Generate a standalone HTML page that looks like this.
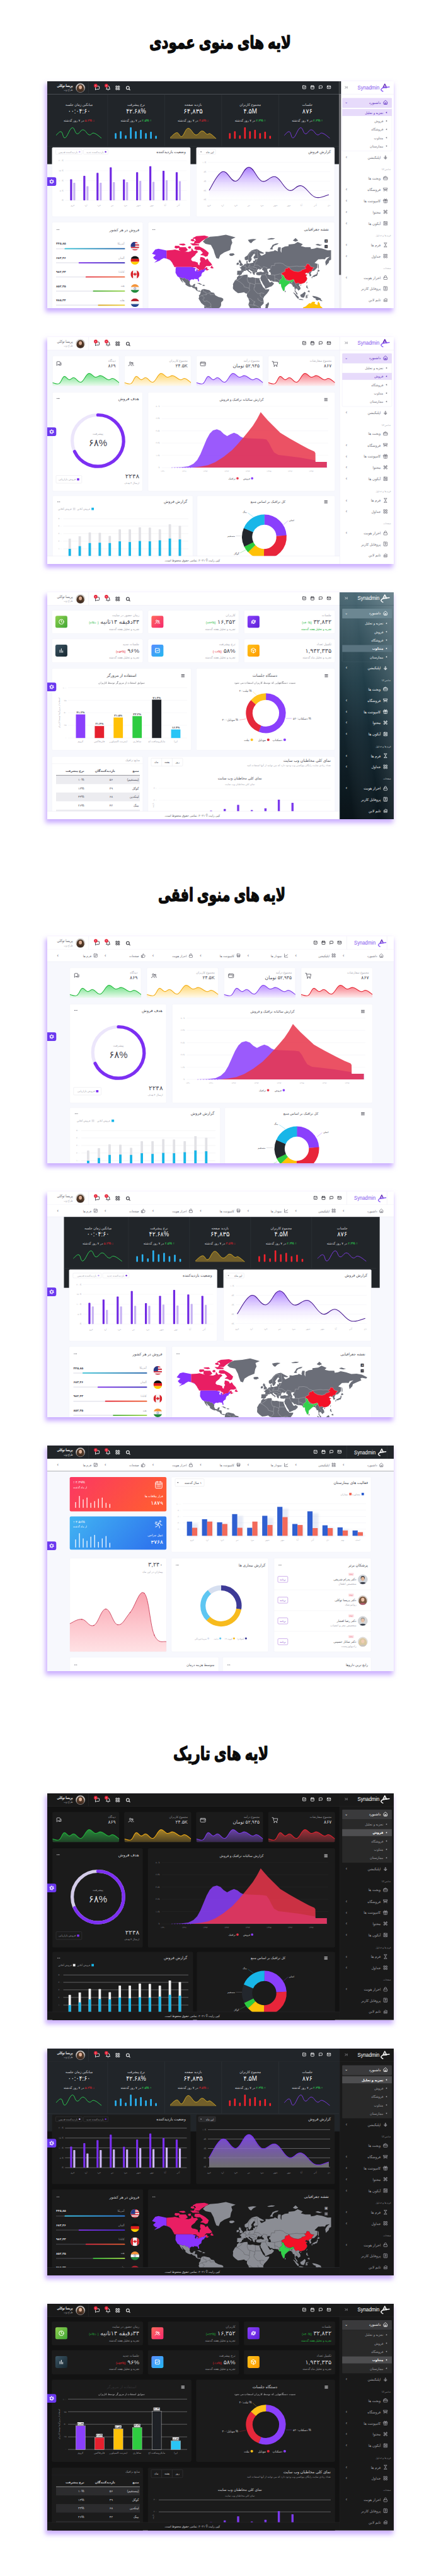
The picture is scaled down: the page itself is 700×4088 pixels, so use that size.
<!DOCTYPE html><html lang="fa"><head><meta charset="utf-8"><title>Synadmin layouts</title><style>
html,body{margin:0;padding:0;background:#fff}
body{width:700px;height:4088px;position:relative;overflow:hidden;font-family:'Liberation Sans','DejaVu Sans',sans-serif}
.h{position:absolute;left:0;top:0;width:700px;height:4088px;pointer-events:none;font-family:'Liberation Sans','DejaVu Sans',sans-serif}
.m{position:absolute;left:75px;width:550px;box-shadow:-2px 5px 7px 1px rgba(160,110,255,.55);overflow:hidden}
.m svg{display:block;font-family:'Liberation Sans','DejaVu Sans',sans-serif}
</style></head><body>
<svg class="h" width="700" height="4088" viewBox="0 0 700 4088"><text x="349.5" y="77.34" font-size="28" font-weight="bold" text-anchor="middle" fill="#0b0b0b" stroke="#0b0b0b" stroke-width="1.3" stroke-linejoin="round" textLength="225" lengthAdjust="spacingAndGlyphs">لایه های منوی عمودی</text><text x="352" y="1430.48" font-size="28.5" font-weight="bold" text-anchor="middle" fill="#0b0b0b" stroke="#0b0b0b" stroke-width="1.3" stroke-linejoin="round" textLength="202" lengthAdjust="spacingAndGlyphs">لایه های منوی افقی</text><text x="350.5" y="2792.76" font-size="29.5" font-weight="bold" text-anchor="middle" fill="#0b0b0b" stroke="#0b0b0b" stroke-width="1.3" stroke-linejoin="round" textLength="151" lengthAdjust="spacingAndGlyphs">لایه های تاریک</text></svg>
<div class="m" style="top:128.8px;height:360.5px"><svg width="550" height="360.5" viewBox="0 0 550 360.5"><rect x="0" y="0" width="550" height="360.5" fill="#f7f8fd"/>
<rect x="0" y="20.6" width="463.3" height="110.9" fill="#212529"/>
<path d="M95.8 20.6L95.8 103.2" stroke="#3a3e44" stroke-width="0.4" fill="none"/>
<path d="M186.3 20.6L186.3 103.2" stroke="#3a3e44" stroke-width="0.4" fill="none"/>
<path d="M276.9 20.6L276.9 103.2" stroke="#3a3e44" stroke-width="0.4" fill="none"/>
<path d="M367.5 20.6L367.5 103.2" stroke="#3a3e44" stroke-width="0.4" fill="none"/>
<path d="M0 103.2L463.3 103.2" stroke="#3a3e44" stroke-width="0.4" fill="none"/>
<text x="50.5" y="39.29" font-size="5.4" fill="#d6d6dc" text-anchor="middle">میانگین زمان جلسه</text>
<text x="50.5" y="51.11" font-size="10.6" fill="#f6f6f8" text-anchor="middle" textLength="35.5" lengthAdjust="spacingAndGlyphs">۰۰:۰۴:۶۰</text>
<text x="50.5" y="63.97" font-size="5.06" fill="#d6d6dc" text-anchor="middle" direction="rtl"><tspan fill="#f5222d">↓ ۵.۲%</tspan> در ۷ روز گذشته</text>
<text x="141" y="39.29" font-size="5.4" fill="#d6d6dc" text-anchor="middle">نرخ پیشرفت</text>
<text x="141" y="51.11" font-size="10.6" fill="#f6f6f8" text-anchor="middle" textLength="31.5" lengthAdjust="spacingAndGlyphs">۴۲.۶۸%</text>
<text x="141" y="63.97" font-size="5.06" fill="#d6d6dc" text-anchor="middle" direction="rtl"><tspan fill="#2ee35a">↑ ۲.۵%</tspan> در ۷ روز گذشته</text>
<text x="231.6" y="39.29" font-size="5.4" fill="#d6d6dc" text-anchor="middle">بازدید صفحه</text>
<text x="231.6" y="51.11" font-size="10.6" fill="#f6f6f8" text-anchor="middle" textLength="30.5" lengthAdjust="spacingAndGlyphs">۶۴,۸۳۵</text>
<text x="231.6" y="63.97" font-size="5.06" fill="#d6d6dc" text-anchor="middle" direction="rtl"><tspan fill="#f5222d">↓ ۳.۵%</tspan> در ۷ روز گذشته</text>
<text x="322.2" y="39.29" font-size="5.4" fill="#d6d6dc" text-anchor="middle">مجموع کاربران</text>
<text x="322.2" y="51.11" font-size="10.6" fill="#f6f6f8" text-anchor="middle" textLength="21.5" lengthAdjust="spacingAndGlyphs">۴.۵M</text>
<text x="322.2" y="63.97" font-size="5.06" fill="#d6d6dc" text-anchor="middle" direction="rtl"><tspan fill="#2ee35a">↑ ۲.۳%</tspan> در ۷ روز گذشته</text>
<text x="412.8" y="39.29" font-size="5.4" fill="#d6d6dc" text-anchor="middle">جلسات</text>
<text x="412.8" y="51.11" font-size="10.6" fill="#f6f6f8" text-anchor="middle" textLength="16" lengthAdjust="spacingAndGlyphs">۸۷۶</text>
<text x="412.8" y="63.97" font-size="5.06" fill="#d6d6dc" text-anchor="middle" direction="rtl"><tspan fill="#2ee35a">↑ ۲.۳%</tspan> در ۷ روز گذشته</text>
<path d="M14 85.8C15.76 84.52 18.85 79.14 22 80C25.15 80.86 24.47 91.06 28.3 89.7C32.13 88.34 35.2 75.21 39.4 73.8C43.6 72.39 43.55 82.6 47.4 83.3C51.25 84 52.72 76.65 56.9 77C61.08 77.35 62.55 83.73 66.4 84.9C70.25 86.07 70.07 81.11 74.4 82.3C78.73 83.49 83.53 88.54 86.1 90.3" fill="none" stroke="#2ee35a" stroke-width="0.85"/>
<path d="M376.3 85.8C378.06 84.52 381.15 79.14 384.3 80C387.45 80.86 386.77 91.06 390.6 89.7C394.43 88.34 397.5 75.21 401.7 73.8C405.9 72.39 405.85 82.6 409.7 83.3C413.55 84 415.02 76.65 419.2 77C423.38 77.35 424.85 83.73 428.7 84.9C432.55 86.07 432.37 81.11 436.7 82.3C441.03 83.49 445.83 88.54 448.4 90.3" fill="none" stroke="#8a3ffc" stroke-width="0.85"/>
<rect x="107.3" y="82.3" width="2.6" height="8.9" fill="#29b6f6" rx="0.9"/>
<rect x="288.5" y="82.3" width="2.6" height="8.9" fill="#f5222d" rx="0.9"/>
<rect x="115.3" y="79.2" width="2.6" height="12" fill="#29b6f6" rx="0.9"/>
<rect x="296.5" y="79.2" width="2.6" height="12" fill="#f5222d" rx="0.9"/>
<rect x="123.3" y="85.8" width="2.6" height="5.4" fill="#29b6f6" rx="0.9"/>
<rect x="304.5" y="85.8" width="2.6" height="5.4" fill="#f5222d" rx="0.9"/>
<rect x="131.3" y="73" width="2.6" height="18.2" fill="#29b6f6" rx="0.9"/>
<rect x="312.5" y="73" width="2.6" height="18.2" fill="#f5222d" rx="0.9"/>
<rect x="139.3" y="79.2" width="2.6" height="12" fill="#29b6f6" rx="0.9"/>
<rect x="320.5" y="79.2" width="2.6" height="12" fill="#f5222d" rx="0.9"/>
<rect x="147.3" y="77" width="2.6" height="14.2" fill="#29b6f6" rx="0.9"/>
<rect x="328.5" y="77" width="2.6" height="14.2" fill="#f5222d" rx="0.9"/>
<rect x="155.3" y="82.3" width="2.6" height="8.9" fill="#29b6f6" rx="0.9"/>
<rect x="336.5" y="82.3" width="2.6" height="8.9" fill="#f5222d" rx="0.9"/>
<rect x="163.3" y="80" width="2.6" height="11.2" fill="#29b6f6" rx="0.9"/>
<rect x="344.5" y="80" width="2.6" height="11.2" fill="#f5222d" rx="0.9"/>
<rect x="171.3" y="86.5" width="2.6" height="4.7" fill="#29b6f6" rx="0.9"/>
<rect x="352.5" y="86.5" width="2.6" height="4.7" fill="#f5222d" rx="0.9"/>
<path d="M195.1 89.5C197.2 87.9 201.9 81.9 205.6 81.5C209.3 81.1 210 88.9 213.6 87.5C217.2 86.1 219.2 75 223.6 74.5C228 74 231.2 84.14 235.6 85C240 85.86 242 79 245.6 78.8C249.2 78.6 251 83.12 253.6 84C256.2 84.88 255.7 81.8 258.6 83.2C261.5 84.6 266.2 89.44 268.1 91L268.1 91.2L195.1 91.2Z" fill="#d4a72c" opacity="0.45"/>
<path d="M195.1 89.5C197.2 87.9 201.9 81.9 205.6 81.5C209.3 81.1 210 88.9 213.6 87.5C217.2 86.1 219.2 75 223.6 74.5C228 74 231.2 84.14 235.6 85C240 85.86 242 79 245.6 78.8C249.2 78.6 251 83.12 253.6 84C256.2 84.88 255.7 81.8 258.6 83.2C261.5 84.6 266.2 89.44 268.1 91" fill="none" stroke="#e8b923" stroke-width="0.8"/>
<rect x="7.7" y="105" width="219.5" height="109.8" fill="#ffffff" rx="1.6" stroke="#ececf4" stroke-width="0.3"/>
<rect x="236.7" y="105" width="219.3" height="109.8" fill="#ffffff" rx="1.6" stroke="#ececf4" stroke-width="0.3"/>
<text x="219.8" y="114.09" font-size="5.98" fill="#4a4a54" text-anchor="end">وضعیت بازدیدکننده</text>
<rect x="13.4" y="108.1" width="41.9" height="7.7" fill="none" rx="1.2" stroke="#dddde6" stroke-width="0.4"/>
<circle cx="51.3" cy="112" r="1.25" fill="#c4b0f4"/>
<text x="48.3" y="113.55" font-size="4.14" fill="#a6a6b0" text-anchor="end">بازدیدکننده قدیمی</text>
<rect x="57.5" y="108.1" width="39.1" height="7.7" fill="none" rx="1.2" stroke="#dddde6" stroke-width="0.4"/>
<circle cx="92.6" cy="112" r="1.25" fill="#6d28d9"/>
<text x="89.6" y="113.55" font-size="4.14" fill="#a6a6b0" text-anchor="end">بازدیدکننده جدید</text>
<path d="M28.3 126.2L221.5 126.2" stroke="#ececf1" stroke-width="0.35" fill="none"/>
<text x="26" y="127.45" font-size="3.56" fill="#b8b8c2" text-anchor="end">۲۰۰K</text>
<path d="M28.3 141.9L221.5 141.9" stroke="#ececf1" stroke-width="0.35" fill="none"/>
<text x="26" y="143.15" font-size="3.56" fill="#b8b8c2" text-anchor="end">۱۵۰K</text>
<path d="M28.3 157.6L221.5 157.6" stroke="#ececf1" stroke-width="0.35" fill="none"/>
<text x="26" y="158.85" font-size="3.56" fill="#b8b8c2" text-anchor="end">۱۰۰K</text>
<path d="M28.3 173.3L221.5 173.3" stroke="#ececf1" stroke-width="0.35" fill="none"/>
<text x="26" y="174.55" font-size="3.56" fill="#b8b8c2" text-anchor="end">۵۰K</text>
<path d="M28.3 189L221.5 189" stroke="#ececf1" stroke-width="0.35" fill="none"/>
<text x="26" y="190.25" font-size="3.56" fill="#b8b8c2" text-anchor="end">۰K</text>
<rect x="36.3" y="155.4" width="3.2" height="33.6" fill="#7129e3" rx="0.8"/>
<rect x="41.3" y="161" width="3.2" height="28" fill="#c7b2f3" rx="0.8"/>
<text x="40.4" y="198.49" font-size="3.68" fill="#b8b8c2" text-anchor="middle">فرو</text>
<rect x="57.25" y="150" width="3.2" height="39" fill="#7129e3" rx="0.8"/>
<rect x="62.25" y="166.5" width="3.2" height="22.5" fill="#c7b2f3" rx="0.8"/>
<text x="61.35" y="198.49" font-size="3.68" fill="#b8b8c2" text-anchor="middle">ارد</text>
<rect x="78.2" y="145.2" width="3.2" height="43.8" fill="#7129e3" rx="0.8"/>
<rect x="83.2" y="161" width="3.2" height="28" fill="#c7b2f3" rx="0.8"/>
<text x="82.3" y="198.49" font-size="3.68" fill="#b8b8c2" text-anchor="middle">خرد</text>
<rect x="99.15" y="136.6" width="3.2" height="52.4" fill="#7129e3" rx="0.8"/>
<rect x="104.15" y="160" width="3.2" height="29" fill="#c7b2f3" rx="0.8"/>
<text x="103.25" y="198.49" font-size="3.68" fill="#b8b8c2" text-anchor="middle">تیر</text>
<rect x="120.1" y="155.7" width="3.2" height="33.3" fill="#7129e3" rx="0.8"/>
<rect x="125.1" y="160" width="3.2" height="29" fill="#c7b2f3" rx="0.8"/>
<text x="124.2" y="198.49" font-size="3.68" fill="#b8b8c2" text-anchor="middle">مرد</text>
<rect x="141.05" y="144.3" width="3.2" height="44.7" fill="#7129e3" rx="0.8"/>
<rect x="146.05" y="158" width="3.2" height="31" fill="#c7b2f3" rx="0.8"/>
<text x="145.15" y="198.49" font-size="3.68" fill="#b8b8c2" text-anchor="middle">شهر</text>
<rect x="162" y="134.7" width="3.2" height="54.3" fill="#7129e3" rx="0.8"/>
<rect x="167" y="159.5" width="3.2" height="29.5" fill="#c7b2f3" rx="0.8"/>
<text x="166.1" y="198.49" font-size="3.68" fill="#b8b8c2" text-anchor="middle">مهر</text>
<rect x="182.95" y="142" width="3.2" height="47" fill="#7129e3" rx="0.8"/>
<rect x="187.95" y="157" width="3.2" height="32" fill="#c7b2f3" rx="0.8"/>
<text x="187.05" y="198.49" font-size="3.68" fill="#b8b8c2" text-anchor="middle">آبا</text>
<rect x="203.9" y="144.3" width="3.2" height="44.7" fill="#7129e3" rx="0.8"/>
<rect x="208.9" y="158.5" width="3.2" height="30.5" fill="#c7b2f3" rx="0.8"/>
<text x="208" y="198.49" font-size="3.68" fill="#b8b8c2" text-anchor="middle">آذر</text>
<text x="450.2" y="114.09" font-size="5.98" fill="#4a4a54" text-anchor="end">گزارش فروش</text>
<rect x="240.2" y="108" width="27" height="8" fill="none" rx="1.2" stroke="#dddde6" stroke-width="0.4"/>
<text x="264.5" y="113.69" font-size="4.25" fill="#4a4a54" text-anchor="end">این ماه</text>
<path d="M243 111.5l2.2 0 -1.1 1.4z" fill="#4a4a54"/>
<path d="M255 128.7L449 128.7" stroke="#ececf1" stroke-width="0.35" fill="none"/>
<text x="252.5" y="129.95" font-size="3.56" fill="#b8b8c2" text-anchor="end">۱۰K</text>
<path d="M255 143.6L449 143.6" stroke="#ececf1" stroke-width="0.35" fill="none"/>
<text x="252.5" y="144.85" font-size="3.56" fill="#b8b8c2" text-anchor="end">۸K</text>
<path d="M255 158.5L449 158.5" stroke="#ececf1" stroke-width="0.35" fill="none"/>
<text x="252.5" y="159.75" font-size="3.56" fill="#b8b8c2" text-anchor="end">۶K</text>
<path d="M255 173.3L449 173.3" stroke="#ececf1" stroke-width="0.35" fill="none"/>
<text x="252.5" y="174.55" font-size="3.56" fill="#b8b8c2" text-anchor="end">۴K</text>
<path d="M255 188.2L449 188.2" stroke="#ececf1" stroke-width="0.35" fill="none"/>
<text x="252.5" y="189.45" font-size="3.56" fill="#b8b8c2" text-anchor="end">۲K</text>
<linearGradient id="gam1" x1="0" y1="0" x2="0" y2="1"><stop offset="0" stop-color="#8b4dff" stop-opacity="0.75"/><stop offset="1" stop-color="#ffffff" stop-opacity="0.05"/></linearGradient>
<path d="M257 173C261.2 167.12 269.52 146.5 278 143.6C286.48 140.7 291 159.96 299.4 158.5C307.8 157.04 311.74 136.3 320 136.3C328.26 136.3 332.24 155.44 340.7 158.5C349.16 161.56 353.72 148.7 362.3 151.6C370.88 154.5 375.4 170.16 383.6 173C391.8 175.84 394.92 163.6 403.3 165.8C411.68 168 416.76 181.16 425.5 184C434.24 186.84 442.7 180.8 447 180L447 188.2L257 188.2Z" fill="url(#gam1)"/>
<path d="M257 173C261.2 167.12 269.52 146.5 278 143.6C286.48 140.7 291 159.96 299.4 158.5C307.8 157.04 311.74 136.3 320 136.3C328.26 136.3 332.24 155.44 340.7 158.5C349.16 161.56 353.72 148.7 362.3 151.6C370.88 154.5 375.4 170.16 383.6 173C391.8 175.84 394.92 163.6 403.3 165.8C411.68 168 416.76 181.16 425.5 184C434.24 186.84 442.7 180.8 447 180" fill="none" stroke="#45168f" stroke-width="1.05"/>
<text x="257" y="197.69" font-size="3.68" fill="#b8b8c2" text-anchor="middle">فرو</text>
<text x="278" y="197.69" font-size="3.68" fill="#b8b8c2" text-anchor="middle">ارد</text>
<text x="299.4" y="197.69" font-size="3.68" fill="#b8b8c2" text-anchor="middle">خرد</text>
<text x="320" y="197.69" font-size="3.68" fill="#b8b8c2" text-anchor="middle">تیر</text>
<text x="340.7" y="197.69" font-size="3.68" fill="#b8b8c2" text-anchor="middle">مرد</text>
<text x="362.3" y="197.69" font-size="3.68" fill="#b8b8c2" text-anchor="middle">شهر</text>
<text x="383.6" y="197.69" font-size="3.68" fill="#b8b8c2" text-anchor="middle">مهر</text>
<text x="403.3" y="197.69" font-size="3.68" fill="#b8b8c2" text-anchor="middle">آبا</text>
<text x="425.5" y="197.69" font-size="3.68" fill="#b8b8c2" text-anchor="middle">آذر</text>
<text x="447" y="197.69" font-size="3.68" fill="#b8b8c2" text-anchor="middle">دی</text>
<rect x="7.7" y="223.7" width="144" height="160" fill="#ffffff" rx="1.6" stroke="#ececf4" stroke-width="0.3"/>
<text x="146" y="237.59" font-size="5.98" fill="#4a4a54" text-anchor="end">فروش در هر کشور</text>
<circle cx="15.3" cy="235.3" r="0.55" fill="#4a4a54"/>
<circle cx="17" cy="235.3" r="0.55" fill="#4a4a54"/>
<circle cx="18.7" cy="235.3" r="0.55" fill="#4a4a54"/>
<text x="122.6" y="259.27" font-size="4.48" fill="#a6a6b0" text-anchor="end">آمریکا</text>
<text x="14" y="259.35" font-size="4.71" fill="#4a4a54" text-anchor="start" font-weight="bold">۴۴۵,۸۵</text>
<path d="M14 265.7L122.6 265.7" stroke="#e6e6ee" stroke-width="1.5" fill="none"/>
<linearGradient id="gcm10" gradientUnits="userSpaceOnUse" x1="28.3" y1="0" x2="122.6" y2="0"><stop offset="0" stop-color="#3ac3d6"/><stop offset="1" stop-color="#1f5fa8"/></linearGradient>
<path d="M28.3 265.7L122.6 265.7" stroke="url(#gcm10)" stroke-width="1.7" stroke-linecap="round"/>
<clipPath id="flm10"><circle cx="139.2" cy="261.7" r="6.9"/></clipPath><g clip-path="url(#flm10)">
<rect x="132.3" y="254.8" width="13.8" height="13.8" fill="#f5f5f5"/>
<rect x="132.3" y="254.8" width="13.8" height="1.97" fill="#d32f3f"/>
<rect x="132.3" y="258.74" width="13.8" height="1.97" fill="#d32f3f"/>
<rect x="132.3" y="262.69" width="13.8" height="1.97" fill="#d32f3f"/>
<rect x="132.3" y="266.63" width="13.8" height="1.97" fill="#d32f3f"/>
<rect x="132.3" y="254.8" width="7.25" height="7.93" fill="#283a86"/>
</g>
<text x="122.6" y="281.67" font-size="4.48" fill="#a6a6b0" text-anchor="end">آلمان</text>
<text x="14" y="281.75" font-size="4.71" fill="#4a4a54" text-anchor="start" font-weight="bold">۶۸۳,۴۶</text>
<path d="M14 288.1L122.6 288.1" stroke="#e6e6ee" stroke-width="1.5" fill="none"/>
<linearGradient id="gcm11" gradientUnits="userSpaceOnUse" x1="50.6" y1="0" x2="122.6" y2="0"><stop offset="0" stop-color="#7a2fe8"/><stop offset="1" stop-color="#3528b8"/></linearGradient>
<path d="M50.6 288.1L122.6 288.1" stroke="url(#gcm11)" stroke-width="1.7" stroke-linecap="round"/>
<clipPath id="flm11"><circle cx="139.2" cy="284.1" r="6.9"/></clipPath><g clip-path="url(#flm11)">
<rect x="132.3" y="277.2" width="13.8" height="4.6" fill="#111"/>
<rect x="132.3" y="281.8" width="13.8" height="4.6" fill="#dd1c1c"/>
<rect x="132.3" y="286.4" width="13.8" height="4.6" fill="#ffce00"/>
</g>
<text x="122.6" y="304.07" font-size="4.48" fill="#a6a6b0" text-anchor="end">کانادا</text>
<text x="14" y="304.15" font-size="4.71" fill="#4a4a54" text-anchor="start" font-weight="bold">۹۸۲,۴۳</text>
<path d="M14 310.5L122.6 310.5" stroke="#e6e6ee" stroke-width="1.5" fill="none"/>
<linearGradient id="gcm12" gradientUnits="userSpaceOnUse" x1="61.7" y1="0" x2="122.6" y2="0"><stop offset="0" stop-color="#e5202e"/><stop offset="1" stop-color="#f05a28"/></linearGradient>
<path d="M61.7 310.5L122.6 310.5" stroke="url(#gcm12)" stroke-width="1.7" stroke-linecap="round"/>
<clipPath id="flm12"><circle cx="139.2" cy="306.5" r="6.9"/></clipPath><g clip-path="url(#flm12)">
<rect x="132.3" y="299.6" width="13.8" height="13.8" fill="#f5f5f5"/>
<rect x="132.3" y="299.6" width="3.8" height="13.8" fill="#d8232a"/>
<rect x="142.3" y="299.6" width="3.8" height="13.8" fill="#d8232a"/>
<path d="M139.2 303.3l1.4 2.2 1.8 -0.4 -1 2 -1.6 0.6 -0.6 1.6 -0.6 -1.6 -1.6 -0.6 -1 -2 1.8 0.4z" fill="#d8232a"/>
</g>
<text x="122.6" y="326.47" font-size="4.48" fill="#a6a6b0" text-anchor="end">هند</text>
<text x="14" y="326.55" font-size="4.71" fill="#4a4a54" text-anchor="start" font-weight="bold">۸۵۲,۳۵</text>
<path d="M14 332.9L122.6 332.9" stroke="#e6e6ee" stroke-width="1.5" fill="none"/>
<linearGradient id="gcm13" gradientUnits="userSpaceOnUse" x1="73.4" y1="0" x2="122.6" y2="0"><stop offset="0" stop-color="#4caf38"/><stop offset="1" stop-color="#9bd64a"/></linearGradient>
<path d="M73.4 332.9L122.6 332.9" stroke="url(#gcm13)" stroke-width="1.7" stroke-linecap="round"/>
<clipPath id="flm13"><circle cx="139.2" cy="328.9" r="6.9"/></clipPath><g clip-path="url(#flm13)">
<rect x="132.3" y="322" width="13.8" height="4.6" fill="#f4943a"/>
<rect x="132.3" y="326.6" width="13.8" height="4.6" fill="#f5f5f5"/>
<rect x="132.3" y="331.2" width="13.8" height="4.6" fill="#1f8a3b"/>
<circle cx="139.2" cy="328.9" r="1.5" fill="none" stroke="#283a86" stroke-width="0.5"/>
</g>
<text x="122.6" y="348.87" font-size="4.48" fill="#a6a6b0" text-anchor="end">هلند</text>
<text x="14" y="348.95" font-size="4.71" fill="#4a4a54" text-anchor="start" font-weight="bold">۷۸۵,۳۴</text>
<path d="M14 355.3L122.6 355.3" stroke="#e6e6ee" stroke-width="1.5" fill="none"/>
<linearGradient id="gcm14" gradientUnits="userSpaceOnUse" x1="81.3" y1="0" x2="122.6" y2="0"><stop offset="0" stop-color="#d9a520"/><stop offset="1" stop-color="#f0d23c"/></linearGradient>
<path d="M81.3 355.3L122.6 355.3" stroke="url(#gcm14)" stroke-width="1.7" stroke-linecap="round"/>
<clipPath id="flm14"><circle cx="139.2" cy="351.3" r="6.9"/></clipPath><g clip-path="url(#flm14)">
<rect x="132.3" y="344.4" width="13.8" height="4.6" fill="#b4202d"/>
<rect x="132.3" y="349" width="13.8" height="4.6" fill="#f5f5f5"/>
<rect x="132.3" y="353.6" width="13.8" height="4.6" fill="#25468f"/>
</g>
<rect x="160.2" y="223.7" width="295.8" height="160" fill="#ffffff" rx="1.6" stroke="#ececf4" stroke-width="0.3"/>
<text x="447" y="237.39" font-size="5.98" fill="#4a4a54" text-anchor="end">نقشه جغرافیایی</text>
<circle cx="167.5" cy="235.3" r="0.55" fill="#4a4a54"/>
<circle cx="169.2" cy="235.3" r="0.55" fill="#4a4a54"/>
<circle cx="170.9" cy="235.3" r="0.55" fill="#4a4a54"/>
<clipPath id="mcm1"><rect x="161.5" y="241" width="289" height="150"/></clipPath>
<g clip-path="url(#mcm1)">
<path d="M209.48 311.37L211.52 311.37L214.75 312.51L218.58 312.04L220.28 314.18L222.83 313.91L224.53 316.03L226.4 317.4L225.97 320.55L227.5 323.66L228.78 324.36L231.33 324.1L232.18 321.89L235.15 321.44L234.3 324.54L233.88 326.29L237.7 326.46L238.3 329.75L238.04 331.47L240.25 332.5L241.95 331.9L243.4 333.19L242.8 333.87L241.1 333.78L238.55 332.93L236.26 331.47L234.73 328.89L231.33 328.02L229.2 326.11L226.65 326.46L223.25 325.24L219.43 322.77L219.43 320.55L216.45 317.85L213.48 314.18L211.78 312.32L213.05 313.72L215.18 318.3L216.03 320.11L213.9 318.3L211.78 315.57L210.93 313.72L209.48 311.37ZM236.85 321L241.1 320.11L245.35 322.33L245.95 322.77L243.06 322.86L239.4 321L236.85 321ZM245.86 324.19L247.9 322.86L250.88 324.1L248.75 324.71L245.86 324.19ZM243.4 333.19L245.35 330.61L247.9 329.75L249.6 329.75L254.7 331.04L257.25 331.47L260.65 334.89L264.9 335.75L266.6 339.57L271.7 342.13L276.8 343.4L279.35 345.11L279.35 347.67L275.95 351.11L275.95 355.46L274.25 359L270.85 360.61L267.88 362.6L267.71 364.89L263.62 370.05L259.8 370.53L260.65 373.93L256.4 374.92L253.85 376.93L255.13 378.45L253.43 381.05L251.73 382.64L253 384.25L250.45 387.56L250.88 389.83L253.43 392.17L249.6 392.76L246.2 389.26L244.93 384.25L247.05 377.94L246.63 372.95L248.33 368.15L249.18 361.7L249.43 355.9L244.5 351.98L240.25 345.11L241.1 342.13L240.68 340L242.38 338.3L243.4 335.75L243.4 333.19ZM247.05 254.53L251.3 258.11L259.8 259.83L264.05 267.86L265.75 273.7L268.3 280.43L272.12 281.71L274.68 275.78L281.05 271.56L290.4 267.86L291.68 260.67L293.8 256.34L292.1 250.76L298.9 247.79L283.6 243.61L270.85 245.73L258.1 246.77L251.3 249.78L247.05 254.53ZM288.7 274.4L290.4 273.14L295.5 273L297.62 275.1L293.38 277.27L289.98 276.73L288.7 274.4ZM294.65 327.42L295.08 323.66L294.65 321.89L298.05 315.85L300.86 313.72L301.2 310.9L304 308.22L307.4 308.8L311.65 307.15L317.6 306.85L318.45 309.95L317.6 310.43L321.85 311.47L326.1 311.09L330.35 312.04L336.3 312.6L338.17 312.6L336.73 313.81L338.85 319.21L340.55 322.77L342.68 326.72L345.65 329.32L345.91 330.18L352.45 329.92L352.03 332.33L349.05 336.6L344.38 341.53L342.68 345.11L343.53 348.96L343.53 352.84L338.85 357.23L339.28 360.79L336.98 362.6L335.45 366.09L332.05 369.86L326.1 370.82L324.66 370.05L323.98 366.28L321.85 362.6L321.43 359L319.13 354.59L320.83 349.39L319.3 344.68L316.75 340.85L317.18 337.02L314.2 336.34L312.5 334.64L307.4 335.75L302.73 336.26L298.05 332.76L294.91 329.49L294.65 327.42ZM351 350.25L352.03 353.28L349.48 361.24L347.35 362.15L346.08 359.89L346.67 356.78L346.5 354.59L349.05 352.84L351 350.25ZM301.03 307.05L301.45 305.38L301.62 300.72L307.57 300.62L308.08 297.9L305.11 295.42L307.83 294.99L307.57 293.89L310.46 292.55L312.5 291.31L313.35 289.82L316.33 289.47L316.07 285.68L318.03 284.58L318.03 289.01L321 289.01L324.83 288.19L326.95 287.83L326.95 284.83L329.75 285.2L329.08 282.72L332.9 282.35L334.6 281.71L332.9 281.07L328.23 281.71L327.21 279.13L330.35 275.1L327.8 273.98L323.98 279.13L323.55 280.43L324.83 281.71L323.12 285.44L321.25 287.24L319.98 287.24L318.45 282.97L315.9 284.21L313.52 282.97L313.35 279.13L317.6 276.46L321 271.56L324.4 268.61L328.65 267.09L332.9 266.32L335.45 267.86L337.15 268.91L343.95 272.28L343.1 273.7L338.85 273.28L337.15 272.71L338.85 276.06L340.55 276.73L343.1 275.51L346.5 273.7L346.5 270.4L351.6 270.84L355 270.1L360.1 269.36L360.95 267.86L366.05 270.1L365.62 267.09L366.9 263.15L370.73 263.47L370.3 269.36L371.58 272.28L372 264.75L377.1 262.33L383.05 261.51L383.05 258.97L392.4 258.11L397.5 255.08L405.58 258.45L402.6 261.51L409.4 263.15L417.9 263.15L418.75 266.32L423.85 265.54L428.1 263.96L436.6 265.54L445.1 268.31L453.6 267.86L462.1 269.36L470.6 273.7L468.9 275.78L462.1 274.4L459.55 275.78L461.25 278.47L453.6 281.71L447.65 284.46L446.8 288.07L442.3 292.44L441.27 286.64L442.55 284.21L445.1 281.07L448.5 278.47L442.55 279.78L440.85 282.6L436.6 282.35L430.23 282.6L424.28 288.19L428.95 289.82L428.53 295.75L423.85 300.52L420.45 301.34L419.18 302.57L417.9 305.57L419.18 307.05L418.75 308.99L416.62 309.47L416.2 307.05L414.93 304.28L412.38 305.08L412.8 303.58L409.4 305.08L410.25 306.56L413.23 307.05L410.68 308.99L412.63 312.79L411.95 315.57L408.55 319.66L405.58 320.82L402.6 321.71L400.9 321.44L399.2 323.22L401.58 326.72L402 329.75L399.62 331.47L398.35 332.59L398.18 331.04L396.23 329.58L394.87 328.54L394.1 329.75L393.68 332.33L396.99 336.6L397.5 338.81L395.21 337.62L394.36 334.89L392.66 333.19L393 330.61L391.98 325.85L390.28 326.46L389.25 324.1L387.3 321.44L386.03 321L383.05 321.44L381.35 322.95L377.27 326.72L377.1 328.89L376.93 331.21L374.98 333.19L373.7 331.04L371.58 326.29L370.98 323.22L370.73 321.44L368.6 322.07L367.75 320.73L366.05 318.49L361.8 318.12L357.81 317.76L357.12 316.49L354.15 316.76L351.6 313.72L349.9 313.72L352.28 317.85L352.88 318.94L355 319.03L356.96 317.4L357.12 318.76L359.93 320.55L358.83 322.77L355.85 325.41L353.3 326.29L347.35 329.06L345.91 328.89L345.23 325.85L342.25 321.44L340.55 317.85L338.85 315.57L338.77 314.18L338.17 312.6L339.53 308.99L339.7 307.25L336.73 307.93L335.03 307.73L332.31 307.34L331.46 305.57L331.88 303.68L333.75 303.07L335.88 302.87L339.28 302.06L341.4 303.07L344.38 302.57L343.1 300.52L340.55 298.74L342.25 296.51L338.85 298.11L337.58 299.48L336.13 297.36L334.6 298.43L332.9 300.52L333.33 302.57L331.2 303.28L329.25 303.88L329.5 306.07L328.4 307.54L326.95 306.07L325.68 303.58L325.68 302.06L322.28 300L321 298.64L319.56 298.64L319.73 300L322.28 302.06L324.83 303.88L323.55 304.58L322.7 306.07L322.45 304.08L319.56 302.26L317.86 300.52L316.58 299.58L314.2 300.93L311.82 300.83L311.82 302.26L309.1 304.08L308.93 305.57L307.4 307.25L304.6 307.93L303.58 307.05L301.03 307.05ZM304.43 293.56L310.21 292.22L310.55 290.4L308.93 289.01L307.4 286.64L307.57 284.71L305.7 284.58L306.55 283.47L304.85 283.47L303.83 286.04L305.02 288.07L306.55 289.01L305.11 290.17L305.53 291.54L304.6 291.65L306.55 292.1L304.43 293.56ZM300.6 291.54L303.83 291.08L304 289.01L304.43 288.42L302.9 287.48L300.6 288.77L300.6 291.54ZM420.28 310.14L423.85 310.43L425.55 309.28L428.1 308.8L429.38 305.57L429.38 303.07L428.1 303.07L427.68 306.07L425.12 307.05L422.15 308.51L420.28 310.14ZM428.1 302.06L430.65 302.06L432.78 300.72L429.8 298.43L429.38 300.72L428.1 302.06ZM419.6 310.43L421.13 310.43L420.45 312.51L419.77 312.51L419.6 310.43ZM429.8 288.66L430.91 291.31L431.08 294.66L430.48 297.9L429.8 296.29L429.8 293.56L429.8 288.66ZM412.38 318.12L412.8 318.76L411.78 321L411.27 320.11L412.38 318.12ZM401.5 323.22L403.28 322.77L403.03 324.1L401.75 324.27L401.5 323.22ZM377.1 331.73L378.63 333.61L377.53 334.89L376.93 333.61L377.1 331.73ZM411.53 324.1L412.97 324.27L412.8 326.29L414.5 328.89L412.38 328.2L411.1 327.16L411.53 324.1ZM412.8 333.19L415.78 331.64L416.62 334.04L415.61 334.89L414.5 334.04L412.8 333.19ZM401.75 338.72L403.88 337.87L406 336.17L408.55 334.04L410.25 335.75L409.23 339.15L407.7 342.98L406 343.4L403.03 342.55L401.75 340.43L401.75 338.72ZM390.11 335.24L391.98 335.58L397.5 340.85L399.2 342.55L399.03 344.94L397.5 344.68L394.53 341.28L392.83 338.3L390.11 335.24ZM398.78 345.79L400.9 345.53L403.45 345.79L406.43 346.56L406.25 347.33L402.6 346.99L399.62 346.39L398.78 345.79ZM410.68 339.57L411.95 338.98L415.35 338.64L413.65 339.74L411.53 340L412.38 341.53L413.91 340.85L412.8 342.55L413.23 344.25L412.38 344L411.53 342.38L411.36 344.68L410.68 344.51L410.25 342.55L410.68 339.57ZM420.45 340.85L423 340.68L426.4 341.53L428.95 342.21L432.35 343.83L434.73 345.11L434.05 345.96L437.03 348.96L434.05 348.53L431.5 346.64L428.95 347.67L426.4 347.07L426.23 344.68L423 343.4L421.98 342.38L420.45 340.85ZM432.1 376.72L435.07 376.82L434.9 378.97L433.2 379.59L432.35 378.45L432.1 376.72ZM455.89 370.53L457.43 372.46L458.7 373.44L460.83 373.64L459.55 375.42L458.02 377.53L457.68 375.72L456.83 375.22L457.6 373.24L455.89 370.53ZM455.89 376.42L457.25 377.74L454.45 380.52L454.02 382.1L452.16 382.74L450.62 382.1L451.9 380.21L454.2 378.66L455.89 376.42ZM353.3 266.32L355.85 263.15L357.55 259.83L362.65 257.58L367.33 256.88L365.2 258.97L360.1 260.67L357.55 263.96L357.98 266.79L355 266.63L353.3 266.32ZM318.45 251.72L322.7 250.76L326.95 250.18L332.05 250.76L326.95 253.61L323.55 256.88L321 255.44L318.45 251.72ZM389.85 252.67L394.1 248.79L398.35 252.67L394.1 254.53L389.85 252.67ZM425.55 258.97L429.8 258.11L433.2 259.32L436.6 259.83L432.35 261.01L428.1 260.34L425.55 258.97ZM349.05 250.37L355.85 248.79L361.8 249.19L358.4 250.76L351.6 251.15Z" fill="#6b6e78"/>
<path d="M349.05 298.43L352.45 297.04L354.15 298.95L352.45 299.48L351.86 302.57L353.73 302.57L354.83 305.08L354.83 307.05L352.45 307.34L350.75 306.56L351.18 304.08L349.48 301.03L349.05 298.43Z" fill="#ffffff"/>
<path d="M332.9 266.32L333.33 273.7L334.6 279.13L332.9 282.35L332.48 284.83L329.5 289.01L329.08 291.88L334.6 291.88L341.4 296.83L343.1 294.11L349.05 295.75L349.05 298.43M354.15 298.95L355.85 292.44L360.95 292.44L360.95 289.01L369.45 288.42L374.55 289.59L377.53 292.44L383.48 294.66M383.48 294.66L392.4 293.56L396.65 293.22L400.05 293.89L405.15 293.56L407.7 293.78M423.43 295.42L420.45 298.95L420.03 301.24M346.93 304.38L349.9 305.57L354.83 307.05L360.95 307.54L360.95 312.79L361.8 318.12M346.93 304.38L346.5 307.05L349.9 313.72M339.7 307.25L344.8 306.85L346.5 307.05M360.95 307.54L365.2 306.66L369.45 305.67L372.85 307.05M360.95 312.79L365.2 313.91L368.18 316.49M391.81 315.85L392.83 318.76M387.56 318.49L389.25 324.1M394.95 321.44L394.1 322.77L396.23 324.97L398.35 327.59L396.23 329.58M330.35 312.04L330.35 321L329.5 322.77L329.5 326.72L328.23 326.72M330.35 321L340.12 321M318.45 309.95L317.18 313.72L319.3 319.66L321.85 320.11L329.5 322.77M301.45 315.85L305.7 318.3L311.65 323.22L312.67 326.29L320.58 328.46L321.85 320.11M298.05 315.85L301.45 315.85L300.86 313.72M311.65 307.15L307.4 311.85L301.45 315.85M320.58 328.46L321.43 331.47L317.18 337.02M328.23 326.72L328.23 330.61L332.48 335.75L335.03 337.02L338 336.43L339.28 335.75L344.38 336.6M319.3 344.68L322.7 344.94L327.8 349.39L329.5 349.39L329.5 351.11L327.8 351.11L327.8 355.29L330.35 355.29M334.18 343.83L335.03 347.07L338 348.1L338.85 349.82L343.53 348.96M338 336.43L338 340.85L342.68 344M319.13 354.59L330.35 355.29L337.15 359.18L336.98 362.6M326.1 359L326.1 364.89L323.98 364.89M249.43 355.9L251.3 356.34L252.15 359.72L249.18 361.7M252.15 359.72L256.4 359L259.8 357.23L260.23 361.7L262.78 362.15L260.23 366.28L259.8 370.05M250.03 349.39L253.43 348.53L258.1 351.54L259.8 353.98L259.8 357.23M241.1 342.13L245.18 340L249.6 343.66L247.05 346.22L249.18 349.39L250.03 349.39M245.18 340L249.6 338.72L252.15 338.98L252.15 334.89L247.9 333.7L247.48 330.61M252.15 338.98L254.7 336.6L257.68 335.58L260.65 334.89M257.68 335.58L258.95 338.89L264.9 338.04L264.9 335.75M230.9 324.71L231.75 326.29L233.88 326.29M307.4 300.62L311.82 301.55M310.46 292.55L314.2 294.11L315.9 294.66L315.48 296.29L314.2 297.9L315.05 300M316.33 289.47L314.2 292.44L314.2 294.11M321 289.01L321.85 292.44L319.3 293.22L320.58 295.1L323.55 294.88L327.8 294.66L329.08 291.88M320.58 295.1L317.18 296.29L315.48 296.29M320.58 297.36L323.12 297.36L325.25 297.9L326.95 297.9L327.8 299.48L333.33 300M327.8 294.66L328.23 295.75L331.62 295.42L332.9 298.43L334.6 298.43M326.1 302.06L328.23 301.75L331.2 302.36L331.2 303.28M319.3 286.64L319.73 281.71L319.3 277.14L322.7 270.84L326.1 269.36L330.35 269.36M330.35 269.36L329.5 273.7L327.8 273.98" fill="none" stroke="#ffffff" stroke-width="0.3" opacity="0.8"/>
<path d="M189.25 268.46L198.6 267.86L202.85 267.09L211.35 269.36L217.3 270.1L224.1 270.84L228.35 269.36L229.2 264.75L232.6 269.36L236.85 268.61L239.4 270.84L236 273.7L234.3 276.46L229.2 280.43L228.35 283.35L230.48 285.44L234.3 286.04L238.98 287.83L239.4 290.74L241.53 291.88L241.95 288.42L243.65 286.04L242.38 283.6L243.23 278.74L246.63 279.13L249.6 280.43L251.3 283.6L254.28 281.33L256.83 285.44L259.8 288.42L261.75 291.31L258.1 293.33L252.58 293.33L249.6 296.29L253.85 294.88L254.28 297.9L257.25 298.43L253 300.52L252.15 298.95L250.28 296.4L248.33 298.95L245.35 298.95L241.95 300.52L238.55 302.06L238.98 298.64L237.28 297.36L233.88 295.53L228.35 294.66L204.55 294.66L202.85 293.56L200.3 291.88L198.18 287.83L194.35 282.97L189.25 281.33ZM241.1 262L247.9 265.54L251.3 267.86L256.4 272.28L254.7 277.14L251.3 278.47L247.9 276.46L242.8 275.78L247.05 272.28L242.8 267.86L236.85 267.86L233.45 266.32L234.3 262.33L241.1 262ZM209.65 263.15L219.85 263.15L223.25 267.86L219.85 270.1L213.05 270.1L208.8 267.86L209.65 263.15ZM232.6 257.23L241.1 257.23L245.35 253.61L256.4 246.77L249.6 244.68L236.85 245.73L230.9 248.79L234.3 253.61L232.6 257.23ZM202.85 261.01L209.65 261.17L210.5 263.96L204.55 265.54L202 263.96L202.85 261.01ZM226.65 257.23L230.9 260.5L241.1 260.5L241.1 258.63L233.45 257.23L226.65 257.23ZM258.7 295.97L261.5 291.88L261.93 294.11L264.31 296.29L261.93 297.04L258.7 295.97ZM209.65 258.11L217.3 257.58L219.85 259.83L215.6 260.67L209.65 259.32ZM224.1 262.33L227.5 261.84L228.35 264.75L225.8 265.85L223.25 264.28ZM228.35 250.76L234.3 249.78L236 252.67L230.9 253.98L227.5 252.67ZM200.3 292.66L202.85 293.22L204.13 295.32L202.43 294.88Z" fill="#e91e63"/>
<path d="M204.55 294.66L228.35 294.66L233.88 295.53L237.28 297.36L238.98 298.64L238.55 302.06L241.95 300.52L245.35 298.95L248.33 298.95L250.28 296.4L252.15 298.95L249.6 300.52L249.18 302.36L246.2 303.58L244.93 306.07L244.5 308.99L242.38 310.14L240.25 312.32L241.1 316.49L240.68 318.12L239.4 316.94L238.72 314.18L236.85 314L233.45 313.53L232.6 314.65L229.2 314.18L226.48 316.03L226.4 317.4L224.53 316.03L222.83 313.91L220.28 314.18L218.58 312.04L214.75 312.51L211.52 311.37L209.48 311.37L206.68 309.47L204.98 306.56L203.53 303.78L203.7 301.03L203.7 297.68L204.55 294.66ZM166.3 273.7L171.4 267.09L176.5 265.85L189.25 268.46L189.25 281.33L194.35 282.97L198.18 287.83L195.2 284.21L190.1 281.71L185 280.43L180.75 282.72L178.2 284.83L174.8 286.04L169.7 288.07L174.8 283.6L171.4 283.35L168 279.78L172.25 275.78L166.3 273.7Z" fill="#8833ff"/>
<path d="M371.58 304.58L372.85 307.05L375.4 308.51L376.25 311.37L378.38 313.44L382.2 315.57L384.58 316.21L387.3 315.75L391.55 315.29L392.83 318.76L394.95 321.44L395.8 320.55L398.78 320.11L400.9 321.44L402.6 321.71L405.58 320.82L408.55 319.66L411.95 315.57L412.63 312.79L410.68 308.99L413.23 307.05L410.25 306.56L409.4 305.08L412.8 303.58L412.38 305.08L414.93 304.28L416.2 302.26L417.9 302.06L420.03 301.24L420.45 298.95L423.43 295.42L420.03 294.88L417.48 293.56L415.78 290.17L411.95 289.82L410.68 293.56L407.7 293.78L410.68 296.83L407.28 298.43L404.3 298.95L403.45 300.72L398.35 302.36L391.55 301.34L386.45 298.64L383.48 294.66L381.78 296.83L379.23 296.83L377.1 298.95L377.53 301.55L373.7 303.58L371.58 304.58Z" fill="#f41127" stroke="#ffffff" stroke-width="0.25"/>
<path d="M367.07 319.48L367.75 320.73L368.6 322.07L370.73 321.44L370.98 323.22L371.58 326.29L373.7 331.04L374.98 333.19L376.93 331.21L377.1 328.89L377.27 326.72L381.35 322.95L383.05 321.44L384.75 321L384.58 318.76L385.86 318.12L387.56 318.49L387.73 320.11L388.58 319.21L389.85 317.4L391.81 315.85L390.53 314.37L387.3 315.75L384.58 316.21L383.9 316.94L379.65 316.03L377.27 314.83L378.38 313.44L376.25 311.37L375.4 308.51L372.85 307.05L372 309.47L373.28 311.37L372.43 312.79L371.15 314.18L369.03 315.57L368.18 316.49L369.45 318.76L367.07 319.48Z" fill="#32d14a" stroke="#ffffff" stroke-width="0.25"/>
<path d="M406 359L405.58 362.6L406.85 367.21L407.02 370.34L409.4 371.01L414.08 370.05L418.75 367.87L420.88 367.68L424.28 370.82L426.4 369.1L426.23 371.49L428.53 373.93L431.93 374.23L434.05 374.92L436.6 373.24L437.71 369.57L439.41 365.35L439.15 362.15L436.18 359L433.2 356.34L432.61 352.84L430.23 349.21L429.38 351.11L428.78 355.03L425.98 353.71L424.28 352.67L425.38 350.25L421.73 349.65L419.6 351.11L418.33 352.67L416.2 351.98L412.8 355.03L410.25 357.23L406 359Z" fill="#ffc107"/>
<path d="M230.9 294.99L236.85 295.21L237.28 297.15L235.15 297.36L234.3 300L236 302.06L236.85 298.43L238.13 297.9L239.83 300L241.1 298.95L239.4 297.9L237.7 296.83L234.3 296.29Z" fill="#ffffff"/>
</g>
<rect x="440.2" y="250.9" width="5" height="5" fill="#3a3a42" rx="0.6"/>
<rect x="440.2" y="259.8" width="5" height="5" fill="#3a3a42" rx="0.6"/>
<text x="442.7" y="255.01" font-size="5.17" fill="#fff" text-anchor="middle">+</text>
<text x="442.7" y="263.71" font-size="5.17" fill="#fff" text-anchor="middle">−</text>
<rect x="0" y="0" width="463.3" height="20.6" fill="#212529"/>
<path d="M0 20.6L463.3 20.6" stroke="#3a3e44" stroke-width="0.4" fill="none"/>
<text x="40.6" y="8.8" font-size="6" fill="#ffffff" text-anchor="end" font-weight="bold" textLength="25" lengthAdjust="spacingAndGlyphs">پریسا توکلی</text>
<text x="40.6" y="15.41" font-size="4.6" fill="#b0b0b8" text-anchor="end" textLength="14.4" lengthAdjust="spacingAndGlyphs">طراح وب</text>
<clipPath id="avm1"><circle cx="52.6" cy="10.4" r="7.2"/></clipPath>
<g clip-path="url(#avm1)">
<circle cx="52.6" cy="10.4" r="7.2" fill="#cbc5c0"/>
<ellipse cx="52.6" cy="11.98" rx="6.05" ry="7.2" fill="#4e3626"/>
<ellipse cx="52.6" cy="17.96" rx="5.76" ry="3.6" fill="#3c2a20"/>
<ellipse cx="52.6" cy="9.54" rx="2.45" ry="3.02" fill="#dcae94"/>
</g>
<circle cx="52.6" cy="10.4" r="7.2" fill="none" stroke="#c4c4ca" stroke-width="0.5" opacity="0.9"/>
<path d="M65.6 0L65.6 20.6" stroke="#3a3e44" stroke-width="0.4" fill="none"/>
<g transform="translate(75.51 6.81) scale(0.34)" fill="none" stroke="#ffffff" stroke-width="2.53" stroke-linecap="round" stroke-linejoin="round"><path d="M21 15a2 2 0 0 1-2 2H7l-4 4V5a2 2 0 0 1 2-2h14a2 2 0 0 1 2 2z"/></g>
<circle cx="76.9" cy="6.9" r="2.8" fill="#e8253a"/>
<text x="76.9" y="8.03" font-size="3.22" fill="#fff" text-anchor="middle">۸</text>
<g transform="translate(92.51 6.81) scale(0.34)" fill="none" stroke="#ffffff" stroke-width="2.53" stroke-linecap="round" stroke-linejoin="round"><path d="M18 8A6 6 0 0 0 6 8c0 7-3 9-3 9h18s-3-2-3-9M13.7 21a2 2 0 0 1-3.4 0"/></g>
<circle cx="93.9" cy="6.9" r="2.8" fill="#e8253a"/>
<text x="93.9" y="8.03" font-size="3.22" fill="#fff" text-anchor="middle">۷</text>
<g transform="translate(107.99 6.69) scale(0.32)" fill="none" stroke="#ffffff" stroke-width="2.86" stroke-linecap="round" stroke-linejoin="round"><rect x="3" y="3" width="7" height="7" rx="1"/><rect x="14" y="3" width="7" height="7" rx="1"/><rect x="14" y="14" width="7" height="7" rx="1"/><rect x="3" y="14" width="7" height="7" rx="1"/></g>
<g transform="translate(124.17 6.67) scale(0.34)" fill="none" stroke="#ffffff" stroke-width="3.08" stroke-linecap="round" stroke-linejoin="round"><circle cx="11" cy="11" r="7"/><path d="M21 21l-5-5"/></g>
<g transform="translate(404.65 6.25) scale(0.27)" fill="none" stroke="#ffffff" stroke-width="3.08" stroke-linecap="round" stroke-linejoin="round"><rect x="3" y="3" width="18" height="18" rx="2"/><path d="M8 12l3 3 6-7"/></g>
<g transform="translate(417.7 6.25) scale(0.27)" fill="none" stroke="#ffffff" stroke-width="3.08" stroke-linecap="round" stroke-linejoin="round"><rect x="3" y="4" width="18" height="18" rx="2"/><path d="M16 2v4M8 2v4M3 10h18"/></g>
<g transform="translate(430.75 6.25) scale(0.27)" fill="none" stroke="#ffffff" stroke-width="3.08" stroke-linecap="round" stroke-linejoin="round"><path d="M21 15a2 2 0 0 1-2 2H7l-4 4V5a2 2 0 0 1 2-2h14a2 2 0 0 1 2 2z"/></g>
<g transform="translate(443.8 6.25) scale(0.27)" fill="none" stroke="#ffffff" stroke-width="3.08" stroke-linecap="round" stroke-linejoin="round"><rect x="2" y="4" width="20" height="16" rx="2"/><path d="M22 6l-10 7L2 6"/></g>
<rect x="463.3" y="0" width="3.4" height="360.5" fill="#f0f0f3"/>
<rect x="463.3" y="0" width="3.4" height="20.6" fill="#212529"/>
<rect x="463.3" y="20.6" width="3.4" height="286.7" fill="#58585c"/>
<rect x="466.6" y="0" width="83.4" height="360.5" fill="#ffffff"/>
<path d="M466.6 0L466.6 360.5" stroke="#e6e3f2" stroke-width="0.4" fill="none"/>
<text x="527.4" y="12.74" font-size="8.4" fill="#8456ee" text-anchor="end" textLength="34.8" lengthAdjust="spacingAndGlyphs">Synadmin</text>
<g transform="translate(536.2 10) scale(1)" fill="none" stroke-linejoin="round" stroke-linecap="round"><path d="M-0.4 -5.8L-3.4 0H2.6Z" stroke="#5b21b6" stroke-width="1.25"/><path d="M-2 -2h3.2" stroke="#5b21b6" stroke-width="0.8"/><path d="M6.8 -1C2 -0.6 -3 -0.2 -5.2 1.5C-7.3 3.1 -6.3 4.7 -3.4 6" stroke="#8b5cf6" stroke-width="1.5"/></g>
<path d="M472.6 7.9l1.8 1.8 -1.8 1.8M476 7.9v3.6" fill="none" stroke="#6e6e78" stroke-width="0.8"/>
<path d="M466.6 20.6L550 20.6" stroke="#e6e3f2" stroke-width="0.4" fill="none"/>
<rect x="468.2" y="26.4" width="78.8" height="15.6" fill="#e7dbfb" rx="1.2"/>
<g transform="translate(533.1 29.7) scale(0.31)" fill="none" stroke="#5b2bbf" stroke-width="2.64" stroke-linecap="round" stroke-linejoin="round"><path d="M3 10l9-8 9 8v10a2 2 0 0 1-2 2H5a2 2 0 0 1-2-2z"/><path d="M9 22v-8h6v8"/></g>
<text x="529.3" y="35.87" font-size="5.63" fill="#5b2bbf" text-anchor="end">داشبورد</text>
<text x="474.6" y="35.21" font-size="6.32" fill="#5b2bbf" text-anchor="middle">⌄</text>
<rect x="468.2" y="42" width="78.8" height="68.6" fill="none" rx="1" stroke="#e6e3f2" stroke-width="0.35"/>
<rect x="468.2" y="44.1" width="78.8" height="11" fill="#e7dbfb"/>
<path d="M537.2 49.6l2.0 -1.3v2.6z" fill="#5b2bbf"/>
<text x="533.4" y="51.71" font-size="5.17" fill="#5b2bbf" text-anchor="end">تجزیه و تحلیل</text>
<path d="M537.2 62.9l2.0 -1.3v2.6z" fill="#6e6e78"/>
<text x="533.4" y="65.01" font-size="5.17" fill="#6e6e78" text-anchor="end">فروش</text>
<path d="M537.2 76.2l2.0 -1.3v2.6z" fill="#6e6e78"/>
<text x="533.4" y="78.31" font-size="5.17" fill="#6e6e78" text-anchor="end">فروشگاه</text>
<path d="M537.2 89.5l2.0 -1.3v2.6z" fill="#6e6e78"/>
<text x="533.4" y="91.61" font-size="5.17" fill="#6e6e78" text-anchor="end">متناوب</text>
<path d="M537.2 102.8l2.0 -1.3v2.6z" fill="#6e6e78"/>
<text x="533.4" y="104.91" font-size="5.17" fill="#6e6e78" text-anchor="end">بیمارستان</text>
<g transform="translate(533.1 116.6) scale(0.31)" fill="none" stroke="#6e6e78" stroke-width="2.42" stroke-linecap="round" stroke-linejoin="round"><path d="M12 21c-4 0-7-3-7-7 3 0 5 1 7 4 2-3 4-4 7-4 0 4-3 7-7 7zM12 17c-3-3-3-9 0-13 3 4 3 10 0 13z"/></g>
<text x="529.3" y="122.67" font-size="5.63" fill="#6e6e78" text-anchor="end">اپلیکیشن</text>
<text x="474.8" y="122.72" font-size="6.9" fill="#6e6e78" text-anchor="middle">‹</text>
<text x="545.6" y="141.23" font-size="3.79" fill="#b0b0ba" text-anchor="start" direction="rtl">عناصر UI</text>
<g transform="translate(533.1 149.9) scale(0.31)" fill="none" stroke="#6e6e78" stroke-width="2.42" stroke-linecap="round" stroke-linejoin="round"><rect x="2" y="7" width="20" height="14" rx="2"/><path d="M16 7V5a2 2 0 0 0-2-2h-4a2 2 0 0 0-2 2v2M2 13h20"/></g>
<text x="529.3" y="155.97" font-size="5.63" fill="#6e6e78" text-anchor="end">ویجت ها</text>
<g transform="translate(533.1 168.2) scale(0.31)" fill="none" stroke="#6e6e78" stroke-width="2.42" stroke-linecap="round" stroke-linejoin="round"><path d="M2 4h20l-2 7H4zM5 11v9M19 11v9M9 11v5h6v-5"/></g>
<text x="529.3" y="174.27" font-size="5.63" fill="#6e6e78" text-anchor="end">فروشگاه</text>
<text x="474.8" y="174.31" font-size="6.9" fill="#6e6e78" text-anchor="middle">‹</text>
<g transform="translate(533.1 186) scale(0.31)" fill="none" stroke="#6e6e78" stroke-width="2.42" stroke-linecap="round" stroke-linejoin="round"><path d="M20 12v10H4V12"/><rect x="2" y="7" width="20" height="5"/><path d="M12 22V7M12 7H7.5a2.5 2.5 0 0 1 0-5C11 2 12 7 12 7zM12 7h4.5a2.5 2.5 0 0 0 0-5C13 2 12 7 12 7z"/></g>
<text x="529.3" y="192.07" font-size="5.63" fill="#6e6e78" text-anchor="end">کامپوننت ها</text>
<text x="474.8" y="192.11" font-size="6.9" fill="#6e6e78" text-anchor="middle">‹</text>
<g transform="translate(533.1 203.5) scale(0.31)" fill="none" stroke="#6e6e78" stroke-width="2.42" stroke-linecap="round" stroke-linejoin="round"><path d="M18 3a3 3 0 0 0-3 3v12a3 3 0 0 0 3 3 3 3 0 0 0 3-3 3 3 0 0 0-3-3H6a3 3 0 0 0-3 3 3 3 0 0 0 3 3 3 3 0 0 0 3-3V6a3 3 0 0 0-3-3 3 3 0 0 0-3 3 3 3 0 0 0 3 3h12a3 3 0 0 0 3-3 3 3 0 0 0-3-3z"/></g>
<text x="529.3" y="209.57" font-size="5.63" fill="#6e6e78" text-anchor="end">محتوا</text>
<text x="474.8" y="209.61" font-size="6.9" fill="#6e6e78" text-anchor="middle">‹</text>
<g transform="translate(533.1 221.7) scale(0.31)" fill="none" stroke="#6e6e78" stroke-width="2.42" stroke-linecap="round" stroke-linejoin="round"><rect x="3" y="3" width="18" height="18" rx="4"/><circle cx="12" cy="12" r="4"/><path d="M3 3l6 6M21 3l-6 6M3 21l6-6M21 21l-6-6"/></g>
<text x="529.3" y="227.77" font-size="5.63" fill="#6e6e78" text-anchor="end">آیکون ها</text>
<text x="474.8" y="227.81" font-size="6.9" fill="#6e6e78" text-anchor="middle">‹</text>
<text x="545.6" y="246.33" font-size="3.79" fill="#b0b0ba" text-anchor="start" direction="rtl">فرم ها و جداول</text>
<g transform="translate(533.1 256) scale(0.31)" fill="none" stroke="#6e6e78" stroke-width="2.42" stroke-linecap="round" stroke-linejoin="round"><path d="M5 2h14M5 22h14M7 2c0 6 5 6 5 10s-5 4-5 10M17 2c0 6-5 6-5 10s5 4 5 10"/></g>
<text x="529.3" y="262.07" font-size="5.63" fill="#6e6e78" text-anchor="end">فرم ها</text>
<text x="474.8" y="262.12" font-size="6.9" fill="#6e6e78" text-anchor="middle">‹</text>
<g transform="translate(533.1 273.6) scale(0.31)" fill="none" stroke="#6e6e78" stroke-width="2.42" stroke-linecap="round" stroke-linejoin="round"><rect x="3" y="3" width="7" height="7" rx="1"/><rect x="14" y="3" width="7" height="7" rx="1"/><rect x="14" y="14" width="7" height="7" rx="1"/><rect x="3" y="14" width="7" height="7" rx="1"/></g>
<text x="529.3" y="279.67" font-size="5.63" fill="#6e6e78" text-anchor="end">جداول</text>
<text x="474.8" y="279.72" font-size="6.9" fill="#6e6e78" text-anchor="middle">‹</text>
<text x="545.6" y="297.83" font-size="3.79" fill="#b0b0ba" text-anchor="start" direction="rtl">صفحات</text>
<g transform="translate(533.1 307.7) scale(0.31)" fill="none" stroke="#6e6e78" stroke-width="2.42" stroke-linecap="round" stroke-linejoin="round"><rect x="3" y="11" width="18" height="11" rx="2"/><path d="M7 11V7a5 5 0 0 1 10 0v4"/></g>
<text x="529.3" y="313.77" font-size="5.63" fill="#6e6e78" text-anchor="end">احراز هویت</text>
<text x="474.8" y="313.81" font-size="6.9" fill="#6e6e78" text-anchor="middle">‹</text>
<g transform="translate(533.1 325.1) scale(0.31)" fill="none" stroke="#6e6e78" stroke-width="2.42" stroke-linecap="round" stroke-linejoin="round"><rect x="3" y="2" width="18" height="20" rx="2"/><circle cx="12" cy="9" r="3"/><path d="M7 18c1-3 9-3 10 0"/></g>
<text x="529.3" y="331.17" font-size="5.63" fill="#6e6e78" text-anchor="end">پروفایل کاربر</text>
<g transform="translate(533.1 343) scale(0.31)" fill="none" stroke="#6e6e78" stroke-width="2.42" stroke-linecap="round" stroke-linejoin="round"><path d="M4 20V11l5-2 3-5 3 3h5v13z"/><circle cx="9" cy="15" r="1.5"/><circle cx="15" cy="15" r="1.5"/></g>
<text x="529.3" y="349.07" font-size="5.63" fill="#6e6e78" text-anchor="end">تایم لاین</text>
<path d="M0 152.2h11.3a3 3 0 0 1 3 3v7.7a3 3 0 0 1-3 3h-11.3z" fill="#6b38ef"/>
<circle cx="7" cy="159.1" r="3.0" fill="none" stroke="#fff" stroke-width="1.3" stroke-dasharray="1.75 1.39" opacity="0.95"/>
<circle cx="7" cy="159.1" r="2.1" fill="none" stroke="#fff" stroke-width="1.2" opacity="0.95"/></svg></div>
<div class="m" style="top:534.5px;height:360px"><svg width="550" height="360" viewBox="0 0 550 360"><rect x="0" y="0" width="550" height="360" fill="#f7f8fd"/>
<clipPath id="wcm20"><rect x="8.3" y="29.8" width="105.7" height="47.6" rx="1.8"/></clipPath>
<rect x="8.3" y="29.8" width="105.7" height="47.6" fill="#ffffff" rx="1.8" stroke="#ececf4" stroke-width="0.3"/>
<linearGradient id="wgm20" x1="0" y1="0" x2="0" y2="1"><stop offset="0" stop-color="#2fd24f" stop-opacity="0.7"/><stop offset="1" stop-color="#2fd24f" stop-opacity="0.1"/></linearGradient>
<g clip-path="url(#wcm20)"><path d="M8.3 72.3C10.4 72.56 15.12 75.56 18.8 73.6C22.48 71.64 23.52 63.7 26.7 62.5C29.88 61.3 31.52 67.22 34.7 67.6C37.88 67.98 38.8 63.64 42.6 64.4C46.4 65.16 49.12 72.74 53.7 71.4C58.28 70.06 61.04 59.28 65.5 57.7C69.96 56.12 72 62.8 76 63.5C80 64.2 81.38 60.38 85.5 61.2C89.62 62.02 92.8 66.7 96.6 67.6C100.4 68.5 101.02 64.76 104.5 65.7C107.98 66.64 112.1 70.98 114 72.3L114 77.4L8.3 77.4Z" fill="url(#wgm20)"/><path d="M8.3 72.3C10.4 72.56 15.12 75.56 18.8 73.6C22.48 71.64 23.52 63.7 26.7 62.5C29.88 61.3 31.52 67.22 34.7 67.6C37.88 67.98 38.8 63.64 42.6 64.4C46.4 65.16 49.12 72.74 53.7 71.4C58.28 70.06 61.04 59.28 65.5 57.7C69.96 56.12 72 62.8 76 63.5C80 64.2 81.38 60.38 85.5 61.2C89.62 62.02 92.8 66.7 96.6 67.6C100.4 68.5 101.02 64.76 104.5 65.7C107.98 66.64 112.1 70.98 114 72.3" fill="none" stroke="#22b83c" stroke-width="1.05"/></g>
<text x="108.7" y="39.05" font-size="4.71" fill="#a6a6b0" text-anchor="end">دیدگاه</text>
<text x="108.7" y="48.06" font-size="7.59" fill="#4a4a54" text-anchor="start" direction="rtl">۸۶۹</text>
<g transform="translate(13.98 37.58) scale(0.4)" fill="none" stroke="#4a4a54" stroke-width="1.98" stroke-linecap="round" stroke-linejoin="round"><path d="M16 13a2 2 0 0 1-2 2H7l-4 4V5a2 2 0 0 1 2-2h9a2 2 0 0 1 2 2z"/><path d="M20 8v9h-9"/></g>
<clipPath id="wcm21"><rect x="122.5" y="29.8" width="105.7" height="47.6" rx="1.8"/></clipPath>
<rect x="122.5" y="29.8" width="105.7" height="47.6" fill="#ffffff" rx="1.8" stroke="#ececf4" stroke-width="0.3"/>
<linearGradient id="wgm21" x1="0" y1="0" x2="0" y2="1"><stop offset="0" stop-color="#ffc533" stop-opacity="0.7"/><stop offset="1" stop-color="#ffc533" stop-opacity="0.1"/></linearGradient>
<g clip-path="url(#wcm21)"><path d="M122.5 72.3C124.6 72.56 129.32 75.56 133 73.6C136.68 71.64 137.72 63.7 140.9 62.5C144.08 61.3 145.72 67.22 148.9 67.6C152.08 67.98 153 63.64 156.8 64.4C160.6 65.16 163.32 72.74 167.9 71.4C172.48 70.06 175.24 59.28 179.7 57.7C184.16 56.12 186.2 62.8 190.2 63.5C194.2 64.2 195.58 60.38 199.7 61.2C203.82 62.02 207 66.7 210.8 67.6C214.6 68.5 215.22 64.76 218.7 65.7C222.18 66.64 226.3 70.98 228.2 72.3L228.2 77.4L122.5 77.4Z" fill="url(#wgm21)"/><path d="M122.5 72.3C124.6 72.56 129.32 75.56 133 73.6C136.68 71.64 137.72 63.7 140.9 62.5C144.08 61.3 145.72 67.22 148.9 67.6C152.08 67.98 153 63.64 156.8 64.4C160.6 65.16 163.32 72.74 167.9 71.4C172.48 70.06 175.24 59.28 179.7 57.7C184.16 56.12 186.2 62.8 190.2 63.5C194.2 64.2 195.58 60.38 199.7 61.2C203.82 62.02 207 66.7 210.8 67.6C214.6 68.5 215.22 64.76 218.7 65.7C222.18 66.64 226.3 70.98 228.2 72.3" fill="none" stroke="#f2ab12" stroke-width="1.05"/></g>
<text x="222.9" y="39.05" font-size="4.71" fill="#a6a6b0" text-anchor="end">مجموع کاربران</text>
<text x="222.9" y="48.06" font-size="7.59" fill="#4a4a54" text-anchor="start" direction="rtl">۲۴.۵K</text>
<g transform="translate(128.18 37.58) scale(0.4)" fill="none" stroke="#4a4a54" stroke-width="1.98" stroke-linecap="round" stroke-linejoin="round"><circle cx="9" cy="8" r="3.5"/><circle cx="17" cy="9" r="2.5"/><path d="M2 20c0-6 14-6 14 0M16 14c3-1 6 1 6 5"/></g>
<clipPath id="wcm22"><rect x="236.7" y="29.8" width="105.7" height="47.6" rx="1.8"/></clipPath>
<rect x="236.7" y="29.8" width="105.7" height="47.6" fill="#ffffff" rx="1.8" stroke="#ececf4" stroke-width="0.3"/>
<linearGradient id="wgm22" x1="0" y1="0" x2="0" y2="1"><stop offset="0" stop-color="#9b5cff" stop-opacity="0.7"/><stop offset="1" stop-color="#9b5cff" stop-opacity="0.1"/></linearGradient>
<g clip-path="url(#wcm22)"><path d="M236.7 72.3C238.8 72.56 243.52 75.56 247.2 73.6C250.88 71.64 251.92 63.7 255.1 62.5C258.28 61.3 259.92 67.22 263.1 67.6C266.28 67.98 267.2 63.64 271 64.4C274.8 65.16 277.52 72.74 282.1 71.4C286.68 70.06 289.44 59.28 293.9 57.7C298.36 56.12 300.4 62.8 304.4 63.5C308.4 64.2 309.78 60.38 313.9 61.2C318.02 62.02 321.2 66.7 325 67.6C328.8 68.5 329.42 64.76 332.9 65.7C336.38 66.64 340.5 70.98 342.4 72.3L342.4 77.4L236.7 77.4Z" fill="url(#wgm22)"/><path d="M236.7 72.3C238.8 72.56 243.52 75.56 247.2 73.6C250.88 71.64 251.92 63.7 255.1 62.5C258.28 61.3 259.92 67.22 263.1 67.6C266.28 67.98 267.2 63.64 271 64.4C274.8 65.16 277.52 72.74 282.1 71.4C286.68 70.06 289.44 59.28 293.9 57.7C298.36 56.12 300.4 62.8 304.4 63.5C308.4 64.2 309.78 60.38 313.9 61.2C318.02 62.02 321.2 66.7 325 67.6C328.8 68.5 329.42 64.76 332.9 65.7C336.38 66.64 340.5 70.98 342.4 72.3" fill="none" stroke="#7c3aed" stroke-width="1.05"/></g>
<text x="337.1" y="39.05" font-size="4.71" fill="#a6a6b0" text-anchor="end">مجموع درآمد</text>
<text x="337.1" y="48.06" font-size="7.59" fill="#4a4a54" text-anchor="start" direction="rtl">۵۲,۹۴۵ تومان</text>
<g transform="translate(242.38 37.58) scale(0.4)" fill="none" stroke="#4a4a54" stroke-width="1.98" stroke-linecap="round" stroke-linejoin="round"><rect x="2" y="5" width="20" height="15" rx="2.5"/><path d="M2 9h20M16 14h3"/></g>
<clipPath id="wcm23"><rect x="350.9" y="29.8" width="105.7" height="47.6" rx="1.8"/></clipPath>
<rect x="350.9" y="29.8" width="105.7" height="47.6" fill="#ffffff" rx="1.8" stroke="#ececf4" stroke-width="0.3"/>
<linearGradient id="wgm23" x1="0" y1="0" x2="0" y2="1"><stop offset="0" stop-color="#f43f4e" stop-opacity="0.7"/><stop offset="1" stop-color="#f43f4e" stop-opacity="0.1"/></linearGradient>
<g clip-path="url(#wcm23)"><path d="M350.9 72.3C353 72.56 357.72 75.56 361.4 73.6C365.08 71.64 366.12 63.7 369.3 62.5C372.48 61.3 374.12 67.22 377.3 67.6C380.48 67.98 381.4 63.64 385.2 64.4C389 65.16 391.72 72.74 396.3 71.4C400.88 70.06 403.64 59.28 408.1 57.7C412.56 56.12 414.6 62.8 418.6 63.5C422.6 64.2 423.98 60.38 428.1 61.2C432.22 62.02 435.4 66.7 439.2 67.6C443 68.5 443.62 64.76 447.1 65.7C450.58 66.64 454.7 70.98 456.6 72.3L456.6 77.4L350.9 77.4Z" fill="url(#wgm23)"/><path d="M350.9 72.3C353 72.56 357.72 75.56 361.4 73.6C365.08 71.64 366.12 63.7 369.3 62.5C372.48 61.3 374.12 67.22 377.3 67.6C380.48 67.98 381.4 63.64 385.2 64.4C389 65.16 391.72 72.74 396.3 71.4C400.88 70.06 403.64 59.28 408.1 57.7C412.56 56.12 414.6 62.8 418.6 63.5C422.6 64.2 423.98 60.38 428.1 61.2C432.22 62.02 435.4 66.7 439.2 67.6C443 68.5 443.62 64.76 447.1 65.7C450.58 66.64 454.7 70.98 456.6 72.3" fill="none" stroke="#e5202e" stroke-width="1.05"/></g>
<text x="451.3" y="39.05" font-size="4.71" fill="#a6a6b0" text-anchor="end">مجموع سفارشات</text>
<text x="451.3" y="48.06" font-size="7.59" fill="#4a4a54" text-anchor="start" direction="rtl">۸۶۷</text>
<g transform="translate(356.58 37.58) scale(0.4)" fill="none" stroke="#4a4a54" stroke-width="1.98" stroke-linecap="round" stroke-linejoin="round"><circle cx="9" cy="21" r="1.3"/><circle cx="19" cy="21" r="1.3"/><path d="M1 2h4l2.7 13.4a2 2 0 0 0 2 1.6h9.7a2 2 0 0 0 2-1.6L23 6H6"/></g>
<rect x="8.3" y="87.5" width="143" height="156.8" fill="#ffffff" rx="1.8" stroke="#ececf4" stroke-width="0.3"/>
<text x="145.6" y="99.65" font-size="6.44" fill="#4a4a54" text-anchor="end">هدف فروش</text>
<circle cx="15.6" cy="97.4" r="0.55" fill="#4a4a54"/>
<circle cx="17.3" cy="97.4" r="0.55" fill="#4a4a54"/>
<circle cx="19" cy="97.4" r="0.55" fill="#4a4a54"/>
<circle cx="80.4" cy="164.3" r="40.8" fill="none" stroke="#ece6fb" stroke-width="5.2"/>
<path d="M80.4 123.5A40.8 40.8 0 1 1 43.42 181.54" fill="none" stroke="#7c2ff2" stroke-width="5.2" stroke-linecap="round"/>
<text x="80.4" y="155.29" font-size="4.83" fill="#a6a6b0" text-anchor="middle">پیشرفت</text>
<text x="80.4" y="173.03" font-size="15.5" fill="#4a4a54" text-anchor="middle" textLength="29.5" lengthAdjust="spacingAndGlyphs">۶۸%</text>
<text x="146.2" y="223.76" font-size="9.6" fill="#4a4a54" text-anchor="end" textLength="22.5" lengthAdjust="spacingAndGlyphs">۲۲۴۸</text>
<text x="146.2" y="233.05" font-size="4.14" fill="#a6a6b0" text-anchor="end">ارسال ۴ هدف</text>
<rect x="14" y="219.6" width="40.8" height="12.2" fill="none" rx="1.2" stroke="#dddde6" stroke-width="0.4"/>
<rect x="47.2" y="223.9" width="3.6" height="3.6" fill="#7c2ff2" rx="0.4"/>
<text x="45.4" y="227.39" font-size="4.25" fill="#a6a6b0" text-anchor="end">فروش بازاریابی</text>
<rect x="160" y="87.5" width="296.6" height="156.8" fill="#ffffff" rx="1.8" stroke="#ececf4" stroke-width="0.3"/>
<text x="308.5" y="100.79" font-size="5.4" fill="#4a4a54" text-anchor="middle">گزارش سالیانه ترافیک و فروش</text>
<path d="M439.7 97.3L444.9 97.3" stroke="#4a4a52" stroke-width="0.9" fill="none"/>
<path d="M439.7 99.1L444.9 99.1" stroke="#4a4a52" stroke-width="0.9" fill="none"/>
<path d="M439.7 100.9L444.9 100.9" stroke="#4a4a52" stroke-width="0.9" fill="none"/>
<path d="M181.5 207.1L446 207.1" stroke="#ececf1" stroke-width="0.35" fill="none"/>
<text x="178.5" y="208.31" font-size="3.45" fill="#b8b8c2" text-anchor="end">۰k</text>
<path d="M181.5 187.62L446 187.62" stroke="#ececf1" stroke-width="0.35" fill="none"/>
<text x="178.5" y="188.83" font-size="3.45" fill="#b8b8c2" text-anchor="end">۱.۶k</text>
<path d="M181.5 168.14L446 168.14" stroke="#ececf1" stroke-width="0.35" fill="none"/>
<text x="178.5" y="169.35" font-size="3.45" fill="#b8b8c2" text-anchor="end">۳.۲k</text>
<path d="M181.5 148.66L446 148.66" stroke="#ececf1" stroke-width="0.35" fill="none"/>
<text x="178.5" y="149.87" font-size="3.45" fill="#b8b8c2" text-anchor="end">۴.۸k</text>
<path d="M181.5 129.18L446 129.18" stroke="#ececf1" stroke-width="0.35" fill="none"/>
<text x="178.5" y="130.39" font-size="3.45" fill="#b8b8c2" text-anchor="end">۶.۴k</text>
<path d="M181.5 109.7L446 109.7" stroke="#ececf1" stroke-width="0.35" fill="none"/>
<text x="178.5" y="110.91" font-size="3.45" fill="#b8b8c2" text-anchor="end">۸.۰k</text>
<path d="M196 207L212 206.5L224 205L232 201L238 195L243 186L248 174L253 162L258 153L263 148L269.2 146.3L275 148.5L280 153.5L285.5 157.1L291 154L296.4 151.7L302 154L307 158L311 159.8L318 160.5L330 161L342 161.5L348 162.5L352 168L356 176L360 183L367 187L380 188.5L400 191L424.5 195.2L425.8 197.9L443.7 197.9L443.7 207.1L196 207.1Z" fill="#8a3ffc" opacity="0.86"/>
<path d="M230 207L243 205.6L255 203.2L266.5 198.6L280 190L293.7 178.9L303 169L311 159.8L319 150L326.3 140.8L333 130L338.8 119.1L343 124L350 132L358 140L369.8 151.7L385 161L402.4 170.7L415 177.5L424 181.5L425.6 184L425.8 197.9L443.7 197.9L443.7 207.1L230 207.1Z" fill="#e8354a" opacity="0.86"/>
<circle cx="198" cy="207.1" r="0.5" fill="#8a3ffc"/>
<circle cx="202.2" cy="207.1" r="0.5" fill="#8a3ffc"/>
<circle cx="206.4" cy="207.1" r="0.5" fill="#8a3ffc"/>
<circle cx="210.6" cy="207.1" r="0.5" fill="#8a3ffc"/>
<circle cx="214.8" cy="207.1" r="0.5" fill="#8a3ffc"/>
<circle cx="219" cy="207.1" r="0.5" fill="#8a3ffc"/>
<circle cx="223.2" cy="207.1" r="0.5" fill="#8a3ffc"/>
<circle cx="227.4" cy="207.1" r="0.5" fill="#8a3ffc"/>
<text x="183.8" y="213.91" font-size="3.45" fill="#b8b8c2" text-anchor="middle">۱۳۹۰</text>
<text x="217.4" y="213.91" font-size="3.45" fill="#b8b8c2" text-anchor="middle">۱۳۹۱</text>
<text x="251" y="213.91" font-size="3.45" fill="#b8b8c2" text-anchor="middle">۱۳۹۲</text>
<text x="284.6" y="213.91" font-size="3.45" fill="#b8b8c2" text-anchor="middle">۱۳۹۳</text>
<text x="318.2" y="213.91" font-size="3.45" fill="#b8b8c2" text-anchor="middle">۱۳۹۴</text>
<text x="351.8" y="213.91" font-size="3.45" fill="#b8b8c2" text-anchor="middle">۱۳۹۵</text>
<text x="385.4" y="213.91" font-size="3.45" fill="#b8b8c2" text-anchor="middle">۱۳۹۶</text>
<text x="419" y="213.91" font-size="3.45" fill="#b8b8c2" text-anchor="middle">۱۳۹۷</text>
<circle cx="325.2" cy="224.1" r="1.9" fill="#8a3ffc"/>
<text x="322" y="225.71" font-size="4.02" fill="#4a4a54" text-anchor="end">فروش</text>
<circle cx="302" cy="224.1" r="1.9" fill="#e8354a"/>
<text x="298.8" y="225.71" font-size="4.02" fill="#4a4a54" text-anchor="end">ترافیک</text>
<rect x="8.3" y="251.8" width="222.9" height="130" fill="#ffffff" rx="1.8" stroke="#ececf4" stroke-width="0.3"/>
<text x="222.3" y="263.37" font-size="6.21" fill="#4a4a54" text-anchor="end">گزارش فروش</text>
<circle cx="16.4" cy="261.2" r="0.55" fill="#4a4a54"/>
<circle cx="18.1" cy="261.2" r="0.55" fill="#4a4a54"/>
<circle cx="19.8" cy="261.2" r="0.55" fill="#4a4a54"/>
<rect x="70.2" y="270.7" width="3.8" height="3.8" fill="#18b6e8"/>
<text x="68.2" y="274.21" font-size="4.02" fill="#a6a6b0" text-anchor="end">فروش آنلاین</text>
<rect x="40.8" y="270.7" width="3.8" height="3.8" fill="#e2e2e6"/>
<text x="38.8" y="274.21" font-size="4.02" fill="#a6a6b0" text-anchor="end">فروش آفلاین</text>
<path d="M25.5 288.2L224 288.2" stroke="#dedee4" stroke-width="0.35" fill="none"/>
<text x="23" y="289.41" font-size="3.45" fill="#b8b8c2" text-anchor="end">۵۰۰</text>
<path d="M25.5 299.9L224 299.9" stroke="#dedee4" stroke-width="0.35" fill="none"/>
<text x="23" y="301.11" font-size="3.45" fill="#b8b8c2" text-anchor="end">۴۰۰</text>
<path d="M25.5 311.8L224 311.8" stroke="#dedee4" stroke-width="0.35" fill="none"/>
<text x="23" y="313.01" font-size="3.45" fill="#b8b8c2" text-anchor="end">۳۰۰</text>
<path d="M25.5 323.8L224 323.8" stroke="#dedee4" stroke-width="0.35" fill="none"/>
<text x="23" y="325.01" font-size="3.45" fill="#b8b8c2" text-anchor="end">۲۰۰</text>
<path d="M25.5 336L224 336" stroke="#dedee4" stroke-width="0.35" fill="none"/>
<text x="23" y="337.21" font-size="3.45" fill="#b8b8c2" text-anchor="end">۱۰۰</text>
<rect x="33.8" y="319.7" width="3.8" height="33.3" fill="#e2e2e6" rx="0.7"/>
<rect x="33.8" y="336" width="3.8" height="17" fill="#18b6e8"/>
<rect x="49.69" y="315.9" width="3.8" height="37.1" fill="#e2e2e6" rx="0.7"/>
<rect x="49.69" y="331.7" width="3.8" height="21.3" fill="#18b6e8"/>
<rect x="65.58" y="310" width="3.8" height="43" fill="#e2e2e6" rx="0.7"/>
<rect x="65.58" y="326.8" width="3.8" height="26.2" fill="#18b6e8"/>
<rect x="81.47" y="310.5" width="3.8" height="42.5" fill="#e2e2e6" rx="0.7"/>
<rect x="81.47" y="326.3" width="3.8" height="26.7" fill="#18b6e8"/>
<rect x="97.36" y="315.4" width="3.8" height="37.6" fill="#e2e2e6" rx="0.7"/>
<rect x="97.36" y="326.8" width="3.8" height="26.2" fill="#18b6e8"/>
<rect x="113.25" y="305" width="3.8" height="48" fill="#e2e2e6" rx="0.7"/>
<rect x="113.25" y="324.1" width="3.8" height="28.9" fill="#18b6e8"/>
<rect x="129.14" y="305" width="3.8" height="48" fill="#e2e2e6" rx="0.7"/>
<rect x="129.14" y="325.2" width="3.8" height="27.8" fill="#18b6e8"/>
<rect x="145.03" y="301.8" width="3.8" height="51.2" fill="#e2e2e6" rx="0.7"/>
<rect x="145.03" y="323.6" width="3.8" height="29.4" fill="#18b6e8"/>
<rect x="160.92" y="302.3" width="3.8" height="50.7" fill="#e2e2e6" rx="0.7"/>
<rect x="160.92" y="324.1" width="3.8" height="28.9" fill="#18b6e8"/>
<rect x="176.81" y="305" width="3.8" height="48" fill="#e2e2e6" rx="0.7"/>
<rect x="176.81" y="322.5" width="3.8" height="30.5" fill="#18b6e8"/>
<rect x="192.7" y="296.9" width="3.8" height="56.1" fill="#e2e2e6" rx="0.7"/>
<rect x="192.7" y="319.7" width="3.8" height="33.3" fill="#18b6e8"/>
<rect x="208.59" y="299.5" width="3.8" height="53.5" fill="#e2e2e6" rx="0.7"/>
<rect x="208.59" y="321" width="3.8" height="32" fill="#18b6e8"/>
<rect x="237.8" y="251.8" width="218.8" height="130" fill="#ffffff" rx="1.8" stroke="#ececf4" stroke-width="0.3"/>
<text x="350.5" y="263.09" font-size="5.4" fill="#4a4a54" text-anchor="middle">کل ترافیک بر اساس منبع</text>
<path d="M439.7 259.6L444.9 259.6" stroke="#4a4a52" stroke-width="0.9" fill="none"/>
<path d="M439.7 261.4L444.9 261.4" stroke="#4a4a52" stroke-width="0.9" fill="none"/>
<path d="M439.7 263.2L444.9 263.2" stroke="#4a4a52" stroke-width="0.9" fill="none"/>
<path d="M344.5 289.7A27.3 27.3 0 0 1 371.75 315.38" fill="none" stroke="#8a3ffc" stroke-width="16.2"/>
<path d="M371.73 315.1A27.3 27.3 0 0 1 343.74 344.29" fill="none" stroke="#e8253a" stroke-width="16.2"/>
<path d="M344.02 344.3A27.3 27.3 0 0 1 324.34 335.41" fill="none" stroke="#ffc107" stroke-width="16.2"/>
<path d="M324.53 335.62A27.3 27.3 0 0 1 319.84 328.71" fill="none" stroke="#2ecc40" stroke-width="16.2"/>
<path d="M319.96 328.97A27.3 27.3 0 0 1 319.48 306.07" fill="none" stroke="#23272d" stroke-width="16.2"/>
<path d="M319.37 306.33A27.3 27.3 0 0 1 344.79 289.7" fill="none" stroke="#18b6e8" stroke-width="16.2"/>
<path d="M374.5 298L382 291.5" stroke="#8a3ffc" stroke-width="0.35" fill="none"/>
<text x="383.5" y="291.73" font-size="3.79" fill="#4a4a54" text-anchor="start">اصلی</text>
<path d="M327.5 285.5L318.5 279" stroke="#18b6e8" stroke-width="0.35" fill="none"/>
<text x="317" y="279.13" font-size="3.79" fill="#4a4a54" text-anchor="end">بینگ</text>
<path d="M309 315.5L299.5 315.5" stroke="#a6a6b0" stroke-width="0.35" fill="none"/>
<text x="298" y="316.83" font-size="3.79" fill="#4a4a54" text-anchor="end">مستقیم</text>
<path d="M315.5 337.5L306 342.5" stroke="#2ecc40" stroke-width="0.35" fill="none"/>
<text x="304.5" y="344.63" font-size="3.79" fill="#4a4a54" text-anchor="end">گوگل</text>
<rect x="0" y="0" width="464.2" height="20.6" fill="#ffffff"/>
<path d="M0 20.6L464.2 20.6" stroke="#e6e3f2" stroke-width="0.4" fill="none"/>
<text x="40.6" y="8.8" font-size="6" fill="#62626c" text-anchor="end" textLength="25" lengthAdjust="spacingAndGlyphs">پریسا توکلی</text>
<text x="40.6" y="15.41" font-size="4.6" fill="#acacb6" text-anchor="end" textLength="14.4" lengthAdjust="spacingAndGlyphs">طراح وب</text>
<clipPath id="avm2"><circle cx="52.6" cy="10.4" r="7.2"/></clipPath>
<g clip-path="url(#avm2)">
<circle cx="52.6" cy="10.4" r="7.2" fill="#cbc5c0"/>
<ellipse cx="52.6" cy="11.98" rx="6.05" ry="7.2" fill="#4e3626"/>
<ellipse cx="52.6" cy="17.96" rx="5.76" ry="3.6" fill="#3c2a20"/>
<ellipse cx="52.6" cy="9.54" rx="2.45" ry="3.02" fill="#dcae94"/>
</g>
<circle cx="52.6" cy="10.4" r="7.2" fill="none" stroke="#c4c4ca" stroke-width="0.5" opacity="0.9"/>
<path d="M65.6 0L65.6 20.6" stroke="#e6e3f2" stroke-width="0.4" fill="none"/>
<g transform="translate(75.51 6.81) scale(0.34)" fill="none" stroke="#34343c" stroke-width="2.53" stroke-linecap="round" stroke-linejoin="round"><path d="M21 15a2 2 0 0 1-2 2H7l-4 4V5a2 2 0 0 1 2-2h14a2 2 0 0 1 2 2z"/></g>
<circle cx="76.9" cy="6.9" r="2.8" fill="#e8253a"/>
<text x="76.9" y="8.03" font-size="3.22" fill="#fff" text-anchor="middle">۸</text>
<g transform="translate(92.51 6.81) scale(0.34)" fill="none" stroke="#34343c" stroke-width="2.53" stroke-linecap="round" stroke-linejoin="round"><path d="M18 8A6 6 0 0 0 6 8c0 7-3 9-3 9h18s-3-2-3-9M13.7 21a2 2 0 0 1-3.4 0"/></g>
<circle cx="93.9" cy="6.9" r="2.8" fill="#e8253a"/>
<text x="93.9" y="8.03" font-size="3.22" fill="#fff" text-anchor="middle">۷</text>
<g transform="translate(107.99 6.69) scale(0.32)" fill="none" stroke="#34343c" stroke-width="2.86" stroke-linecap="round" stroke-linejoin="round"><rect x="3" y="3" width="7" height="7" rx="1"/><rect x="14" y="3" width="7" height="7" rx="1"/><rect x="14" y="14" width="7" height="7" rx="1"/><rect x="3" y="14" width="7" height="7" rx="1"/></g>
<g transform="translate(124.17 6.67) scale(0.34)" fill="none" stroke="#34343c" stroke-width="3.08" stroke-linecap="round" stroke-linejoin="round"><circle cx="11" cy="11" r="7"/><path d="M21 21l-5-5"/></g>
<g transform="translate(404.65 6.25) scale(0.27)" fill="none" stroke="#34343c" stroke-width="3.08" stroke-linecap="round" stroke-linejoin="round"><rect x="3" y="3" width="18" height="18" rx="2"/><path d="M8 12l3 3 6-7"/></g>
<g transform="translate(417.7 6.25) scale(0.27)" fill="none" stroke="#34343c" stroke-width="3.08" stroke-linecap="round" stroke-linejoin="round"><rect x="3" y="4" width="18" height="18" rx="2"/><path d="M16 2v4M8 2v4M3 10h18"/></g>
<g transform="translate(430.75 6.25) scale(0.27)" fill="none" stroke="#34343c" stroke-width="3.08" stroke-linecap="round" stroke-linejoin="round"><path d="M21 15a2 2 0 0 1-2 2H7l-4 4V5a2 2 0 0 1 2-2h14a2 2 0 0 1 2 2z"/></g>
<g transform="translate(443.8 6.25) scale(0.27)" fill="none" stroke="#34343c" stroke-width="3.08" stroke-linecap="round" stroke-linejoin="round"><rect x="2" y="4" width="20" height="16" rx="2"/><path d="M22 6l-10 7L2 6"/></g>
<rect x="0" y="347.4" width="464.2" height="12.6" fill="#ffffff"/>
<path d="M0 347.4L464.2 347.4" stroke="#e6e3f2" stroke-width="0.4" fill="none"/>
<text x="230" y="355.51" font-size="4.6" fill="#55555f" text-anchor="middle" direction="rtl">کپی رایت © ۲۰۲۱. تمامی حقوق محفوظ است.</text>
<rect x="464.2" y="0" width="85.8" height="360" fill="#ffffff"/>
<path d="M464.2 0L464.2 360" stroke="#e6e3f2" stroke-width="0.4" fill="none"/>
<text x="527.4" y="12.14" font-size="8.4" fill="#8456ee" text-anchor="end" textLength="34.8" lengthAdjust="spacingAndGlyphs">Synadmin</text>
<g transform="translate(536.2 9.4) scale(1)" fill="none" stroke-linejoin="round" stroke-linecap="round"><path d="M-0.4 -5.8L-3.4 0H2.6Z" stroke="#5b21b6" stroke-width="1.25"/><path d="M-2 -2h3.2" stroke="#5b21b6" stroke-width="0.8"/><path d="M6.8 -1C2 -0.6 -3 -0.2 -5.2 1.5C-7.3 3.1 -6.3 4.7 -3.4 6" stroke="#8b5cf6" stroke-width="1.5"/></g>
<path d="M472.6 7.3l1.8 1.8 -1.8 1.8M476 7.3v3.6" fill="none" stroke="#6e6e78" stroke-width="0.8"/>
<path d="M464.2 20.6L550 20.6" stroke="#e6e3f2" stroke-width="0.4" fill="none"/>
<rect x="468.2" y="25.8" width="78.8" height="15.6" fill="#e7dbfb" rx="1.2"/>
<g transform="translate(533.1 29.1) scale(0.31)" fill="none" stroke="#5b2bbf" stroke-width="2.64" stroke-linecap="round" stroke-linejoin="round"><path d="M3 10l9-8 9 8v10a2 2 0 0 1-2 2H5a2 2 0 0 1-2-2z"/><path d="M9 22v-8h6v8"/></g>
<text x="529.3" y="35.27" font-size="5.63" fill="#5b2bbf" text-anchor="end">داشبورد</text>
<text x="474.6" y="34.61" font-size="6.32" fill="#5b2bbf" text-anchor="middle">⌄</text>
<rect x="468.2" y="41.4" width="78.8" height="68.6" fill="none" rx="1" stroke="#e6e3f2" stroke-width="0.35"/>
<path d="M537.2 49l2.0 -1.3v2.6z" fill="#6e6e78"/>
<text x="533.4" y="51.11" font-size="5.17" fill="#6e6e78" text-anchor="end">تجزیه و تحلیل</text>
<rect x="468.2" y="56.8" width="78.8" height="11" fill="#e7dbfb"/>
<path d="M537.2 62.3l2.0 -1.3v2.6z" fill="#5b2bbf"/>
<text x="533.4" y="64.41" font-size="5.17" fill="#5b2bbf" text-anchor="end">فروش</text>
<path d="M537.2 75.6l2.0 -1.3v2.6z" fill="#6e6e78"/>
<text x="533.4" y="77.71" font-size="5.17" fill="#6e6e78" text-anchor="end">فروشگاه</text>
<path d="M537.2 88.9l2.0 -1.3v2.6z" fill="#6e6e78"/>
<text x="533.4" y="91.01" font-size="5.17" fill="#6e6e78" text-anchor="end">متناوب</text>
<path d="M537.2 102.2l2.0 -1.3v2.6z" fill="#6e6e78"/>
<text x="533.4" y="104.31" font-size="5.17" fill="#6e6e78" text-anchor="end">بیمارستان</text>
<g transform="translate(533.1 116) scale(0.31)" fill="none" stroke="#6e6e78" stroke-width="2.42" stroke-linecap="round" stroke-linejoin="round"><path d="M12 21c-4 0-7-3-7-7 3 0 5 1 7 4 2-3 4-4 7-4 0 4-3 7-7 7zM12 17c-3-3-3-9 0-13 3 4 3 10 0 13z"/></g>
<text x="529.3" y="122.07" font-size="5.63" fill="#6e6e78" text-anchor="end">اپلیکیشن</text>
<text x="474.8" y="122.12" font-size="6.9" fill="#6e6e78" text-anchor="middle">‹</text>
<text x="545.6" y="140.63" font-size="3.79" fill="#b0b0ba" text-anchor="start" direction="rtl">عناصر UI</text>
<g transform="translate(533.1 149.3) scale(0.31)" fill="none" stroke="#6e6e78" stroke-width="2.42" stroke-linecap="round" stroke-linejoin="round"><rect x="2" y="7" width="20" height="14" rx="2"/><path d="M16 7V5a2 2 0 0 0-2-2h-4a2 2 0 0 0-2 2v2M2 13h20"/></g>
<text x="529.3" y="155.37" font-size="5.63" fill="#6e6e78" text-anchor="end">ویجت ها</text>
<g transform="translate(533.1 167.6) scale(0.31)" fill="none" stroke="#6e6e78" stroke-width="2.42" stroke-linecap="round" stroke-linejoin="round"><path d="M2 4h20l-2 7H4zM5 11v9M19 11v9M9 11v5h6v-5"/></g>
<text x="529.3" y="173.67" font-size="5.63" fill="#6e6e78" text-anchor="end">فروشگاه</text>
<text x="474.8" y="173.72" font-size="6.9" fill="#6e6e78" text-anchor="middle">‹</text>
<g transform="translate(533.1 185.4) scale(0.31)" fill="none" stroke="#6e6e78" stroke-width="2.42" stroke-linecap="round" stroke-linejoin="round"><path d="M20 12v10H4V12"/><rect x="2" y="7" width="20" height="5"/><path d="M12 22V7M12 7H7.5a2.5 2.5 0 0 1 0-5C11 2 12 7 12 7zM12 7h4.5a2.5 2.5 0 0 0 0-5C13 2 12 7 12 7z"/></g>
<text x="529.3" y="191.47" font-size="5.63" fill="#6e6e78" text-anchor="end">کامپوننت ها</text>
<text x="474.8" y="191.51" font-size="6.9" fill="#6e6e78" text-anchor="middle">‹</text>
<g transform="translate(533.1 202.9) scale(0.31)" fill="none" stroke="#6e6e78" stroke-width="2.42" stroke-linecap="round" stroke-linejoin="round"><path d="M18 3a3 3 0 0 0-3 3v12a3 3 0 0 0 3 3 3 3 0 0 0 3-3 3 3 0 0 0-3-3H6a3 3 0 0 0-3 3 3 3 0 0 0 3 3 3 3 0 0 0 3-3V6a3 3 0 0 0-3-3 3 3 0 0 0-3 3 3 3 0 0 0 3 3h12a3 3 0 0 0 3-3 3 3 0 0 0-3-3z"/></g>
<text x="529.3" y="208.97" font-size="5.63" fill="#6e6e78" text-anchor="end">محتوا</text>
<text x="474.8" y="209.01" font-size="6.9" fill="#6e6e78" text-anchor="middle">‹</text>
<g transform="translate(533.1 221.1) scale(0.31)" fill="none" stroke="#6e6e78" stroke-width="2.42" stroke-linecap="round" stroke-linejoin="round"><rect x="3" y="3" width="18" height="18" rx="4"/><circle cx="12" cy="12" r="4"/><path d="M3 3l6 6M21 3l-6 6M3 21l6-6M21 21l-6-6"/></g>
<text x="529.3" y="227.17" font-size="5.63" fill="#6e6e78" text-anchor="end">آیکون ها</text>
<text x="474.8" y="227.22" font-size="6.9" fill="#6e6e78" text-anchor="middle">‹</text>
<text x="545.6" y="245.73" font-size="3.79" fill="#b0b0ba" text-anchor="start" direction="rtl">فرم ها و جداول</text>
<g transform="translate(533.1 255.4) scale(0.31)" fill="none" stroke="#6e6e78" stroke-width="2.42" stroke-linecap="round" stroke-linejoin="round"><path d="M5 2h14M5 22h14M7 2c0 6 5 6 5 10s-5 4-5 10M17 2c0 6-5 6-5 10s5 4 5 10"/></g>
<text x="529.3" y="261.47" font-size="5.63" fill="#6e6e78" text-anchor="end">فرم ها</text>
<text x="474.8" y="261.51" font-size="6.9" fill="#6e6e78" text-anchor="middle">‹</text>
<g transform="translate(533.1 273) scale(0.31)" fill="none" stroke="#6e6e78" stroke-width="2.42" stroke-linecap="round" stroke-linejoin="round"><rect x="3" y="3" width="7" height="7" rx="1"/><rect x="14" y="3" width="7" height="7" rx="1"/><rect x="14" y="14" width="7" height="7" rx="1"/><rect x="3" y="14" width="7" height="7" rx="1"/></g>
<text x="529.3" y="279.07" font-size="5.63" fill="#6e6e78" text-anchor="end">جداول</text>
<text x="474.8" y="279.12" font-size="6.9" fill="#6e6e78" text-anchor="middle">‹</text>
<text x="545.6" y="297.23" font-size="3.79" fill="#b0b0ba" text-anchor="start" direction="rtl">صفحات</text>
<g transform="translate(533.1 307.1) scale(0.31)" fill="none" stroke="#6e6e78" stroke-width="2.42" stroke-linecap="round" stroke-linejoin="round"><rect x="3" y="11" width="18" height="11" rx="2"/><path d="M7 11V7a5 5 0 0 1 10 0v4"/></g>
<text x="529.3" y="313.17" font-size="5.63" fill="#6e6e78" text-anchor="end">احراز هویت</text>
<text x="474.8" y="313.21" font-size="6.9" fill="#6e6e78" text-anchor="middle">‹</text>
<g transform="translate(533.1 324.5) scale(0.31)" fill="none" stroke="#6e6e78" stroke-width="2.42" stroke-linecap="round" stroke-linejoin="round"><rect x="3" y="2" width="18" height="20" rx="2"/><circle cx="12" cy="9" r="3"/><path d="M7 18c1-3 9-3 10 0"/></g>
<text x="529.3" y="330.57" font-size="5.63" fill="#6e6e78" text-anchor="end">پروفایل کاربر</text>
<g transform="translate(533.1 342.4) scale(0.31)" fill="none" stroke="#6e6e78" stroke-width="2.42" stroke-linecap="round" stroke-linejoin="round"><path d="M4 20V11l5-2 3-5 3 3h5v13z"/><circle cx="9" cy="15" r="1.5"/><circle cx="15" cy="15" r="1.5"/></g>
<text x="529.3" y="348.47" font-size="5.63" fill="#6e6e78" text-anchor="end">تایم لاین</text>
<path d="M0 143.2h11.3a3 3 0 0 1 3 3v7.7a3 3 0 0 1-3 3h-11.3z" fill="#6b38ef"/>
<circle cx="7" cy="150.1" r="3.0" fill="none" stroke="#fff" stroke-width="1.3" stroke-dasharray="1.75 1.39" opacity="0.95"/>
<circle cx="7" cy="150.1" r="2.1" fill="none" stroke="#fff" stroke-width="1.2" opacity="0.95"/></svg></div>
<div class="m" style="top:939.5px;height:360px"><svg width="550" height="360" viewBox="0 0 550 360"><rect x="0" y="0" width="550" height="360" fill="#f7f8fd"/>
<rect x="7.4" y="28.4" width="144.3" height="37" fill="#ffffff" rx="1.8" stroke="#ececf4" stroke-width="0.3"/>
<linearGradient id="igm30" x1="0" y1="0" x2="1" y2="1"><stop offset="0" stop-color="#8fd14f"/><stop offset="1" stop-color="#3fa535"/></linearGradient>
<rect x="12.9" y="37.3" width="19" height="19" fill="url(#igm30)" rx="2.4"/>
<g transform="translate(17.92 42.32) scale(0.37)" fill="none" stroke="#fff" stroke-width="2.64" stroke-linecap="round" stroke-linejoin="round"><circle cx="12" cy="12" r="10"/><path d="M12 6v6l4 2"/></g>
<text x="146.1" y="38.13" font-size="4.94" fill="#a6a6b0" text-anchor="end">زمان حضور در سایت</text>
<text x="146.1" y="50.18" font-size="9.66" fill="#4a4a54" text-anchor="start" direction="rtl">۳۴دقیقه ۱۴ثانیه <tspan font-size="4.8" fill="#22b83c">(۱۰%+)</tspan></text>
<text x="146.1" y="59.57" font-size="4.48" fill="#a6a6b0" text-anchor="end">تجزیه و تحلیل هفته گذشته</text>
<rect x="7.4" y="74.1" width="144.3" height="37.4" fill="#ffffff" rx="1.8" stroke="#ececf4" stroke-width="0.3"/>
<linearGradient id="igm31" x1="0" y1="0" x2="1" y2="1"><stop offset="0" stop-color="#3b5564"/><stop offset="1" stop-color="#16262f"/></linearGradient>
<rect x="12.9" y="83" width="19" height="19" fill="url(#igm31)" rx="2.4"/>
<g transform="translate(17.92 88.02) scale(0.37)" fill="none" stroke="#fff" stroke-width="2.64" stroke-linecap="round" stroke-linejoin="round"><path d="M6 20V10M12 20V4M18 20v-7"/></g>
<text x="146.1" y="83.83" font-size="4.94" fill="#a6a6b0" text-anchor="end">جلسات جدید</text>
<text x="146.1" y="95.88" font-size="9.66" fill="#4a4a54" text-anchor="start" direction="rtl">۹۶% <tspan font-size="4.8" fill="#e5202e">(۵۴%+)</tspan></text>
<text x="146.1" y="105.27" font-size="4.48" fill="#a6a6b0" text-anchor="end">تجزیه و تحلیل هفته گذشته</text>
<rect x="159.9" y="28.4" width="144.3" height="37" fill="#ffffff" rx="1.8" stroke="#ececf4" stroke-width="0.3"/>
<linearGradient id="igm32" x1="0" y1="0" x2="1" y2="1"><stop offset="0" stop-color="#ff6a5c"/><stop offset="1" stop-color="#f5286e"/></linearGradient>
<rect x="165.4" y="37.3" width="19" height="19" fill="url(#igm32)" rx="2.4"/>
<g transform="translate(170.42 42.32) scale(0.37)" fill="none" stroke="#fff" stroke-width="2.64" stroke-linecap="round" stroke-linejoin="round"><circle cx="9" cy="8" r="3.5"/><circle cx="17" cy="9" r="2.5"/><path d="M2 20c0-6 14-6 14 0M16 14c3-1 6 1 6 5"/></g>
<text x="298.6" y="38.13" font-size="4.94" fill="#a6a6b0" text-anchor="end">کاربران</text>
<text x="298.6" y="50.18" font-size="9.66" fill="#4a4a54" text-anchor="start" direction="rtl">۱۶,۳۵۲ <tspan font-size="4.8" fill="#22b83c">(۲۳%+)</tspan></text>
<text x="298.6" y="59.57" font-size="4.48" fill="#a6a6b0" text-anchor="end">تجزیه و تحلیل هفته گذشته</text>
<rect x="159.9" y="74.1" width="144.3" height="37.4" fill="#ffffff" rx="1.8" stroke="#ececf4" stroke-width="0.3"/>
<linearGradient id="igm33" x1="0" y1="0" x2="1" y2="1"><stop offset="0" stop-color="#5b8cff"/><stop offset="1" stop-color="#22b8f0"/></linearGradient>
<rect x="165.4" y="83" width="19" height="19" fill="url(#igm33)" rx="2.4"/>
<g transform="translate(170.42 88.02) scale(0.37)" fill="none" stroke="#fff" stroke-width="2.64" stroke-linecap="round" stroke-linejoin="round"><rect x="3" y="3" width="18" height="18" rx="2"/><path d="M6 16l4-5 3 3 5-6"/></g>
<text x="298.6" y="83.83" font-size="4.94" fill="#a6a6b0" text-anchor="end">نرخ پیشرفت</text>
<text x="298.6" y="95.88" font-size="9.66" fill="#4a4a54" text-anchor="start" direction="rtl">۵۸% <tspan font-size="4.8" fill="#e5202e">(۱۶%-)</tspan></text>
<text x="298.6" y="105.27" font-size="4.48" fill="#a6a6b0" text-anchor="end">تجزیه و تحلیل هفته گذشته</text>
<rect x="312.4" y="28.4" width="144.3" height="37" fill="#ffffff" rx="1.8" stroke="#ececf4" stroke-width="0.3"/>
<linearGradient id="igm34" x1="0" y1="0" x2="1" y2="1"><stop offset="0" stop-color="#8a3ffc"/><stop offset="1" stop-color="#5b21d6"/></linearGradient>
<rect x="317.9" y="37.3" width="19" height="19" fill="url(#igm34)" rx="2.4"/>
<g transform="translate(322.92 42.32) scale(0.37)" fill="none" stroke="#fff" stroke-width="2.64" stroke-linecap="round" stroke-linejoin="round"><path d="M4 12a8 8 0 0 1 14-5l2-2v6h-6l2-2a5 5 0 0 0-9 3M20 12a8 8 0 0 1-14 5l-2 2v-6h6l-2 2a5 5 0 0 0 9-3"/></g>
<text x="451.1" y="38.13" font-size="4.94" fill="#a6a6b0" text-anchor="end">جلسات</text>
<text x="451.1" y="50.18" font-size="9.66" fill="#4a4a54" text-anchor="start" direction="rtl">۳۲,۸۴۲ <tspan font-size="4.8" fill="#22b83c">(۴۰%+)</tspan></text>
<text x="451.1" y="59.57" font-size="4.48" fill="#22b83c" text-anchor="end">تجزیه و تحلیل هفته گذشته</text>
<rect x="312.4" y="74.1" width="144.3" height="37.4" fill="#ffffff" rx="1.8" stroke="#ececf4" stroke-width="0.3"/>
<linearGradient id="igm35" x1="0" y1="0" x2="1" y2="1"><stop offset="0" stop-color="#ffc21a"/><stop offset="1" stop-color="#ff9a00"/></linearGradient>
<rect x="317.9" y="83" width="19" height="19" fill="url(#igm35)" rx="2.4"/>
<g transform="translate(322.92 88.02) scale(0.37)" fill="none" stroke="#fff" stroke-width="2.64" stroke-linecap="round" stroke-linejoin="round"><path d="M12 2l9 5v10l-9 5-9-5V7zM3 7l9 5 9-5M12 12v10"/></g>
<text x="451.1" y="83.83" font-size="4.94" fill="#a6a6b0" text-anchor="end">تکمیل تعداد</text>
<text x="451.1" y="95.88" font-size="9.66" fill="#4a4a54" text-anchor="start" direction="rtl">۱,۹۴۲,۳۳۵</text>
<text x="451.1" y="105.27" font-size="4.48" fill="#a6a6b0" text-anchor="end">تجزیه و تحلیل ماه گذشته</text>
<rect x="7.4" y="120.7" width="221.1" height="129.8" fill="#ffffff" rx="1.8" stroke="#ececf4" stroke-width="0.3"/>
<text x="118" y="134.37" font-size="6.21" fill="#3a3a42" text-anchor="middle">استفاده از مرورگر</text>
<text x="118" y="144.63" font-size="4.37" fill="#4a4a54" text-anchor="middle" opacity="0.8">سوابق استفاده از مرورگر توسط کاربران</text>
<path d="M212.7 130.5L217.9 130.5" stroke="#4a4a52" stroke-width="0.9" fill="none"/>
<path d="M212.7 132.3L217.9 132.3" stroke="#4a4a52" stroke-width="0.9" fill="none"/>
<path d="M212.7 134.1L217.9 134.1" stroke="#4a4a52" stroke-width="0.9" fill="none"/>
<path d="M33 151.3L222 151.3" stroke="#ececf1" stroke-width="0.35" fill="none"/>
<text x="30.5" y="152.59" font-size="3.68" fill="#b8b8c2" text-anchor="end">۱۰۰</text>
<path d="M33 171.3L222 171.3" stroke="#ececf1" stroke-width="0.35" fill="none"/>
<text x="30.5" y="172.59" font-size="3.68" fill="#b8b8c2" text-anchor="end">۷۵</text>
<path d="M33 191.2L222 191.2" stroke="#ececf1" stroke-width="0.35" fill="none"/>
<text x="30.5" y="192.49" font-size="3.68" fill="#b8b8c2" text-anchor="end">۵۰</text>
<path d="M33 211.2L222 211.2" stroke="#ececf1" stroke-width="0.35" fill="none"/>
<text x="30.5" y="212.49" font-size="3.68" fill="#b8b8c2" text-anchor="end">۲۵</text>
<path d="M33 231.2L222 231.2" stroke="#ececf1" stroke-width="0.35" fill="none"/>
<text x="30.5" y="232.49" font-size="3.68" fill="#b8b8c2" text-anchor="end">۰</text>
<text transform="translate(20.2 191) rotate(-90)" font-size="3.3" fill="#a6a6b0" text-anchor="middle">استفاده از مرورگرها توسط کاربران</text>
<rect x="45.5" y="193.7" width="14.8" height="37.5" fill="#8a3ffc"/>
<text x="52.9" y="191.99" font-size="4.25" fill="#4a4a54" text-anchor="middle" font-weight="bold">۴۱.۲%</text>
<text x="52.9" y="238.25" font-size="4.14" fill="#a6a6b0" text-anchor="middle">کروم</text>
<rect x="75.4" y="212.2" width="14.8" height="19" fill="#e5202e"/>
<text x="82.8" y="210.49" font-size="4.25" fill="#4a4a54" text-anchor="middle" font-weight="bold">۲۱.۴%</text>
<text x="82.8" y="238.25" font-size="4.14" fill="#a6a6b0" text-anchor="middle">فایرفاکس</text>
<rect x="105.3" y="198.6" width="14.8" height="32.6" fill="#ffc107"/>
<text x="112.7" y="196.89" font-size="4.25" fill="#4a4a54" text-anchor="middle" font-weight="bold">۳۱.۵%</text>
<text x="112.7" y="238.25" font-size="4.14" fill="#a6a6b0" text-anchor="middle">اینترنت اکسپلورر</text>
<rect x="135.3" y="196.4" width="14.8" height="34.8" fill="#2ecc40"/>
<text x="142.7" y="194.69" font-size="4.25" fill="#4a4a54" text-anchor="middle" font-weight="bold">۳۳.۲%</text>
<text x="142.7" y="238.25" font-size="4.14" fill="#a6a6b0" text-anchor="middle">سافاری</text>
<rect x="166.3" y="170.3" width="14.8" height="60.9" fill="#1e2126"/>
<text x="173.7" y="168.59" font-size="4.25" fill="#4a4a54" text-anchor="middle" font-weight="bold">۷۱.۳%</text>
<text x="173.7" y="238.25" font-size="4.14" fill="#a6a6b0" text-anchor="middle">مایکروسافت اج</text>
<rect x="196.6" y="217.6" width="14.8" height="13.6" fill="#29c5f6"/>
<text x="204" y="215.89" font-size="4.25" fill="#4a4a54" text-anchor="middle" font-weight="bold">۱۶.۴%</text>
<text x="204" y="238.25" font-size="4.14" fill="#a6a6b0" text-anchor="middle">اپرا</text>
<rect x="236.6" y="120.7" width="220" height="129.8" fill="#ffffff" rx="1.8" stroke="#ececf4" stroke-width="0.3"/>
<text x="345.5" y="134.37" font-size="6.21" fill="#4a4a54" text-anchor="middle">دستگاه جلسات</text>
<text x="345.5" y="144.63" font-size="4.37" fill="#4a4a54" text-anchor="middle" opacity="0.8">نسبت دستگاههایی که توسط کاربران استفاده می شود</text>
<path d="M440.4 130.5L445.6 130.5" stroke="#4a4a52" stroke-width="0.9" fill="none"/>
<path d="M440.4 132.3L445.6 132.3" stroke="#4a4a52" stroke-width="0.9" fill="none"/>
<path d="M440.4 134.1L445.6 134.1" stroke="#4a4a52" stroke-width="0.9" fill="none"/>
<path d="M347 165.5A26.3 26.3 0 1 1 337.36 216.27" fill="none" stroke="#8a3ffc" stroke-width="10.5"/>
<path d="M337.57 216.35A26.3 26.3 0 0 1 327.3 174.37" fill="none" stroke="#e5283a" stroke-width="10.5"/>
<path d="M327.15 174.55A26.3 26.3 0 0 1 347.23 165.5" fill="none" stroke="#ffc21a" stroke-width="10.5"/>
<path d="M378.8 200.1L388 200.1" stroke="#8a3ffc" stroke-width="0.35" fill="none"/>
<text x="390" y="201.67" font-size="4.48" fill="#4a4a54" text-anchor="end" direction="rtl">% دسکتاپ:۵۲۰</text>
<path d="M315.5 200.8L305 202.6" stroke="#e5283a" stroke-width="0.35" fill="none"/>
<text x="303" y="204.17" font-size="4.48" fill="#4a4a54" text-anchor="start" direction="rtl">% موبایل:۳۰۰</text>
<path d="M332.5 163.3L326 157.3" stroke="#ffc21a" stroke-width="0.35" fill="none"/>
<text x="324.5" y="158.17" font-size="4.48" fill="#4a4a54" text-anchor="start" direction="rtl">% تبلت:۴۰</text>
<circle cx="376.9" cy="234" r="2.1" fill="#8a3ffc"/>
<text x="373.1" y="235.81" font-size="4.6" fill="#4a4a54" text-anchor="end">دسکتاپ</text>
<circle cx="350.8" cy="234" r="2.1" fill="#e5283a"/>
<text x="347" y="235.81" font-size="4.6" fill="#4a4a54" text-anchor="end">موبایل</text>
<circle cx="324.7" cy="234" r="2.1" fill="#ffc21a"/>
<text x="320.9" y="235.81" font-size="4.6" fill="#4a4a54" text-anchor="end">تبلت</text>
<rect x="7.4" y="260.6" width="144.3" height="120" fill="#ffffff" rx="1.8" stroke="#ececf4" stroke-width="0.3"/>
<text x="147" y="267.81" font-size="4.6" fill="#a6a6b0" text-anchor="end">منابع ترافیک</text>
<path d="M7.4 271.8L151.7 271.8" stroke="#e9e9f0" stroke-width="0.4" fill="none"/>
<text x="145.4" y="284.69" font-size="4.83" fill="#4a4a54" text-anchor="end" font-weight="bold">منبع</text>
<text x="107.6" y="284.69" font-size="4.83" fill="#4a4a54" text-anchor="end" font-weight="bold">بازدیدکنندگان</text>
<text x="58.6" y="284.69" font-size="4.83" fill="#4a4a54" text-anchor="end" font-weight="bold">نرخ پیشرفت</text>
<path d="M14 290.4L147 290.4" stroke="#3a3a42" stroke-width="0.7" fill="none"/>
<rect x="14" y="290.7" width="133" height="13.4" fill="#ececf0"/>
<path d="M14 304.2L147 304.2" stroke="#e9e9f0" stroke-width="0.3" fill="none"/>
<text x="145.4" y="299.09" font-size="4.83" fill="#4a4a54" text-anchor="end">(مستقیم)</text>
<text x="104" y="299.09" font-size="4.83" fill="#4a4a54" text-anchor="end">۵۶</text>
<text x="58.6" y="299.09" font-size="4.83" fill="#4a4a54" text-anchor="end">۱۰%</text>
<path d="M14 317.8L147 317.8" stroke="#e9e9f0" stroke-width="0.3" fill="none"/>
<text x="145.4" y="312.69" font-size="4.83" fill="#4a4a54" text-anchor="end">گوگل</text>
<text x="104" y="312.69" font-size="4.83" fill="#4a4a54" text-anchor="end">۳۹</text>
<text x="58.6" y="312.69" font-size="4.83" fill="#4a4a54" text-anchor="end">۱۳%</text>
<rect x="14" y="317.9" width="133" height="13.4" fill="#ececf0"/>
<path d="M14 331.4L147 331.4" stroke="#e9e9f0" stroke-width="0.3" fill="none"/>
<text x="145.4" y="326.29" font-size="4.83" fill="#4a4a54" text-anchor="end">لینکدین</text>
<text x="104" y="326.29" font-size="4.83" fill="#4a4a54" text-anchor="end">۶۸</text>
<text x="58.6" y="326.29" font-size="4.83" fill="#4a4a54" text-anchor="end">۳۳%</text>
<path d="M14 345L147 345" stroke="#e9e9f0" stroke-width="0.3" fill="none"/>
<text x="145.4" y="339.89" font-size="4.83" fill="#4a4a54" text-anchor="end">بینگ</text>
<text x="104" y="339.89" font-size="4.83" fill="#4a4a54" text-anchor="end">۴۲</text>
<text x="58.6" y="339.89" font-size="4.83" fill="#4a4a54" text-anchor="end">۲۶%</text>
<rect x="14" y="345.1" width="133" height="13.4" fill="#ececf0"/>
<path d="M14 358.6L147 358.6" stroke="#e9e9f0" stroke-width="0.3" fill="none"/>
<text x="145.4" y="353.49" font-size="4.83" fill="#4a4a54" text-anchor="end">فیسبوک</text>
<text x="104" y="353.49" font-size="4.83" fill="#4a4a54" text-anchor="end">۱۱</text>
<text x="58.6" y="353.49" font-size="4.83" fill="#4a4a54" text-anchor="end">۱۲%</text>
<rect x="159.9" y="260.6" width="296.7" height="120" fill="#ffffff" rx="1.8" stroke="#ececf4" stroke-width="0.3"/>
<text x="450" y="268.57" font-size="6.21" fill="#4a4a54" text-anchor="end">نمای کلی مخاطبان وب سایت</text>
<text x="450" y="275.81" font-size="4.02" fill="#a6a6b0" text-anchor="end">تعداد زیادی سایت رایگان پیوکسی وب وجود دارد که می توانید از آنها استفاده کنید</text>
<rect x="165" y="263.3" width="50" height="12.5" fill="none" rx="1.4" stroke="#dddde6" stroke-width="0.4"/>
<text x="173.3" y="271.23" font-size="4.37" fill="#4a4a54" text-anchor="middle">ماه</text>
<path d="M181.67 263.3L181.67 275.8" stroke="#dddde6" stroke-width="0.4" fill="none"/>
<text x="189.97" y="271.23" font-size="4.37" fill="#4a4a54" text-anchor="middle">هفته</text>
<path d="M198.34 263.3L198.34 275.8" stroke="#dddde6" stroke-width="0.4" fill="none"/>
<text x="206.64" y="271.23" font-size="4.37" fill="#4a4a54" text-anchor="middle">روز</text>
<text x="305.7" y="296.81" font-size="5.75" fill="#4a4a54" text-anchor="middle">نمای کلی مخاطبان وب سایت</text>
<text x="305.7" y="305.97" font-size="3.91" fill="#a6a6b0" text-anchor="middle">نمای کلی مخاطبان وب سایت</text>
<path d="M177 311.2L450 311.2" stroke="#ececf1" stroke-width="0.35" fill="none"/>
<text x="174.5" y="312.45" font-size="3.56" fill="#b8b8c2" text-anchor="end">۳۰۰</text>
<path d="M177 330.2L450 330.2" stroke="#ececf1" stroke-width="0.35" fill="none"/>
<text x="174.5" y="331.45" font-size="3.56" fill="#b8b8c2" text-anchor="end">۲۰۰</text>
<text transform="translate(168.5 338) rotate(-90)" font-size="3.2" fill="#a6a6b0" text-anchor="middle">بازدید</text>
<rect x="258.3" y="346.5" width="3.4" height="6.5" fill="#7c3aed" rx="0.5"/>
<rect x="280" y="343.8" width="3.4" height="9.2" fill="#7c3aed" rx="0.5"/>
<rect x="301.3" y="337.3" width="3.4" height="15.7" fill="#7c3aed" rx="0.5"/>
<rect x="323" y="345.5" width="3.4" height="7.5" fill="#7c3aed" rx="0.5"/>
<rect x="344.7" y="342.7" width="3.4" height="10.3" fill="#7c3aed" rx="0.5"/>
<rect x="365.9" y="329.1" width="3.4" height="23.9" fill="#7c3aed" rx="0.5"/>
<rect x="387.6" y="334" width="3.4" height="19" fill="#7c3aed" rx="0.5"/>
<rect x="0" y="0" width="464.2" height="20.6" fill="#ffffff"/>
<path d="M0 20.6L464.2 20.6" stroke="#e6e3f2" stroke-width="0.4" fill="none"/>
<text x="40.6" y="8.8" font-size="6" fill="#62626c" text-anchor="end" textLength="25" lengthAdjust="spacingAndGlyphs">پریسا توکلی</text>
<text x="40.6" y="15.41" font-size="4.6" fill="#acacb6" text-anchor="end" textLength="14.4" lengthAdjust="spacingAndGlyphs">طراح وب</text>
<clipPath id="avm3"><circle cx="52.6" cy="10.4" r="7.2"/></clipPath>
<g clip-path="url(#avm3)">
<circle cx="52.6" cy="10.4" r="7.2" fill="#cbc5c0"/>
<ellipse cx="52.6" cy="11.98" rx="6.05" ry="7.2" fill="#4e3626"/>
<ellipse cx="52.6" cy="17.96" rx="5.76" ry="3.6" fill="#3c2a20"/>
<ellipse cx="52.6" cy="9.54" rx="2.45" ry="3.02" fill="#dcae94"/>
</g>
<circle cx="52.6" cy="10.4" r="7.2" fill="none" stroke="#c4c4ca" stroke-width="0.5" opacity="0.9"/>
<path d="M65.6 0L65.6 20.6" stroke="#e6e3f2" stroke-width="0.4" fill="none"/>
<g transform="translate(75.51 6.81) scale(0.34)" fill="none" stroke="#34343c" stroke-width="2.53" stroke-linecap="round" stroke-linejoin="round"><path d="M21 15a2 2 0 0 1-2 2H7l-4 4V5a2 2 0 0 1 2-2h14a2 2 0 0 1 2 2z"/></g>
<circle cx="76.9" cy="6.9" r="2.8" fill="#e8253a"/>
<text x="76.9" y="8.03" font-size="3.22" fill="#fff" text-anchor="middle">۸</text>
<g transform="translate(92.51 6.81) scale(0.34)" fill="none" stroke="#34343c" stroke-width="2.53" stroke-linecap="round" stroke-linejoin="round"><path d="M18 8A6 6 0 0 0 6 8c0 7-3 9-3 9h18s-3-2-3-9M13.7 21a2 2 0 0 1-3.4 0"/></g>
<circle cx="93.9" cy="6.9" r="2.8" fill="#e8253a"/>
<text x="93.9" y="8.03" font-size="3.22" fill="#fff" text-anchor="middle">۷</text>
<g transform="translate(107.99 6.69) scale(0.32)" fill="none" stroke="#34343c" stroke-width="2.86" stroke-linecap="round" stroke-linejoin="round"><rect x="3" y="3" width="7" height="7" rx="1"/><rect x="14" y="3" width="7" height="7" rx="1"/><rect x="14" y="14" width="7" height="7" rx="1"/><rect x="3" y="14" width="7" height="7" rx="1"/></g>
<g transform="translate(124.17 6.67) scale(0.34)" fill="none" stroke="#34343c" stroke-width="3.08" stroke-linecap="round" stroke-linejoin="round"><circle cx="11" cy="11" r="7"/><path d="M21 21l-5-5"/></g>
<g transform="translate(404.65 6.25) scale(0.27)" fill="none" stroke="#34343c" stroke-width="3.08" stroke-linecap="round" stroke-linejoin="round"><rect x="3" y="3" width="18" height="18" rx="2"/><path d="M8 12l3 3 6-7"/></g>
<g transform="translate(417.7 6.25) scale(0.27)" fill="none" stroke="#34343c" stroke-width="3.08" stroke-linecap="round" stroke-linejoin="round"><rect x="3" y="4" width="18" height="18" rx="2"/><path d="M16 2v4M8 2v4M3 10h18"/></g>
<g transform="translate(430.75 6.25) scale(0.27)" fill="none" stroke="#34343c" stroke-width="3.08" stroke-linecap="round" stroke-linejoin="round"><path d="M21 15a2 2 0 0 1-2 2H7l-4 4V5a2 2 0 0 1 2-2h14a2 2 0 0 1 2 2z"/></g>
<g transform="translate(443.8 6.25) scale(0.27)" fill="none" stroke="#34343c" stroke-width="3.08" stroke-linecap="round" stroke-linejoin="round"><rect x="2" y="4" width="20" height="16" rx="2"/><path d="M22 6l-10 7L2 6"/></g>
<rect x="0" y="347.4" width="464.2" height="12.6" fill="#ffffff"/>
<path d="M0 347.4L464.2 347.4" stroke="#e6e3f2" stroke-width="0.4" fill="none"/>
<text x="230" y="355.51" font-size="4.6" fill="#55555f" text-anchor="middle" direction="rtl">کپی رایت © ۲۰۲۱. تمامی حقوق محفوظ است.</text>
<linearGradient id="sgm3" x1="0" y1="0" x2="0" y2="1"><stop offset="0" stop-color="#4c6a76"/><stop offset="0.2" stop-color="#36535e"/><stop offset="0.4" stop-color="#213e49"/><stop offset="0.6" stop-color="#152a34"/><stop offset="1" stop-color="#0b161c"/></linearGradient>
<linearGradient id="shm3" x1="1" y1="0" x2="0" y2="0.45"><stop offset="0" stop-color="#ffffff" stop-opacity="0.2"/><stop offset="0.6" stop-color="#ffffff" stop-opacity="0"/><stop offset="1" stop-color="#000000" stop-opacity="0.12"/></linearGradient>
<rect x="464.2" y="0" width="85.8" height="360" fill="url(#sgm3)"/>
<rect x="464.2" y="0" width="85.8" height="360" fill="url(#shm3)"/>
<path d="M464.2 0L464.2 360" stroke="#3a5460" stroke-width="0.4" fill="none"/>
<text x="527.4" y="12.34" font-size="8.4" fill="#ffffff" text-anchor="end" textLength="34.8" lengthAdjust="spacingAndGlyphs">Synadmin</text>
<g transform="translate(536.2 9.6) scale(1)" fill="none" stroke-linejoin="round" stroke-linecap="round"><path d="M-0.4 -5.8L-3.4 0H2.6Z" stroke="#ffffff" stroke-width="1.25"/><path d="M-2 -2h3.2" stroke="#ffffff" stroke-width="0.8"/><path d="M6.8 -1C2 -0.6 -3 -0.2 -5.2 1.5C-7.3 3.1 -6.3 4.7 -3.4 6" stroke="#ffffff" stroke-width="1.5"/></g>
<path d="M472.6 7.5l1.8 1.8 -1.8 1.8M476 7.5v3.6" fill="none" stroke="#f2f4f5" stroke-width="0.8"/>
<path d="M464.2 20.6L550 20.6" stroke="#3a5460" stroke-width="0.4" fill="none"/>
<rect x="468.2" y="26" width="78.8" height="15.6" fill="#6c8792" rx="1.2"/>
<g transform="translate(533.1 29.3) scale(0.31)" fill="none" stroke="#ffffff" stroke-width="2.64" stroke-linecap="round" stroke-linejoin="round"><path d="M3 10l9-8 9 8v10a2 2 0 0 1-2 2H5a2 2 0 0 1-2-2z"/><path d="M9 22v-8h6v8"/></g>
<text x="529.3" y="35.47" font-size="5.63" fill="#ffffff" text-anchor="end">داشبورد</text>
<text x="474.6" y="34.81" font-size="6.32" fill="#ffffff" text-anchor="middle">⌄</text>
<rect x="468.2" y="41.6" width="78.8" height="68.6" fill="none" rx="1" stroke="#4a6470" stroke-width="0.35"/>
<path d="M537.2 49.2l2.0 -1.3v2.6z" fill="#f2f4f5"/>
<text x="533.4" y="51.31" font-size="5.17" fill="#f2f4f5" text-anchor="end">تجزیه و تحلیل</text>
<path d="M537.2 62.5l2.0 -1.3v2.6z" fill="#f2f4f5"/>
<text x="533.4" y="64.61" font-size="5.17" fill="#f2f4f5" text-anchor="end">فروش</text>
<path d="M537.2 75.8l2.0 -1.3v2.6z" fill="#f2f4f5"/>
<text x="533.4" y="77.91" font-size="5.17" fill="#f2f4f5" text-anchor="end">فروشگاه</text>
<rect x="468.2" y="83.6" width="78.8" height="11" fill="#5a7480"/>
<path d="M537.2 89.1l2.0 -1.3v2.6z" fill="#ffffff"/>
<text x="533.4" y="91.21" font-size="5.17" fill="#ffffff" text-anchor="end" font-weight="bold">متناوب</text>
<path d="M537.2 102.4l2.0 -1.3v2.6z" fill="#f2f4f5"/>
<text x="533.4" y="104.51" font-size="5.17" fill="#f2f4f5" text-anchor="end">بیمارستان</text>
<g transform="translate(533.1 116.2) scale(0.31)" fill="none" stroke="#f2f4f5" stroke-width="2.42" stroke-linecap="round" stroke-linejoin="round"><path d="M12 21c-4 0-7-3-7-7 3 0 5 1 7 4 2-3 4-4 7-4 0 4-3 7-7 7zM12 17c-3-3-3-9 0-13 3 4 3 10 0 13z"/></g>
<text x="529.3" y="122.27" font-size="5.63" fill="#f2f4f5" text-anchor="end">اپلیکیشن</text>
<text x="474.8" y="122.31" font-size="6.9" fill="#f2f4f5" text-anchor="middle">‹</text>
<text x="545.6" y="140.83" font-size="3.79" fill="#c8d0d4" text-anchor="start" direction="rtl">عناصر UI</text>
<g transform="translate(533.1 149.5) scale(0.31)" fill="none" stroke="#f2f4f5" stroke-width="2.42" stroke-linecap="round" stroke-linejoin="round"><rect x="2" y="7" width="20" height="14" rx="2"/><path d="M16 7V5a2 2 0 0 0-2-2h-4a2 2 0 0 0-2 2v2M2 13h20"/></g>
<text x="529.3" y="155.57" font-size="5.63" fill="#f2f4f5" text-anchor="end">ویجت ها</text>
<g transform="translate(533.1 167.8) scale(0.31)" fill="none" stroke="#f2f4f5" stroke-width="2.42" stroke-linecap="round" stroke-linejoin="round"><path d="M2 4h20l-2 7H4zM5 11v9M19 11v9M9 11v5h6v-5"/></g>
<text x="529.3" y="173.87" font-size="5.63" fill="#f2f4f5" text-anchor="end">فروشگاه</text>
<text x="474.8" y="173.91" font-size="6.9" fill="#f2f4f5" text-anchor="middle">‹</text>
<g transform="translate(533.1 185.6) scale(0.31)" fill="none" stroke="#f2f4f5" stroke-width="2.42" stroke-linecap="round" stroke-linejoin="round"><path d="M20 12v10H4V12"/><rect x="2" y="7" width="20" height="5"/><path d="M12 22V7M12 7H7.5a2.5 2.5 0 0 1 0-5C11 2 12 7 12 7zM12 7h4.5a2.5 2.5 0 0 0 0-5C13 2 12 7 12 7z"/></g>
<text x="529.3" y="191.67" font-size="5.63" fill="#f2f4f5" text-anchor="end">کامپوننت ها</text>
<text x="474.8" y="191.71" font-size="6.9" fill="#f2f4f5" text-anchor="middle">‹</text>
<g transform="translate(533.1 203.1) scale(0.31)" fill="none" stroke="#f2f4f5" stroke-width="2.42" stroke-linecap="round" stroke-linejoin="round"><path d="M18 3a3 3 0 0 0-3 3v12a3 3 0 0 0 3 3 3 3 0 0 0 3-3 3 3 0 0 0-3-3H6a3 3 0 0 0-3 3 3 3 0 0 0 3 3 3 3 0 0 0 3-3V6a3 3 0 0 0-3-3 3 3 0 0 0-3 3 3 3 0 0 0 3 3h12a3 3 0 0 0 3-3 3 3 0 0 0-3-3z"/></g>
<text x="529.3" y="209.17" font-size="5.63" fill="#f2f4f5" text-anchor="end">محتوا</text>
<text x="474.8" y="209.21" font-size="6.9" fill="#f2f4f5" text-anchor="middle">‹</text>
<g transform="translate(533.1 221.3) scale(0.31)" fill="none" stroke="#f2f4f5" stroke-width="2.42" stroke-linecap="round" stroke-linejoin="round"><rect x="3" y="3" width="18" height="18" rx="4"/><circle cx="12" cy="12" r="4"/><path d="M3 3l6 6M21 3l-6 6M3 21l6-6M21 21l-6-6"/></g>
<text x="529.3" y="227.37" font-size="5.63" fill="#f2f4f5" text-anchor="end">آیکون ها</text>
<text x="474.8" y="227.41" font-size="6.9" fill="#f2f4f5" text-anchor="middle">‹</text>
<text x="545.6" y="245.93" font-size="3.79" fill="#c8d0d4" text-anchor="start" direction="rtl">فرم ها و جداول</text>
<g transform="translate(533.1 255.6) scale(0.31)" fill="none" stroke="#f2f4f5" stroke-width="2.42" stroke-linecap="round" stroke-linejoin="round"><path d="M5 2h14M5 22h14M7 2c0 6 5 6 5 10s-5 4-5 10M17 2c0 6-5 6-5 10s5 4 5 10"/></g>
<text x="529.3" y="261.67" font-size="5.63" fill="#f2f4f5" text-anchor="end">فرم ها</text>
<text x="474.8" y="261.72" font-size="6.9" fill="#f2f4f5" text-anchor="middle">‹</text>
<g transform="translate(533.1 273.2) scale(0.31)" fill="none" stroke="#f2f4f5" stroke-width="2.42" stroke-linecap="round" stroke-linejoin="round"><rect x="3" y="3" width="7" height="7" rx="1"/><rect x="14" y="3" width="7" height="7" rx="1"/><rect x="14" y="14" width="7" height="7" rx="1"/><rect x="3" y="14" width="7" height="7" rx="1"/></g>
<text x="529.3" y="279.27" font-size="5.63" fill="#f2f4f5" text-anchor="end">جداول</text>
<text x="474.8" y="279.32" font-size="6.9" fill="#f2f4f5" text-anchor="middle">‹</text>
<text x="545.6" y="297.43" font-size="3.79" fill="#c8d0d4" text-anchor="start" direction="rtl">صفحات</text>
<g transform="translate(533.1 307.3) scale(0.31)" fill="none" stroke="#f2f4f5" stroke-width="2.42" stroke-linecap="round" stroke-linejoin="round"><rect x="3" y="11" width="18" height="11" rx="2"/><path d="M7 11V7a5 5 0 0 1 10 0v4"/></g>
<text x="529.3" y="313.37" font-size="5.63" fill="#f2f4f5" text-anchor="end">احراز هویت</text>
<text x="474.8" y="313.42" font-size="6.9" fill="#f2f4f5" text-anchor="middle">‹</text>
<g transform="translate(533.1 324.7) scale(0.31)" fill="none" stroke="#f2f4f5" stroke-width="2.42" stroke-linecap="round" stroke-linejoin="round"><rect x="3" y="2" width="18" height="20" rx="2"/><circle cx="12" cy="9" r="3"/><path d="M7 18c1-3 9-3 10 0"/></g>
<text x="529.3" y="330.77" font-size="5.63" fill="#f2f4f5" text-anchor="end">پروفایل کاربر</text>
<g transform="translate(533.1 342.6) scale(0.31)" fill="none" stroke="#f2f4f5" stroke-width="2.42" stroke-linecap="round" stroke-linejoin="round"><path d="M4 20V11l5-2 3-5 3 3h5v13z"/><circle cx="9" cy="15" r="1.5"/><circle cx="15" cy="15" r="1.5"/></g>
<text x="529.3" y="348.67" font-size="5.63" fill="#f2f4f5" text-anchor="end">تایم لاین</text>
<path d="M0 143.2h11.3a3 3 0 0 1 3 3v7.7a3 3 0 0 1-3 3h-11.3z" fill="#6b38ef"/>
<circle cx="7" cy="150.1" r="3.0" fill="none" stroke="#fff" stroke-width="1.3" stroke-dasharray="1.75 1.39" opacity="0.95"/>
<circle cx="7" cy="150.1" r="2.1" fill="none" stroke="#fff" stroke-width="1.2" opacity="0.95"/></svg></div>
<div class="m" style="top:1486px;height:360px"><svg width="550" height="360" viewBox="0 0 550 360"><rect x="0" y="0" width="550" height="360" fill="#f7f8fd"/>
<clipPath id="wcm40"><rect x="35.7" y="49.8" width="113.31" height="47.6" rx="1.8"/></clipPath>
<rect x="35.7" y="49.8" width="113.31" height="47.6" fill="#ffffff" rx="1.8" stroke="#ececf4" stroke-width="0.3"/>
<linearGradient id="wgm40" x1="0" y1="0" x2="0" y2="1"><stop offset="0" stop-color="#2fd24f" stop-opacity="0.7"/><stop offset="1" stop-color="#2fd24f" stop-opacity="0.1"/></linearGradient>
<g clip-path="url(#wcm40)"><path d="M35.7 92.3C37.95 92.56 43.01 95.56 46.95 93.6C50.9 91.64 52.01 83.7 55.42 82.5C58.83 81.3 60.59 87.22 64 87.6C67.41 87.98 68.39 83.64 72.47 84.4C76.54 85.16 79.46 92.74 84.37 91.4C89.28 90.06 92.23 79.28 97.02 77.7C101.8 76.12 103.98 82.8 108.27 83.5C112.56 84.2 114.04 80.38 118.46 81.2C122.87 82.02 126.28 86.7 130.36 87.6C134.43 88.5 135.09 84.76 138.82 85.7C142.55 86.64 146.97 90.98 149.01 92.3L149.01 97.4L35.7 97.4Z" fill="url(#wgm40)"/><path d="M35.7 92.3C37.95 92.56 43.01 95.56 46.95 93.6C50.9 91.64 52.01 83.7 55.42 82.5C58.83 81.3 60.59 87.22 64 87.6C67.41 87.98 68.39 83.64 72.47 84.4C76.54 85.16 79.46 92.74 84.37 91.4C89.28 90.06 92.23 79.28 97.02 77.7C101.8 76.12 103.98 82.8 108.27 83.5C112.56 84.2 114.04 80.38 118.46 81.2C122.87 82.02 126.28 86.7 130.36 87.6C134.43 88.5 135.09 84.76 138.82 85.7C142.55 86.64 146.97 90.98 149.01 92.3" fill="none" stroke="#22b83c" stroke-width="1.05"/></g>
<text x="143.33" y="59.05" font-size="4.71" fill="#a6a6b0" text-anchor="end">دیدگاه</text>
<text x="143.33" y="68.06" font-size="7.59" fill="#4a4a54" text-anchor="start" direction="rtl">۸۶۹</text>
<g transform="translate(42.14 57.58) scale(0.4)" fill="none" stroke="#4a4a54" stroke-width="1.98" stroke-linecap="round" stroke-linejoin="round"><path d="M16 13a2 2 0 0 1-2 2H7l-4 4V5a2 2 0 0 1 2-2h9a2 2 0 0 1 2 2z"/><path d="M20 8v9h-9"/></g>
<clipPath id="wcm41"><rect x="158.12" y="49.8" width="113.31" height="47.6" rx="1.8"/></clipPath>
<rect x="158.12" y="49.8" width="113.31" height="47.6" fill="#ffffff" rx="1.8" stroke="#ececf4" stroke-width="0.3"/>
<linearGradient id="wgm41" x1="0" y1="0" x2="0" y2="1"><stop offset="0" stop-color="#ffc533" stop-opacity="0.7"/><stop offset="1" stop-color="#ffc533" stop-opacity="0.1"/></linearGradient>
<g clip-path="url(#wcm41)"><path d="M158.12 92.3C160.37 92.56 165.43 95.56 169.38 93.6C173.32 91.64 174.44 83.7 177.84 82.5C181.25 81.3 183.01 87.22 186.42 87.6C189.83 87.98 190.82 83.64 194.89 84.4C198.96 85.16 201.88 92.74 206.79 91.4C211.7 90.06 214.66 79.28 219.44 77.7C224.22 76.12 226.41 82.8 230.69 83.5C234.98 84.2 236.46 80.38 240.88 81.2C245.3 82.02 248.7 86.7 252.78 87.6C256.85 88.5 257.52 84.76 261.25 85.7C264.98 86.64 269.39 90.98 271.43 92.3L271.43 97.4L158.12 97.4Z" fill="url(#wgm41)"/><path d="M158.12 92.3C160.37 92.56 165.43 95.56 169.38 93.6C173.32 91.64 174.44 83.7 177.84 82.5C181.25 81.3 183.01 87.22 186.42 87.6C189.83 87.98 190.82 83.64 194.89 84.4C198.96 85.16 201.88 92.74 206.79 91.4C211.7 90.06 214.66 79.28 219.44 77.7C224.22 76.12 226.41 82.8 230.69 83.5C234.98 84.2 236.46 80.38 240.88 81.2C245.3 82.02 248.7 86.7 252.78 87.6C256.85 88.5 257.52 84.76 261.25 85.7C264.98 86.64 269.39 90.98 271.43 92.3" fill="none" stroke="#f2ab12" stroke-width="1.05"/></g>
<text x="265.75" y="59.05" font-size="4.71" fill="#a6a6b0" text-anchor="end">مجموع کاربران</text>
<text x="265.75" y="68.06" font-size="7.59" fill="#4a4a54" text-anchor="start" direction="rtl">۲۴.۵K</text>
<g transform="translate(164.56 57.58) scale(0.4)" fill="none" stroke="#4a4a54" stroke-width="1.98" stroke-linecap="round" stroke-linejoin="round"><circle cx="9" cy="8" r="3.5"/><circle cx="17" cy="9" r="2.5"/><path d="M2 20c0-6 14-6 14 0M16 14c3-1 6 1 6 5"/></g>
<clipPath id="wcm42"><rect x="280.54" y="49.8" width="113.31" height="47.6" rx="1.8"/></clipPath>
<rect x="280.54" y="49.8" width="113.31" height="47.6" fill="#ffffff" rx="1.8" stroke="#ececf4" stroke-width="0.3"/>
<linearGradient id="wgm42" x1="0" y1="0" x2="0" y2="1"><stop offset="0" stop-color="#9b5cff" stop-opacity="0.7"/><stop offset="1" stop-color="#9b5cff" stop-opacity="0.1"/></linearGradient>
<g clip-path="url(#wcm42)"><path d="M280.54 92.3C282.79 92.56 287.85 95.56 291.8 93.6C295.74 91.64 296.86 83.7 300.27 82.5C303.68 81.3 305.43 87.22 308.84 87.6C312.25 87.98 313.24 83.64 317.31 84.4C321.39 85.16 324.3 92.74 329.21 91.4C334.12 90.06 337.08 79.28 341.86 77.7C346.64 76.12 348.83 82.8 353.12 83.5C357.4 84.2 358.88 80.38 363.3 81.2C367.72 82.02 371.13 86.7 375.2 87.6C379.27 88.5 379.94 84.76 383.67 85.7C387.4 86.64 391.82 90.98 393.85 92.3L393.85 97.4L280.54 97.4Z" fill="url(#wgm42)"/><path d="M280.54 92.3C282.79 92.56 287.85 95.56 291.8 93.6C295.74 91.64 296.86 83.7 300.27 82.5C303.68 81.3 305.43 87.22 308.84 87.6C312.25 87.98 313.24 83.64 317.31 84.4C321.39 85.16 324.3 92.74 329.21 91.4C334.12 90.06 337.08 79.28 341.86 77.7C346.64 76.12 348.83 82.8 353.12 83.5C357.4 84.2 358.88 80.38 363.3 81.2C367.72 82.02 371.13 86.7 375.2 87.6C379.27 88.5 379.94 84.76 383.67 85.7C387.4 86.64 391.82 90.98 393.85 92.3" fill="none" stroke="#7c3aed" stroke-width="1.05"/></g>
<text x="388.17" y="59.05" font-size="4.71" fill="#a6a6b0" text-anchor="end">مجموع درآمد</text>
<text x="388.17" y="68.06" font-size="7.59" fill="#4a4a54" text-anchor="start" direction="rtl">۵۲,۹۴۵ تومان</text>
<g transform="translate(286.98 57.58) scale(0.4)" fill="none" stroke="#4a4a54" stroke-width="1.98" stroke-linecap="round" stroke-linejoin="round"><rect x="2" y="5" width="20" height="15" rx="2.5"/><path d="M2 9h20M16 14h3"/></g>
<clipPath id="wcm43"><rect x="402.96" y="49.8" width="113.31" height="47.6" rx="1.8"/></clipPath>
<rect x="402.96" y="49.8" width="113.31" height="47.6" fill="#ffffff" rx="1.8" stroke="#ececf4" stroke-width="0.3"/>
<linearGradient id="wgm43" x1="0" y1="0" x2="0" y2="1"><stop offset="0" stop-color="#f43f4e" stop-opacity="0.7"/><stop offset="1" stop-color="#f43f4e" stop-opacity="0.1"/></linearGradient>
<g clip-path="url(#wcm43)"><path d="M402.96 92.3C405.22 92.56 410.28 95.56 414.22 93.6C418.17 91.64 419.28 83.7 422.69 82.5C426.1 81.3 427.86 87.22 431.27 87.6C434.67 87.98 435.66 83.64 439.73 84.4C443.81 85.16 446.72 92.74 451.63 91.4C456.54 90.06 459.5 79.28 464.28 77.7C469.06 76.12 471.25 82.8 475.54 83.5C479.83 84.2 481.31 80.38 485.72 81.2C490.14 82.02 493.55 86.7 497.62 87.6C501.7 88.5 502.36 84.76 506.09 85.7C509.82 86.64 514.24 90.98 516.28 92.3L516.28 97.4L402.96 97.4Z" fill="url(#wgm43)"/><path d="M402.96 92.3C405.22 92.56 410.28 95.56 414.22 93.6C418.17 91.64 419.28 83.7 422.69 82.5C426.1 81.3 427.86 87.22 431.27 87.6C434.67 87.98 435.66 83.64 439.73 84.4C443.81 85.16 446.72 92.74 451.63 91.4C456.54 90.06 459.5 79.28 464.28 77.7C469.06 76.12 471.25 82.8 475.54 83.5C479.83 84.2 481.31 80.38 485.72 81.2C490.14 82.02 493.55 86.7 497.62 87.6C501.7 88.5 502.36 84.76 506.09 85.7C509.82 86.64 514.24 90.98 516.28 92.3" fill="none" stroke="#e5202e" stroke-width="1.05"/></g>
<text x="510.59" y="59.05" font-size="4.71" fill="#a6a6b0" text-anchor="end">مجموع سفارشات</text>
<text x="510.59" y="68.06" font-size="7.59" fill="#4a4a54" text-anchor="start" direction="rtl">۸۶۷</text>
<g transform="translate(409.4 57.58) scale(0.4)" fill="none" stroke="#4a4a54" stroke-width="1.98" stroke-linecap="round" stroke-linejoin="round"><circle cx="9" cy="21" r="1.3"/><circle cx="19" cy="21" r="1.3"/><path d="M1 2h4l2.7 13.4a2 2 0 0 0 2 1.6h9.7a2 2 0 0 0 2-1.6L23 6H6"/></g>
<rect x="35.7" y="107.5" width="153.3" height="156.8" fill="#ffffff" rx="1.8" stroke="#ececf4" stroke-width="0.3"/>
<text x="182.88" y="119.65" font-size="6.44" fill="#4a4a54" text-anchor="end">هدف فروش</text>
<circle cx="43.52" cy="117.4" r="0.55" fill="#4a4a54"/>
<circle cx="45.35" cy="117.4" r="0.55" fill="#4a4a54"/>
<circle cx="47.17" cy="117.4" r="0.55" fill="#4a4a54"/>
<circle cx="112.99" cy="184.3" r="40.8" fill="none" stroke="#ece6fb" stroke-width="5.2"/>
<path d="M112.99 143.5A40.8 40.8 0 1 1 76.01 201.54" fill="none" stroke="#7c2ff2" stroke-width="5.2" stroke-linecap="round"/>
<text x="112.99" y="175.29" font-size="4.83" fill="#a6a6b0" text-anchor="middle">پیشرفت</text>
<text x="112.99" y="193.03" font-size="15.5" fill="#4a4a54" text-anchor="middle" textLength="29.5" lengthAdjust="spacingAndGlyphs">۶۸%</text>
<text x="183.53" y="243.76" font-size="9.6" fill="#4a4a54" text-anchor="end" textLength="22.5" lengthAdjust="spacingAndGlyphs">۲۲۴۸</text>
<text x="183.53" y="253.05" font-size="4.14" fill="#a6a6b0" text-anchor="end">ارسال ۴ هدف</text>
<rect x="41.81" y="239.6" width="43.74" height="12.2" fill="none" rx="1.2" stroke="#dddde6" stroke-width="0.4"/>
<rect x="77.4" y="243.9" width="3.86" height="3.6" fill="#7c2ff2" rx="0.4"/>
<text x="75.47" y="247.39" font-size="4.25" fill="#a6a6b0" text-anchor="end">فروش بازاریابی</text>
<rect x="198.32" y="107.5" width="317.96" height="156.8" fill="#ffffff" rx="1.8" stroke="#ececf4" stroke-width="0.3"/>
<text x="357.51" y="120.79" font-size="5.4" fill="#4a4a54" text-anchor="middle">گزارش سالیانه ترافیک و فروش</text>
<path d="M498.16 117.3L503.73 117.3" stroke="#4a4a52" stroke-width="0.9" fill="none"/>
<path d="M498.16 119.1L503.73 119.1" stroke="#4a4a52" stroke-width="0.9" fill="none"/>
<path d="M498.16 120.9L503.73 120.9" stroke="#4a4a52" stroke-width="0.9" fill="none"/>
<path d="M221.37 227.1L504.91 227.1" stroke="#ececf1" stroke-width="0.35" fill="none"/>
<text x="218.15" y="228.31" font-size="3.45" fill="#b8b8c2" text-anchor="end">۰k</text>
<path d="M221.37 207.62L504.91 207.62" stroke="#ececf1" stroke-width="0.35" fill="none"/>
<text x="218.15" y="208.83" font-size="3.45" fill="#b8b8c2" text-anchor="end">۱.۶k</text>
<path d="M221.37 188.14L504.91 188.14" stroke="#ececf1" stroke-width="0.35" fill="none"/>
<text x="218.15" y="189.35" font-size="3.45" fill="#b8b8c2" text-anchor="end">۳.۲k</text>
<path d="M221.37 168.66L504.91 168.66" stroke="#ececf1" stroke-width="0.35" fill="none"/>
<text x="218.15" y="169.87" font-size="3.45" fill="#b8b8c2" text-anchor="end">۴.۸k</text>
<path d="M221.37 149.18L504.91 149.18" stroke="#ececf1" stroke-width="0.35" fill="none"/>
<text x="218.15" y="150.39" font-size="3.45" fill="#b8b8c2" text-anchor="end">۶.۴k</text>
<path d="M221.37 129.7L504.91 129.7" stroke="#ececf1" stroke-width="0.35" fill="none"/>
<text x="218.15" y="130.91" font-size="3.45" fill="#b8b8c2" text-anchor="end">۸.۰k</text>
<path d="M236.91 227L254.06 226.5L266.93 225L275.5 221L281.94 215L287.3 206L292.66 194L298.02 182L303.38 173L308.74 168L315.38 166.3L321.6 168.5L326.96 173.5L332.86 177.1L338.75 174L344.54 171.7L350.54 174L355.9 178L360.19 179.8L367.7 180.5L380.56 181L393.42 181.5L399.86 182.5L404.14 188L408.43 196L412.72 203L420.22 207L434.16 208.5L455.6 211L481.86 215.2L483.26 217.9L502.45 217.9L502.45 227.1L236.91 227.1Z" fill="#8a3ffc" opacity="0.86"/>
<path d="M273.36 227L287.3 225.6L300.16 223.2L312.49 218.6L326.96 210L341.65 198.9L351.62 189L360.19 179.8L368.77 170L376.59 160.8L383.78 150L389.99 139.1L394.5 144L402 152L410.58 160L423.23 171.7L439.52 181L458.17 190.7L471.68 197.5L481.33 201.5L483.04 204L483.26 217.9L502.45 217.9L502.45 227.1L273.36 227.1Z" fill="#e8354a" opacity="0.86"/>
<circle cx="239.06" cy="227.1" r="0.5" fill="#8a3ffc"/>
<circle cx="243.56" cy="227.1" r="0.5" fill="#8a3ffc"/>
<circle cx="248.06" cy="227.1" r="0.5" fill="#8a3ffc"/>
<circle cx="252.56" cy="227.1" r="0.5" fill="#8a3ffc"/>
<circle cx="257.07" cy="227.1" r="0.5" fill="#8a3ffc"/>
<circle cx="261.57" cy="227.1" r="0.5" fill="#8a3ffc"/>
<circle cx="266.07" cy="227.1" r="0.5" fill="#8a3ffc"/>
<circle cx="270.57" cy="227.1" r="0.5" fill="#8a3ffc"/>
<text x="223.83" y="233.91" font-size="3.45" fill="#b8b8c2" text-anchor="middle">۱۳۹۰</text>
<text x="259.85" y="233.91" font-size="3.45" fill="#b8b8c2" text-anchor="middle">۱۳۹۱</text>
<text x="295.87" y="233.91" font-size="3.45" fill="#b8b8c2" text-anchor="middle">۱۳۹۲</text>
<text x="331.89" y="233.91" font-size="3.45" fill="#b8b8c2" text-anchor="middle">۱۳۹۳</text>
<text x="367.91" y="233.91" font-size="3.45" fill="#b8b8c2" text-anchor="middle">۱۳۹۴</text>
<text x="403.93" y="233.91" font-size="3.45" fill="#b8b8c2" text-anchor="middle">۱۳۹۵</text>
<text x="439.95" y="233.91" font-size="3.45" fill="#b8b8c2" text-anchor="middle">۱۳۹۶</text>
<text x="475.97" y="233.91" font-size="3.45" fill="#b8b8c2" text-anchor="middle">۱۳۹۷</text>
<circle cx="375.41" cy="244.1" r="1.9" fill="#8a3ffc"/>
<text x="371.98" y="245.71" font-size="4.02" fill="#4a4a54" text-anchor="end">فروش</text>
<circle cx="350.54" cy="244.1" r="1.9" fill="#e8354a"/>
<text x="347.11" y="245.71" font-size="4.02" fill="#4a4a54" text-anchor="end">ترافیک</text>
<rect x="35.7" y="271.8" width="238.95" height="130" fill="#ffffff" rx="1.8" stroke="#ececf4" stroke-width="0.3"/>
<text x="265.11" y="283.37" font-size="6.21" fill="#4a4a54" text-anchor="end">گزارش فروش</text>
<circle cx="44.38" cy="281.2" r="0.55" fill="#4a4a54"/>
<circle cx="46.2" cy="281.2" r="0.55" fill="#4a4a54"/>
<circle cx="48.03" cy="281.2" r="0.55" fill="#4a4a54"/>
<rect x="102.05" y="290.7" width="4.07" height="3.8" fill="#18b6e8"/>
<text x="99.91" y="294.21" font-size="4.02" fill="#a6a6b0" text-anchor="end">فروش آنلاین</text>
<rect x="70.54" y="290.7" width="4.07" height="3.8" fill="#e2e2e6"/>
<text x="68.39" y="294.21" font-size="4.02" fill="#a6a6b0" text-anchor="end">فروش آفلاین</text>
<path d="M54.14 308.2L266.93 308.2" stroke="#dedee4" stroke-width="0.35" fill="none"/>
<text x="51.46" y="309.41" font-size="3.45" fill="#b8b8c2" text-anchor="end">۵۰۰</text>
<path d="M54.14 319.9L266.93 319.9" stroke="#dedee4" stroke-width="0.35" fill="none"/>
<text x="51.46" y="321.11" font-size="3.45" fill="#b8b8c2" text-anchor="end">۴۰۰</text>
<path d="M54.14 331.8L266.93 331.8" stroke="#dedee4" stroke-width="0.35" fill="none"/>
<text x="51.46" y="333.01" font-size="3.45" fill="#b8b8c2" text-anchor="end">۳۰۰</text>
<path d="M54.14 343.8L266.93 343.8" stroke="#dedee4" stroke-width="0.35" fill="none"/>
<text x="51.46" y="345.01" font-size="3.45" fill="#b8b8c2" text-anchor="end">۲۰۰</text>
<path d="M54.14 356L266.93 356" stroke="#dedee4" stroke-width="0.35" fill="none"/>
<text x="51.46" y="357.21" font-size="3.45" fill="#b8b8c2" text-anchor="end">۱۰۰</text>
<rect x="63.03" y="339.7" width="3.8" height="33.3" fill="#e2e2e6" rx="0.7"/>
<rect x="63.03" y="356" width="3.8" height="17" fill="#18b6e8"/>
<rect x="80.07" y="335.9" width="3.8" height="37.1" fill="#e2e2e6" rx="0.7"/>
<rect x="80.07" y="351.7" width="3.8" height="21.3" fill="#18b6e8"/>
<rect x="97.1" y="330" width="3.8" height="43" fill="#e2e2e6" rx="0.7"/>
<rect x="97.1" y="346.8" width="3.8" height="26.2" fill="#18b6e8"/>
<rect x="114.14" y="330.5" width="3.8" height="42.5" fill="#e2e2e6" rx="0.7"/>
<rect x="114.14" y="346.3" width="3.8" height="26.7" fill="#18b6e8"/>
<rect x="131.17" y="335.4" width="3.8" height="37.6" fill="#e2e2e6" rx="0.7"/>
<rect x="131.17" y="346.8" width="3.8" height="26.2" fill="#18b6e8"/>
<rect x="148.2" y="325" width="3.8" height="48" fill="#e2e2e6" rx="0.7"/>
<rect x="148.2" y="344.1" width="3.8" height="28.9" fill="#18b6e8"/>
<rect x="165.24" y="325" width="3.8" height="48" fill="#e2e2e6" rx="0.7"/>
<rect x="165.24" y="345.2" width="3.8" height="27.8" fill="#18b6e8"/>
<rect x="182.27" y="321.8" width="3.8" height="51.2" fill="#e2e2e6" rx="0.7"/>
<rect x="182.27" y="343.6" width="3.8" height="29.4" fill="#18b6e8"/>
<rect x="199.31" y="322.3" width="3.8" height="50.7" fill="#e2e2e6" rx="0.7"/>
<rect x="199.31" y="344.1" width="3.8" height="28.9" fill="#18b6e8"/>
<rect x="216.34" y="325" width="3.8" height="48" fill="#e2e2e6" rx="0.7"/>
<rect x="216.34" y="342.5" width="3.8" height="30.5" fill="#18b6e8"/>
<rect x="233.37" y="316.9" width="3.8" height="56.1" fill="#e2e2e6" rx="0.7"/>
<rect x="233.37" y="339.7" width="3.8" height="33.3" fill="#18b6e8"/>
<rect x="250.41" y="319.5" width="3.8" height="53.5" fill="#e2e2e6" rx="0.7"/>
<rect x="250.41" y="341" width="3.8" height="32" fill="#18b6e8"/>
<rect x="281.72" y="271.8" width="234.55" height="130" fill="#ffffff" rx="1.8" stroke="#ececf4" stroke-width="0.3"/>
<text x="402.54" y="283.09" font-size="5.4" fill="#4a4a54" text-anchor="middle">کل ترافیک بر اساس منبع</text>
<path d="M498.16 279.6L503.73 279.6" stroke="#4a4a52" stroke-width="0.9" fill="none"/>
<path d="M498.16 281.4L503.73 281.4" stroke="#4a4a52" stroke-width="0.9" fill="none"/>
<path d="M498.16 283.2L503.73 283.2" stroke="#4a4a52" stroke-width="0.9" fill="none"/>
<path d="M396.1 309.7A27.3 27.3 0 0 1 423.36 335.38" fill="none" stroke="#8a3ffc" stroke-width="16.2"/>
<path d="M423.34 335.1A27.3 27.3 0 0 1 395.34 364.29" fill="none" stroke="#e8253a" stroke-width="16.2"/>
<path d="M395.63 364.3A27.3 27.3 0 0 1 375.94 355.41" fill="none" stroke="#ffc107" stroke-width="16.2"/>
<path d="M376.14 355.62A27.3 27.3 0 0 1 371.44 348.71" fill="none" stroke="#2ecc40" stroke-width="16.2"/>
<path d="M371.57 348.97A27.3 27.3 0 0 1 371.09 326.07" fill="none" stroke="#23272d" stroke-width="16.2"/>
<path d="M370.97 326.33A27.3 27.3 0 0 1 396.39 309.7" fill="none" stroke="#18b6e8" stroke-width="16.2"/>
<path d="M428.26 318L436.3 311.5" stroke="#8a3ffc" stroke-width="0.35" fill="none"/>
<text x="437.91" y="311.73" font-size="3.79" fill="#4a4a54" text-anchor="start">اصلی</text>
<path d="M377.88 305.5L368.23 299" stroke="#18b6e8" stroke-width="0.35" fill="none"/>
<text x="366.62" y="299.13" font-size="3.79" fill="#4a4a54" text-anchor="end">بینگ</text>
<path d="M358.05 335.5L347.86 335.5" stroke="#a6a6b0" stroke-width="0.35" fill="none"/>
<text x="346.26" y="336.83" font-size="3.79" fill="#4a4a54" text-anchor="end">مستقیم</text>
<path d="M365.02 357.5L354.83 362.5" stroke="#2ecc40" stroke-width="0.35" fill="none"/>
<text x="353.22" y="364.63" font-size="3.79" fill="#4a4a54" text-anchor="end">گوگل</text>
<rect x="0" y="0" width="550" height="20.9" fill="#ffffff"/>
<path d="M0 20.9L550 20.9" stroke="#e6e3f2" stroke-width="0.4" fill="none"/>
<text x="40.6" y="8.95" font-size="6" fill="#62626c" text-anchor="end" textLength="25" lengthAdjust="spacingAndGlyphs">پریسا توکلی</text>
<text x="40.6" y="15.56" font-size="4.6" fill="#acacb6" text-anchor="end" textLength="14.4" lengthAdjust="spacingAndGlyphs">طراح وب</text>
<clipPath id="avm4"><circle cx="52.6" cy="10.55" r="7.2"/></clipPath>
<g clip-path="url(#avm4)">
<circle cx="52.6" cy="10.55" r="7.2" fill="#cbc5c0"/>
<ellipse cx="52.6" cy="12.13" rx="6.05" ry="7.2" fill="#4e3626"/>
<ellipse cx="52.6" cy="18.11" rx="5.76" ry="3.6" fill="#3c2a20"/>
<ellipse cx="52.6" cy="9.69" rx="2.45" ry="3.02" fill="#dcae94"/>
</g>
<circle cx="52.6" cy="10.55" r="7.2" fill="none" stroke="#c4c4ca" stroke-width="0.5" opacity="0.9"/>
<path d="M65.6 0L65.6 20.9" stroke="#e6e3f2" stroke-width="0.4" fill="none"/>
<g transform="translate(75.51 6.96) scale(0.34)" fill="none" stroke="#34343c" stroke-width="2.53" stroke-linecap="round" stroke-linejoin="round"><path d="M21 15a2 2 0 0 1-2 2H7l-4 4V5a2 2 0 0 1 2-2h14a2 2 0 0 1 2 2z"/></g>
<circle cx="76.9" cy="7.05" r="2.8" fill="#e8253a"/>
<text x="76.9" y="8.18" font-size="3.22" fill="#fff" text-anchor="middle">۸</text>
<g transform="translate(92.51 6.96) scale(0.34)" fill="none" stroke="#34343c" stroke-width="2.53" stroke-linecap="round" stroke-linejoin="round"><path d="M18 8A6 6 0 0 0 6 8c0 7-3 9-3 9h18s-3-2-3-9M13.7 21a2 2 0 0 1-3.4 0"/></g>
<circle cx="93.9" cy="7.05" r="2.8" fill="#e8253a"/>
<text x="93.9" y="8.18" font-size="3.22" fill="#fff" text-anchor="middle">۷</text>
<g transform="translate(107.99 6.84) scale(0.32)" fill="none" stroke="#34343c" stroke-width="2.86" stroke-linecap="round" stroke-linejoin="round"><rect x="3" y="3" width="7" height="7" rx="1"/><rect x="14" y="3" width="7" height="7" rx="1"/><rect x="14" y="14" width="7" height="7" rx="1"/><rect x="3" y="14" width="7" height="7" rx="1"/></g>
<g transform="translate(124.17 6.82) scale(0.34)" fill="none" stroke="#34343c" stroke-width="3.08" stroke-linecap="round" stroke-linejoin="round"><circle cx="11" cy="11" r="7"/><path d="M21 21l-5-5"/></g>
<g transform="translate(422.55 6.7) scale(0.27)" fill="none" stroke="#34343c" stroke-width="3.08" stroke-linecap="round" stroke-linejoin="round"><rect x="3" y="3" width="18" height="18" rx="2"/><path d="M8 12l3 3 6-7"/></g>
<g transform="translate(435.25 6.7) scale(0.27)" fill="none" stroke="#34343c" stroke-width="3.08" stroke-linecap="round" stroke-linejoin="round"><rect x="3" y="4" width="18" height="18" rx="2"/><path d="M16 2v4M8 2v4M3 10h18"/></g>
<g transform="translate(447.95 6.7) scale(0.27)" fill="none" stroke="#34343c" stroke-width="3.08" stroke-linecap="round" stroke-linejoin="round"><path d="M21 15a2 2 0 0 1-2 2H7l-4 4V5a2 2 0 0 1 2-2h14a2 2 0 0 1 2 2z"/></g>
<g transform="translate(460.65 6.7) scale(0.27)" fill="none" stroke="#34343c" stroke-width="3.08" stroke-linecap="round" stroke-linejoin="round"><rect x="2" y="4" width="20" height="16" rx="2"/><path d="M22 6l-10 7L2 6"/></g>
<path d="M475.5 0L475.5 20.9" stroke="#e6e3f2" stroke-width="0.4" fill="none"/>
<path d="M539.4 0L539.4 20.9" stroke="#e6e3f2" stroke-width="0.4" fill="none"/>
<text x="521.3" y="13.49" font-size="8.4" fill="#8456ee" text-anchor="end" textLength="34.2" lengthAdjust="spacingAndGlyphs">Synadmin</text>
<g transform="translate(531.3 10.65) scale(0.92)" fill="none" stroke-linejoin="round" stroke-linecap="round"><path d="M-0.4 -5.8L-3.4 0H2.6Z" stroke="#5b21b6" stroke-width="1.25"/><path d="M-2 -2h3.2" stroke="#5b21b6" stroke-width="0.8"/><path d="M6.8 -1C2 -0.6 -3 -0.2 -5.2 1.5C-7.3 3.1 -6.3 4.7 -3.4 6" stroke="#8b5cf6" stroke-width="1.5"/></g>
<rect x="0" y="20.9" width="550" height="19.1" fill="#ffffff"/>
<path d="M0 40L550 40" stroke="#e6e3f2" stroke-width="0.4" fill="none"/>
<g transform="translate(526.83 26.98) scale(0.29)" fill="none" stroke="#6a6a74" stroke-width="2.42" stroke-linecap="round" stroke-linejoin="round"><path d="M3 10l9-8 9 8v10a2 2 0 0 1-2 2H5a2 2 0 0 1-2-2z"/><path d="M9 22v-8h6v8"/></g>
<text x="523.7" y="32.64" font-size="4.83" fill="#6a6a74" text-anchor="end">داشبورد</text>
<text x="470.3" y="32.93" font-size="7.36" fill="#6a6a74" text-anchor="middle">‹</text>
<g transform="translate(451.23 26.98) scale(0.29)" fill="none" stroke="#6a6a74" stroke-width="2.42" stroke-linecap="round" stroke-linejoin="round"><rect x="3" y="3" width="7" height="7" rx="1"/><rect x="14" y="3" width="7" height="7" rx="1"/><rect x="14" y="14" width="7" height="7" rx="1"/><rect x="3" y="14" width="7" height="7" rx="1"/></g>
<text x="448.1" y="32.64" font-size="4.83" fill="#6a6a74" text-anchor="end">اپلیکیشن</text>
<text x="394.7" y="32.93" font-size="7.36" fill="#6a6a74" text-anchor="middle">‹</text>
<g transform="translate(375.63 26.98) scale(0.29)" fill="none" stroke="#6a6a74" stroke-width="2.42" stroke-linecap="round" stroke-linejoin="round"><path d="M3 3v18h18M7 15l4-5 4 3 5-7"/></g>
<text x="372.5" y="32.64" font-size="4.83" fill="#6a6a74" text-anchor="end">نمودار ها</text>
<text x="319.1" y="32.93" font-size="7.36" fill="#6a6a74" text-anchor="middle">‹</text>
<g transform="translate(300.03 26.98) scale(0.29)" fill="none" stroke="#6a6a74" stroke-width="2.42" stroke-linecap="round" stroke-linejoin="round"><rect x="4" y="3" width="16" height="15" rx="2"/><path d="M4 11h16M8 18v3M16 18v3"/><circle cx="8" cy="14.5" r="1"/><circle cx="16" cy="14.5" r="1"/></g>
<text x="296.9" y="32.64" font-size="4.83" fill="#6a6a74" text-anchor="end">کامپوننت ها</text>
<text x="243.5" y="32.93" font-size="7.36" fill="#6a6a74" text-anchor="middle">‹</text>
<g transform="translate(224.43 26.98) scale(0.29)" fill="none" stroke="#6a6a74" stroke-width="2.42" stroke-linecap="round" stroke-linejoin="round"><rect x="3" y="11" width="18" height="11" rx="2"/><path d="M7 11V7a5 5 0 0 1 10 0v4"/></g>
<text x="221.3" y="32.64" font-size="4.83" fill="#6a6a74" text-anchor="end">احراز هویت</text>
<text x="167.9" y="32.93" font-size="7.36" fill="#6a6a74" text-anchor="middle">‹</text>
<g transform="translate(148.83 26.98) scale(0.29)" fill="none" stroke="#6a6a74" stroke-width="2.42" stroke-linecap="round" stroke-linejoin="round"><path d="M7 22V11l5-9c2 0 3 2 2 5l-1 3h7c1 0 2 1 2 2l-2 8c0 1-1 2-2 2zM3 11h4v11H3z"/></g>
<text x="145.7" y="32.64" font-size="4.83" fill="#6a6a74" text-anchor="end">صفحات</text>
<text x="92.3" y="32.93" font-size="7.36" fill="#6a6a74" text-anchor="middle">‹</text>
<g transform="translate(73.23 26.98) scale(0.29)" fill="none" stroke="#6a6a74" stroke-width="2.42" stroke-linecap="round" stroke-linejoin="round"><rect x="3" y="3" width="18" height="18" rx="2"/><path d="M8 16l1-4 7-7 3 3-7 7z"/></g>
<text x="70.1" y="32.64" font-size="4.83" fill="#6a6a74" text-anchor="end">فرم ها</text>
<text x="16.7" y="32.93" font-size="7.36" fill="#6a6a74" text-anchor="middle">‹</text>
<path d="M0 152.2h11.3a3 3 0 0 1 3 3v7.7a3 3 0 0 1-3 3h-11.3z" fill="#6b38ef"/>
<circle cx="7" cy="159.1" r="3.0" fill="none" stroke="#fff" stroke-width="1.3" stroke-dasharray="1.75 1.39" opacity="0.95"/>
<circle cx="7" cy="159.1" r="2.1" fill="none" stroke="#fff" stroke-width="1.2" opacity="0.95"/></svg></div>
<div class="m" style="top:1891px;height:358px"><svg width="550" height="358" viewBox="0 0 550 358"><rect x="0" y="0" width="550" height="358" fill="#f7f8fd"/>
<rect x="26.5" y="39.3" width="501.19" height="113.4" fill="#212529"/>
<path d="M129.01 39.3L129.01 121.9" stroke="#3a3e44" stroke-width="0.4" fill="none"/>
<path d="M225.84 39.3L225.84 121.9" stroke="#3a3e44" stroke-width="0.4" fill="none"/>
<path d="M322.78 39.3L322.78 121.9" stroke="#3a3e44" stroke-width="0.4" fill="none"/>
<path d="M419.73 39.3L419.73 121.9" stroke="#3a3e44" stroke-width="0.4" fill="none"/>
<path d="M26.5 121.9L522.23 121.9" stroke="#3a3e44" stroke-width="0.4" fill="none"/>
<text x="80.53" y="59.59" font-size="5.4" fill="#d6d6dc" text-anchor="middle">میانگین زمان جلسه</text>
<text x="80.53" y="71.41" font-size="10.6" fill="#f6f6f8" text-anchor="middle" textLength="35.5" lengthAdjust="spacingAndGlyphs">۰۰:۰۴:۶۰</text>
<text x="80.53" y="84.27" font-size="5.06" fill="#d6d6dc" text-anchor="middle" direction="rtl"><tspan fill="#f5222d">↓ ۵.۲%</tspan> در ۷ روز گذشته</text>
<text x="177.37" y="59.59" font-size="5.4" fill="#d6d6dc" text-anchor="middle">نرخ پیشرفت</text>
<text x="177.37" y="71.41" font-size="10.6" fill="#f6f6f8" text-anchor="middle" textLength="31.5" lengthAdjust="spacingAndGlyphs">۴۲.۶۸%</text>
<text x="177.37" y="84.27" font-size="5.06" fill="#d6d6dc" text-anchor="middle" direction="rtl"><tspan fill="#2ee35a">↑ ۲.۵%</tspan> در ۷ روز گذشته</text>
<text x="274.31" y="59.59" font-size="5.4" fill="#d6d6dc" text-anchor="middle">بازدید صفحه</text>
<text x="274.31" y="71.41" font-size="10.6" fill="#f6f6f8" text-anchor="middle" textLength="30.5" lengthAdjust="spacingAndGlyphs">۶۴,۸۳۵</text>
<text x="274.31" y="84.27" font-size="5.06" fill="#d6d6dc" text-anchor="middle" direction="rtl"><tspan fill="#f5222d">↓ ۳.۵%</tspan> در ۷ روز گذشته</text>
<text x="371.25" y="59.59" font-size="5.4" fill="#d6d6dc" text-anchor="middle">مجموع کاربران</text>
<text x="371.25" y="71.41" font-size="10.6" fill="#f6f6f8" text-anchor="middle" textLength="21.5" lengthAdjust="spacingAndGlyphs">۴.۵M</text>
<text x="371.25" y="84.27" font-size="5.06" fill="#d6d6dc" text-anchor="middle" direction="rtl"><tspan fill="#2ee35a">↑ ۲.۳%</tspan> در ۷ روز گذشته</text>
<text x="468.2" y="59.59" font-size="5.4" fill="#d6d6dc" text-anchor="middle">جلسات</text>
<text x="468.2" y="71.41" font-size="10.6" fill="#f6f6f8" text-anchor="middle" textLength="16" lengthAdjust="spacingAndGlyphs">۸۷۶</text>
<text x="468.2" y="84.27" font-size="5.06" fill="#d6d6dc" text-anchor="middle" direction="rtl"><tspan fill="#2ee35a">↑ ۲.۳%</tspan> در ۷ روز گذشته</text>
<path d="M41.48 106.1C43.36 104.82 46.67 99.44 50.04 100.3C53.41 101.16 52.69 111.36 56.78 110C60.88 108.64 64.16 95.51 68.66 94.1C73.15 92.69 73.1 102.9 77.22 103.6C81.34 104.3 82.91 96.95 87.38 97.3C91.86 97.65 93.43 104.03 97.55 105.2C101.67 106.37 101.47 101.41 106.11 102.6C110.75 103.79 115.87 108.84 118.63 110.6" fill="none" stroke="#2ee35a" stroke-width="0.85"/>
<path d="M429.14 106.1C431.02 104.82 434.33 99.44 437.7 100.3C441.07 101.16 440.35 111.36 444.44 110C448.54 108.64 451.82 95.51 456.32 94.1C460.82 92.69 460.76 102.9 464.88 103.6C469 104.3 470.57 96.95 475.04 97.3C479.52 97.65 481.09 104.03 485.21 105.2C489.33 106.37 489.13 101.41 493.77 102.6C498.41 103.79 503.53 108.84 506.29 110.6" fill="none" stroke="#8a3ffc" stroke-width="0.85"/>
<rect x="141.31" y="102.6" width="2.6" height="8.9" fill="#29b6f6" rx="0.9"/>
<rect x="335.19" y="102.6" width="2.6" height="8.9" fill="#f5222d" rx="0.9"/>
<rect x="149.87" y="99.5" width="2.6" height="12" fill="#29b6f6" rx="0.9"/>
<rect x="343.75" y="99.5" width="2.6" height="12" fill="#f5222d" rx="0.9"/>
<rect x="158.43" y="106.1" width="2.6" height="5.4" fill="#29b6f6" rx="0.9"/>
<rect x="352.31" y="106.1" width="2.6" height="5.4" fill="#f5222d" rx="0.9"/>
<rect x="166.99" y="93.3" width="2.6" height="18.2" fill="#29b6f6" rx="0.9"/>
<rect x="360.88" y="93.3" width="2.6" height="18.2" fill="#f5222d" rx="0.9"/>
<rect x="175.55" y="99.5" width="2.6" height="12" fill="#29b6f6" rx="0.9"/>
<rect x="369.44" y="99.5" width="2.6" height="12" fill="#f5222d" rx="0.9"/>
<rect x="184.11" y="97.3" width="2.6" height="14.2" fill="#29b6f6" rx="0.9"/>
<rect x="378" y="97.3" width="2.6" height="14.2" fill="#f5222d" rx="0.9"/>
<rect x="192.67" y="102.6" width="2.6" height="8.9" fill="#29b6f6" rx="0.9"/>
<rect x="386.56" y="102.6" width="2.6" height="8.9" fill="#f5222d" rx="0.9"/>
<rect x="201.23" y="100.3" width="2.6" height="11.2" fill="#29b6f6" rx="0.9"/>
<rect x="395.12" y="100.3" width="2.6" height="11.2" fill="#f5222d" rx="0.9"/>
<rect x="209.79" y="106.8" width="2.6" height="4.7" fill="#29b6f6" rx="0.9"/>
<rect x="403.68" y="106.8" width="2.6" height="4.7" fill="#f5222d" rx="0.9"/>
<path d="M235.26 109.8C237.5 108.2 242.53 102.2 246.49 101.8C250.45 101.4 251.2 109.2 255.05 107.8C258.9 106.4 261.04 95.3 265.75 94.8C270.46 94.3 273.88 104.44 278.59 105.3C283.3 106.16 285.44 99.3 289.29 99.1C293.14 98.9 295.07 103.42 297.85 104.3C300.63 105.18 300.1 102.1 303.2 103.5C306.31 104.9 311.33 109.74 313.37 111.3L313.37 111.5L235.26 111.5Z" fill="#d4a72c" opacity="0.45"/>
<path d="M235.26 109.8C237.5 108.2 242.53 102.2 246.49 101.8C250.45 101.4 251.2 109.2 255.05 107.8C258.9 106.4 261.04 95.3 265.75 94.8C270.46 94.3 273.88 104.44 278.59 105.3C283.3 106.16 285.44 99.3 289.29 99.1C293.14 98.9 295.07 103.42 297.85 104.3C300.63 105.18 300.1 102.1 303.2 103.5C306.31 104.9 311.33 109.74 313.37 111.3" fill="none" stroke="#e8b923" stroke-width="0.8"/>
<rect x="34.74" y="123.7" width="234.87" height="113.4" fill="#ffffff" rx="1.6" stroke="#ececf4" stroke-width="0.3"/>
<rect x="279.77" y="123.7" width="234.65" height="113.4" fill="#ffffff" rx="1.6" stroke="#ececf4" stroke-width="0.3"/>
<text x="261.69" y="135.29" font-size="5.98" fill="#4a4a54" text-anchor="end">وضعیت بازدیدکننده</text>
<rect x="40.84" y="129.3" width="44.83" height="7.7" fill="none" rx="1.2" stroke="#dddde6" stroke-width="0.4"/>
<circle cx="81.39" cy="133.2" r="1.25" fill="#c4b0f4"/>
<text x="78.18" y="134.75" font-size="4.14" fill="#a6a6b0" text-anchor="end">بازدیدکننده قدیمی</text>
<rect x="88.03" y="129.3" width="41.84" height="7.7" fill="none" rx="1.2" stroke="#dddde6" stroke-width="0.4"/>
<circle cx="125.58" cy="133.2" r="1.25" fill="#6d28d9"/>
<text x="122.37" y="134.75" font-size="4.14" fill="#a6a6b0" text-anchor="end">بازدیدکننده جدید</text>
<path d="M56.78 147.4L263.5 147.4" stroke="#ececf1" stroke-width="0.35" fill="none"/>
<text x="54.32" y="148.65" font-size="3.56" fill="#b8b8c2" text-anchor="end">۲۰۰K</text>
<path d="M56.78 163.1L263.5 163.1" stroke="#ececf1" stroke-width="0.35" fill="none"/>
<text x="54.32" y="164.35" font-size="3.56" fill="#b8b8c2" text-anchor="end">۱۵۰K</text>
<path d="M56.78 178.8L263.5 178.8" stroke="#ececf1" stroke-width="0.35" fill="none"/>
<text x="54.32" y="180.05" font-size="3.56" fill="#b8b8c2" text-anchor="end">۱۰۰K</text>
<path d="M56.78 194.5L263.5 194.5" stroke="#ececf1" stroke-width="0.35" fill="none"/>
<text x="54.32" y="195.75" font-size="3.56" fill="#b8b8c2" text-anchor="end">۵۰K</text>
<path d="M56.78 210.2L263.5 210.2" stroke="#ececf1" stroke-width="0.35" fill="none"/>
<text x="54.32" y="211.45" font-size="3.56" fill="#b8b8c2" text-anchor="end">۰K</text>
<rect x="65.34" y="176.6" width="3.2" height="33.6" fill="#7129e3" rx="0.8"/>
<rect x="70.69" y="182.2" width="3.2" height="28" fill="#c7b2f3" rx="0.8"/>
<text x="69.73" y="219.69" font-size="3.68" fill="#b8b8c2" text-anchor="middle">فرو</text>
<rect x="87.76" y="171.2" width="3.2" height="39" fill="#7129e3" rx="0.8"/>
<rect x="93.11" y="187.7" width="3.2" height="22.5" fill="#c7b2f3" rx="0.8"/>
<text x="92.14" y="219.69" font-size="3.68" fill="#b8b8c2" text-anchor="middle">ارد</text>
<rect x="110.17" y="166.4" width="3.2" height="43.8" fill="#7129e3" rx="0.8"/>
<rect x="115.52" y="182.2" width="3.2" height="28" fill="#c7b2f3" rx="0.8"/>
<text x="114.56" y="219.69" font-size="3.68" fill="#b8b8c2" text-anchor="middle">خرد</text>
<rect x="132.59" y="157.8" width="3.2" height="52.4" fill="#7129e3" rx="0.8"/>
<rect x="137.94" y="181.2" width="3.2" height="29" fill="#c7b2f3" rx="0.8"/>
<text x="136.98" y="219.69" font-size="3.68" fill="#b8b8c2" text-anchor="middle">تیر</text>
<rect x="155.01" y="176.9" width="3.2" height="33.3" fill="#7129e3" rx="0.8"/>
<rect x="160.36" y="181.2" width="3.2" height="29" fill="#c7b2f3" rx="0.8"/>
<text x="159.39" y="219.69" font-size="3.68" fill="#b8b8c2" text-anchor="middle">مرد</text>
<rect x="177.42" y="165.5" width="3.2" height="44.7" fill="#7129e3" rx="0.8"/>
<rect x="182.77" y="179.2" width="3.2" height="31" fill="#c7b2f3" rx="0.8"/>
<text x="181.81" y="219.69" font-size="3.68" fill="#b8b8c2" text-anchor="middle">شهر</text>
<rect x="199.84" y="155.9" width="3.2" height="54.3" fill="#7129e3" rx="0.8"/>
<rect x="205.19" y="180.7" width="3.2" height="29.5" fill="#c7b2f3" rx="0.8"/>
<text x="204.23" y="219.69" font-size="3.68" fill="#b8b8c2" text-anchor="middle">مهر</text>
<rect x="222.26" y="163.2" width="3.2" height="47" fill="#7129e3" rx="0.8"/>
<rect x="227.61" y="178.2" width="3.2" height="32" fill="#c7b2f3" rx="0.8"/>
<text x="226.64" y="219.69" font-size="3.68" fill="#b8b8c2" text-anchor="middle">آبا</text>
<rect x="244.67" y="165.5" width="3.2" height="44.7" fill="#7129e3" rx="0.8"/>
<rect x="250.02" y="179.7" width="3.2" height="30.5" fill="#c7b2f3" rx="0.8"/>
<text x="249.06" y="219.69" font-size="3.68" fill="#b8b8c2" text-anchor="middle">آذر</text>
<text x="508.21" y="135.29" font-size="5.98" fill="#4a4a54" text-anchor="end">گزارش فروش</text>
<rect x="283.51" y="129.2" width="28.89" height="8" fill="none" rx="1.2" stroke="#dddde6" stroke-width="0.4"/>
<text x="309.52" y="134.89" font-size="4.25" fill="#4a4a54" text-anchor="end">این ماه</text>
<path d="M286.51 132.7l2.2 0 -1.1 1.4z" fill="#4a4a54"/>
<path d="M299.35 149.9L506.93 149.9" stroke="#ececf1" stroke-width="0.35" fill="none"/>
<text x="296.68" y="151.15" font-size="3.56" fill="#b8b8c2" text-anchor="end">۱۰K</text>
<path d="M299.35 164.8L506.93 164.8" stroke="#ececf1" stroke-width="0.35" fill="none"/>
<text x="296.68" y="166.05" font-size="3.56" fill="#b8b8c2" text-anchor="end">۸K</text>
<path d="M299.35 179.7L506.93 179.7" stroke="#ececf1" stroke-width="0.35" fill="none"/>
<text x="296.68" y="180.95" font-size="3.56" fill="#b8b8c2" text-anchor="end">۶K</text>
<path d="M299.35 194.5L506.93 194.5" stroke="#ececf1" stroke-width="0.35" fill="none"/>
<text x="296.68" y="195.75" font-size="3.56" fill="#b8b8c2" text-anchor="end">۴K</text>
<path d="M299.35 209.4L506.93 209.4" stroke="#ececf1" stroke-width="0.35" fill="none"/>
<text x="296.68" y="210.65" font-size="3.56" fill="#b8b8c2" text-anchor="end">۲K</text>
<linearGradient id="gam5" x1="0" y1="0" x2="0" y2="1"><stop offset="0" stop-color="#8b4dff" stop-opacity="0.75"/><stop offset="1" stop-color="#ffffff" stop-opacity="0.05"/></linearGradient>
<path d="M301.49 194.2C305.98 188.32 314.89 167.7 323.96 164.8C333.03 161.9 337.87 181.16 346.86 179.7C355.85 178.24 360.06 157.5 368.9 157.5C377.74 157.5 382 176.64 391.05 179.7C400.1 182.76 404.98 169.9 414.16 172.8C423.34 175.7 428.18 191.36 436.95 194.2C445.73 197.04 449.06 184.8 458.03 187C467 189.2 472.43 202.36 481.79 205.2C491.14 208.04 500.19 202 504.79 201.2L504.79 209.4L301.49 209.4Z" fill="url(#gam5)"/>
<path d="M301.49 194.2C305.98 188.32 314.89 167.7 323.96 164.8C333.03 161.9 337.87 181.16 346.86 179.7C355.85 178.24 360.06 157.5 368.9 157.5C377.74 157.5 382 176.64 391.05 179.7C400.1 182.76 404.98 169.9 414.16 172.8C423.34 175.7 428.18 191.36 436.95 194.2C445.73 197.04 449.06 184.8 458.03 187C467 189.2 472.43 202.36 481.79 205.2C491.14 208.04 500.19 202 504.79 201.2" fill="none" stroke="#45168f" stroke-width="1.05"/>
<text x="301.49" y="218.89" font-size="3.68" fill="#b8b8c2" text-anchor="middle">فرو</text>
<text x="323.96" y="218.89" font-size="3.68" fill="#b8b8c2" text-anchor="middle">ارد</text>
<text x="346.86" y="218.89" font-size="3.68" fill="#b8b8c2" text-anchor="middle">خرد</text>
<text x="368.9" y="218.89" font-size="3.68" fill="#b8b8c2" text-anchor="middle">تیر</text>
<text x="391.05" y="218.89" font-size="3.68" fill="#b8b8c2" text-anchor="middle">مرد</text>
<text x="414.16" y="218.89" font-size="3.68" fill="#b8b8c2" text-anchor="middle">شهر</text>
<text x="436.95" y="218.89" font-size="3.68" fill="#b8b8c2" text-anchor="middle">مهر</text>
<text x="458.03" y="218.89" font-size="3.68" fill="#b8b8c2" text-anchor="middle">آبا</text>
<text x="481.79" y="218.89" font-size="3.68" fill="#b8b8c2" text-anchor="middle">آذر</text>
<text x="504.79" y="218.89" font-size="3.68" fill="#b8b8c2" text-anchor="middle">دی</text>
<rect x="34.74" y="245.9" width="154.08" height="160" fill="#ffffff" rx="1.6" stroke="#ececf4" stroke-width="0.3"/>
<text x="182.72" y="259.79" font-size="5.98" fill="#4a4a54" text-anchor="end">فروش در هر کشور</text>
<circle cx="42.87" cy="257.5" r="0.55" fill="#4a4a54"/>
<circle cx="44.69" cy="257.5" r="0.55" fill="#4a4a54"/>
<circle cx="46.51" cy="257.5" r="0.55" fill="#4a4a54"/>
<text x="157.68" y="281.47" font-size="4.48" fill="#a6a6b0" text-anchor="end">آمریکا</text>
<text x="41.48" y="281.55" font-size="4.71" fill="#4a4a54" text-anchor="start" font-weight="bold">۴۴۵,۸۵</text>
<path d="M41.48 287.9L157.68 287.9" stroke="#e6e6ee" stroke-width="1.5" fill="none"/>
<linearGradient id="gcm50" gradientUnits="userSpaceOnUse" x1="56.78" y1="0" x2="157.68" y2="0"><stop offset="0" stop-color="#3ac3d6"/><stop offset="1" stop-color="#1f5fa8"/></linearGradient>
<path d="M56.78 287.9L157.68 287.9" stroke="url(#gcm50)" stroke-width="1.7" stroke-linecap="round"/>
<clipPath id="flm50"><circle cx="175.44" cy="283.9" r="6.9"/></clipPath><g clip-path="url(#flm50)">
<rect x="168.54" y="277" width="13.8" height="13.8" fill="#f5f5f5"/>
<rect x="168.54" y="277" width="13.8" height="1.97" fill="#d32f3f"/>
<rect x="168.54" y="280.94" width="13.8" height="1.97" fill="#d32f3f"/>
<rect x="168.54" y="284.89" width="13.8" height="1.97" fill="#d32f3f"/>
<rect x="168.54" y="288.83" width="13.8" height="1.97" fill="#d32f3f"/>
<rect x="168.54" y="277" width="7.25" height="7.93" fill="#283a86"/>
</g>
<text x="157.68" y="303.87" font-size="4.48" fill="#a6a6b0" text-anchor="end">آلمان</text>
<text x="41.48" y="303.95" font-size="4.71" fill="#4a4a54" text-anchor="start" font-weight="bold">۶۸۳,۴۶</text>
<path d="M41.48 310.3L157.68 310.3" stroke="#e6e6ee" stroke-width="1.5" fill="none"/>
<linearGradient id="gcm51" gradientUnits="userSpaceOnUse" x1="80.64" y1="0" x2="157.68" y2="0"><stop offset="0" stop-color="#7a2fe8"/><stop offset="1" stop-color="#3528b8"/></linearGradient>
<path d="M80.64 310.3L157.68 310.3" stroke="url(#gcm51)" stroke-width="1.7" stroke-linecap="round"/>
<clipPath id="flm51"><circle cx="175.44" cy="306.3" r="6.9"/></clipPath><g clip-path="url(#flm51)">
<rect x="168.54" y="299.4" width="13.8" height="4.6" fill="#111"/>
<rect x="168.54" y="304" width="13.8" height="4.6" fill="#dd1c1c"/>
<rect x="168.54" y="308.6" width="13.8" height="4.6" fill="#ffce00"/>
</g>
<text x="157.68" y="326.27" font-size="4.48" fill="#a6a6b0" text-anchor="end">کانادا</text>
<text x="41.48" y="326.35" font-size="4.71" fill="#4a4a54" text-anchor="start" font-weight="bold">۹۸۲,۴۳</text>
<path d="M41.48 332.7L157.68 332.7" stroke="#e6e6ee" stroke-width="1.5" fill="none"/>
<linearGradient id="gcm52" gradientUnits="userSpaceOnUse" x1="92.52" y1="0" x2="157.68" y2="0"><stop offset="0" stop-color="#e5202e"/><stop offset="1" stop-color="#f05a28"/></linearGradient>
<path d="M92.52 332.7L157.68 332.7" stroke="url(#gcm52)" stroke-width="1.7" stroke-linecap="round"/>
<clipPath id="flm52"><circle cx="175.44" cy="328.7" r="6.9"/></clipPath><g clip-path="url(#flm52)">
<rect x="168.54" y="321.8" width="13.8" height="13.8" fill="#f5f5f5"/>
<rect x="168.54" y="321.8" width="3.8" height="13.8" fill="#d8232a"/>
<rect x="178.55" y="321.8" width="3.8" height="13.8" fill="#d8232a"/>
<path d="M175.44 325.5l1.4 2.2 1.8 -0.4 -1 2 -1.6 0.6 -0.6 1.6 -0.6 -1.6 -1.6 -0.6 -1 -2 1.8 0.4z" fill="#d8232a"/>
</g>
<text x="157.68" y="348.67" font-size="4.48" fill="#a6a6b0" text-anchor="end">هند</text>
<text x="41.48" y="348.75" font-size="4.71" fill="#4a4a54" text-anchor="start" font-weight="bold">۸۵۲,۳۵</text>
<path d="M41.48 355.1L157.68 355.1" stroke="#e6e6ee" stroke-width="1.5" fill="none"/>
<linearGradient id="gcm53" gradientUnits="userSpaceOnUse" x1="105.04" y1="0" x2="157.68" y2="0"><stop offset="0" stop-color="#4caf38"/><stop offset="1" stop-color="#9bd64a"/></linearGradient>
<path d="M105.04 355.1L157.68 355.1" stroke="url(#gcm53)" stroke-width="1.7" stroke-linecap="round"/>
<clipPath id="flm53"><circle cx="175.44" cy="351.1" r="6.9"/></clipPath><g clip-path="url(#flm53)">
<rect x="168.54" y="344.2" width="13.8" height="4.6" fill="#f4943a"/>
<rect x="168.54" y="348.8" width="13.8" height="4.6" fill="#f5f5f5"/>
<rect x="168.54" y="353.4" width="13.8" height="4.6" fill="#1f8a3b"/>
<circle cx="175.44" cy="351.1" r="1.5" fill="none" stroke="#283a86" stroke-width="0.5"/>
</g>
<text x="157.68" y="371.07" font-size="4.48" fill="#a6a6b0" text-anchor="end">هلند</text>
<text x="41.48" y="371.15" font-size="4.71" fill="#4a4a54" text-anchor="start" font-weight="bold">۷۸۵,۳۴</text>
<path d="M41.48 377.5L157.68 377.5" stroke="#e6e6ee" stroke-width="1.5" fill="none"/>
<linearGradient id="gcm54" gradientUnits="userSpaceOnUse" x1="113.49" y1="0" x2="157.68" y2="0"><stop offset="0" stop-color="#d9a520"/><stop offset="1" stop-color="#f0d23c"/></linearGradient>
<path d="M113.49 377.5L157.68 377.5" stroke="url(#gcm54)" stroke-width="1.7" stroke-linecap="round"/>
<clipPath id="flm54"><circle cx="175.44" cy="373.5" r="6.9"/></clipPath><g clip-path="url(#flm54)">
<rect x="168.54" y="366.6" width="13.8" height="4.6" fill="#b4202d"/>
<rect x="168.54" y="371.2" width="13.8" height="4.6" fill="#f5f5f5"/>
<rect x="168.54" y="375.8" width="13.8" height="4.6" fill="#25468f"/>
</g>
<rect x="197.91" y="245.9" width="316.51" height="160" fill="#ffffff" rx="1.6" stroke="#ececf4" stroke-width="0.3"/>
<text x="504.79" y="259.59" font-size="5.98" fill="#4a4a54" text-anchor="end">نقشه جغرافیایی</text>
<circle cx="205.73" cy="257.5" r="0.55" fill="#4a4a54"/>
<circle cx="207.54" cy="257.5" r="0.55" fill="#4a4a54"/>
<circle cx="209.36" cy="257.5" r="0.55" fill="#4a4a54"/>
<clipPath id="mcm5"><rect x="199.31" y="263.2" width="309.23" height="150"/></clipPath>
<g clip-path="url(#mcm5)">
<path d="M248.37 332.24L250.39 332.24L253.6 333.37L257.41 332.9L259.1 335.04L261.63 334.76L263.32 336.87L265.18 338.23L264.76 341.37L266.28 344.45L267.55 345.15L270.08 344.89L270.93 342.7L273.88 342.25L273.04 345.33L272.62 347.07L276.42 347.24L277.01 350.51L276.76 352.22L278.95 353.25L280.64 352.65L282.08 353.93L281.49 354.61L279.8 354.52L277.26 353.67L274.98 352.22L273.46 349.65L270.08 348.79L267.97 346.89L265.43 347.24L262.05 346.02L258.25 343.58L258.25 341.37L255.29 338.68L252.34 335.04L250.65 333.18L251.91 334.57L254.03 339.13L254.87 340.92L252.76 339.13L250.65 336.41L249.8 334.57L248.37 332.24ZM275.57 341.81L279.8 340.92L284.02 343.14L284.62 343.58L281.74 343.66L278.11 341.81L275.57 341.81ZM284.53 344.98L286.56 343.66L289.52 344.89L287.4 345.5L284.53 344.98ZM282.08 353.93L284.02 351.37L286.56 350.51L288.25 350.51L293.32 351.8L295.85 352.22L299.23 355.62L303.46 356.47L305.15 360.28L310.22 362.81L315.29 364.08L317.82 365.78L317.82 368.33L314.44 371.75L314.44 376.07L312.75 379.59L309.38 381.19L306.42 383.17L306.25 385.44L302.19 390.57L298.39 391.05L299.23 394.43L295.01 395.42L292.47 397.41L293.74 398.93L292.05 401.51L290.36 403.09L291.63 404.69L289.09 407.98L289.52 410.24L292.05 412.56L288.25 413.15L284.87 409.67L283.6 404.69L285.71 398.42L285.29 393.46L286.98 388.69L287.83 382.27L288.08 376.51L283.18 372.61L278.95 365.78L279.8 362.81L279.38 360.7L281.07 359.01L282.08 356.47L282.08 353.93ZM285.71 275.73L289.94 279.29L298.39 281L302.62 288.98L304.3 294.79L306.84 301.48L310.64 302.76L313.18 296.86L319.51 292.67L328.81 288.98L330.08 281.84L332.19 277.53L330.5 271.99L337.26 269.03L322.05 264.87L309.38 266.98L296.7 268.01L289.94 271.01L285.71 275.73ZM327.12 295.49L328.81 294.23L333.88 294.09L335.99 296.18L331.77 298.34L328.39 297.81L327.12 295.49ZM333.03 348.19L333.46 344.45L333.03 342.7L336.41 336.69L339.2 334.57L339.54 331.77L342.33 329.1L345.71 329.68L349.94 328.04L355.85 327.75L356.69 330.83L355.85 331.3L360.07 332.34L364.3 331.96L368.52 332.9L374.44 333.46L376.3 333.46L374.86 334.67L376.97 340.03L378.66 343.58L380.78 347.5L383.73 350.08L383.99 350.94L390.5 350.68L390.07 353.07L387.11 357.32L382.47 362.22L380.78 365.78L381.62 369.6L381.62 373.47L376.97 377.82L377.4 381.37L375.12 383.17L373.59 386.64L370.21 390.38L364.3 391.34L362.86 390.57L362.19 386.83L360.07 383.17L359.65 379.59L357.37 375.2L359.06 370.03L357.54 365.35L355 361.55L355.43 357.74L352.47 357.06L350.78 355.37L345.71 356.47L341.06 356.98L336.41 353.5L333.29 350.26L333.03 348.19ZM389.06 370.89L390.07 373.9L387.54 381.82L385.42 382.72L384.16 380.48L384.75 377.38L384.58 375.2L387.11 373.47L389.06 370.89ZM339.37 327.94L339.79 326.28L339.96 321.65L345.88 321.55L346.39 318.84L343.43 316.39L346.13 315.95L345.88 314.86L348.75 313.53L350.78 312.3L351.62 310.82L354.58 310.47L354.33 306.7L356.27 305.61L356.27 310.01L359.23 310.01L363.03 309.19L365.14 308.84L365.14 305.85L367.93 306.22L367.26 303.76L371.06 303.38L372.75 302.76L371.06 302.12L366.41 302.76L365.4 300.19L368.52 296.18L365.99 295.07L362.19 300.19L361.76 301.48L363.03 302.76L361.34 306.46L359.48 308.25L358.22 308.25L356.69 304.01L354.16 305.24L351.79 304.01L351.62 300.19L355.85 297.54L359.23 292.67L362.61 289.73L366.83 288.22L371.06 287.46L373.59 288.98L375.28 290.03L382.04 293.38L381.2 294.79L376.97 294.37L375.28 293.81L376.97 297.13L378.66 297.81L381.2 296.59L384.58 294.79L384.58 291.51L389.65 291.94L393.03 291.21L398.1 290.48L398.94 288.98L404.01 291.21L403.59 288.22L404.86 284.3L408.66 284.62L408.24 290.48L409.51 293.38L409.93 285.9L415 283.49L420.91 282.67L420.91 280.15L430.21 279.29L435.28 276.28L443.31 279.63L440.35 282.67L447.11 284.3L455.56 284.3L456.4 287.46L461.47 286.68L465.7 285.1L474.15 286.68L482.6 289.43L491.05 288.98L499.5 290.48L507.95 294.79L506.26 296.86L499.5 295.49L496.96 296.86L498.65 299.53L491.05 302.76L485.13 305.49L484.29 309.08L479.81 313.42L478.8 307.66L480.06 305.24L482.6 302.12L485.98 299.53L480.06 300.84L478.38 303.63L474.15 303.38L467.81 303.63L461.9 309.19L466.54 310.82L466.12 316.71L461.47 321.45L458.09 322.27L456.83 323.49L455.56 326.48L456.83 327.94L456.4 329.87L454.29 330.35L453.87 327.94L452.6 325.19L450.07 325.98L450.49 324.49L447.11 325.98L447.95 327.46L450.91 327.94L448.38 329.87L450.32 333.65L449.64 336.41L446.26 340.48L443.31 341.63L440.35 342.52L438.66 342.25L436.97 344.02L439.34 347.5L439.76 350.51L437.39 352.22L436.12 353.33L435.96 351.8L434.01 350.34L432.66 349.31L431.9 350.51L431.48 353.07L434.77 357.32L435.28 359.52L433 358.33L432.15 355.62L430.46 353.93L430.8 351.37L429.79 346.63L428.1 347.24L427.08 344.89L425.14 342.25L423.87 341.81L420.91 342.25L419.22 343.75L415.17 347.5L415 349.65L414.83 351.97L412.89 353.93L411.62 351.8L409.51 347.07L408.92 344.02L408.66 342.25L406.55 342.87L405.7 341.54L404.01 339.31L399.79 338.95L395.82 338.59L395.14 337.32L392.18 337.6L389.65 334.57L387.96 334.57L390.33 338.68L390.92 339.76L393.03 339.85L394.97 338.23L395.14 339.58L397.93 341.37L396.83 343.58L393.88 346.2L391.34 347.07L385.42 349.83L383.99 349.65L383.31 346.63L380.35 342.25L378.66 338.68L376.97 336.41L376.89 335.04L376.3 333.46L377.65 329.87L377.82 328.14L374.86 328.82L373.17 328.62L370.47 328.23L369.62 326.48L370.05 324.59L371.9 323.99L374.02 323.79L377.4 322.98L379.51 323.99L382.47 323.49L381.2 321.45L378.66 319.68L380.35 317.46L376.97 319.05L375.71 320.41L374.27 318.31L372.75 319.37L371.06 321.45L371.48 323.49L369.37 324.19L367.43 324.79L367.68 326.97L366.58 328.43L365.14 326.97L363.88 324.49L363.88 322.98L360.5 320.93L359.23 319.58L357.79 319.58L357.96 320.93L360.5 322.98L363.03 324.79L361.76 325.49L360.92 326.97L360.67 324.99L357.79 323.18L356.1 321.45L354.84 320.52L352.47 321.86L350.1 321.76L350.1 323.18L347.4 324.99L347.23 326.48L345.71 328.14L342.92 328.82L341.91 327.94L339.37 327.94ZM342.75 314.53L348.5 313.2L348.84 311.39L347.23 310.01L345.71 307.66L345.88 305.73L344.02 305.61L344.86 304.5L343.17 304.5L342.16 307.06L343.34 309.08L344.86 310.01L343.43 311.16L343.85 312.52L342.92 312.64L344.86 313.08L342.75 314.53ZM338.95 312.52L342.16 312.07L342.33 310.01L342.75 309.43L341.23 308.49L338.95 309.78L338.95 312.52ZM457.93 331.02L461.47 331.3L463.16 330.16L465.7 329.68L466.97 326.48L466.97 323.99L465.7 323.99L465.28 326.97L462.74 327.94L459.78 329.39L457.93 331.02ZM465.7 322.98L468.23 322.98L470.35 321.65L467.39 319.37L466.97 321.65L465.7 322.98ZM457.25 331.3L458.77 331.3L458.09 333.37L457.42 333.37L457.25 331.3ZM467.39 309.66L468.49 312.3L468.66 315.63L468.07 318.84L467.39 317.25L467.39 314.53L467.39 309.66ZM450.07 338.95L450.49 339.58L449.48 341.81L448.97 340.92L450.07 338.95ZM439.25 344.02L441.03 343.58L440.77 344.89L439.5 345.07L439.25 344.02ZM415 352.48L416.52 354.35L415.42 355.62L414.83 354.35L415 352.48ZM449.22 344.89L450.66 345.07L450.49 347.07L452.18 349.65L450.07 348.97L448.8 347.93L449.22 344.89ZM450.49 353.93L453.45 352.39L454.29 354.78L453.28 355.62L452.18 354.78L450.49 353.93ZM439.5 359.43L441.62 358.59L443.73 356.89L446.26 354.78L447.95 356.47L446.94 359.85L445.42 363.66L443.73 364.08L440.77 363.24L439.5 361.12L439.5 359.43ZM427.93 355.96L429.79 356.3L435.28 361.55L436.97 363.24L436.8 365.61L435.28 365.35L432.32 361.97L430.63 359.01L427.93 355.96ZM436.55 366.45L438.66 366.2L441.19 366.45L444.15 367.22L443.98 367.98L440.35 367.64L437.39 367.05L436.55 366.45ZM448.38 360.28L449.64 359.69L453.02 359.35L451.33 360.45L449.22 360.7L450.07 362.22L451.59 361.55L450.49 363.24L450.91 364.93L450.07 364.67L449.22 363.07L449.05 365.35L448.38 365.18L447.95 363.24L448.38 360.28ZM458.09 361.55L460.63 361.38L464.01 362.22L466.54 362.9L469.92 364.51L472.29 365.78L471.61 366.62L474.57 369.6L471.61 369.18L469.08 367.3L466.54 368.33L464.01 367.73L463.84 365.35L460.63 364.08L459.62 363.07L458.09 361.55ZM469.67 397.21L472.63 397.31L472.46 399.44L470.77 400.05L469.92 398.93L469.67 397.21ZM493.33 391.05L494.85 392.97L496.12 393.94L498.23 394.14L496.96 395.91L495.44 398.01L495.11 396.21L494.26 395.71L495.02 393.75L493.33 391.05ZM493.33 396.91L494.68 398.22L491.89 400.99L491.47 402.56L489.61 403.19L488.09 402.56L489.36 400.67L491.64 399.13L493.33 396.91ZM391.34 287.46L393.88 284.3L395.56 281L400.63 278.77L405.28 278.07L403.17 280.15L398.1 281.84L395.56 285.1L395.99 287.92L393.03 287.76L391.34 287.46ZM356.69 272.94L360.92 271.99L365.14 271.4L370.21 271.99L365.14 274.82L361.76 278.07L359.23 276.64L356.69 272.94ZM427.67 273.89L431.9 270.03L436.12 273.89L431.9 275.73L427.67 273.89ZM463.16 280.15L467.39 279.29L470.77 280.49L474.15 281L469.92 282.17L465.7 281.5L463.16 280.15ZM387.11 271.6L393.88 270.03L399.79 270.43L396.41 271.99L389.65 272.37Z" fill="#6b6e78"/>
<path d="M387.11 319.37L390.5 318L392.18 319.89L390.5 320.41L389.9 323.49L391.76 323.49L392.86 325.98L392.86 327.94L390.5 328.23L388.8 327.46L389.23 324.99L387.54 321.96L387.11 319.37Z" fill="#ffffff"/>
<path d="M371.06 287.46L371.48 294.79L372.75 300.19L371.06 303.38L370.64 305.85L367.68 310.01L367.26 312.86L372.75 312.86L379.51 317.78L381.2 315.08L387.11 316.71L387.11 319.37M392.18 319.89L393.88 313.42L398.94 313.42L398.94 310.01L407.39 309.43L412.46 310.59L415.42 313.42L421.34 315.63M421.34 315.63L430.21 314.53L434.43 314.2L437.81 314.86L442.88 314.53L445.42 314.75M461.05 316.39L458.09 319.89L457.67 322.17M385 325.29L387.96 326.48L392.86 327.94L398.94 328.43L398.94 333.65L399.79 338.95M385 325.29L384.58 327.94L387.96 334.57M377.82 328.14L382.89 327.75L384.58 327.94M398.94 328.43L403.17 327.55L407.39 326.58L410.77 327.94M398.94 333.65L403.17 334.76L406.13 337.32M429.62 336.69L430.63 339.58M425.39 339.31L427.08 344.89M432.75 342.25L431.9 343.58L434.01 345.76L436.12 348.36L434.01 350.34M368.52 332.9L368.52 341.81L367.68 343.58L367.68 347.5L366.41 347.5M368.52 341.81L378.24 341.81M356.69 330.83L355.43 334.57L357.54 340.48L360.07 340.92L367.68 343.58M339.79 336.69L344.02 339.13L349.94 344.02L350.95 347.07L358.81 349.22L360.07 340.92M336.41 336.69L339.79 336.69L339.2 334.57M349.94 328.04L345.71 332.71L339.79 336.69M358.81 349.22L359.65 352.22L355.43 357.74M366.41 347.5L366.41 351.37L370.64 356.47L373.17 357.74L376.13 357.15L377.4 356.47L382.47 357.32M357.54 365.35L360.92 365.61L365.99 370.03L367.68 370.03L367.68 371.75L365.99 371.75L365.99 375.9L368.52 375.9M372.33 364.51L373.17 367.73L376.13 368.75L376.97 370.46L381.62 369.6M376.13 357.15L376.13 361.55L380.78 364.67M357.37 375.2L368.52 375.9L375.28 379.77L375.12 383.17M364.3 379.59L364.3 385.44L362.19 385.44M288.08 376.51L289.94 376.95L290.78 380.3L287.83 382.27M290.78 380.3L295.01 379.59L298.39 377.82L298.81 382.27L301.35 382.72L298.81 386.83L298.39 390.57M288.67 370.03L292.05 369.18L296.7 372.18L298.39 374.59L298.39 377.82M279.8 362.81L283.86 360.7L288.25 364.34L285.71 366.88L287.83 370.03L288.67 370.03M283.86 360.7L288.25 359.43L290.78 359.69L290.78 355.62L286.56 354.44L286.14 351.37M290.78 359.69L293.32 357.32L296.28 356.3L299.23 355.62M296.28 356.3L297.54 359.6L303.46 358.76L303.46 356.47M269.66 345.5L270.5 347.07L272.62 347.07M345.71 321.55L350.1 322.47M348.75 313.53L352.47 315.08L354.16 315.63L353.74 317.25L352.47 318.84L353.31 320.93M354.58 310.47L352.47 313.42L352.47 315.08M359.23 310.01L360.07 313.42L357.54 314.2L358.81 316.06L361.76 315.84L365.99 315.63L367.26 312.86M358.81 316.06L355.43 317.25L353.74 317.25M358.81 318.31L361.34 318.31L363.45 318.84L365.14 318.84L365.99 320.41L371.48 320.93M365.99 315.63L366.41 316.71L369.79 316.39L371.06 319.37L372.75 319.37M364.3 322.98L366.41 322.68L369.37 323.29L369.37 324.19M357.54 307.66L357.96 302.76L357.54 298.21L360.92 291.94L364.3 290.48L368.52 290.48M368.52 290.48L367.68 294.79L365.99 295.07" fill="none" stroke="#ffffff" stroke-width="0.3" opacity="0.8"/>
<path d="M228.25 289.58L237.55 288.98L241.77 288.22L250.22 290.48L256.14 291.21L262.9 291.94L267.12 290.48L267.97 285.9L271.35 290.48L275.57 289.73L278.11 291.94L274.73 294.79L273.04 297.54L267.97 301.48L267.12 304.38L269.24 306.46L273.04 307.06L277.69 308.84L278.11 311.73L280.22 312.86L280.64 309.43L282.33 307.06L281.07 304.63L281.91 299.8L285.29 300.19L288.25 301.48L289.94 304.63L292.9 302.38L295.43 306.46L298.39 309.43L300.33 312.3L296.7 314.31L291.21 314.31L288.25 317.25L292.47 315.84L292.9 318.84L295.85 319.37L291.63 321.45L290.78 319.89L288.93 317.36L286.98 319.89L284.02 319.89L280.64 321.45L277.26 322.98L277.69 319.58L276 318.31L272.62 316.49L267.12 315.63L243.46 315.63L241.77 314.53L239.24 312.86L237.13 308.84L233.32 304.01L228.25 302.38ZM279.8 283.16L286.56 286.68L289.94 288.98L295.01 293.38L293.32 298.21L289.94 299.53L286.56 297.54L281.49 296.86L285.71 293.38L281.49 288.98L275.57 288.98L272.19 287.46L273.04 283.49L279.8 283.16ZM248.53 284.3L258.67 284.3L262.05 288.98L258.67 291.21L251.91 291.21L247.69 288.98L248.53 284.3ZM271.35 278.42L279.8 278.42L284.02 274.82L295.01 268.01L288.25 265.94L275.57 266.98L269.66 270.03L273.04 274.82L271.35 278.42ZM241.77 282.17L248.53 282.34L249.38 285.1L243.46 286.68L240.93 285.1L241.77 282.17ZM265.43 278.42L269.66 281.67L279.8 281.67L279.8 279.81L272.19 278.42L265.43 278.42ZM297.29 316.93L300.08 312.86L300.5 315.08L302.87 317.25L300.5 318L297.29 316.93ZM248.53 279.29L256.14 278.77L258.67 281L254.45 281.84L248.53 280.49ZM262.9 283.49L266.28 283L267.12 285.9L264.59 286.99L262.05 285.42ZM267.12 271.99L273.04 271.01L274.73 273.89L269.66 275.19L266.28 273.89ZM239.24 313.64L241.77 314.2L243.04 316.28L241.35 315.84Z" fill="#e91e63"/>
<path d="M243.46 315.63L267.12 315.63L272.62 316.49L276 318.31L277.69 319.58L277.26 322.98L280.64 321.45L284.02 319.89L286.98 319.89L288.93 317.36L290.78 319.89L288.25 321.45L287.83 323.29L284.87 324.49L283.6 326.97L283.18 329.87L281.07 331.02L278.95 333.18L279.8 337.32L279.38 338.95L278.11 337.78L277.43 335.04L275.57 334.85L272.19 334.39L271.35 335.5L267.97 335.04L265.27 336.87L265.18 338.23L263.32 336.87L261.63 334.76L259.1 335.04L257.41 332.9L253.6 333.37L250.39 332.24L248.37 332.24L245.58 330.35L243.89 327.46L242.45 324.69L242.62 321.96L242.62 318.63L243.46 315.63ZM205.44 294.79L210.51 288.22L215.58 286.99L228.25 289.58L228.25 302.38L233.32 304.01L237.13 308.84L234.17 305.24L229.1 302.76L224.03 301.48L219.8 303.76L217.27 305.85L213.89 307.06L208.82 309.08L213.89 304.63L210.51 304.38L207.13 300.84L211.35 296.86L205.44 294.79Z" fill="#8833ff"/>
<path d="M409.51 325.49L410.77 327.94L413.31 329.39L414.15 332.24L416.27 334.3L420.07 336.41L422.44 337.05L425.14 336.6L429.37 336.14L430.63 339.58L432.75 342.25L433.59 341.37L436.55 340.92L438.66 342.25L440.35 342.52L443.31 341.63L446.26 340.48L449.64 336.41L450.32 333.65L448.38 329.87L450.91 327.94L447.95 327.46L447.11 325.98L450.49 324.49L450.07 325.98L452.6 325.19L453.87 323.18L455.56 322.98L457.67 322.17L458.09 319.89L461.05 316.39L457.67 315.84L455.14 314.53L453.45 311.16L449.64 310.82L448.38 314.53L445.42 314.75L448.38 317.78L445 319.37L442.04 319.89L441.19 321.65L436.12 323.29L429.37 322.27L424.29 319.58L421.34 315.63L419.65 317.78L417.11 317.78L415 319.89L415.42 322.47L411.62 324.49L409.51 325.49Z" fill="#f41127" stroke="#ffffff" stroke-width="0.25"/>
<path d="M405.03 340.3L405.7 341.54L406.55 342.87L408.66 342.25L408.92 344.02L409.51 347.07L411.62 351.8L412.89 353.93L414.83 351.97L415 349.65L415.17 347.5L419.22 343.75L420.91 342.25L422.6 341.81L422.44 339.58L423.7 338.95L425.39 339.31L425.56 340.92L426.41 340.03L427.67 338.23L429.62 336.69L428.35 335.22L425.14 336.6L422.44 337.05L421.76 337.78L417.53 336.87L415.17 335.68L416.27 334.3L414.15 332.24L413.31 329.39L410.77 327.94L409.93 330.35L411.2 332.24L410.35 333.65L409.08 335.04L406.97 336.41L406.13 337.32L407.39 339.58L405.03 340.3Z" fill="#32d14a" stroke="#ffffff" stroke-width="0.25"/>
<path d="M443.73 379.59L443.31 383.17L444.57 387.75L444.74 390.86L447.11 391.53L451.76 390.57L456.4 388.41L458.52 388.22L461.9 391.34L464.01 389.63L463.84 392.01L466.12 394.43L469.5 394.73L471.61 395.42L474.15 393.75L475.25 390.1L476.94 385.9L476.68 382.72L473.73 379.59L470.77 376.95L470.18 373.47L467.81 369.86L466.97 371.75L466.38 375.64L463.59 374.33L461.9 373.3L463 370.89L459.36 370.29L457.25 371.75L455.98 373.3L453.87 372.61L450.49 375.64L447.95 377.82L443.73 379.59Z" fill="#ffc107"/>
<path d="M269.66 315.95L275.57 316.17L276 318.1L273.88 318.31L273.04 320.93L274.73 322.98L275.57 319.37L276.84 318.84L278.53 320.93L279.8 319.89L278.11 318.84L276.42 317.78L273.04 317.25Z" fill="#ffffff"/>
</g>
<rect x="497.51" y="273.1" width="5" height="5" fill="#3a3a42" rx="0.6"/>
<rect x="497.51" y="282" width="5" height="5" fill="#3a3a42" rx="0.6"/>
<text x="500.19" y="277.21" font-size="5.17" fill="#fff" text-anchor="middle">+</text>
<text x="500.19" y="285.91" font-size="5.17" fill="#fff" text-anchor="middle">−</text>
<rect x="0" y="0" width="550" height="20.9" fill="#ffffff"/>
<path d="M0 20.9L550 20.9" stroke="#e6e3f2" stroke-width="0.4" fill="none"/>
<text x="40.6" y="8.95" font-size="6" fill="#62626c" text-anchor="end" textLength="25" lengthAdjust="spacingAndGlyphs">پریسا توکلی</text>
<text x="40.6" y="15.56" font-size="4.6" fill="#acacb6" text-anchor="end" textLength="14.4" lengthAdjust="spacingAndGlyphs">طراح وب</text>
<clipPath id="avm5"><circle cx="52.6" cy="10.55" r="7.2"/></clipPath>
<g clip-path="url(#avm5)">
<circle cx="52.6" cy="10.55" r="7.2" fill="#cbc5c0"/>
<ellipse cx="52.6" cy="12.13" rx="6.05" ry="7.2" fill="#4e3626"/>
<ellipse cx="52.6" cy="18.11" rx="5.76" ry="3.6" fill="#3c2a20"/>
<ellipse cx="52.6" cy="9.69" rx="2.45" ry="3.02" fill="#dcae94"/>
</g>
<circle cx="52.6" cy="10.55" r="7.2" fill="none" stroke="#c4c4ca" stroke-width="0.5" opacity="0.9"/>
<path d="M65.6 0L65.6 20.9" stroke="#e6e3f2" stroke-width="0.4" fill="none"/>
<g transform="translate(75.51 6.96) scale(0.34)" fill="none" stroke="#34343c" stroke-width="2.53" stroke-linecap="round" stroke-linejoin="round"><path d="M21 15a2 2 0 0 1-2 2H7l-4 4V5a2 2 0 0 1 2-2h14a2 2 0 0 1 2 2z"/></g>
<circle cx="76.9" cy="7.05" r="2.8" fill="#e8253a"/>
<text x="76.9" y="8.18" font-size="3.22" fill="#fff" text-anchor="middle">۸</text>
<g transform="translate(92.51 6.96) scale(0.34)" fill="none" stroke="#34343c" stroke-width="2.53" stroke-linecap="round" stroke-linejoin="round"><path d="M18 8A6 6 0 0 0 6 8c0 7-3 9-3 9h18s-3-2-3-9M13.7 21a2 2 0 0 1-3.4 0"/></g>
<circle cx="93.9" cy="7.05" r="2.8" fill="#e8253a"/>
<text x="93.9" y="8.18" font-size="3.22" fill="#fff" text-anchor="middle">۷</text>
<g transform="translate(107.99 6.84) scale(0.32)" fill="none" stroke="#34343c" stroke-width="2.86" stroke-linecap="round" stroke-linejoin="round"><rect x="3" y="3" width="7" height="7" rx="1"/><rect x="14" y="3" width="7" height="7" rx="1"/><rect x="14" y="14" width="7" height="7" rx="1"/><rect x="3" y="14" width="7" height="7" rx="1"/></g>
<g transform="translate(124.17 6.82) scale(0.34)" fill="none" stroke="#34343c" stroke-width="3.08" stroke-linecap="round" stroke-linejoin="round"><circle cx="11" cy="11" r="7"/><path d="M21 21l-5-5"/></g>
<g transform="translate(422.55 6.7) scale(0.27)" fill="none" stroke="#34343c" stroke-width="3.08" stroke-linecap="round" stroke-linejoin="round"><rect x="3" y="3" width="18" height="18" rx="2"/><path d="M8 12l3 3 6-7"/></g>
<g transform="translate(435.25 6.7) scale(0.27)" fill="none" stroke="#34343c" stroke-width="3.08" stroke-linecap="round" stroke-linejoin="round"><rect x="3" y="4" width="18" height="18" rx="2"/><path d="M16 2v4M8 2v4M3 10h18"/></g>
<g transform="translate(447.95 6.7) scale(0.27)" fill="none" stroke="#34343c" stroke-width="3.08" stroke-linecap="round" stroke-linejoin="round"><path d="M21 15a2 2 0 0 1-2 2H7l-4 4V5a2 2 0 0 1 2-2h14a2 2 0 0 1 2 2z"/></g>
<g transform="translate(460.65 6.7) scale(0.27)" fill="none" stroke="#34343c" stroke-width="3.08" stroke-linecap="round" stroke-linejoin="round"><rect x="2" y="4" width="20" height="16" rx="2"/><path d="M22 6l-10 7L2 6"/></g>
<path d="M475.5 0L475.5 20.9" stroke="#e6e3f2" stroke-width="0.4" fill="none"/>
<path d="M539.4 0L539.4 20.9" stroke="#e6e3f2" stroke-width="0.4" fill="none"/>
<text x="521.3" y="13.49" font-size="8.4" fill="#8456ee" text-anchor="end" textLength="34.2" lengthAdjust="spacingAndGlyphs">Synadmin</text>
<g transform="translate(531.3 10.65) scale(0.92)" fill="none" stroke-linejoin="round" stroke-linecap="round"><path d="M-0.4 -5.8L-3.4 0H2.6Z" stroke="#5b21b6" stroke-width="1.25"/><path d="M-2 -2h3.2" stroke="#5b21b6" stroke-width="0.8"/><path d="M6.8 -1C2 -0.6 -3 -0.2 -5.2 1.5C-7.3 3.1 -6.3 4.7 -3.4 6" stroke="#8b5cf6" stroke-width="1.5"/></g>
<rect x="0" y="20.9" width="550" height="19.1" fill="#ffffff"/>
<path d="M0 40L550 40" stroke="#e6e3f2" stroke-width="0.4" fill="none"/>
<g transform="translate(526.83 26.98) scale(0.29)" fill="none" stroke="#6a6a74" stroke-width="2.42" stroke-linecap="round" stroke-linejoin="round"><path d="M3 10l9-8 9 8v10a2 2 0 0 1-2 2H5a2 2 0 0 1-2-2z"/><path d="M9 22v-8h6v8"/></g>
<text x="523.7" y="32.64" font-size="4.83" fill="#6a6a74" text-anchor="end">داشبورد</text>
<text x="470.3" y="32.93" font-size="7.36" fill="#6a6a74" text-anchor="middle">‹</text>
<g transform="translate(451.23 26.98) scale(0.29)" fill="none" stroke="#6a6a74" stroke-width="2.42" stroke-linecap="round" stroke-linejoin="round"><rect x="3" y="3" width="7" height="7" rx="1"/><rect x="14" y="3" width="7" height="7" rx="1"/><rect x="14" y="14" width="7" height="7" rx="1"/><rect x="3" y="14" width="7" height="7" rx="1"/></g>
<text x="448.1" y="32.64" font-size="4.83" fill="#6a6a74" text-anchor="end">اپلیکیشن</text>
<text x="394.7" y="32.93" font-size="7.36" fill="#6a6a74" text-anchor="middle">‹</text>
<g transform="translate(375.63 26.98) scale(0.29)" fill="none" stroke="#6a6a74" stroke-width="2.42" stroke-linecap="round" stroke-linejoin="round"><path d="M3 3v18h18M7 15l4-5 4 3 5-7"/></g>
<text x="372.5" y="32.64" font-size="4.83" fill="#6a6a74" text-anchor="end">نمودار ها</text>
<text x="319.1" y="32.93" font-size="7.36" fill="#6a6a74" text-anchor="middle">‹</text>
<g transform="translate(300.03 26.98) scale(0.29)" fill="none" stroke="#6a6a74" stroke-width="2.42" stroke-linecap="round" stroke-linejoin="round"><rect x="4" y="3" width="16" height="15" rx="2"/><path d="M4 11h16M8 18v3M16 18v3"/><circle cx="8" cy="14.5" r="1"/><circle cx="16" cy="14.5" r="1"/></g>
<text x="296.9" y="32.64" font-size="4.83" fill="#6a6a74" text-anchor="end">کامپوننت ها</text>
<text x="243.5" y="32.93" font-size="7.36" fill="#6a6a74" text-anchor="middle">‹</text>
<g transform="translate(224.43 26.98) scale(0.29)" fill="none" stroke="#6a6a74" stroke-width="2.42" stroke-linecap="round" stroke-linejoin="round"><rect x="3" y="11" width="18" height="11" rx="2"/><path d="M7 11V7a5 5 0 0 1 10 0v4"/></g>
<text x="221.3" y="32.64" font-size="4.83" fill="#6a6a74" text-anchor="end">احراز هویت</text>
<text x="167.9" y="32.93" font-size="7.36" fill="#6a6a74" text-anchor="middle">‹</text>
<g transform="translate(148.83 26.98) scale(0.29)" fill="none" stroke="#6a6a74" stroke-width="2.42" stroke-linecap="round" stroke-linejoin="round"><path d="M7 22V11l5-9c2 0 3 2 2 5l-1 3h7c1 0 2 1 2 2l-2 8c0 1-1 2-2 2zM3 11h4v11H3z"/></g>
<text x="145.7" y="32.64" font-size="4.83" fill="#6a6a74" text-anchor="end">صفحات</text>
<text x="92.3" y="32.93" font-size="7.36" fill="#6a6a74" text-anchor="middle">‹</text>
<g transform="translate(73.23 26.98) scale(0.29)" fill="none" stroke="#6a6a74" stroke-width="2.42" stroke-linecap="round" stroke-linejoin="round"><rect x="3" y="3" width="18" height="18" rx="2"/><path d="M8 16l1-4 7-7 3 3-7 7z"/></g>
<text x="70.1" y="32.64" font-size="4.83" fill="#6a6a74" text-anchor="end">فرم ها</text>
<text x="16.7" y="32.93" font-size="7.36" fill="#6a6a74" text-anchor="middle">‹</text>
<path d="M0 152.2h11.3a3 3 0 0 1 3 3v7.7a3 3 0 0 1-3 3h-11.3z" fill="#6b38ef"/>
<circle cx="7" cy="159.1" r="3.0" fill="none" stroke="#fff" stroke-width="1.3" stroke-dasharray="1.75 1.39" opacity="0.95"/>
<circle cx="7" cy="159.1" r="2.1" fill="none" stroke="#fff" stroke-width="1.2" opacity="0.95"/></svg></div>
<div class="m" style="top:2293.5px;height:358.5px"><svg width="550" height="358.5" viewBox="0 0 550 358.5"><rect x="0" y="0" width="550" height="358.5" fill="#f7f8fd"/>
<linearGradient id="dgm60" x1="0" y1="0" x2="1" y2="0.3"><stop offset="0" stop-color="#fb3763"/><stop offset="1" stop-color="#ff5a35"/></linearGradient>
<rect x="35.7" y="50" width="153.5" height="54.4" fill="url(#dgm60)" rx="2.2"/>
<g transform="translate(170 55.6) scale(0.58)" fill="none" stroke="#fff" stroke-width="1.65" stroke-linecap="round" stroke-linejoin="round"><rect x="3" y="4" width="18" height="17" rx="2"/><path d="M3 9h18M8 2v4M16 2v4M7 12h2M11 12h2M15 12h2M7 16h2M11 16h2M15 16h2"/></g>
<text x="183.8" y="81.59" font-size="4.83" fill="#fff" text-anchor="end">قرار ملاقات ها</text>
<text x="183.8" y="93.74" font-size="8.4" fill="#fff" text-anchor="end" textLength="19.5" lengthAdjust="spacingAndGlyphs">۱۸۷۹</text>
<text x="41" y="60.05" font-size="5.29" fill="#fff" text-anchor="start">↑ ۲.۳۹%</text>
<text x="41" y="67.75" font-size="4.14" fill="#fff" text-anchor="start" opacity="0.9">از ماه گذشته</text>
<rect x="44.35" y="89.7" width="1.3" height="9.2" fill="#fff" rx="0.6" opacity="0.95"/>
<rect x="50.39" y="79.9" width="1.3" height="19" fill="#fff" rx="0.6" opacity="0.95"/>
<rect x="56.43" y="85.3" width="1.3" height="13.6" fill="#fff" rx="0.6" opacity="0.95"/>
<rect x="62.47" y="82.6" width="1.3" height="16.3" fill="#fff" rx="0.6" opacity="0.95"/>
<rect x="68.51" y="90.8" width="1.3" height="8.1" fill="#fff" rx="0.6" opacity="0.95"/>
<rect x="74.55" y="88.1" width="1.3" height="10.8" fill="#fff" rx="0.6" opacity="0.95"/>
<rect x="80.59" y="84.3" width="1.3" height="14.6" fill="#fff" rx="0.6" opacity="0.95"/>
<rect x="86.63" y="82.6" width="1.3" height="16.3" fill="#fff" rx="0.6" opacity="0.95"/>
<rect x="92.67" y="90.8" width="1.3" height="8.1" fill="#fff" rx="0.6" opacity="0.95"/>
<rect x="98.71" y="92.4" width="1.3" height="6.5" fill="#fff" rx="0.6" opacity="0.95"/>
<linearGradient id="dgm61" x1="0" y1="0" x2="1" y2="0.3"><stop offset="0" stop-color="#41b4f2"/><stop offset="1" stop-color="#2f78ee"/></linearGradient>
<rect x="35.7" y="112.5" width="153.5" height="52.8" fill="url(#dgm61)" rx="2.2"/>
<g transform="translate(170 118.1) scale(0.58)" fill="none" stroke="#fff" stroke-width="1.65" stroke-linecap="round" stroke-linejoin="round"><circle cx="16" cy="4" r="2"/><path d="M4 13l5-1 3-4 4 2 2 4h3M12 8l-2 6 4 3v5M10 14l-3 4-4 1M3 6h5M2 9h4"/></g>
<text x="183.8" y="144.09" font-size="4.83" fill="#fff" text-anchor="end">عمل جراحی</text>
<text x="183.8" y="156.24" font-size="8.4" fill="#fff" text-anchor="end" textLength="19.5" lengthAdjust="spacingAndGlyphs">۳۷۶۸</text>
<text x="41" y="122.55" font-size="5.29" fill="#fff" text-anchor="start">↑ ۳.۵۶%</text>
<text x="41" y="130.25" font-size="4.14" fill="#fff" text-anchor="start" opacity="0.9">از ماه گذشته</text>
<rect x="44.35" y="148.9" width="1.3" height="13" fill="#fff" rx="0.6" opacity="0.95"/>
<rect x="50.39" y="139.1" width="1.3" height="22.8" fill="#fff" rx="0.6" opacity="0.95"/>
<rect x="56.43" y="147.3" width="1.3" height="14.6" fill="#fff" rx="0.6" opacity="0.95"/>
<rect x="62.47" y="151.1" width="1.3" height="10.8" fill="#fff" rx="0.6" opacity="0.95"/>
<rect x="68.51" y="144.5" width="1.3" height="17.4" fill="#fff" rx="0.6" opacity="0.95"/>
<rect x="74.55" y="141.8" width="1.3" height="20.1" fill="#fff" rx="0.6" opacity="0.95"/>
<rect x="80.59" y="152.7" width="1.3" height="9.2" fill="#fff" rx="0.6" opacity="0.95"/>
<rect x="86.63" y="147.3" width="1.3" height="14.6" fill="#fff" rx="0.6" opacity="0.95"/>
<rect x="92.67" y="143.5" width="1.3" height="18.4" fill="#fff" rx="0.6" opacity="0.95"/>
<rect x="98.71" y="154.3" width="1.3" height="7.6" fill="#fff" rx="0.6" opacity="0.95"/>
<rect x="197" y="50" width="317" height="119" fill="#ffffff" rx="1.8" stroke="#ececf4" stroke-width="0.3"/>
<text x="509" y="61.39" font-size="5.98" fill="#4a4a54" text-anchor="end">فعالیت های بیمارستان</text>
<rect x="203" y="52.7" width="46" height="12" fill="none" rx="1.4" stroke="#dddde6" stroke-width="0.4"/>
<text x="245" y="60.59" font-size="4.83" fill="#4a4a54" text-anchor="start" direction="rtl">۱ سال گذشته</text>
<path d="M206 58.2l2.6 0 -1.3 1.6z" fill="#4a4a54"/>
<rect x="498.9" y="75.1" width="3.8" height="3.8" fill="#2f5fd0" rx="0.4"/>
<text x="497" y="78.61" font-size="4.02" fill="#a6a6b0" text-anchor="end">مشاوره</text>
<rect x="479.3" y="75.1" width="3.8" height="3.8" fill="#f26a5a" rx="0.4"/>
<text x="477.4" y="78.61" font-size="4.02" fill="#a6a6b0" text-anchor="end">بیماران</text>
<path d="M215 92.3L506 92.3" stroke="#ececf1" stroke-width="0.35" fill="none"/>
<text x="212.5" y="93.51" font-size="3.45" fill="#b8b8c2" text-anchor="end">۱۰۰۰</text>
<path d="M215 102.42L506 102.42" stroke="#ececf1" stroke-width="0.35" fill="none"/>
<text x="212.5" y="103.63" font-size="3.45" fill="#b8b8c2" text-anchor="end">۸۰۰</text>
<path d="M215 112.54L506 112.54" stroke="#ececf1" stroke-width="0.35" fill="none"/>
<text x="212.5" y="113.75" font-size="3.45" fill="#b8b8c2" text-anchor="end">۶۰۰</text>
<path d="M215 122.66L506 122.66" stroke="#ececf1" stroke-width="0.35" fill="none"/>
<text x="212.5" y="123.87" font-size="3.45" fill="#b8b8c2" text-anchor="end">۴۰۰</text>
<path d="M215 132.78L506 132.78" stroke="#ececf1" stroke-width="0.35" fill="none"/>
<text x="212.5" y="133.99" font-size="3.45" fill="#b8b8c2" text-anchor="end">۲۰۰</text>
<path d="M215 142.9L506 142.9" stroke="#ececf1" stroke-width="0.35" fill="none"/>
<text x="212.5" y="144.11" font-size="3.45" fill="#b8b8c2" text-anchor="end">۰</text>
<filter id="bsm6" x="-30%" y="-10%" width="180%" height="130%"><feGaussianBlur stdDeviation="1.6"/></filter>
<rect x="224.3" y="123.7" width="15" height="20.5" fill="#8aa0d8" opacity="0.2" filter="url(#bsm6)"/>
<rect x="248.2" y="119.9" width="15" height="24.3" fill="#8aa0d8" opacity="0.2" filter="url(#bsm6)"/>
<rect x="272.1" y="124.8" width="15" height="19.4" fill="#8aa0d8" opacity="0.2" filter="url(#bsm6)"/>
<rect x="296" y="111.8" width="15" height="32.4" fill="#8aa0d8" opacity="0.2" filter="url(#bsm6)"/>
<rect x="319.9" y="133.5" width="15" height="10.7" fill="#8aa0d8" opacity="0.2" filter="url(#bsm6)"/>
<rect x="343.8" y="114.5" width="15" height="29.7" fill="#8aa0d8" opacity="0.2" filter="url(#bsm6)"/>
<rect x="367.7" y="100.3" width="15" height="43.9" fill="#8aa0d8" opacity="0.2" filter="url(#bsm6)"/>
<rect x="391.6" y="127.5" width="15" height="16.7" fill="#8aa0d8" opacity="0.2" filter="url(#bsm6)"/>
<rect x="415.5" y="107.4" width="15" height="36.8" fill="#8aa0d8" opacity="0.2" filter="url(#bsm6)"/>
<rect x="439.4" y="129.6" width="15" height="14.6" fill="#8aa0d8" opacity="0.2" filter="url(#bsm6)"/>
<rect x="463.3" y="132.9" width="15" height="11.3" fill="#8aa0d8" opacity="0.2" filter="url(#bsm6)"/>
<rect x="487.2" y="137.8" width="15" height="6.4" fill="#8aa0d8" opacity="0.2" filter="url(#bsm6)"/>
<rect x="221.7" y="120.7" width="8.2" height="22.5" fill="#2f5fd0"/>
<rect x="229.9" y="130.5" width="8.2" height="12.7" fill="#f26a5a"/>
<text x="229.9" y="151.49" font-size="3.68" fill="#b8b8c2" text-anchor="middle">فرو</text>
<rect x="245.6" y="116.9" width="8.2" height="26.3" fill="#2f5fd0"/>
<rect x="253.8" y="120.7" width="8.2" height="22.5" fill="#f26a5a"/>
<text x="253.8" y="151.49" font-size="3.68" fill="#b8b8c2" text-anchor="middle">ارد</text>
<rect x="269.5" y="121.8" width="8.2" height="21.4" fill="#2f5fd0"/>
<rect x="277.7" y="124.5" width="8.2" height="18.7" fill="#f26a5a"/>
<text x="277.7" y="151.49" font-size="3.68" fill="#b8b8c2" text-anchor="middle">خرد</text>
<rect x="293.4" y="108.8" width="8.2" height="34.4" fill="#2f5fd0"/>
<rect x="301.6" y="130.5" width="8.2" height="12.7" fill="#f26a5a"/>
<text x="301.6" y="151.49" font-size="3.68" fill="#b8b8c2" text-anchor="middle">تیر</text>
<rect x="317.3" y="130.5" width="8.2" height="12.7" fill="#2f5fd0"/>
<rect x="325.5" y="120.7" width="8.2" height="22.5" fill="#f26a5a"/>
<text x="325.5" y="151.49" font-size="3.68" fill="#b8b8c2" text-anchor="middle">مرد</text>
<rect x="341.2" y="111.5" width="8.2" height="31.7" fill="#2f5fd0"/>
<rect x="349.4" y="126.1" width="8.2" height="17.1" fill="#f26a5a"/>
<text x="349.4" y="151.49" font-size="3.68" fill="#b8b8c2" text-anchor="middle">شهر</text>
<rect x="365.1" y="97.3" width="8.2" height="45.9" fill="#2f5fd0"/>
<rect x="373.3" y="113.6" width="8.2" height="29.6" fill="#f26a5a"/>
<text x="373.3" y="151.49" font-size="3.68" fill="#b8b8c2" text-anchor="middle">مهر</text>
<rect x="389" y="124.5" width="8.2" height="18.7" fill="#2f5fd0"/>
<rect x="397.2" y="126.1" width="8.2" height="17.1" fill="#f26a5a"/>
<text x="397.2" y="151.49" font-size="3.68" fill="#b8b8c2" text-anchor="middle">آبا</text>
<rect x="412.9" y="104.4" width="8.2" height="38.8" fill="#2f5fd0"/>
<rect x="421.1" y="131" width="8.2" height="12.2" fill="#f26a5a"/>
<text x="421.1" y="151.49" font-size="3.68" fill="#b8b8c2" text-anchor="middle">آذر</text>
<rect x="436.8" y="126.6" width="8.2" height="16.6" fill="#2f5fd0"/>
<rect x="445" y="131" width="8.2" height="12.2" fill="#f26a5a"/>
<text x="445" y="151.49" font-size="3.68" fill="#b8b8c2" text-anchor="middle">دی</text>
<rect x="460.7" y="129.9" width="8.2" height="13.3" fill="#2f5fd0"/>
<rect x="468.9" y="134.8" width="8.2" height="8.4" fill="#f26a5a"/>
<text x="468.9" y="151.49" font-size="3.68" fill="#b8b8c2" text-anchor="middle">بهم</text>
<rect x="484.6" y="134.8" width="8.2" height="8.4" fill="#2f5fd0"/>
<rect x="492.8" y="137.5" width="8.2" height="5.7" fill="#f26a5a"/>
<text x="492.8" y="151.49" font-size="3.68" fill="#b8b8c2" text-anchor="middle">اسف</text>
<clipPath id="pcm6"><rect x="35.7" y="178.8" width="153.5" height="148.5" rx="1.8"/></clipPath>
<rect x="35.7" y="178.8" width="153.5" height="148.5" fill="#ffffff" rx="1.8" stroke="#ececf4" stroke-width="0.3"/>
<text x="183.5" y="191.58" font-size="9.66" fill="#4a4a54" text-anchor="end">۳,۲۴۰</text>
<text x="183.5" y="201.53" font-size="4.37" fill="#a6a6b0" text-anchor="end">بیماران در این ماه</text>
<linearGradient id="pgm6" x1="0" y1="0" x2="0" y2="1"><stop offset="0" stop-color="#f4566c" stop-opacity="0.55"/><stop offset="1" stop-color="#ffc4ca" stop-opacity="0.5"/></linearGradient>
<g clip-path="url(#pcm6)"><path d="M35.7 282.7C39.52 281.3 47.18 275.14 54.8 275.7C62.42 276.26 66.18 288.76 73.8 285.5C81.42 282.24 85.28 259.62 92.9 259.4C100.52 259.18 104.18 283.28 111.9 284.4C119.62 285.52 123.08 275 131.5 265C139.92 255 146.3 227.2 154 234.4C161.7 241.6 162.96 285.58 170 301C177.04 316.42 185.36 309.4 189.2 311.5L189.2 327.3L35.7 327.3Z" fill="url(#pgm6)"/><path d="M35.7 282.7C39.52 281.3 47.18 275.14 54.8 275.7C62.42 276.26 66.18 288.76 73.8 285.5C81.42 282.24 85.28 259.62 92.9 259.4C100.52 259.18 104.18 283.28 111.9 284.4C119.62 285.52 123.08 275 131.5 265C139.92 255 146.3 227.2 154 234.4C161.7 241.6 162.96 285.58 170 301C177.04 316.42 185.36 309.4 189.2 311.5" fill="none" stroke="#c42a48" stroke-width="0.8"/></g>
<circle cx="54.8" cy="275.7" r="0.7" fill="#c42a48"/>
<circle cx="73.8" cy="285.5" r="0.7" fill="#c42a48"/>
<circle cx="92.9" cy="259.4" r="0.7" fill="#c42a48"/>
<circle cx="111.9" cy="284.4" r="0.7" fill="#c42a48"/>
<circle cx="131.5" cy="265" r="0.7" fill="#c42a48"/>
<circle cx="154" cy="234.4" r="0.7" fill="#c42a48"/>
<circle cx="170" cy="301" r="0.7" fill="#c42a48"/>
<rect x="197" y="178.8" width="153.8" height="148.5" fill="#ffffff" rx="1.8" stroke="#ececf4" stroke-width="0.3"/>
<text x="346.4" y="191.79" font-size="5.98" fill="#4a4a54" text-anchor="end">گزارش بیماری ها</text>
<circle cx="204.8" cy="189.7" r="0.55" fill="#4a4a54"/>
<circle cx="206.5" cy="189.7" r="0.55" fill="#4a4a54"/>
<circle cx="208.2" cy="189.7" r="0.55" fill="#4a4a54"/>
<path d="M275.8 225.8A28.6 28.6 0 0 1 303.92 259.61" fill="none" stroke="#3d3a96" stroke-width="8.2"/>
<path d="M303.97 259.37A28.6 28.6 0 0 1 255.4 274.45" fill="none" stroke="#f7bb1e" stroke-width="8.2"/>
<path d="M255.58 274.62A28.6 28.6 0 0 1 257.61 232.33" fill="none" stroke="#5ec6f2" stroke-width="8.2"/>
<path d="M257.42 232.49A28.6 28.6 0 0 1 276.05 225.8" fill="none" stroke="#d6dff0" stroke-width="8.2"/>
<circle cx="315.4" cy="306.1" r="1.6" fill="#3d3a96"/>
<text x="312.8" y="307.51" font-size="3.45" fill="#a6a6b0" text-anchor="end">آنفولانزا</text>
<circle cx="296.4" cy="306.1" r="1.6" fill="#f7bb1e"/>
<text x="293.8" y="307.51" font-size="3.45" fill="#a6a6b0" text-anchor="end">کووید ۱۹</text>
<circle cx="274.7" cy="306.1" r="1.6" fill="#5ec6f2"/>
<text x="272.1" y="307.51" font-size="3.45" fill="#a6a6b0" text-anchor="end">دیابت</text>
<circle cx="255.7" cy="306.1" r="1.6" fill="#d6dff0"/>
<text x="253.1" y="307.51" font-size="3.45" fill="#a6a6b0" text-anchor="end">سرماخوردگی</text>
<rect x="360" y="178.8" width="154" height="148.5" fill="#ffffff" rx="1.8" stroke="#ececf4" stroke-width="0.3"/>
<text x="509" y="191.79" font-size="5.98" fill="#4a4a54" text-anchor="end">پزشکان برتر</text>
<circle cx="367.8" cy="189.7" r="0.55" fill="#4a4a54"/>
<circle cx="369.5" cy="189.7" r="0.55" fill="#4a4a54"/>
<circle cx="371.2" cy="189.7" r="0.55" fill="#4a4a54"/>
<clipPath id="dvm60"><circle cx="500.8" cy="212.5" r="7.5"/></clipPath>
<g clip-path="url(#dvm60)">
<circle cx="500.8" cy="212.5" r="7.5" fill="#cfd4da"/>
<ellipse cx="500.8" cy="210.25" rx="3.15" ry="3.15" fill="#3b3b3f"/>
<ellipse cx="500.8" cy="220.38" rx="6" ry="3.75" fill="#2e3440"/>
<ellipse cx="500.8" cy="211.6" rx="2.55" ry="3.15" fill="#e2b596"/>
</g>
<circle cx="500.8" cy="212.5" r="7.5" fill="none" stroke="#c4c4ca" stroke-width="0.5" opacity="0.9"/>
<rect x="478" y="201.9" width="8.6" height="4.6" fill="#fde0e4" rx="0.8"/>
<text x="482.3" y="205.51" font-size="3.45" fill="#e5485d" text-anchor="middle">۴.۹</text>
<text x="490.5" y="213.59" font-size="4.83" fill="#4a4a54" text-anchor="end">دکتر پدرام شریفی</text>
<text x="490.5" y="220.63" font-size="4.37" fill="#a6a6b0" text-anchor="end">متخصص اطفال</text>
<rect x="366" y="207.5" width="15.8" height="9.6" fill="none" rx="1.6" stroke="#a066d8" stroke-width="0.5"/>
<text x="373.9" y="213.77" font-size="3.91" fill="#8e4fd0" text-anchor="middle">برنامه</text>
<path d="M360 229L514 229" stroke="#e9e9f0" stroke-width="0.35" fill="none"/>
<clipPath id="dvm61"><circle cx="500.8" cy="245.5" r="7.5"/></clipPath>
<g clip-path="url(#dvm61)">
<circle cx="500.8" cy="245.5" r="7.5" fill="#d6cdc6"/>
<ellipse cx="500.8" cy="247.15" rx="6.3" ry="7.5" fill="#7b5a42"/>
<ellipse cx="500.8" cy="253.38" rx="6" ry="3.75" fill="#b0566a"/>
<ellipse cx="500.8" cy="244.6" rx="2.55" ry="3.15" fill="#ecc2a8"/>
</g>
<circle cx="500.8" cy="245.5" r="7.5" fill="none" stroke="#c4c4ca" stroke-width="0.5" opacity="0.9"/>
<rect x="478" y="234.9" width="8.6" height="4.6" fill="#fde0e4" rx="0.8"/>
<text x="482.3" y="238.51" font-size="3.45" fill="#e5485d" text-anchor="middle">۴.۸</text>
<text x="490.5" y="246.59" font-size="4.83" fill="#4a4a54" text-anchor="end">دکتر پریسا توکلی</text>
<text x="490.5" y="253.63" font-size="4.37" fill="#a6a6b0" text-anchor="end">روانپزشک</text>
<rect x="366" y="240.5" width="15.8" height="9.6" fill="none" rx="1.6" stroke="#a066d8" stroke-width="0.5"/>
<text x="373.9" y="246.77" font-size="3.91" fill="#8e4fd0" text-anchor="middle">برنامه</text>
<path d="M360 262L514 262" stroke="#e9e9f0" stroke-width="0.35" fill="none"/>
<clipPath id="dvm62"><circle cx="500.8" cy="278.5" r="7.5"/></clipPath>
<g clip-path="url(#dvm62)">
<circle cx="500.8" cy="278.5" r="7.5" fill="#d4d6d8"/>
<ellipse cx="500.8" cy="276.25" rx="3.15" ry="3.15" fill="#9b9b98"/>
<ellipse cx="500.8" cy="286.38" rx="6" ry="3.75" fill="#39424e"/>
<ellipse cx="500.8" cy="277.6" rx="2.55" ry="3.15" fill="#e6bfa6"/>
</g>
<circle cx="500.8" cy="278.5" r="7.5" fill="none" stroke="#c4c4ca" stroke-width="0.5" opacity="0.9"/>
<rect x="478" y="267.9" width="8.6" height="4.6" fill="#fde0e4" rx="0.8"/>
<text x="482.3" y="271.51" font-size="3.45" fill="#e5485d" text-anchor="middle">۴.۷</text>
<text x="490.5" y="279.59" font-size="4.83" fill="#4a4a54" text-anchor="end">دکتر رضا افشار</text>
<text x="490.5" y="286.63" font-size="4.37" fill="#a6a6b0" text-anchor="end">متخصص مغز و اعصاب</text>
<rect x="366" y="273.5" width="15.8" height="9.6" fill="none" rx="1.6" stroke="#a066d8" stroke-width="0.5"/>
<text x="373.9" y="279.77" font-size="3.91" fill="#8e4fd0" text-anchor="middle">برنامه</text>
<path d="M360 295L514 295" stroke="#e9e9f0" stroke-width="0.35" fill="none"/>
<clipPath id="dvm63"><circle cx="500.8" cy="311.5" r="7.5"/></clipPath>
<g clip-path="url(#dvm63)">
<circle cx="500.8" cy="311.5" r="7.5" fill="#e4dcd2"/>
<ellipse cx="500.8" cy="313.15" rx="6.3" ry="7.5" fill="#d9c8a0"/>
<ellipse cx="500.8" cy="319.38" rx="6" ry="3.75" fill="#c9c4be"/>
<ellipse cx="500.8" cy="310.6" rx="2.55" ry="3.15" fill="#efcdb4"/>
</g>
<circle cx="500.8" cy="311.5" r="7.5" fill="none" stroke="#c4c4ca" stroke-width="0.5" opacity="0.9"/>
<rect x="478" y="300.9" width="8.6" height="4.6" fill="#fde0e4" rx="0.8"/>
<text x="482.3" y="304.51" font-size="3.45" fill="#e5485d" text-anchor="middle">۴.۹</text>
<text x="490.5" y="312.59" font-size="4.83" fill="#4a4a54" text-anchor="end">دکتر ساناز حسینی</text>
<text x="490.5" y="319.63" font-size="4.37" fill="#a6a6b0" text-anchor="end">رادیولوژیست</text>
<rect x="366" y="306.5" width="15.8" height="9.6" fill="none" rx="1.6" stroke="#a066d8" stroke-width="0.5"/>
<text x="373.9" y="312.77" font-size="3.91" fill="#8e4fd0" text-anchor="middle">برنامه</text>
<rect x="35.7" y="336" width="236.3" height="40" fill="#ffffff" rx="1.8" stroke="#ececf4" stroke-width="0.3"/>
<text x="265.4" y="349.85" font-size="5.29" fill="#4a4a54" text-anchor="end">متوسط هزینه درمان</text>
<circle cx="43.4" cy="348" r="0.55" fill="#4a4a54"/>
<circle cx="45.1" cy="348" r="0.55" fill="#4a4a54"/>
<circle cx="46.8" cy="348" r="0.55" fill="#4a4a54"/>
<rect x="278.5" y="336" width="235.5" height="40" fill="#ffffff" rx="1.8" stroke="#ececf4" stroke-width="0.3"/>
<text x="509" y="349.85" font-size="5.29" fill="#4a4a54" text-anchor="end">رایج ترین داروها</text>
<circle cx="286.4" cy="348" r="0.55" fill="#4a4a54"/>
<circle cx="288.1" cy="348" r="0.55" fill="#4a4a54"/>
<circle cx="289.8" cy="348" r="0.55" fill="#4a4a54"/>
<rect x="0" y="0" width="550" height="21" fill="#212529"/>
<path d="M0 21L550 21" stroke="#3a3e44" stroke-width="0.4" fill="none"/>
<text x="40.6" y="9" font-size="6" fill="#ffffff" text-anchor="end" font-weight="bold" textLength="25" lengthAdjust="spacingAndGlyphs">پریسا توکلی</text>
<text x="40.6" y="15.61" font-size="4.6" fill="#e0e0e4" text-anchor="end" textLength="14.4" lengthAdjust="spacingAndGlyphs">طراح وب</text>
<clipPath id="avm6"><circle cx="52.6" cy="10.6" r="7.2"/></clipPath>
<g clip-path="url(#avm6)">
<circle cx="52.6" cy="10.6" r="7.2" fill="#cbc5c0"/>
<ellipse cx="52.6" cy="12.18" rx="6.05" ry="7.2" fill="#4e3626"/>
<ellipse cx="52.6" cy="18.16" rx="5.76" ry="3.6" fill="#3c2a20"/>
<ellipse cx="52.6" cy="9.74" rx="2.45" ry="3.02" fill="#dcae94"/>
</g>
<circle cx="52.6" cy="10.6" r="7.2" fill="none" stroke="#c4c4ca" stroke-width="0.5" opacity="0.9"/>
<path d="M65.6 0L65.6 21" stroke="#3a3e44" stroke-width="0.4" fill="none"/>
<g transform="translate(75.51 7.01) scale(0.34)" fill="none" stroke="#ffffff" stroke-width="2.53" stroke-linecap="round" stroke-linejoin="round"><path d="M21 15a2 2 0 0 1-2 2H7l-4 4V5a2 2 0 0 1 2-2h14a2 2 0 0 1 2 2z"/></g>
<circle cx="76.9" cy="7.1" r="2.8" fill="#e8253a"/>
<text x="76.9" y="8.23" font-size="3.22" fill="#fff" text-anchor="middle">۸</text>
<g transform="translate(92.51 7.01) scale(0.34)" fill="none" stroke="#ffffff" stroke-width="2.53" stroke-linecap="round" stroke-linejoin="round"><path d="M18 8A6 6 0 0 0 6 8c0 7-3 9-3 9h18s-3-2-3-9M13.7 21a2 2 0 0 1-3.4 0"/></g>
<circle cx="93.9" cy="7.1" r="2.8" fill="#e8253a"/>
<text x="93.9" y="8.23" font-size="3.22" fill="#fff" text-anchor="middle">۷</text>
<g transform="translate(107.99 6.89) scale(0.32)" fill="none" stroke="#ffffff" stroke-width="2.86" stroke-linecap="round" stroke-linejoin="round"><rect x="3" y="3" width="7" height="7" rx="1"/><rect x="14" y="3" width="7" height="7" rx="1"/><rect x="14" y="14" width="7" height="7" rx="1"/><rect x="3" y="14" width="7" height="7" rx="1"/></g>
<g transform="translate(124.17 6.87) scale(0.34)" fill="none" stroke="#ffffff" stroke-width="3.08" stroke-linecap="round" stroke-linejoin="round"><circle cx="11" cy="11" r="7"/><path d="M21 21l-5-5"/></g>
<g transform="translate(422.55 6.75) scale(0.27)" fill="none" stroke="#ffffff" stroke-width="3.08" stroke-linecap="round" stroke-linejoin="round"><rect x="3" y="3" width="18" height="18" rx="2"/><path d="M8 12l3 3 6-7"/></g>
<g transform="translate(435.25 6.75) scale(0.27)" fill="none" stroke="#ffffff" stroke-width="3.08" stroke-linecap="round" stroke-linejoin="round"><rect x="3" y="4" width="18" height="18" rx="2"/><path d="M16 2v4M8 2v4M3 10h18"/></g>
<g transform="translate(447.95 6.75) scale(0.27)" fill="none" stroke="#ffffff" stroke-width="3.08" stroke-linecap="round" stroke-linejoin="round"><path d="M21 15a2 2 0 0 1-2 2H7l-4 4V5a2 2 0 0 1 2-2h14a2 2 0 0 1 2 2z"/></g>
<g transform="translate(460.65 6.75) scale(0.27)" fill="none" stroke="#ffffff" stroke-width="3.08" stroke-linecap="round" stroke-linejoin="round"><rect x="2" y="4" width="20" height="16" rx="2"/><path d="M22 6l-10 7L2 6"/></g>
<path d="M475.5 0L475.5 21" stroke="#3a3e44" stroke-width="0.4" fill="none"/>
<path d="M539.4 0L539.4 21" stroke="#3a3e44" stroke-width="0.4" fill="none"/>
<text x="521.3" y="13.54" font-size="8.4" fill="#ffffff" text-anchor="end" textLength="34.2" lengthAdjust="spacingAndGlyphs">Synadmin</text>
<g transform="translate(531.3 10.7) scale(0.92)" fill="none" stroke-linejoin="round" stroke-linecap="round"><path d="M-0.4 -5.8L-3.4 0H2.6Z" stroke="#ffffff" stroke-width="1.25"/><path d="M-2 -2h3.2" stroke="#ffffff" stroke-width="0.8"/><path d="M6.8 -1C2 -0.6 -3 -0.2 -5.2 1.5C-7.3 3.1 -6.3 4.7 -3.4 6" stroke="#ffffff" stroke-width="1.5"/></g>
<rect x="0" y="21" width="550" height="19.6" fill="#ffffff"/>
<path d="M0 40.6L550 40.6" stroke="#3a3e44" stroke-width="0.4" fill="none"/>
<g transform="translate(526.83 27.33) scale(0.29)" fill="none" stroke="#6a6a74" stroke-width="2.42" stroke-linecap="round" stroke-linejoin="round"><path d="M3 10l9-8 9 8v10a2 2 0 0 1-2 2H5a2 2 0 0 1-2-2z"/><path d="M9 22v-8h6v8"/></g>
<text x="523.7" y="32.99" font-size="4.83" fill="#6a6a74" text-anchor="end">داشبورد</text>
<text x="470.3" y="33.28" font-size="7.36" fill="#6a6a74" text-anchor="middle">‹</text>
<g transform="translate(451.23 27.33) scale(0.29)" fill="none" stroke="#6a6a74" stroke-width="2.42" stroke-linecap="round" stroke-linejoin="round"><rect x="3" y="3" width="7" height="7" rx="1"/><rect x="14" y="3" width="7" height="7" rx="1"/><rect x="14" y="14" width="7" height="7" rx="1"/><rect x="3" y="14" width="7" height="7" rx="1"/></g>
<text x="448.1" y="32.99" font-size="4.83" fill="#6a6a74" text-anchor="end">اپلیکیشن</text>
<text x="394.7" y="33.28" font-size="7.36" fill="#6a6a74" text-anchor="middle">‹</text>
<g transform="translate(375.63 27.33) scale(0.29)" fill="none" stroke="#6a6a74" stroke-width="2.42" stroke-linecap="round" stroke-linejoin="round"><path d="M3 3v18h18M7 15l4-5 4 3 5-7"/></g>
<text x="372.5" y="32.99" font-size="4.83" fill="#6a6a74" text-anchor="end">نمودار ها</text>
<text x="319.1" y="33.28" font-size="7.36" fill="#6a6a74" text-anchor="middle">‹</text>
<g transform="translate(300.03 27.33) scale(0.29)" fill="none" stroke="#6a6a74" stroke-width="2.42" stroke-linecap="round" stroke-linejoin="round"><rect x="4" y="3" width="16" height="15" rx="2"/><path d="M4 11h16M8 18v3M16 18v3"/><circle cx="8" cy="14.5" r="1"/><circle cx="16" cy="14.5" r="1"/></g>
<text x="296.9" y="32.99" font-size="4.83" fill="#6a6a74" text-anchor="end">کامپوننت ها</text>
<text x="243.5" y="33.28" font-size="7.36" fill="#6a6a74" text-anchor="middle">‹</text>
<g transform="translate(224.43 27.33) scale(0.29)" fill="none" stroke="#6a6a74" stroke-width="2.42" stroke-linecap="round" stroke-linejoin="round"><rect x="3" y="11" width="18" height="11" rx="2"/><path d="M7 11V7a5 5 0 0 1 10 0v4"/></g>
<text x="221.3" y="32.99" font-size="4.83" fill="#6a6a74" text-anchor="end">احراز هویت</text>
<text x="167.9" y="33.28" font-size="7.36" fill="#6a6a74" text-anchor="middle">‹</text>
<g transform="translate(148.83 27.33) scale(0.29)" fill="none" stroke="#6a6a74" stroke-width="2.42" stroke-linecap="round" stroke-linejoin="round"><path d="M7 22V11l5-9c2 0 3 2 2 5l-1 3h7c1 0 2 1 2 2l-2 8c0 1-1 2-2 2zM3 11h4v11H3z"/></g>
<text x="145.7" y="32.99" font-size="4.83" fill="#6a6a74" text-anchor="end">صفحات</text>
<text x="92.3" y="33.28" font-size="7.36" fill="#6a6a74" text-anchor="middle">‹</text>
<g transform="translate(73.23 27.33) scale(0.29)" fill="none" stroke="#6a6a74" stroke-width="2.42" stroke-linecap="round" stroke-linejoin="round"><rect x="3" y="3" width="18" height="18" rx="2"/><path d="M8 16l1-4 7-7 3 3-7 7z"/></g>
<text x="70.1" y="32.99" font-size="4.83" fill="#6a6a74" text-anchor="end">فرم ها</text>
<text x="16.7" y="33.28" font-size="7.36" fill="#6a6a74" text-anchor="middle">‹</text>
<path d="M0 152.2h11.3a3 3 0 0 1 3 3v7.7a3 3 0 0 1-3 3h-11.3z" fill="#6b38ef"/>
<circle cx="7" cy="159.1" r="3.0" fill="none" stroke="#fff" stroke-width="1.3" stroke-dasharray="1.75 1.39" opacity="0.95"/>
<circle cx="7" cy="159.1" r="2.1" fill="none" stroke="#fff" stroke-width="1.2" opacity="0.95"/></svg></div>
<div class="m" style="top:2846.3px;height:359.4px"><svg width="550" height="359.4" viewBox="0 0 550 359.4"><rect x="0" y="0" width="550" height="359.4" fill="#121212"/>
<clipPath id="wcm70"><rect x="8.3" y="29.8" width="105.7" height="47.6" rx="1.8"/></clipPath>
<rect x="8.3" y="29.8" width="105.7" height="47.6" fill="#1b1b1b" rx="1.8" stroke="#242424" stroke-width="0.3"/>
<linearGradient id="wgm70" x1="0" y1="0" x2="0" y2="1"><stop offset="0" stop-color="#2fd24f" stop-opacity="0.62"/><stop offset="1" stop-color="#2fd24f" stop-opacity="0.22"/></linearGradient>
<g clip-path="url(#wcm70)"><path d="M8.3 72.3C10.4 72.56 15.12 75.56 18.8 73.6C22.48 71.64 23.52 63.7 26.7 62.5C29.88 61.3 31.52 67.22 34.7 67.6C37.88 67.98 38.8 63.64 42.6 64.4C46.4 65.16 49.12 72.74 53.7 71.4C58.28 70.06 61.04 59.28 65.5 57.7C69.96 56.12 72 62.8 76 63.5C80 64.2 81.38 60.38 85.5 61.2C89.62 62.02 92.8 66.7 96.6 67.6C100.4 68.5 101.02 64.76 104.5 65.7C107.98 66.64 112.1 70.98 114 72.3L114 77.4L8.3 77.4Z" fill="url(#wgm70)"/><path d="M8.3 72.3C10.4 72.56 15.12 75.56 18.8 73.6C22.48 71.64 23.52 63.7 26.7 62.5C29.88 61.3 31.52 67.22 34.7 67.6C37.88 67.98 38.8 63.64 42.6 64.4C46.4 65.16 49.12 72.74 53.7 71.4C58.28 70.06 61.04 59.28 65.5 57.7C69.96 56.12 72 62.8 76 63.5C80 64.2 81.38 60.38 85.5 61.2C89.62 62.02 92.8 66.7 96.6 67.6C100.4 68.5 101.02 64.76 104.5 65.7C107.98 66.64 112.1 70.98 114 72.3" fill="none" stroke="#22b83c" stroke-width="1.05"/></g>
<text x="108.7" y="39.05" font-size="4.71" fill="#98989e" text-anchor="end">دیدگاه</text>
<text x="108.7" y="48.06" font-size="7.59" fill="#d6d6da" text-anchor="start" direction="rtl">۸۶۹</text>
<g transform="translate(13.98 37.58) scale(0.4)" fill="none" stroke="#d6d6da" stroke-width="1.98" stroke-linecap="round" stroke-linejoin="round"><path d="M16 13a2 2 0 0 1-2 2H7l-4 4V5a2 2 0 0 1 2-2h9a2 2 0 0 1 2 2z"/><path d="M20 8v9h-9"/></g>
<clipPath id="wcm71"><rect x="122.5" y="29.8" width="105.7" height="47.6" rx="1.8"/></clipPath>
<rect x="122.5" y="29.8" width="105.7" height="47.6" fill="#1b1b1b" rx="1.8" stroke="#242424" stroke-width="0.3"/>
<linearGradient id="wgm71" x1="0" y1="0" x2="0" y2="1"><stop offset="0" stop-color="#ffc533" stop-opacity="0.62"/><stop offset="1" stop-color="#ffc533" stop-opacity="0.22"/></linearGradient>
<g clip-path="url(#wcm71)"><path d="M122.5 72.3C124.6 72.56 129.32 75.56 133 73.6C136.68 71.64 137.72 63.7 140.9 62.5C144.08 61.3 145.72 67.22 148.9 67.6C152.08 67.98 153 63.64 156.8 64.4C160.6 65.16 163.32 72.74 167.9 71.4C172.48 70.06 175.24 59.28 179.7 57.7C184.16 56.12 186.2 62.8 190.2 63.5C194.2 64.2 195.58 60.38 199.7 61.2C203.82 62.02 207 66.7 210.8 67.6C214.6 68.5 215.22 64.76 218.7 65.7C222.18 66.64 226.3 70.98 228.2 72.3L228.2 77.4L122.5 77.4Z" fill="url(#wgm71)"/><path d="M122.5 72.3C124.6 72.56 129.32 75.56 133 73.6C136.68 71.64 137.72 63.7 140.9 62.5C144.08 61.3 145.72 67.22 148.9 67.6C152.08 67.98 153 63.64 156.8 64.4C160.6 65.16 163.32 72.74 167.9 71.4C172.48 70.06 175.24 59.28 179.7 57.7C184.16 56.12 186.2 62.8 190.2 63.5C194.2 64.2 195.58 60.38 199.7 61.2C203.82 62.02 207 66.7 210.8 67.6C214.6 68.5 215.22 64.76 218.7 65.7C222.18 66.64 226.3 70.98 228.2 72.3" fill="none" stroke="#f2ab12" stroke-width="1.05"/></g>
<text x="222.9" y="39.05" font-size="4.71" fill="#98989e" text-anchor="end">مجموع کاربران</text>
<text x="222.9" y="48.06" font-size="7.59" fill="#d6d6da" text-anchor="start" direction="rtl">۲۴.۵K</text>
<g transform="translate(128.18 37.58) scale(0.4)" fill="none" stroke="#d6d6da" stroke-width="1.98" stroke-linecap="round" stroke-linejoin="round"><circle cx="9" cy="8" r="3.5"/><circle cx="17" cy="9" r="2.5"/><path d="M2 20c0-6 14-6 14 0M16 14c3-1 6 1 6 5"/></g>
<clipPath id="wcm72"><rect x="236.7" y="29.8" width="105.7" height="47.6" rx="1.8"/></clipPath>
<rect x="236.7" y="29.8" width="105.7" height="47.6" fill="#1b1b1b" rx="1.8" stroke="#242424" stroke-width="0.3"/>
<linearGradient id="wgm72" x1="0" y1="0" x2="0" y2="1"><stop offset="0" stop-color="#9b5cff" stop-opacity="0.62"/><stop offset="1" stop-color="#9b5cff" stop-opacity="0.22"/></linearGradient>
<g clip-path="url(#wcm72)"><path d="M236.7 72.3C238.8 72.56 243.52 75.56 247.2 73.6C250.88 71.64 251.92 63.7 255.1 62.5C258.28 61.3 259.92 67.22 263.1 67.6C266.28 67.98 267.2 63.64 271 64.4C274.8 65.16 277.52 72.74 282.1 71.4C286.68 70.06 289.44 59.28 293.9 57.7C298.36 56.12 300.4 62.8 304.4 63.5C308.4 64.2 309.78 60.38 313.9 61.2C318.02 62.02 321.2 66.7 325 67.6C328.8 68.5 329.42 64.76 332.9 65.7C336.38 66.64 340.5 70.98 342.4 72.3L342.4 77.4L236.7 77.4Z" fill="url(#wgm72)"/><path d="M236.7 72.3C238.8 72.56 243.52 75.56 247.2 73.6C250.88 71.64 251.92 63.7 255.1 62.5C258.28 61.3 259.92 67.22 263.1 67.6C266.28 67.98 267.2 63.64 271 64.4C274.8 65.16 277.52 72.74 282.1 71.4C286.68 70.06 289.44 59.28 293.9 57.7C298.36 56.12 300.4 62.8 304.4 63.5C308.4 64.2 309.78 60.38 313.9 61.2C318.02 62.02 321.2 66.7 325 67.6C328.8 68.5 329.42 64.76 332.9 65.7C336.38 66.64 340.5 70.98 342.4 72.3" fill="none" stroke="#7c3aed" stroke-width="1.05"/></g>
<text x="337.1" y="39.05" font-size="4.71" fill="#98989e" text-anchor="end">مجموع درآمد</text>
<text x="337.1" y="48.06" font-size="7.59" fill="#d6d6da" text-anchor="start" direction="rtl">۵۲,۹۴۵ تومان</text>
<g transform="translate(242.38 37.58) scale(0.4)" fill="none" stroke="#d6d6da" stroke-width="1.98" stroke-linecap="round" stroke-linejoin="round"><rect x="2" y="5" width="20" height="15" rx="2.5"/><path d="M2 9h20M16 14h3"/></g>
<clipPath id="wcm73"><rect x="350.9" y="29.8" width="105.7" height="47.6" rx="1.8"/></clipPath>
<rect x="350.9" y="29.8" width="105.7" height="47.6" fill="#1b1b1b" rx="1.8" stroke="#242424" stroke-width="0.3"/>
<linearGradient id="wgm73" x1="0" y1="0" x2="0" y2="1"><stop offset="0" stop-color="#f43f4e" stop-opacity="0.62"/><stop offset="1" stop-color="#f43f4e" stop-opacity="0.22"/></linearGradient>
<g clip-path="url(#wcm73)"><path d="M350.9 72.3C353 72.56 357.72 75.56 361.4 73.6C365.08 71.64 366.12 63.7 369.3 62.5C372.48 61.3 374.12 67.22 377.3 67.6C380.48 67.98 381.4 63.64 385.2 64.4C389 65.16 391.72 72.74 396.3 71.4C400.88 70.06 403.64 59.28 408.1 57.7C412.56 56.12 414.6 62.8 418.6 63.5C422.6 64.2 423.98 60.38 428.1 61.2C432.22 62.02 435.4 66.7 439.2 67.6C443 68.5 443.62 64.76 447.1 65.7C450.58 66.64 454.7 70.98 456.6 72.3L456.6 77.4L350.9 77.4Z" fill="url(#wgm73)"/><path d="M350.9 72.3C353 72.56 357.72 75.56 361.4 73.6C365.08 71.64 366.12 63.7 369.3 62.5C372.48 61.3 374.12 67.22 377.3 67.6C380.48 67.98 381.4 63.64 385.2 64.4C389 65.16 391.72 72.74 396.3 71.4C400.88 70.06 403.64 59.28 408.1 57.7C412.56 56.12 414.6 62.8 418.6 63.5C422.6 64.2 423.98 60.38 428.1 61.2C432.22 62.02 435.4 66.7 439.2 67.6C443 68.5 443.62 64.76 447.1 65.7C450.58 66.64 454.7 70.98 456.6 72.3" fill="none" stroke="#e5202e" stroke-width="1.05"/></g>
<text x="451.3" y="39.05" font-size="4.71" fill="#98989e" text-anchor="end">مجموع سفارشات</text>
<text x="451.3" y="48.06" font-size="7.59" fill="#d6d6da" text-anchor="start" direction="rtl">۸۶۷</text>
<g transform="translate(356.58 37.58) scale(0.4)" fill="none" stroke="#d6d6da" stroke-width="1.98" stroke-linecap="round" stroke-linejoin="round"><circle cx="9" cy="21" r="1.3"/><circle cx="19" cy="21" r="1.3"/><path d="M1 2h4l2.7 13.4a2 2 0 0 0 2 1.6h9.7a2 2 0 0 0 2-1.6L23 6H6"/></g>
<rect x="8.3" y="87.5" width="143" height="156.8" fill="#1b1b1b" rx="1.8" stroke="#242424" stroke-width="0.3"/>
<text x="145.6" y="99.65" font-size="6.44" fill="#d6d6da" text-anchor="end">هدف فروش</text>
<circle cx="15.6" cy="97.4" r="0.55" fill="#d6d6da"/>
<circle cx="17.3" cy="97.4" r="0.55" fill="#d6d6da"/>
<circle cx="19" cy="97.4" r="0.55" fill="#d6d6da"/>
<circle cx="80.4" cy="164.3" r="40.8" fill="none" stroke="#d3cbe8" stroke-width="5.2"/>
<path d="M80.4 123.5A40.8 40.8 0 1 1 43.42 181.54" fill="none" stroke="#7c2ff2" stroke-width="5.2" stroke-linecap="round"/>
<text x="80.4" y="155.29" font-size="4.83" fill="#98989e" text-anchor="middle">پیشرفت</text>
<text x="80.4" y="173.03" font-size="15.5" fill="#d6d6da" text-anchor="middle" textLength="29.5" lengthAdjust="spacingAndGlyphs">۶۸%</text>
<text x="146.2" y="223.76" font-size="9.6" fill="#d6d6da" text-anchor="end" textLength="22.5" lengthAdjust="spacingAndGlyphs">۲۲۴۸</text>
<text x="146.2" y="233.05" font-size="4.14" fill="#98989e" text-anchor="end">ارسال ۴ هدف</text>
<rect x="14" y="219.6" width="40.8" height="12.2" fill="none" rx="1.2" stroke="#4a4a4e" stroke-width="0.4"/>
<rect x="47.2" y="223.9" width="3.6" height="3.6" fill="#7c2ff2" rx="0.4"/>
<text x="45.4" y="227.39" font-size="4.25" fill="#98989e" text-anchor="end">فروش بازاریابی</text>
<rect x="160" y="87.5" width="296.6" height="156.8" fill="#1b1b1b" rx="1.8" stroke="#242424" stroke-width="0.3"/>
<text x="308.5" y="100.79" font-size="5.4" fill="#d6d6da" text-anchor="middle">گزارش سالیانه ترافیک و فروش</text>
<path d="M439.7 97.3L444.9 97.3" stroke="#e8e8ea" stroke-width="0.9" fill="none"/>
<path d="M439.7 99.1L444.9 99.1" stroke="#e8e8ea" stroke-width="0.9" fill="none"/>
<path d="M439.7 100.9L444.9 100.9" stroke="#e8e8ea" stroke-width="0.9" fill="none"/>
<path d="M181.5 207.1L446 207.1" stroke="#303032" stroke-width="0.35" fill="none"/>
<text x="178.5" y="208.31" font-size="3.45" fill="#808086" text-anchor="end">۰k</text>
<path d="M181.5 187.62L446 187.62" stroke="#303032" stroke-width="0.35" fill="none"/>
<text x="178.5" y="188.83" font-size="3.45" fill="#808086" text-anchor="end">۱.۶k</text>
<path d="M181.5 168.14L446 168.14" stroke="#303032" stroke-width="0.35" fill="none"/>
<text x="178.5" y="169.35" font-size="3.45" fill="#808086" text-anchor="end">۳.۲k</text>
<path d="M181.5 148.66L446 148.66" stroke="#303032" stroke-width="0.35" fill="none"/>
<text x="178.5" y="149.87" font-size="3.45" fill="#808086" text-anchor="end">۴.۸k</text>
<path d="M181.5 129.18L446 129.18" stroke="#303032" stroke-width="0.35" fill="none"/>
<text x="178.5" y="130.39" font-size="3.45" fill="#808086" text-anchor="end">۶.۴k</text>
<path d="M181.5 109.7L446 109.7" stroke="#303032" stroke-width="0.35" fill="none"/>
<text x="178.5" y="110.91" font-size="3.45" fill="#808086" text-anchor="end">۸.۰k</text>
<path d="M196 207L212 206.5L224 205L232 201L238 195L243 186L248 174L253 162L258 153L263 148L269.2 146.3L275 148.5L280 153.5L285.5 157.1L291 154L296.4 151.7L302 154L307 158L311 159.8L318 160.5L330 161L342 161.5L348 162.5L352 168L356 176L360 183L367 187L380 188.5L400 191L424.5 195.2L425.8 197.9L443.7 197.9L443.7 207.1L196 207.1Z" fill="#8a3ffc" opacity="0.86"/>
<path d="M230 207L243 205.6L255 203.2L266.5 198.6L280 190L293.7 178.9L303 169L311 159.8L319 150L326.3 140.8L333 130L338.8 119.1L343 124L350 132L358 140L369.8 151.7L385 161L402.4 170.7L415 177.5L424 181.5L425.6 184L425.8 197.9L443.7 197.9L443.7 207.1L230 207.1Z" fill="#e8354a" opacity="0.86"/>
<circle cx="198" cy="207.1" r="0.5" fill="#8a3ffc"/>
<circle cx="202.2" cy="207.1" r="0.5" fill="#8a3ffc"/>
<circle cx="206.4" cy="207.1" r="0.5" fill="#8a3ffc"/>
<circle cx="210.6" cy="207.1" r="0.5" fill="#8a3ffc"/>
<circle cx="214.8" cy="207.1" r="0.5" fill="#8a3ffc"/>
<circle cx="219" cy="207.1" r="0.5" fill="#8a3ffc"/>
<circle cx="223.2" cy="207.1" r="0.5" fill="#8a3ffc"/>
<circle cx="227.4" cy="207.1" r="0.5" fill="#8a3ffc"/>
<text x="183.8" y="213.91" font-size="3.45" fill="#808086" text-anchor="middle">۱۳۹۰</text>
<text x="217.4" y="213.91" font-size="3.45" fill="#808086" text-anchor="middle">۱۳۹۱</text>
<text x="251" y="213.91" font-size="3.45" fill="#808086" text-anchor="middle">۱۳۹۲</text>
<text x="284.6" y="213.91" font-size="3.45" fill="#808086" text-anchor="middle">۱۳۹۳</text>
<text x="318.2" y="213.91" font-size="3.45" fill="#808086" text-anchor="middle">۱۳۹۴</text>
<text x="351.8" y="213.91" font-size="3.45" fill="#808086" text-anchor="middle">۱۳۹۵</text>
<text x="385.4" y="213.91" font-size="3.45" fill="#808086" text-anchor="middle">۱۳۹۶</text>
<text x="419" y="213.91" font-size="3.45" fill="#808086" text-anchor="middle">۱۳۹۷</text>
<circle cx="325.2" cy="224.1" r="1.9" fill="#8a3ffc"/>
<text x="322" y="225.71" font-size="4.02" fill="#d6d6da" text-anchor="end">فروش</text>
<circle cx="302" cy="224.1" r="1.9" fill="#e8354a"/>
<text x="298.8" y="225.71" font-size="4.02" fill="#d6d6da" text-anchor="end">ترافیک</text>
<rect x="8.3" y="251.8" width="222.9" height="130" fill="#1b1b1b" rx="1.8" stroke="#242424" stroke-width="0.3"/>
<text x="222.3" y="263.37" font-size="6.21" fill="#d6d6da" text-anchor="end">گزارش فروش</text>
<circle cx="16.4" cy="261.2" r="0.55" fill="#d6d6da"/>
<circle cx="18.1" cy="261.2" r="0.55" fill="#d6d6da"/>
<circle cx="19.8" cy="261.2" r="0.55" fill="#d6d6da"/>
<rect x="70.2" y="270.7" width="3.8" height="3.8" fill="#18b6e8"/>
<text x="68.2" y="274.21" font-size="4.02" fill="#98989e" text-anchor="end">فروش آنلاین</text>
<rect x="40.8" y="270.7" width="3.8" height="3.8" fill="#f2f2f2"/>
<text x="38.8" y="274.21" font-size="4.02" fill="#98989e" text-anchor="end">فروش آفلاین</text>
<path d="M25.5 288.2L224 288.2" stroke="#e2e2e4" stroke-width="0.35" fill="none"/>
<text x="23" y="289.41" font-size="3.45" fill="#808086" text-anchor="end">۵۰۰</text>
<path d="M25.5 299.9L224 299.9" stroke="#e2e2e4" stroke-width="0.35" fill="none"/>
<text x="23" y="301.11" font-size="3.45" fill="#808086" text-anchor="end">۴۰۰</text>
<path d="M25.5 311.8L224 311.8" stroke="#e2e2e4" stroke-width="0.35" fill="none"/>
<text x="23" y="313.01" font-size="3.45" fill="#808086" text-anchor="end">۳۰۰</text>
<path d="M25.5 323.8L224 323.8" stroke="#e2e2e4" stroke-width="0.35" fill="none"/>
<text x="23" y="325.01" font-size="3.45" fill="#808086" text-anchor="end">۲۰۰</text>
<path d="M25.5 336L224 336" stroke="#e2e2e4" stroke-width="0.35" fill="none"/>
<text x="23" y="337.21" font-size="3.45" fill="#808086" text-anchor="end">۱۰۰</text>
<rect x="33.8" y="319.7" width="3.8" height="33.3" fill="#f2f2f2" rx="0.7"/>
<rect x="33.8" y="336" width="3.8" height="17" fill="#18b6e8"/>
<rect x="49.69" y="315.9" width="3.8" height="37.1" fill="#f2f2f2" rx="0.7"/>
<rect x="49.69" y="331.7" width="3.8" height="21.3" fill="#18b6e8"/>
<rect x="65.58" y="310" width="3.8" height="43" fill="#f2f2f2" rx="0.7"/>
<rect x="65.58" y="326.8" width="3.8" height="26.2" fill="#18b6e8"/>
<rect x="81.47" y="310.5" width="3.8" height="42.5" fill="#f2f2f2" rx="0.7"/>
<rect x="81.47" y="326.3" width="3.8" height="26.7" fill="#18b6e8"/>
<rect x="97.36" y="315.4" width="3.8" height="37.6" fill="#f2f2f2" rx="0.7"/>
<rect x="97.36" y="326.8" width="3.8" height="26.2" fill="#18b6e8"/>
<rect x="113.25" y="305" width="3.8" height="48" fill="#f2f2f2" rx="0.7"/>
<rect x="113.25" y="324.1" width="3.8" height="28.9" fill="#18b6e8"/>
<rect x="129.14" y="305" width="3.8" height="48" fill="#f2f2f2" rx="0.7"/>
<rect x="129.14" y="325.2" width="3.8" height="27.8" fill="#18b6e8"/>
<rect x="145.03" y="301.8" width="3.8" height="51.2" fill="#f2f2f2" rx="0.7"/>
<rect x="145.03" y="323.6" width="3.8" height="29.4" fill="#18b6e8"/>
<rect x="160.92" y="302.3" width="3.8" height="50.7" fill="#f2f2f2" rx="0.7"/>
<rect x="160.92" y="324.1" width="3.8" height="28.9" fill="#18b6e8"/>
<rect x="176.81" y="305" width="3.8" height="48" fill="#f2f2f2" rx="0.7"/>
<rect x="176.81" y="322.5" width="3.8" height="30.5" fill="#18b6e8"/>
<rect x="192.7" y="296.9" width="3.8" height="56.1" fill="#f2f2f2" rx="0.7"/>
<rect x="192.7" y="319.7" width="3.8" height="33.3" fill="#18b6e8"/>
<rect x="208.59" y="299.5" width="3.8" height="53.5" fill="#f2f2f2" rx="0.7"/>
<rect x="208.59" y="321" width="3.8" height="32" fill="#18b6e8"/>
<rect x="237.8" y="251.8" width="218.8" height="130" fill="#1b1b1b" rx="1.8" stroke="#242424" stroke-width="0.3"/>
<text x="350.5" y="263.09" font-size="5.4" fill="#d6d6da" text-anchor="middle">کل ترافیک بر اساس منبع</text>
<path d="M439.7 259.6L444.9 259.6" stroke="#e8e8ea" stroke-width="0.9" fill="none"/>
<path d="M439.7 261.4L444.9 261.4" stroke="#e8e8ea" stroke-width="0.9" fill="none"/>
<path d="M439.7 263.2L444.9 263.2" stroke="#e8e8ea" stroke-width="0.9" fill="none"/>
<path d="M344.5 289.7A27.3 27.3 0 0 1 371.75 315.38" fill="none" stroke="#8a3ffc" stroke-width="16.2"/>
<path d="M371.73 315.1A27.3 27.3 0 0 1 343.74 344.29" fill="none" stroke="#e8253a" stroke-width="16.2"/>
<path d="M344.02 344.3A27.3 27.3 0 0 1 324.34 335.41" fill="none" stroke="#ffc107" stroke-width="16.2"/>
<path d="M324.53 335.62A27.3 27.3 0 0 1 319.84 328.71" fill="none" stroke="#2ecc40" stroke-width="16.2"/>
<path d="M319.96 328.97A27.3 27.3 0 0 1 319.48 306.07" fill="none" stroke="#23272d" stroke-width="16.2"/>
<path d="M319.37 306.33A27.3 27.3 0 0 1 344.79 289.7" fill="none" stroke="#18b6e8" stroke-width="16.2"/>
<path d="M374.5 298L382 291.5" stroke="#8a3ffc" stroke-width="0.35" fill="none"/>
<text x="383.5" y="291.73" font-size="3.79" fill="#d6d6da" text-anchor="start">اصلی</text>
<path d="M327.5 285.5L318.5 279" stroke="#18b6e8" stroke-width="0.35" fill="none"/>
<text x="317" y="279.13" font-size="3.79" fill="#d6d6da" text-anchor="end">بینگ</text>
<path d="M309 315.5L299.5 315.5" stroke="#98989e" stroke-width="0.35" fill="none"/>
<text x="298" y="316.83" font-size="3.79" fill="#d6d6da" text-anchor="end">مستقیم</text>
<path d="M315.5 337.5L306 342.5" stroke="#2ecc40" stroke-width="0.35" fill="none"/>
<text x="304.5" y="344.63" font-size="3.79" fill="#d6d6da" text-anchor="end">گوگل</text>
<rect x="0" y="0" width="464.2" height="20.6" fill="#191919"/>
<path d="M0 20.6L464.2 20.6" stroke="#303033" stroke-width="0.4" fill="none"/>
<text x="40.6" y="8.8" font-size="6" fill="#f0f0f2" text-anchor="end" font-weight="bold" textLength="25" lengthAdjust="spacingAndGlyphs">پریسا توکلی</text>
<text x="40.6" y="15.41" font-size="4.6" fill="#a0a0a6" text-anchor="end" textLength="14.4" lengthAdjust="spacingAndGlyphs">طراح وب</text>
<clipPath id="avm7"><circle cx="52.6" cy="10.4" r="7.2"/></clipPath>
<g clip-path="url(#avm7)">
<circle cx="52.6" cy="10.4" r="7.2" fill="#cbc5c0"/>
<ellipse cx="52.6" cy="11.98" rx="6.05" ry="7.2" fill="#4e3626"/>
<ellipse cx="52.6" cy="17.96" rx="5.76" ry="3.6" fill="#3c2a20"/>
<ellipse cx="52.6" cy="9.54" rx="2.45" ry="3.02" fill="#dcae94"/>
</g>
<circle cx="52.6" cy="10.4" r="7.2" fill="none" stroke="#c4c4ca" stroke-width="0.5" opacity="0.9"/>
<path d="M65.6 0L65.6 20.6" stroke="#303033" stroke-width="0.4" fill="none"/>
<g transform="translate(75.51 6.81) scale(0.34)" fill="none" stroke="#f0f0f2" stroke-width="2.53" stroke-linecap="round" stroke-linejoin="round"><path d="M21 15a2 2 0 0 1-2 2H7l-4 4V5a2 2 0 0 1 2-2h14a2 2 0 0 1 2 2z"/></g>
<circle cx="76.9" cy="6.9" r="2.8" fill="#e8253a"/>
<text x="76.9" y="8.03" font-size="3.22" fill="#fff" text-anchor="middle">۸</text>
<g transform="translate(92.51 6.81) scale(0.34)" fill="none" stroke="#f0f0f2" stroke-width="2.53" stroke-linecap="round" stroke-linejoin="round"><path d="M18 8A6 6 0 0 0 6 8c0 7-3 9-3 9h18s-3-2-3-9M13.7 21a2 2 0 0 1-3.4 0"/></g>
<circle cx="93.9" cy="6.9" r="2.8" fill="#e8253a"/>
<text x="93.9" y="8.03" font-size="3.22" fill="#fff" text-anchor="middle">۷</text>
<g transform="translate(107.99 6.69) scale(0.32)" fill="none" stroke="#f0f0f2" stroke-width="2.86" stroke-linecap="round" stroke-linejoin="round"><rect x="3" y="3" width="7" height="7" rx="1"/><rect x="14" y="3" width="7" height="7" rx="1"/><rect x="14" y="14" width="7" height="7" rx="1"/><rect x="3" y="14" width="7" height="7" rx="1"/></g>
<g transform="translate(124.17 6.67) scale(0.34)" fill="none" stroke="#f0f0f2" stroke-width="3.08" stroke-linecap="round" stroke-linejoin="round"><circle cx="11" cy="11" r="7"/><path d="M21 21l-5-5"/></g>
<g transform="translate(404.65 6.25) scale(0.27)" fill="none" stroke="#f0f0f2" stroke-width="3.08" stroke-linecap="round" stroke-linejoin="round"><rect x="3" y="3" width="18" height="18" rx="2"/><path d="M8 12l3 3 6-7"/></g>
<g transform="translate(417.7 6.25) scale(0.27)" fill="none" stroke="#f0f0f2" stroke-width="3.08" stroke-linecap="round" stroke-linejoin="round"><rect x="3" y="4" width="18" height="18" rx="2"/><path d="M16 2v4M8 2v4M3 10h18"/></g>
<g transform="translate(430.75 6.25) scale(0.27)" fill="none" stroke="#f0f0f2" stroke-width="3.08" stroke-linecap="round" stroke-linejoin="round"><path d="M21 15a2 2 0 0 1-2 2H7l-4 4V5a2 2 0 0 1 2-2h14a2 2 0 0 1 2 2z"/></g>
<g transform="translate(443.8 6.25) scale(0.27)" fill="none" stroke="#f0f0f2" stroke-width="3.08" stroke-linecap="round" stroke-linejoin="round"><rect x="2" y="4" width="20" height="16" rx="2"/><path d="M22 6l-10 7L2 6"/></g>
<rect x="0" y="346.8" width="464.2" height="12.6" fill="#191919"/>
<path d="M0 346.8L464.2 346.8" stroke="#303033" stroke-width="0.4" fill="none"/>
<text x="230" y="354.91" font-size="4.6" fill="#d8d8dc" text-anchor="middle" direction="rtl">کپی رایت © ۲۰۲۱. تمامی حقوق محفوظ است.</text>
<rect x="464.2" y="0" width="85.8" height="359.4" fill="#191919"/>
<path d="M464.2 0L464.2 359.4" stroke="#2a2a2c" stroke-width="0.4" fill="none"/>
<text x="527.4" y="12.14" font-size="8.4" fill="#ffffff" text-anchor="end" textLength="34.8" lengthAdjust="spacingAndGlyphs">Synadmin</text>
<g transform="translate(536.2 9.4) scale(1)" fill="none" stroke-linejoin="round" stroke-linecap="round"><path d="M-0.4 -5.8L-3.4 0H2.6Z" stroke="#ffffff" stroke-width="1.25"/><path d="M-2 -2h3.2" stroke="#ffffff" stroke-width="0.8"/><path d="M6.8 -1C2 -0.6 -3 -0.2 -5.2 1.5C-7.3 3.1 -6.3 4.7 -3.4 6" stroke="#ffffff" stroke-width="1.5"/></g>
<path d="M472.6 7.3l1.8 1.8 -1.8 1.8M476 7.3v3.6" fill="none" stroke="#a2a2a8" stroke-width="0.8"/>
<path d="M464.2 20.6L550 20.6" stroke="#2a2a2c" stroke-width="0.4" fill="none"/>
<rect x="468.2" y="25.8" width="78.8" height="15.6" fill="#3a3a3c" rx="1.2"/>
<g transform="translate(533.1 29.1) scale(0.31)" fill="none" stroke="#ffffff" stroke-width="2.64" stroke-linecap="round" stroke-linejoin="round"><path d="M3 10l9-8 9 8v10a2 2 0 0 1-2 2H5a2 2 0 0 1-2-2z"/><path d="M9 22v-8h6v8"/></g>
<text x="529.3" y="35.27" font-size="5.63" fill="#ffffff" text-anchor="end">داشبورد</text>
<text x="474.6" y="34.61" font-size="6.32" fill="#ffffff" text-anchor="middle">⌄</text>
<rect x="468.2" y="41.4" width="78.8" height="68.6" fill="#292929" rx="1" stroke="#2a2a2c" stroke-width="0.35"/>
<path d="M537.2 49l2.0 -1.3v2.6z" fill="#a2a2a8"/>
<text x="533.4" y="51.11" font-size="5.17" fill="#a2a2a8" text-anchor="end">تجزیه و تحلیل</text>
<rect x="468.2" y="56.8" width="78.8" height="11" fill="#4e4e50"/>
<path d="M537.2 62.3l2.0 -1.3v2.6z" fill="#ffffff"/>
<text x="533.4" y="64.41" font-size="5.17" fill="#ffffff" text-anchor="end" font-weight="bold">فروش</text>
<path d="M537.2 75.6l2.0 -1.3v2.6z" fill="#a2a2a8"/>
<text x="533.4" y="77.71" font-size="5.17" fill="#a2a2a8" text-anchor="end">فروشگاه</text>
<path d="M537.2 88.9l2.0 -1.3v2.6z" fill="#a2a2a8"/>
<text x="533.4" y="91.01" font-size="5.17" fill="#a2a2a8" text-anchor="end">متناوب</text>
<path d="M537.2 102.2l2.0 -1.3v2.6z" fill="#a2a2a8"/>
<text x="533.4" y="104.31" font-size="5.17" fill="#a2a2a8" text-anchor="end">بیمارستان</text>
<g transform="translate(533.1 116) scale(0.31)" fill="none" stroke="#a2a2a8" stroke-width="2.42" stroke-linecap="round" stroke-linejoin="round"><path d="M12 21c-4 0-7-3-7-7 3 0 5 1 7 4 2-3 4-4 7-4 0 4-3 7-7 7zM12 17c-3-3-3-9 0-13 3 4 3 10 0 13z"/></g>
<text x="529.3" y="122.07" font-size="5.63" fill="#a2a2a8" text-anchor="end">اپلیکیشن</text>
<text x="474.8" y="122.12" font-size="6.9" fill="#a2a2a8" text-anchor="middle">‹</text>
<text x="545.6" y="140.63" font-size="3.79" fill="#86868c" text-anchor="start" direction="rtl">عناصر UI</text>
<g transform="translate(533.1 149.3) scale(0.31)" fill="none" stroke="#a2a2a8" stroke-width="2.42" stroke-linecap="round" stroke-linejoin="round"><rect x="2" y="7" width="20" height="14" rx="2"/><path d="M16 7V5a2 2 0 0 0-2-2h-4a2 2 0 0 0-2 2v2M2 13h20"/></g>
<text x="529.3" y="155.37" font-size="5.63" fill="#a2a2a8" text-anchor="end">ویجت ها</text>
<g transform="translate(533.1 167.6) scale(0.31)" fill="none" stroke="#a2a2a8" stroke-width="2.42" stroke-linecap="round" stroke-linejoin="round"><path d="M2 4h20l-2 7H4zM5 11v9M19 11v9M9 11v5h6v-5"/></g>
<text x="529.3" y="173.67" font-size="5.63" fill="#a2a2a8" text-anchor="end">فروشگاه</text>
<text x="474.8" y="173.72" font-size="6.9" fill="#a2a2a8" text-anchor="middle">‹</text>
<g transform="translate(533.1 185.4) scale(0.31)" fill="none" stroke="#a2a2a8" stroke-width="2.42" stroke-linecap="round" stroke-linejoin="round"><path d="M20 12v10H4V12"/><rect x="2" y="7" width="20" height="5"/><path d="M12 22V7M12 7H7.5a2.5 2.5 0 0 1 0-5C11 2 12 7 12 7zM12 7h4.5a2.5 2.5 0 0 0 0-5C13 2 12 7 12 7z"/></g>
<text x="529.3" y="191.47" font-size="5.63" fill="#a2a2a8" text-anchor="end">کامپوننت ها</text>
<text x="474.8" y="191.51" font-size="6.9" fill="#a2a2a8" text-anchor="middle">‹</text>
<g transform="translate(533.1 202.9) scale(0.31)" fill="none" stroke="#a2a2a8" stroke-width="2.42" stroke-linecap="round" stroke-linejoin="round"><path d="M18 3a3 3 0 0 0-3 3v12a3 3 0 0 0 3 3 3 3 0 0 0 3-3 3 3 0 0 0-3-3H6a3 3 0 0 0-3 3 3 3 0 0 0 3 3 3 3 0 0 0 3-3V6a3 3 0 0 0-3-3 3 3 0 0 0-3 3 3 3 0 0 0 3 3h12a3 3 0 0 0 3-3 3 3 0 0 0-3-3z"/></g>
<text x="529.3" y="208.97" font-size="5.63" fill="#a2a2a8" text-anchor="end">محتوا</text>
<text x="474.8" y="209.01" font-size="6.9" fill="#a2a2a8" text-anchor="middle">‹</text>
<g transform="translate(533.1 221.1) scale(0.31)" fill="none" stroke="#a2a2a8" stroke-width="2.42" stroke-linecap="round" stroke-linejoin="round"><rect x="3" y="3" width="18" height="18" rx="4"/><circle cx="12" cy="12" r="4"/><path d="M3 3l6 6M21 3l-6 6M3 21l6-6M21 21l-6-6"/></g>
<text x="529.3" y="227.17" font-size="5.63" fill="#a2a2a8" text-anchor="end">آیکون ها</text>
<text x="474.8" y="227.22" font-size="6.9" fill="#a2a2a8" text-anchor="middle">‹</text>
<text x="545.6" y="245.73" font-size="3.79" fill="#86868c" text-anchor="start" direction="rtl">فرم ها و جداول</text>
<g transform="translate(533.1 255.4) scale(0.31)" fill="none" stroke="#a2a2a8" stroke-width="2.42" stroke-linecap="round" stroke-linejoin="round"><path d="M5 2h14M5 22h14M7 2c0 6 5 6 5 10s-5 4-5 10M17 2c0 6-5 6-5 10s5 4 5 10"/></g>
<text x="529.3" y="261.47" font-size="5.63" fill="#a2a2a8" text-anchor="end">فرم ها</text>
<text x="474.8" y="261.51" font-size="6.9" fill="#a2a2a8" text-anchor="middle">‹</text>
<g transform="translate(533.1 273) scale(0.31)" fill="none" stroke="#a2a2a8" stroke-width="2.42" stroke-linecap="round" stroke-linejoin="round"><rect x="3" y="3" width="7" height="7" rx="1"/><rect x="14" y="3" width="7" height="7" rx="1"/><rect x="14" y="14" width="7" height="7" rx="1"/><rect x="3" y="14" width="7" height="7" rx="1"/></g>
<text x="529.3" y="279.07" font-size="5.63" fill="#a2a2a8" text-anchor="end">جداول</text>
<text x="474.8" y="279.12" font-size="6.9" fill="#a2a2a8" text-anchor="middle">‹</text>
<text x="545.6" y="297.23" font-size="3.79" fill="#86868c" text-anchor="start" direction="rtl">صفحات</text>
<g transform="translate(533.1 307.1) scale(0.31)" fill="none" stroke="#a2a2a8" stroke-width="2.42" stroke-linecap="round" stroke-linejoin="round"><rect x="3" y="11" width="18" height="11" rx="2"/><path d="M7 11V7a5 5 0 0 1 10 0v4"/></g>
<text x="529.3" y="313.17" font-size="5.63" fill="#a2a2a8" text-anchor="end">احراز هویت</text>
<text x="474.8" y="313.21" font-size="6.9" fill="#a2a2a8" text-anchor="middle">‹</text>
<g transform="translate(533.1 324.5) scale(0.31)" fill="none" stroke="#a2a2a8" stroke-width="2.42" stroke-linecap="round" stroke-linejoin="round"><rect x="3" y="2" width="18" height="20" rx="2"/><circle cx="12" cy="9" r="3"/><path d="M7 18c1-3 9-3 10 0"/></g>
<text x="529.3" y="330.57" font-size="5.63" fill="#a2a2a8" text-anchor="end">پروفایل کاربر</text>
<g transform="translate(533.1 342.4) scale(0.31)" fill="none" stroke="#a2a2a8" stroke-width="2.42" stroke-linecap="round" stroke-linejoin="round"><path d="M4 20V11l5-2 3-5 3 3h5v13z"/><circle cx="9" cy="15" r="1.5"/><circle cx="15" cy="15" r="1.5"/></g>
<text x="529.3" y="348.47" font-size="5.63" fill="#a2a2a8" text-anchor="end">تایم لاین</text>
<path d="M0 143.2h11.3a3 3 0 0 1 3 3v7.7a3 3 0 0 1-3 3h-11.3z" fill="#6b38ef"/>
<circle cx="7" cy="150.1" r="3.0" fill="none" stroke="#fff" stroke-width="1.3" stroke-dasharray="1.75 1.39" opacity="0.95"/>
<circle cx="7" cy="150.1" r="2.1" fill="none" stroke="#fff" stroke-width="1.2" opacity="0.95"/></svg></div>
<div class="m" style="top:3250.6px;height:360px"><svg width="550" height="360" viewBox="0 0 550 360"><rect x="0" y="0" width="550" height="360" fill="#121212"/>
<rect x="0" y="20.6" width="466.5" height="110.9" fill="#212529"/>
<path d="M95.8 20.6L95.8 103.2" stroke="#3a3e44" stroke-width="0.4" fill="none"/>
<path d="M186.3 20.6L186.3 103.2" stroke="#3a3e44" stroke-width="0.4" fill="none"/>
<path d="M276.9 20.6L276.9 103.2" stroke="#3a3e44" stroke-width="0.4" fill="none"/>
<path d="M367.5 20.6L367.5 103.2" stroke="#3a3e44" stroke-width="0.4" fill="none"/>
<path d="M0 103.2L463.3 103.2" stroke="#3a3e44" stroke-width="0.4" fill="none"/>
<text x="50.5" y="39.29" font-size="5.4" fill="#d6d6dc" text-anchor="middle">میانگین زمان جلسه</text>
<text x="50.5" y="51.11" font-size="10.6" fill="#f6f6f8" text-anchor="middle" textLength="35.5" lengthAdjust="spacingAndGlyphs">۰۰:۰۴:۶۰</text>
<text x="50.5" y="63.97" font-size="5.06" fill="#d6d6dc" text-anchor="middle" direction="rtl"><tspan fill="#f5222d">↓ ۵.۲%</tspan> در ۷ روز گذشته</text>
<text x="141" y="39.29" font-size="5.4" fill="#d6d6dc" text-anchor="middle">نرخ پیشرفت</text>
<text x="141" y="51.11" font-size="10.6" fill="#f6f6f8" text-anchor="middle" textLength="31.5" lengthAdjust="spacingAndGlyphs">۴۲.۶۸%</text>
<text x="141" y="63.97" font-size="5.06" fill="#d6d6dc" text-anchor="middle" direction="rtl"><tspan fill="#2ee35a">↑ ۲.۵%</tspan> در ۷ روز گذشته</text>
<text x="231.6" y="39.29" font-size="5.4" fill="#d6d6dc" text-anchor="middle">بازدید صفحه</text>
<text x="231.6" y="51.11" font-size="10.6" fill="#f6f6f8" text-anchor="middle" textLength="30.5" lengthAdjust="spacingAndGlyphs">۶۴,۸۳۵</text>
<text x="231.6" y="63.97" font-size="5.06" fill="#d6d6dc" text-anchor="middle" direction="rtl"><tspan fill="#f5222d">↓ ۳.۵%</tspan> در ۷ روز گذشته</text>
<text x="322.2" y="39.29" font-size="5.4" fill="#d6d6dc" text-anchor="middle">مجموع کاربران</text>
<text x="322.2" y="51.11" font-size="10.6" fill="#f6f6f8" text-anchor="middle" textLength="21.5" lengthAdjust="spacingAndGlyphs">۴.۵M</text>
<text x="322.2" y="63.97" font-size="5.06" fill="#d6d6dc" text-anchor="middle" direction="rtl"><tspan fill="#2ee35a">↑ ۲.۳%</tspan> در ۷ روز گذشته</text>
<text x="412.8" y="39.29" font-size="5.4" fill="#d6d6dc" text-anchor="middle">جلسات</text>
<text x="412.8" y="51.11" font-size="10.6" fill="#f6f6f8" text-anchor="middle" textLength="16" lengthAdjust="spacingAndGlyphs">۸۷۶</text>
<text x="412.8" y="63.97" font-size="5.06" fill="#d6d6dc" text-anchor="middle" direction="rtl"><tspan fill="#2ee35a">↑ ۲.۳%</tspan> در ۷ روز گذشته</text>
<path d="M14 85.8C15.76 84.52 18.85 79.14 22 80C25.15 80.86 24.47 91.06 28.3 89.7C32.13 88.34 35.2 75.21 39.4 73.8C43.6 72.39 43.55 82.6 47.4 83.3C51.25 84 52.72 76.65 56.9 77C61.08 77.35 62.55 83.73 66.4 84.9C70.25 86.07 70.07 81.11 74.4 82.3C78.73 83.49 83.53 88.54 86.1 90.3" fill="none" stroke="#2ee35a" stroke-width="0.85"/>
<path d="M376.3 85.8C378.06 84.52 381.15 79.14 384.3 80C387.45 80.86 386.77 91.06 390.6 89.7C394.43 88.34 397.5 75.21 401.7 73.8C405.9 72.39 405.85 82.6 409.7 83.3C413.55 84 415.02 76.65 419.2 77C423.38 77.35 424.85 83.73 428.7 84.9C432.55 86.07 432.37 81.11 436.7 82.3C441.03 83.49 445.83 88.54 448.4 90.3" fill="none" stroke="#8a3ffc" stroke-width="0.85"/>
<rect x="107.3" y="82.3" width="2.6" height="8.9" fill="#29b6f6" rx="0.9"/>
<rect x="288.5" y="82.3" width="2.6" height="8.9" fill="#f5222d" rx="0.9"/>
<rect x="115.3" y="79.2" width="2.6" height="12" fill="#29b6f6" rx="0.9"/>
<rect x="296.5" y="79.2" width="2.6" height="12" fill="#f5222d" rx="0.9"/>
<rect x="123.3" y="85.8" width="2.6" height="5.4" fill="#29b6f6" rx="0.9"/>
<rect x="304.5" y="85.8" width="2.6" height="5.4" fill="#f5222d" rx="0.9"/>
<rect x="131.3" y="73" width="2.6" height="18.2" fill="#29b6f6" rx="0.9"/>
<rect x="312.5" y="73" width="2.6" height="18.2" fill="#f5222d" rx="0.9"/>
<rect x="139.3" y="79.2" width="2.6" height="12" fill="#29b6f6" rx="0.9"/>
<rect x="320.5" y="79.2" width="2.6" height="12" fill="#f5222d" rx="0.9"/>
<rect x="147.3" y="77" width="2.6" height="14.2" fill="#29b6f6" rx="0.9"/>
<rect x="328.5" y="77" width="2.6" height="14.2" fill="#f5222d" rx="0.9"/>
<rect x="155.3" y="82.3" width="2.6" height="8.9" fill="#29b6f6" rx="0.9"/>
<rect x="336.5" y="82.3" width="2.6" height="8.9" fill="#f5222d" rx="0.9"/>
<rect x="163.3" y="80" width="2.6" height="11.2" fill="#29b6f6" rx="0.9"/>
<rect x="344.5" y="80" width="2.6" height="11.2" fill="#f5222d" rx="0.9"/>
<rect x="171.3" y="86.5" width="2.6" height="4.7" fill="#29b6f6" rx="0.9"/>
<rect x="352.5" y="86.5" width="2.6" height="4.7" fill="#f5222d" rx="0.9"/>
<path d="M195.1 89.5C197.2 87.9 201.9 81.9 205.6 81.5C209.3 81.1 210 88.9 213.6 87.5C217.2 86.1 219.2 75 223.6 74.5C228 74 231.2 84.14 235.6 85C240 85.86 242 79 245.6 78.8C249.2 78.6 251 83.12 253.6 84C256.2 84.88 255.7 81.8 258.6 83.2C261.5 84.6 266.2 89.44 268.1 91L268.1 91.2L195.1 91.2Z" fill="#d4a72c" opacity="0.45"/>
<path d="M195.1 89.5C197.2 87.9 201.9 81.9 205.6 81.5C209.3 81.1 210 88.9 213.6 87.5C217.2 86.1 219.2 75 223.6 74.5C228 74 231.2 84.14 235.6 85C240 85.86 242 79 245.6 78.8C249.2 78.6 251 83.12 253.6 84C256.2 84.88 255.7 81.8 258.6 83.2C261.5 84.6 266.2 89.44 268.1 91" fill="none" stroke="#e8b923" stroke-width="0.8"/>
<rect x="7.7" y="105" width="219.5" height="109.8" fill="#1b1b1b" rx="1.6" stroke="#242424" stroke-width="0.3"/>
<rect x="236.7" y="105" width="219.3" height="109.8" fill="#1b1b1b" rx="1.6" stroke="#242424" stroke-width="0.3"/>
<text x="219.8" y="114.09" font-size="5.98" fill="#d6d6da" text-anchor="end">وضعیت بازدیدکننده</text>
<rect x="13.4" y="108.1" width="41.9" height="7.7" fill="none" rx="1.2" stroke="#4a4a4e" stroke-width="0.4"/>
<circle cx="51.3" cy="112" r="1.25" fill="#c4b0f4"/>
<text x="48.3" y="113.55" font-size="4.14" fill="#98989e" text-anchor="end">بازدیدکننده قدیمی</text>
<rect x="57.5" y="108.1" width="39.1" height="7.7" fill="none" rx="1.2" stroke="#4a4a4e" stroke-width="0.4"/>
<circle cx="92.6" cy="112" r="1.25" fill="#6d28d9"/>
<text x="89.6" y="113.55" font-size="4.14" fill="#98989e" text-anchor="end">بازدیدکننده جدید</text>
<path d="M28.3 126.2L221.5 126.2" stroke="#e2e2e4" stroke-width="0.35" fill="none"/>
<text x="26" y="127.45" font-size="3.56" fill="#808086" text-anchor="end">۲۰۰K</text>
<path d="M28.3 141.9L221.5 141.9" stroke="#e2e2e4" stroke-width="0.35" fill="none"/>
<text x="26" y="143.15" font-size="3.56" fill="#808086" text-anchor="end">۱۵۰K</text>
<path d="M28.3 157.6L221.5 157.6" stroke="#e2e2e4" stroke-width="0.35" fill="none"/>
<text x="26" y="158.85" font-size="3.56" fill="#808086" text-anchor="end">۱۰۰K</text>
<path d="M28.3 173.3L221.5 173.3" stroke="#e2e2e4" stroke-width="0.35" fill="none"/>
<text x="26" y="174.55" font-size="3.56" fill="#808086" text-anchor="end">۵۰K</text>
<path d="M28.3 189L221.5 189" stroke="#e2e2e4" stroke-width="0.35" fill="none"/>
<text x="26" y="190.25" font-size="3.56" fill="#808086" text-anchor="end">۰K</text>
<rect x="36.3" y="155.4" width="3.2" height="33.6" fill="#7a2ff0" rx="0.8"/>
<rect x="41.3" y="161" width="3.2" height="28" fill="#cdb8f6" rx="0.8"/>
<text x="40.4" y="198.49" font-size="3.68" fill="#808086" text-anchor="middle">فرو</text>
<rect x="57.25" y="150" width="3.2" height="39" fill="#7a2ff0" rx="0.8"/>
<rect x="62.25" y="166.5" width="3.2" height="22.5" fill="#cdb8f6" rx="0.8"/>
<text x="61.35" y="198.49" font-size="3.68" fill="#808086" text-anchor="middle">ارد</text>
<rect x="78.2" y="145.2" width="3.2" height="43.8" fill="#7a2ff0" rx="0.8"/>
<rect x="83.2" y="161" width="3.2" height="28" fill="#cdb8f6" rx="0.8"/>
<text x="82.3" y="198.49" font-size="3.68" fill="#808086" text-anchor="middle">خرد</text>
<rect x="99.15" y="136.6" width="3.2" height="52.4" fill="#7a2ff0" rx="0.8"/>
<rect x="104.15" y="160" width="3.2" height="29" fill="#cdb8f6" rx="0.8"/>
<text x="103.25" y="198.49" font-size="3.68" fill="#808086" text-anchor="middle">تیر</text>
<rect x="120.1" y="155.7" width="3.2" height="33.3" fill="#7a2ff0" rx="0.8"/>
<rect x="125.1" y="160" width="3.2" height="29" fill="#cdb8f6" rx="0.8"/>
<text x="124.2" y="198.49" font-size="3.68" fill="#808086" text-anchor="middle">مرد</text>
<rect x="141.05" y="144.3" width="3.2" height="44.7" fill="#7a2ff0" rx="0.8"/>
<rect x="146.05" y="158" width="3.2" height="31" fill="#cdb8f6" rx="0.8"/>
<text x="145.15" y="198.49" font-size="3.68" fill="#808086" text-anchor="middle">شهر</text>
<rect x="162" y="134.7" width="3.2" height="54.3" fill="#7a2ff0" rx="0.8"/>
<rect x="167" y="159.5" width="3.2" height="29.5" fill="#cdb8f6" rx="0.8"/>
<text x="166.1" y="198.49" font-size="3.68" fill="#808086" text-anchor="middle">مهر</text>
<rect x="182.95" y="142" width="3.2" height="47" fill="#7a2ff0" rx="0.8"/>
<rect x="187.95" y="157" width="3.2" height="32" fill="#cdb8f6" rx="0.8"/>
<text x="187.05" y="198.49" font-size="3.68" fill="#808086" text-anchor="middle">آبا</text>
<rect x="203.9" y="144.3" width="3.2" height="44.7" fill="#7a2ff0" rx="0.8"/>
<rect x="208.9" y="158.5" width="3.2" height="30.5" fill="#cdb8f6" rx="0.8"/>
<text x="208" y="198.49" font-size="3.68" fill="#808086" text-anchor="middle">آذر</text>
<text x="450.2" y="114.09" font-size="5.98" fill="#d6d6da" text-anchor="end">گزارش فروش</text>
<rect x="240.2" y="108" width="27" height="8" fill="#2a2a2c" rx="1.2" stroke="#4a4a4e" stroke-width="0.4"/>
<text x="264.5" y="113.69" font-size="4.25" fill="#d6d6da" text-anchor="end">این ماه</text>
<path d="M243 111.5l2.2 0 -1.1 1.4z" fill="#d6d6da"/>
<path d="M255 128.7L449 128.7" stroke="#e2e2e4" stroke-width="0.35" fill="none"/>
<text x="252.5" y="129.95" font-size="3.56" fill="#808086" text-anchor="end">۱۰K</text>
<path d="M255 143.6L449 143.6" stroke="#e2e2e4" stroke-width="0.35" fill="none"/>
<text x="252.5" y="144.85" font-size="3.56" fill="#808086" text-anchor="end">۸K</text>
<path d="M255 158.5L449 158.5" stroke="#e2e2e4" stroke-width="0.35" fill="none"/>
<text x="252.5" y="159.75" font-size="3.56" fill="#808086" text-anchor="end">۶K</text>
<path d="M255 173.3L449 173.3" stroke="#e2e2e4" stroke-width="0.35" fill="none"/>
<text x="252.5" y="174.55" font-size="3.56" fill="#808086" text-anchor="end">۴K</text>
<path d="M255 188.2L449 188.2" stroke="#e2e2e4" stroke-width="0.35" fill="none"/>
<text x="252.5" y="189.45" font-size="3.56" fill="#808086" text-anchor="end">۲K</text>
<linearGradient id="gam8" x1="0" y1="0" x2="0" y2="1"><stop offset="0" stop-color="#8b4dff" stop-opacity="0.85"/><stop offset="1" stop-color="#8a8a8a" stop-opacity="0.75"/></linearGradient>
<path d="M257 173C261.2 167.12 269.52 146.5 278 143.6C286.48 140.7 291 159.96 299.4 158.5C307.8 157.04 311.74 136.3 320 136.3C328.26 136.3 332.24 155.44 340.7 158.5C349.16 161.56 353.72 148.7 362.3 151.6C370.88 154.5 375.4 170.16 383.6 173C391.8 175.84 394.92 163.6 403.3 165.8C411.68 168 416.76 181.16 425.5 184C434.24 186.84 442.7 180.8 447 180L447 188.2L257 188.2Z" fill="url(#gam8)"/>
<path d="M257 173C261.2 167.12 269.52 146.5 278 143.6C286.48 140.7 291 159.96 299.4 158.5C307.8 157.04 311.74 136.3 320 136.3C328.26 136.3 332.24 155.44 340.7 158.5C349.16 161.56 353.72 148.7 362.3 151.6C370.88 154.5 375.4 170.16 383.6 173C391.8 175.84 394.92 163.6 403.3 165.8C411.68 168 416.76 181.16 425.5 184C434.24 186.84 442.7 180.8 447 180" fill="none" stroke="#7a2ff0" stroke-width="1.05"/>
<text x="257" y="197.69" font-size="3.68" fill="#808086" text-anchor="middle">فرو</text>
<text x="278" y="197.69" font-size="3.68" fill="#808086" text-anchor="middle">ارد</text>
<text x="299.4" y="197.69" font-size="3.68" fill="#808086" text-anchor="middle">خرد</text>
<text x="320" y="197.69" font-size="3.68" fill="#808086" text-anchor="middle">تیر</text>
<text x="340.7" y="197.69" font-size="3.68" fill="#808086" text-anchor="middle">مرد</text>
<text x="362.3" y="197.69" font-size="3.68" fill="#808086" text-anchor="middle">شهر</text>
<text x="383.6" y="197.69" font-size="3.68" fill="#808086" text-anchor="middle">مهر</text>
<text x="403.3" y="197.69" font-size="3.68" fill="#808086" text-anchor="middle">آبا</text>
<text x="425.5" y="197.69" font-size="3.68" fill="#808086" text-anchor="middle">آذر</text>
<text x="447" y="197.69" font-size="3.68" fill="#808086" text-anchor="middle">دی</text>
<rect x="7.7" y="223.7" width="144" height="160" fill="#1b1b1b" rx="1.6" stroke="#242424" stroke-width="0.3"/>
<text x="146" y="237.59" font-size="5.98" fill="#d6d6da" text-anchor="end">فروش در هر کشور</text>
<circle cx="15.3" cy="235.3" r="0.55" fill="#d6d6da"/>
<circle cx="17" cy="235.3" r="0.55" fill="#d6d6da"/>
<circle cx="18.7" cy="235.3" r="0.55" fill="#d6d6da"/>
<text x="122.6" y="259.27" font-size="4.48" fill="#98989e" text-anchor="end">آمریکا</text>
<text x="14" y="259.35" font-size="4.71" fill="#d6d6da" text-anchor="start" font-weight="bold">۴۴۵,۸۵</text>
<path d="M14 265.7L122.6 265.7" stroke="#3c3c40" stroke-width="1.5" fill="none"/>
<linearGradient id="gcm80" gradientUnits="userSpaceOnUse" x1="28.3" y1="0" x2="122.6" y2="0"><stop offset="0" stop-color="#3cc8f0"/><stop offset="1" stop-color="#2a82e6"/></linearGradient>
<path d="M28.3 265.7L122.6 265.7" stroke="url(#gcm80)" stroke-width="1.7" stroke-linecap="round"/>
<clipPath id="flm80"><circle cx="139.2" cy="261.7" r="6.9"/></clipPath><g clip-path="url(#flm80)">
<rect x="132.3" y="254.8" width="13.8" height="13.8" fill="#f5f5f5"/>
<rect x="132.3" y="254.8" width="13.8" height="1.97" fill="#d32f3f"/>
<rect x="132.3" y="258.74" width="13.8" height="1.97" fill="#d32f3f"/>
<rect x="132.3" y="262.69" width="13.8" height="1.97" fill="#d32f3f"/>
<rect x="132.3" y="266.63" width="13.8" height="1.97" fill="#d32f3f"/>
<rect x="132.3" y="254.8" width="7.25" height="7.93" fill="#283a86"/>
</g>
<text x="122.6" y="281.67" font-size="4.48" fill="#98989e" text-anchor="end">آلمان</text>
<text x="14" y="281.75" font-size="4.71" fill="#d6d6da" text-anchor="start" font-weight="bold">۶۸۳,۴۶</text>
<path d="M14 288.1L122.6 288.1" stroke="#3c3c40" stroke-width="1.5" fill="none"/>
<linearGradient id="gcm81" gradientUnits="userSpaceOnUse" x1="50.6" y1="0" x2="122.6" y2="0"><stop offset="0" stop-color="#8232f0"/><stop offset="1" stop-color="#4628c8"/></linearGradient>
<path d="M50.6 288.1L122.6 288.1" stroke="url(#gcm81)" stroke-width="1.7" stroke-linecap="round"/>
<clipPath id="flm81"><circle cx="139.2" cy="284.1" r="6.9"/></clipPath><g clip-path="url(#flm81)">
<rect x="132.3" y="277.2" width="13.8" height="4.6" fill="#111"/>
<rect x="132.3" y="281.8" width="13.8" height="4.6" fill="#dd1c1c"/>
<rect x="132.3" y="286.4" width="13.8" height="4.6" fill="#ffce00"/>
</g>
<text x="122.6" y="304.07" font-size="4.48" fill="#98989e" text-anchor="end">کانادا</text>
<text x="14" y="304.15" font-size="4.71" fill="#d6d6da" text-anchor="start" font-weight="bold">۹۸۲,۴۳</text>
<path d="M14 310.5L122.6 310.5" stroke="#3c3c40" stroke-width="1.5" fill="none"/>
<linearGradient id="gcm82" gradientUnits="userSpaceOnUse" x1="61.7" y1="0" x2="122.6" y2="0"><stop offset="0" stop-color="#f02840"/><stop offset="1" stop-color="#fa6432"/></linearGradient>
<path d="M61.7 310.5L122.6 310.5" stroke="url(#gcm82)" stroke-width="1.7" stroke-linecap="round"/>
<clipPath id="flm82"><circle cx="139.2" cy="306.5" r="6.9"/></clipPath><g clip-path="url(#flm82)">
<rect x="132.3" y="299.6" width="13.8" height="13.8" fill="#f5f5f5"/>
<rect x="132.3" y="299.6" width="3.8" height="13.8" fill="#d8232a"/>
<rect x="142.3" y="299.6" width="3.8" height="13.8" fill="#d8232a"/>
<path d="M139.2 303.3l1.4 2.2 1.8 -0.4 -1 2 -1.6 0.6 -0.6 1.6 -0.6 -1.6 -1.6 -0.6 -1 -2 1.8 0.4z" fill="#d8232a"/>
</g>
<text x="122.6" y="326.47" font-size="4.48" fill="#98989e" text-anchor="end">هند</text>
<text x="14" y="326.55" font-size="4.71" fill="#d6d6da" text-anchor="start" font-weight="bold">۸۵۲,۳۵</text>
<path d="M14 332.9L122.6 332.9" stroke="#3c3c40" stroke-width="1.5" fill="none"/>
<linearGradient id="gcm83" gradientUnits="userSpaceOnUse" x1="73.4" y1="0" x2="122.6" y2="0"><stop offset="0" stop-color="#3cbe3c"/><stop offset="1" stop-color="#a0dc46"/></linearGradient>
<path d="M73.4 332.9L122.6 332.9" stroke="url(#gcm83)" stroke-width="1.7" stroke-linecap="round"/>
<clipPath id="flm83"><circle cx="139.2" cy="328.9" r="6.9"/></clipPath><g clip-path="url(#flm83)">
<rect x="132.3" y="322" width="13.8" height="4.6" fill="#f4943a"/>
<rect x="132.3" y="326.6" width="13.8" height="4.6" fill="#f5f5f5"/>
<rect x="132.3" y="331.2" width="13.8" height="4.6" fill="#1f8a3b"/>
<circle cx="139.2" cy="328.9" r="1.5" fill="none" stroke="#283a86" stroke-width="0.5"/>
</g>
<text x="122.6" y="348.87" font-size="4.48" fill="#98989e" text-anchor="end">هلند</text>
<text x="14" y="348.95" font-size="4.71" fill="#d6d6da" text-anchor="start" font-weight="bold">۷۸۵,۳۴</text>
<path d="M14 355.3L122.6 355.3" stroke="#3c3c40" stroke-width="1.5" fill="none"/>
<linearGradient id="gcm84" gradientUnits="userSpaceOnUse" x1="81.3" y1="0" x2="122.6" y2="0"><stop offset="0" stop-color="#e0aa20"/><stop offset="1" stop-color="#f5d73c"/></linearGradient>
<path d="M81.3 355.3L122.6 355.3" stroke="url(#gcm84)" stroke-width="1.7" stroke-linecap="round"/>
<clipPath id="flm84"><circle cx="139.2" cy="351.3" r="6.9"/></clipPath><g clip-path="url(#flm84)">
<rect x="132.3" y="344.4" width="13.8" height="4.6" fill="#b4202d"/>
<rect x="132.3" y="349" width="13.8" height="4.6" fill="#f5f5f5"/>
<rect x="132.3" y="353.6" width="13.8" height="4.6" fill="#25468f"/>
</g>
<rect x="160.2" y="223.7" width="295.8" height="160" fill="#1b1b1b" rx="1.6" stroke="#242424" stroke-width="0.3"/>
<text x="447" y="237.39" font-size="5.98" fill="#d6d6da" text-anchor="end">نقشه جغرافیایی</text>
<circle cx="167.5" cy="235.3" r="0.55" fill="#d6d6da"/>
<circle cx="169.2" cy="235.3" r="0.55" fill="#d6d6da"/>
<circle cx="170.9" cy="235.3" r="0.55" fill="#d6d6da"/>
<clipPath id="mcm8"><rect x="161.5" y="241" width="289" height="150"/></clipPath>
<g clip-path="url(#mcm8)">
<path d="M209.48 311.37L211.52 311.37L214.75 312.51L218.58 312.04L220.28 314.18L222.83 313.91L224.53 316.03L226.4 317.4L225.97 320.55L227.5 323.66L228.78 324.36L231.33 324.1L232.18 321.89L235.15 321.44L234.3 324.54L233.88 326.29L237.7 326.46L238.3 329.75L238.04 331.47L240.25 332.5L241.95 331.9L243.4 333.19L242.8 333.87L241.1 333.78L238.55 332.93L236.26 331.47L234.73 328.89L231.33 328.02L229.2 326.11L226.65 326.46L223.25 325.24L219.43 322.77L219.43 320.55L216.45 317.85L213.48 314.18L211.78 312.32L213.05 313.72L215.18 318.3L216.03 320.11L213.9 318.3L211.78 315.57L210.93 313.72L209.48 311.37ZM236.85 321L241.1 320.11L245.35 322.33L245.95 322.77L243.06 322.86L239.4 321L236.85 321ZM245.86 324.19L247.9 322.86L250.88 324.1L248.75 324.71L245.86 324.19ZM243.4 333.19L245.35 330.61L247.9 329.75L249.6 329.75L254.7 331.04L257.25 331.47L260.65 334.89L264.9 335.75L266.6 339.57L271.7 342.13L276.8 343.4L279.35 345.11L279.35 347.67L275.95 351.11L275.95 355.46L274.25 359L270.85 360.61L267.88 362.6L267.71 364.89L263.62 370.05L259.8 370.53L260.65 373.93L256.4 374.92L253.85 376.93L255.13 378.45L253.43 381.05L251.73 382.64L253 384.25L250.45 387.56L250.88 389.83L253.43 392.17L249.6 392.76L246.2 389.26L244.93 384.25L247.05 377.94L246.63 372.95L248.33 368.15L249.18 361.7L249.43 355.9L244.5 351.98L240.25 345.11L241.1 342.13L240.68 340L242.38 338.3L243.4 335.75L243.4 333.19ZM247.05 254.53L251.3 258.11L259.8 259.83L264.05 267.86L265.75 273.7L268.3 280.43L272.12 281.71L274.68 275.78L281.05 271.56L290.4 267.86L291.68 260.67L293.8 256.34L292.1 250.76L298.9 247.79L283.6 243.61L270.85 245.73L258.1 246.77L251.3 249.78L247.05 254.53ZM288.7 274.4L290.4 273.14L295.5 273L297.62 275.1L293.38 277.27L289.98 276.73L288.7 274.4ZM294.65 327.42L295.08 323.66L294.65 321.89L298.05 315.85L300.86 313.72L301.2 310.9L304 308.22L307.4 308.8L311.65 307.15L317.6 306.85L318.45 309.95L317.6 310.43L321.85 311.47L326.1 311.09L330.35 312.04L336.3 312.6L338.17 312.6L336.73 313.81L338.85 319.21L340.55 322.77L342.68 326.72L345.65 329.32L345.91 330.18L352.45 329.92L352.03 332.33L349.05 336.6L344.38 341.53L342.68 345.11L343.53 348.96L343.53 352.84L338.85 357.23L339.28 360.79L336.98 362.6L335.45 366.09L332.05 369.86L326.1 370.82L324.66 370.05L323.98 366.28L321.85 362.6L321.43 359L319.13 354.59L320.83 349.39L319.3 344.68L316.75 340.85L317.18 337.02L314.2 336.34L312.5 334.64L307.4 335.75L302.73 336.26L298.05 332.76L294.91 329.49L294.65 327.42ZM351 350.25L352.03 353.28L349.48 361.24L347.35 362.15L346.08 359.89L346.67 356.78L346.5 354.59L349.05 352.84L351 350.25ZM301.03 307.05L301.45 305.38L301.62 300.72L307.57 300.62L308.08 297.9L305.11 295.42L307.83 294.99L307.57 293.89L310.46 292.55L312.5 291.31L313.35 289.82L316.33 289.47L316.07 285.68L318.03 284.58L318.03 289.01L321 289.01L324.83 288.19L326.95 287.83L326.95 284.83L329.75 285.2L329.08 282.72L332.9 282.35L334.6 281.71L332.9 281.07L328.23 281.71L327.21 279.13L330.35 275.1L327.8 273.98L323.98 279.13L323.55 280.43L324.83 281.71L323.12 285.44L321.25 287.24L319.98 287.24L318.45 282.97L315.9 284.21L313.52 282.97L313.35 279.13L317.6 276.46L321 271.56L324.4 268.61L328.65 267.09L332.9 266.32L335.45 267.86L337.15 268.91L343.95 272.28L343.1 273.7L338.85 273.28L337.15 272.71L338.85 276.06L340.55 276.73L343.1 275.51L346.5 273.7L346.5 270.4L351.6 270.84L355 270.1L360.1 269.36L360.95 267.86L366.05 270.1L365.62 267.09L366.9 263.15L370.73 263.47L370.3 269.36L371.58 272.28L372 264.75L377.1 262.33L383.05 261.51L383.05 258.97L392.4 258.11L397.5 255.08L405.58 258.45L402.6 261.51L409.4 263.15L417.9 263.15L418.75 266.32L423.85 265.54L428.1 263.96L436.6 265.54L445.1 268.31L453.6 267.86L462.1 269.36L470.6 273.7L468.9 275.78L462.1 274.4L459.55 275.78L461.25 278.47L453.6 281.71L447.65 284.46L446.8 288.07L442.3 292.44L441.27 286.64L442.55 284.21L445.1 281.07L448.5 278.47L442.55 279.78L440.85 282.6L436.6 282.35L430.23 282.6L424.28 288.19L428.95 289.82L428.53 295.75L423.85 300.52L420.45 301.34L419.18 302.57L417.9 305.57L419.18 307.05L418.75 308.99L416.62 309.47L416.2 307.05L414.93 304.28L412.38 305.08L412.8 303.58L409.4 305.08L410.25 306.56L413.23 307.05L410.68 308.99L412.63 312.79L411.95 315.57L408.55 319.66L405.58 320.82L402.6 321.71L400.9 321.44L399.2 323.22L401.58 326.72L402 329.75L399.62 331.47L398.35 332.59L398.18 331.04L396.23 329.58L394.87 328.54L394.1 329.75L393.68 332.33L396.99 336.6L397.5 338.81L395.21 337.62L394.36 334.89L392.66 333.19L393 330.61L391.98 325.85L390.28 326.46L389.25 324.1L387.3 321.44L386.03 321L383.05 321.44L381.35 322.95L377.27 326.72L377.1 328.89L376.93 331.21L374.98 333.19L373.7 331.04L371.58 326.29L370.98 323.22L370.73 321.44L368.6 322.07L367.75 320.73L366.05 318.49L361.8 318.12L357.81 317.76L357.12 316.49L354.15 316.76L351.6 313.72L349.9 313.72L352.28 317.85L352.88 318.94L355 319.03L356.96 317.4L357.12 318.76L359.93 320.55L358.83 322.77L355.85 325.41L353.3 326.29L347.35 329.06L345.91 328.89L345.23 325.85L342.25 321.44L340.55 317.85L338.85 315.57L338.77 314.18L338.17 312.6L339.53 308.99L339.7 307.25L336.73 307.93L335.03 307.73L332.31 307.34L331.46 305.57L331.88 303.68L333.75 303.07L335.88 302.87L339.28 302.06L341.4 303.07L344.38 302.57L343.1 300.52L340.55 298.74L342.25 296.51L338.85 298.11L337.58 299.48L336.13 297.36L334.6 298.43L332.9 300.52L333.33 302.57L331.2 303.28L329.25 303.88L329.5 306.07L328.4 307.54L326.95 306.07L325.68 303.58L325.68 302.06L322.28 300L321 298.64L319.56 298.64L319.73 300L322.28 302.06L324.83 303.88L323.55 304.58L322.7 306.07L322.45 304.08L319.56 302.26L317.86 300.52L316.58 299.58L314.2 300.93L311.82 300.83L311.82 302.26L309.1 304.08L308.93 305.57L307.4 307.25L304.6 307.93L303.58 307.05L301.03 307.05ZM304.43 293.56L310.21 292.22L310.55 290.4L308.93 289.01L307.4 286.64L307.57 284.71L305.7 284.58L306.55 283.47L304.85 283.47L303.83 286.04L305.02 288.07L306.55 289.01L305.11 290.17L305.53 291.54L304.6 291.65L306.55 292.1L304.43 293.56ZM300.6 291.54L303.83 291.08L304 289.01L304.43 288.42L302.9 287.48L300.6 288.77L300.6 291.54ZM420.28 310.14L423.85 310.43L425.55 309.28L428.1 308.8L429.38 305.57L429.38 303.07L428.1 303.07L427.68 306.07L425.12 307.05L422.15 308.51L420.28 310.14ZM428.1 302.06L430.65 302.06L432.78 300.72L429.8 298.43L429.38 300.72L428.1 302.06ZM419.6 310.43L421.13 310.43L420.45 312.51L419.77 312.51L419.6 310.43ZM429.8 288.66L430.91 291.31L431.08 294.66L430.48 297.9L429.8 296.29L429.8 293.56L429.8 288.66ZM412.38 318.12L412.8 318.76L411.78 321L411.27 320.11L412.38 318.12ZM401.5 323.22L403.28 322.77L403.03 324.1L401.75 324.27L401.5 323.22ZM377.1 331.73L378.63 333.61L377.53 334.89L376.93 333.61L377.1 331.73ZM411.53 324.1L412.97 324.27L412.8 326.29L414.5 328.89L412.38 328.2L411.1 327.16L411.53 324.1ZM412.8 333.19L415.78 331.64L416.62 334.04L415.61 334.89L414.5 334.04L412.8 333.19ZM401.75 338.72L403.88 337.87L406 336.17L408.55 334.04L410.25 335.75L409.23 339.15L407.7 342.98L406 343.4L403.03 342.55L401.75 340.43L401.75 338.72ZM390.11 335.24L391.98 335.58L397.5 340.85L399.2 342.55L399.03 344.94L397.5 344.68L394.53 341.28L392.83 338.3L390.11 335.24ZM398.78 345.79L400.9 345.53L403.45 345.79L406.43 346.56L406.25 347.33L402.6 346.99L399.62 346.39L398.78 345.79ZM410.68 339.57L411.95 338.98L415.35 338.64L413.65 339.74L411.53 340L412.38 341.53L413.91 340.85L412.8 342.55L413.23 344.25L412.38 344L411.53 342.38L411.36 344.68L410.68 344.51L410.25 342.55L410.68 339.57ZM420.45 340.85L423 340.68L426.4 341.53L428.95 342.21L432.35 343.83L434.73 345.11L434.05 345.96L437.03 348.96L434.05 348.53L431.5 346.64L428.95 347.67L426.4 347.07L426.23 344.68L423 343.4L421.98 342.38L420.45 340.85ZM432.1 376.72L435.07 376.82L434.9 378.97L433.2 379.59L432.35 378.45L432.1 376.72ZM455.89 370.53L457.43 372.46L458.7 373.44L460.83 373.64L459.55 375.42L458.02 377.53L457.68 375.72L456.83 375.22L457.6 373.24L455.89 370.53ZM455.89 376.42L457.25 377.74L454.45 380.52L454.02 382.1L452.16 382.74L450.62 382.1L451.9 380.21L454.2 378.66L455.89 376.42ZM353.3 266.32L355.85 263.15L357.55 259.83L362.65 257.58L367.33 256.88L365.2 258.97L360.1 260.67L357.55 263.96L357.98 266.79L355 266.63L353.3 266.32ZM318.45 251.72L322.7 250.76L326.95 250.18L332.05 250.76L326.95 253.61L323.55 256.88L321 255.44L318.45 251.72ZM389.85 252.67L394.1 248.79L398.35 252.67L394.1 254.53L389.85 252.67ZM425.55 258.97L429.8 258.11L433.2 259.32L436.6 259.83L432.35 261.01L428.1 260.34L425.55 258.97ZM349.05 250.37L355.85 248.79L361.8 249.19L358.4 250.76L351.6 251.15Z" fill="#8b8d94"/>
<path d="M349.05 298.43L352.45 297.04L354.15 298.95L352.45 299.48L351.86 302.57L353.73 302.57L354.83 305.08L354.83 307.05L352.45 307.34L350.75 306.56L351.18 304.08L349.48 301.03L349.05 298.43Z" fill="#1b1b1b"/>
<path d="M332.9 266.32L333.33 273.7L334.6 279.13L332.9 282.35L332.48 284.83L329.5 289.01L329.08 291.88L334.6 291.88L341.4 296.83L343.1 294.11L349.05 295.75L349.05 298.43M354.15 298.95L355.85 292.44L360.95 292.44L360.95 289.01L369.45 288.42L374.55 289.59L377.53 292.44L383.48 294.66M383.48 294.66L392.4 293.56L396.65 293.22L400.05 293.89L405.15 293.56L407.7 293.78M423.43 295.42L420.45 298.95L420.03 301.24M346.93 304.38L349.9 305.57L354.83 307.05L360.95 307.54L360.95 312.79L361.8 318.12M346.93 304.38L346.5 307.05L349.9 313.72M339.7 307.25L344.8 306.85L346.5 307.05M360.95 307.54L365.2 306.66L369.45 305.67L372.85 307.05M360.95 312.79L365.2 313.91L368.18 316.49M391.81 315.85L392.83 318.76M387.56 318.49L389.25 324.1M394.95 321.44L394.1 322.77L396.23 324.97L398.35 327.59L396.23 329.58M330.35 312.04L330.35 321L329.5 322.77L329.5 326.72L328.23 326.72M330.35 321L340.12 321M318.45 309.95L317.18 313.72L319.3 319.66L321.85 320.11L329.5 322.77M301.45 315.85L305.7 318.3L311.65 323.22L312.67 326.29L320.58 328.46L321.85 320.11M298.05 315.85L301.45 315.85L300.86 313.72M311.65 307.15L307.4 311.85L301.45 315.85M320.58 328.46L321.43 331.47L317.18 337.02M328.23 326.72L328.23 330.61L332.48 335.75L335.03 337.02L338 336.43L339.28 335.75L344.38 336.6M319.3 344.68L322.7 344.94L327.8 349.39L329.5 349.39L329.5 351.11L327.8 351.11L327.8 355.29L330.35 355.29M334.18 343.83L335.03 347.07L338 348.1L338.85 349.82L343.53 348.96M338 336.43L338 340.85L342.68 344M319.13 354.59L330.35 355.29L337.15 359.18L336.98 362.6M326.1 359L326.1 364.89L323.98 364.89M249.43 355.9L251.3 356.34L252.15 359.72L249.18 361.7M252.15 359.72L256.4 359L259.8 357.23L260.23 361.7L262.78 362.15L260.23 366.28L259.8 370.05M250.03 349.39L253.43 348.53L258.1 351.54L259.8 353.98L259.8 357.23M241.1 342.13L245.18 340L249.6 343.66L247.05 346.22L249.18 349.39L250.03 349.39M245.18 340L249.6 338.72L252.15 338.98L252.15 334.89L247.9 333.7L247.48 330.61M252.15 338.98L254.7 336.6L257.68 335.58L260.65 334.89M257.68 335.58L258.95 338.89L264.9 338.04L264.9 335.75M230.9 324.71L231.75 326.29L233.88 326.29M307.4 300.62L311.82 301.55M310.46 292.55L314.2 294.11L315.9 294.66L315.48 296.29L314.2 297.9L315.05 300M316.33 289.47L314.2 292.44L314.2 294.11M321 289.01L321.85 292.44L319.3 293.22L320.58 295.1L323.55 294.88L327.8 294.66L329.08 291.88M320.58 295.1L317.18 296.29L315.48 296.29M320.58 297.36L323.12 297.36L325.25 297.9L326.95 297.9L327.8 299.48L333.33 300M327.8 294.66L328.23 295.75L331.62 295.42L332.9 298.43L334.6 298.43M326.1 302.06L328.23 301.75L331.2 302.36L331.2 303.28M319.3 286.64L319.73 281.71L319.3 277.14L322.7 270.84L326.1 269.36L330.35 269.36M330.35 269.36L329.5 273.7L327.8 273.98" fill="none" stroke="#1b1b1b" stroke-width="0.3" opacity="0.8"/>
<path d="M189.25 268.46L198.6 267.86L202.85 267.09L211.35 269.36L217.3 270.1L224.1 270.84L228.35 269.36L229.2 264.75L232.6 269.36L236.85 268.61L239.4 270.84L236 273.7L234.3 276.46L229.2 280.43L228.35 283.35L230.48 285.44L234.3 286.04L238.98 287.83L239.4 290.74L241.53 291.88L241.95 288.42L243.65 286.04L242.38 283.6L243.23 278.74L246.63 279.13L249.6 280.43L251.3 283.6L254.28 281.33L256.83 285.44L259.8 288.42L261.75 291.31L258.1 293.33L252.58 293.33L249.6 296.29L253.85 294.88L254.28 297.9L257.25 298.43L253 300.52L252.15 298.95L250.28 296.4L248.33 298.95L245.35 298.95L241.95 300.52L238.55 302.06L238.98 298.64L237.28 297.36L233.88 295.53L228.35 294.66L204.55 294.66L202.85 293.56L200.3 291.88L198.18 287.83L194.35 282.97L189.25 281.33ZM241.1 262L247.9 265.54L251.3 267.86L256.4 272.28L254.7 277.14L251.3 278.47L247.9 276.46L242.8 275.78L247.05 272.28L242.8 267.86L236.85 267.86L233.45 266.32L234.3 262.33L241.1 262ZM209.65 263.15L219.85 263.15L223.25 267.86L219.85 270.1L213.05 270.1L208.8 267.86L209.65 263.15ZM232.6 257.23L241.1 257.23L245.35 253.61L256.4 246.77L249.6 244.68L236.85 245.73L230.9 248.79L234.3 253.61L232.6 257.23ZM202.85 261.01L209.65 261.17L210.5 263.96L204.55 265.54L202 263.96L202.85 261.01ZM226.65 257.23L230.9 260.5L241.1 260.5L241.1 258.63L233.45 257.23L226.65 257.23ZM258.7 295.97L261.5 291.88L261.93 294.11L264.31 296.29L261.93 297.04L258.7 295.97ZM209.65 258.11L217.3 257.58L219.85 259.83L215.6 260.67L209.65 259.32ZM224.1 262.33L227.5 261.84L228.35 264.75L225.8 265.85L223.25 264.28ZM228.35 250.76L234.3 249.78L236 252.67L230.9 253.98L227.5 252.67ZM200.3 292.66L202.85 293.22L204.13 295.32L202.43 294.88Z" fill="#e91e63"/>
<path d="M204.55 294.66L228.35 294.66L233.88 295.53L237.28 297.36L238.98 298.64L238.55 302.06L241.95 300.52L245.35 298.95L248.33 298.95L250.28 296.4L252.15 298.95L249.6 300.52L249.18 302.36L246.2 303.58L244.93 306.07L244.5 308.99L242.38 310.14L240.25 312.32L241.1 316.49L240.68 318.12L239.4 316.94L238.72 314.18L236.85 314L233.45 313.53L232.6 314.65L229.2 314.18L226.48 316.03L226.4 317.4L224.53 316.03L222.83 313.91L220.28 314.18L218.58 312.04L214.75 312.51L211.52 311.37L209.48 311.37L206.68 309.47L204.98 306.56L203.53 303.78L203.7 301.03L203.7 297.68L204.55 294.66ZM166.3 273.7L171.4 267.09L176.5 265.85L189.25 268.46L189.25 281.33L194.35 282.97L198.18 287.83L195.2 284.21L190.1 281.71L185 280.43L180.75 282.72L178.2 284.83L174.8 286.04L169.7 288.07L174.8 283.6L171.4 283.35L168 279.78L172.25 275.78L166.3 273.7Z" fill="#8833ff"/>
<path d="M371.58 304.58L372.85 307.05L375.4 308.51L376.25 311.37L378.38 313.44L382.2 315.57L384.58 316.21L387.3 315.75L391.55 315.29L392.83 318.76L394.95 321.44L395.8 320.55L398.78 320.11L400.9 321.44L402.6 321.71L405.58 320.82L408.55 319.66L411.95 315.57L412.63 312.79L410.68 308.99L413.23 307.05L410.25 306.56L409.4 305.08L412.8 303.58L412.38 305.08L414.93 304.28L416.2 302.26L417.9 302.06L420.03 301.24L420.45 298.95L423.43 295.42L420.03 294.88L417.48 293.56L415.78 290.17L411.95 289.82L410.68 293.56L407.7 293.78L410.68 296.83L407.28 298.43L404.3 298.95L403.45 300.72L398.35 302.36L391.55 301.34L386.45 298.64L383.48 294.66L381.78 296.83L379.23 296.83L377.1 298.95L377.53 301.55L373.7 303.58L371.58 304.58Z" fill="#f41127" stroke="#1b1b1b" stroke-width="0.25"/>
<path d="M367.07 319.48L367.75 320.73L368.6 322.07L370.73 321.44L370.98 323.22L371.58 326.29L373.7 331.04L374.98 333.19L376.93 331.21L377.1 328.89L377.27 326.72L381.35 322.95L383.05 321.44L384.75 321L384.58 318.76L385.86 318.12L387.56 318.49L387.73 320.11L388.58 319.21L389.85 317.4L391.81 315.85L390.53 314.37L387.3 315.75L384.58 316.21L383.9 316.94L379.65 316.03L377.27 314.83L378.38 313.44L376.25 311.37L375.4 308.51L372.85 307.05L372 309.47L373.28 311.37L372.43 312.79L371.15 314.18L369.03 315.57L368.18 316.49L369.45 318.76L367.07 319.48Z" fill="#32d14a" stroke="#1b1b1b" stroke-width="0.25"/>
<path d="M406 359L405.58 362.6L406.85 367.21L407.02 370.34L409.4 371.01L414.08 370.05L418.75 367.87L420.88 367.68L424.28 370.82L426.4 369.1L426.23 371.49L428.53 373.93L431.93 374.23L434.05 374.92L436.6 373.24L437.71 369.57L439.41 365.35L439.15 362.15L436.18 359L433.2 356.34L432.61 352.84L430.23 349.21L429.38 351.11L428.78 355.03L425.98 353.71L424.28 352.67L425.38 350.25L421.73 349.65L419.6 351.11L418.33 352.67L416.2 351.98L412.8 355.03L410.25 357.23L406 359Z" fill="#ffc107"/>
<path d="M230.9 294.99L236.85 295.21L237.28 297.15L235.15 297.36L234.3 300L236 302.06L236.85 298.43L238.13 297.9L239.83 300L241.1 298.95L239.4 297.9L237.7 296.83L234.3 296.29Z" fill="#1b1b1b"/>
</g>
<rect x="440.2" y="250.9" width="5" height="5" fill="#6a6a70" rx="0.6"/>
<rect x="440.2" y="259.8" width="5" height="5" fill="#6a6a70" rx="0.6"/>
<text x="442.7" y="255.01" font-size="5.17" fill="#fff" text-anchor="middle">+</text>
<text x="442.7" y="263.71" font-size="5.17" fill="#fff" text-anchor="middle">−</text>
<rect x="0" y="0" width="464.2" height="20.6" fill="#212529"/>
<path d="M0 20.6L464.2 20.6" stroke="#3a3e44" stroke-width="0.4" fill="none"/>
<text x="40.6" y="8.8" font-size="6" fill="#f0f0f2" text-anchor="end" font-weight="bold" textLength="25" lengthAdjust="spacingAndGlyphs">پریسا توکلی</text>
<text x="40.6" y="15.41" font-size="4.6" fill="#a0a0a6" text-anchor="end" textLength="14.4" lengthAdjust="spacingAndGlyphs">طراح وب</text>
<clipPath id="avm8"><circle cx="52.6" cy="10.4" r="7.2"/></clipPath>
<g clip-path="url(#avm8)">
<circle cx="52.6" cy="10.4" r="7.2" fill="#cbc5c0"/>
<ellipse cx="52.6" cy="11.98" rx="6.05" ry="7.2" fill="#4e3626"/>
<ellipse cx="52.6" cy="17.96" rx="5.76" ry="3.6" fill="#3c2a20"/>
<ellipse cx="52.6" cy="9.54" rx="2.45" ry="3.02" fill="#dcae94"/>
</g>
<circle cx="52.6" cy="10.4" r="7.2" fill="none" stroke="#c4c4ca" stroke-width="0.5" opacity="0.9"/>
<path d="M65.6 0L65.6 20.6" stroke="#3a3e44" stroke-width="0.4" fill="none"/>
<g transform="translate(75.51 6.81) scale(0.34)" fill="none" stroke="#f0f0f2" stroke-width="2.53" stroke-linecap="round" stroke-linejoin="round"><path d="M21 15a2 2 0 0 1-2 2H7l-4 4V5a2 2 0 0 1 2-2h14a2 2 0 0 1 2 2z"/></g>
<circle cx="76.9" cy="6.9" r="2.8" fill="#e8253a"/>
<text x="76.9" y="8.03" font-size="3.22" fill="#fff" text-anchor="middle">۸</text>
<g transform="translate(92.51 6.81) scale(0.34)" fill="none" stroke="#f0f0f2" stroke-width="2.53" stroke-linecap="round" stroke-linejoin="round"><path d="M18 8A6 6 0 0 0 6 8c0 7-3 9-3 9h18s-3-2-3-9M13.7 21a2 2 0 0 1-3.4 0"/></g>
<circle cx="93.9" cy="6.9" r="2.8" fill="#e8253a"/>
<text x="93.9" y="8.03" font-size="3.22" fill="#fff" text-anchor="middle">۷</text>
<g transform="translate(107.99 6.69) scale(0.32)" fill="none" stroke="#f0f0f2" stroke-width="2.86" stroke-linecap="round" stroke-linejoin="round"><rect x="3" y="3" width="7" height="7" rx="1"/><rect x="14" y="3" width="7" height="7" rx="1"/><rect x="14" y="14" width="7" height="7" rx="1"/><rect x="3" y="14" width="7" height="7" rx="1"/></g>
<g transform="translate(124.17 6.67) scale(0.34)" fill="none" stroke="#f0f0f2" stroke-width="3.08" stroke-linecap="round" stroke-linejoin="round"><circle cx="11" cy="11" r="7"/><path d="M21 21l-5-5"/></g>
<g transform="translate(404.65 6.25) scale(0.27)" fill="none" stroke="#f0f0f2" stroke-width="3.08" stroke-linecap="round" stroke-linejoin="round"><rect x="3" y="3" width="18" height="18" rx="2"/><path d="M8 12l3 3 6-7"/></g>
<g transform="translate(417.7 6.25) scale(0.27)" fill="none" stroke="#f0f0f2" stroke-width="3.08" stroke-linecap="round" stroke-linejoin="round"><rect x="3" y="4" width="18" height="18" rx="2"/><path d="M16 2v4M8 2v4M3 10h18"/></g>
<g transform="translate(430.75 6.25) scale(0.27)" fill="none" stroke="#f0f0f2" stroke-width="3.08" stroke-linecap="round" stroke-linejoin="round"><path d="M21 15a2 2 0 0 1-2 2H7l-4 4V5a2 2 0 0 1 2-2h14a2 2 0 0 1 2 2z"/></g>
<g transform="translate(443.8 6.25) scale(0.27)" fill="none" stroke="#f0f0f2" stroke-width="3.08" stroke-linecap="round" stroke-linejoin="round"><rect x="2" y="4" width="20" height="16" rx="2"/><path d="M22 6l-10 7L2 6"/></g>
<rect x="0" y="347.4" width="464.2" height="12.6" fill="#191919"/>
<path d="M0 347.4L464.2 347.4" stroke="#3a3e44" stroke-width="0.4" fill="none"/>
<text x="230" y="355.51" font-size="4.6" fill="#d8d8dc" text-anchor="middle" direction="rtl">کپی رایت © ۲۰۲۱. تمامی حقوق محفوظ است.</text>
<rect x="464.2" y="0" width="85.8" height="360" fill="#191919"/>
<path d="M464.2 0L464.2 360" stroke="#2a2a2c" stroke-width="0.4" fill="none"/>
<text x="527.4" y="12.74" font-size="8.4" fill="#ffffff" text-anchor="end" textLength="34.8" lengthAdjust="spacingAndGlyphs">Synadmin</text>
<g transform="translate(536.2 10) scale(1)" fill="none" stroke-linejoin="round" stroke-linecap="round"><path d="M-0.4 -5.8L-3.4 0H2.6Z" stroke="#ffffff" stroke-width="1.25"/><path d="M-2 -2h3.2" stroke="#ffffff" stroke-width="0.8"/><path d="M6.8 -1C2 -0.6 -3 -0.2 -5.2 1.5C-7.3 3.1 -6.3 4.7 -3.4 6" stroke="#ffffff" stroke-width="1.5"/></g>
<path d="M472.6 7.9l1.8 1.8 -1.8 1.8M476 7.9v3.6" fill="none" stroke="#a2a2a8" stroke-width="0.8"/>
<path d="M464.2 20.6L550 20.6" stroke="#2a2a2c" stroke-width="0.4" fill="none"/>
<rect x="468.2" y="26.4" width="78.8" height="15.6" fill="#3a3a3c" rx="1.2"/>
<g transform="translate(533.1 29.7) scale(0.31)" fill="none" stroke="#ffffff" stroke-width="2.64" stroke-linecap="round" stroke-linejoin="round"><path d="M3 10l9-8 9 8v10a2 2 0 0 1-2 2H5a2 2 0 0 1-2-2z"/><path d="M9 22v-8h6v8"/></g>
<text x="529.3" y="35.87" font-size="5.63" fill="#ffffff" text-anchor="end">داشبورد</text>
<text x="474.6" y="35.21" font-size="6.32" fill="#ffffff" text-anchor="middle">⌄</text>
<rect x="468.2" y="42" width="78.8" height="68.6" fill="#292929" rx="1" stroke="#2a2a2c" stroke-width="0.35"/>
<rect x="468.2" y="44.1" width="78.8" height="11" fill="#4e4e50"/>
<path d="M537.2 49.6l2.0 -1.3v2.6z" fill="#ffffff"/>
<text x="533.4" y="51.71" font-size="5.17" fill="#ffffff" text-anchor="end" font-weight="bold">تجزیه و تحلیل</text>
<path d="M537.2 62.9l2.0 -1.3v2.6z" fill="#a2a2a8"/>
<text x="533.4" y="65.01" font-size="5.17" fill="#a2a2a8" text-anchor="end">فروش</text>
<path d="M537.2 76.2l2.0 -1.3v2.6z" fill="#a2a2a8"/>
<text x="533.4" y="78.31" font-size="5.17" fill="#a2a2a8" text-anchor="end">فروشگاه</text>
<path d="M537.2 89.5l2.0 -1.3v2.6z" fill="#a2a2a8"/>
<text x="533.4" y="91.61" font-size="5.17" fill="#a2a2a8" text-anchor="end">متناوب</text>
<path d="M537.2 102.8l2.0 -1.3v2.6z" fill="#a2a2a8"/>
<text x="533.4" y="104.91" font-size="5.17" fill="#a2a2a8" text-anchor="end">بیمارستان</text>
<g transform="translate(533.1 116.6) scale(0.31)" fill="none" stroke="#a2a2a8" stroke-width="2.42" stroke-linecap="round" stroke-linejoin="round"><path d="M12 21c-4 0-7-3-7-7 3 0 5 1 7 4 2-3 4-4 7-4 0 4-3 7-7 7zM12 17c-3-3-3-9 0-13 3 4 3 10 0 13z"/></g>
<text x="529.3" y="122.67" font-size="5.63" fill="#a2a2a8" text-anchor="end">اپلیکیشن</text>
<text x="474.8" y="122.72" font-size="6.9" fill="#a2a2a8" text-anchor="middle">‹</text>
<text x="545.6" y="141.23" font-size="3.79" fill="#86868c" text-anchor="start" direction="rtl">عناصر UI</text>
<g transform="translate(533.1 149.9) scale(0.31)" fill="none" stroke="#a2a2a8" stroke-width="2.42" stroke-linecap="round" stroke-linejoin="round"><rect x="2" y="7" width="20" height="14" rx="2"/><path d="M16 7V5a2 2 0 0 0-2-2h-4a2 2 0 0 0-2 2v2M2 13h20"/></g>
<text x="529.3" y="155.97" font-size="5.63" fill="#a2a2a8" text-anchor="end">ویجت ها</text>
<g transform="translate(533.1 168.2) scale(0.31)" fill="none" stroke="#a2a2a8" stroke-width="2.42" stroke-linecap="round" stroke-linejoin="round"><path d="M2 4h20l-2 7H4zM5 11v9M19 11v9M9 11v5h6v-5"/></g>
<text x="529.3" y="174.27" font-size="5.63" fill="#a2a2a8" text-anchor="end">فروشگاه</text>
<text x="474.8" y="174.31" font-size="6.9" fill="#a2a2a8" text-anchor="middle">‹</text>
<g transform="translate(533.1 186) scale(0.31)" fill="none" stroke="#a2a2a8" stroke-width="2.42" stroke-linecap="round" stroke-linejoin="round"><path d="M20 12v10H4V12"/><rect x="2" y="7" width="20" height="5"/><path d="M12 22V7M12 7H7.5a2.5 2.5 0 0 1 0-5C11 2 12 7 12 7zM12 7h4.5a2.5 2.5 0 0 0 0-5C13 2 12 7 12 7z"/></g>
<text x="529.3" y="192.07" font-size="5.63" fill="#a2a2a8" text-anchor="end">کامپوننت ها</text>
<text x="474.8" y="192.11" font-size="6.9" fill="#a2a2a8" text-anchor="middle">‹</text>
<g transform="translate(533.1 203.5) scale(0.31)" fill="none" stroke="#a2a2a8" stroke-width="2.42" stroke-linecap="round" stroke-linejoin="round"><path d="M18 3a3 3 0 0 0-3 3v12a3 3 0 0 0 3 3 3 3 0 0 0 3-3 3 3 0 0 0-3-3H6a3 3 0 0 0-3 3 3 3 0 0 0 3 3 3 3 0 0 0 3-3V6a3 3 0 0 0-3-3 3 3 0 0 0-3 3 3 3 0 0 0 3 3h12a3 3 0 0 0 3-3 3 3 0 0 0-3-3z"/></g>
<text x="529.3" y="209.57" font-size="5.63" fill="#a2a2a8" text-anchor="end">محتوا</text>
<text x="474.8" y="209.61" font-size="6.9" fill="#a2a2a8" text-anchor="middle">‹</text>
<g transform="translate(533.1 221.7) scale(0.31)" fill="none" stroke="#a2a2a8" stroke-width="2.42" stroke-linecap="round" stroke-linejoin="round"><rect x="3" y="3" width="18" height="18" rx="4"/><circle cx="12" cy="12" r="4"/><path d="M3 3l6 6M21 3l-6 6M3 21l6-6M21 21l-6-6"/></g>
<text x="529.3" y="227.77" font-size="5.63" fill="#a2a2a8" text-anchor="end">آیکون ها</text>
<text x="474.8" y="227.81" font-size="6.9" fill="#a2a2a8" text-anchor="middle">‹</text>
<text x="545.6" y="246.33" font-size="3.79" fill="#86868c" text-anchor="start" direction="rtl">فرم ها و جداول</text>
<g transform="translate(533.1 256) scale(0.31)" fill="none" stroke="#a2a2a8" stroke-width="2.42" stroke-linecap="round" stroke-linejoin="round"><path d="M5 2h14M5 22h14M7 2c0 6 5 6 5 10s-5 4-5 10M17 2c0 6-5 6-5 10s5 4 5 10"/></g>
<text x="529.3" y="262.07" font-size="5.63" fill="#a2a2a8" text-anchor="end">فرم ها</text>
<text x="474.8" y="262.12" font-size="6.9" fill="#a2a2a8" text-anchor="middle">‹</text>
<g transform="translate(533.1 273.6) scale(0.31)" fill="none" stroke="#a2a2a8" stroke-width="2.42" stroke-linecap="round" stroke-linejoin="round"><rect x="3" y="3" width="7" height="7" rx="1"/><rect x="14" y="3" width="7" height="7" rx="1"/><rect x="14" y="14" width="7" height="7" rx="1"/><rect x="3" y="14" width="7" height="7" rx="1"/></g>
<text x="529.3" y="279.67" font-size="5.63" fill="#a2a2a8" text-anchor="end">جداول</text>
<text x="474.8" y="279.72" font-size="6.9" fill="#a2a2a8" text-anchor="middle">‹</text>
<text x="545.6" y="297.83" font-size="3.79" fill="#86868c" text-anchor="start" direction="rtl">صفحات</text>
<g transform="translate(533.1 307.7) scale(0.31)" fill="none" stroke="#a2a2a8" stroke-width="2.42" stroke-linecap="round" stroke-linejoin="round"><rect x="3" y="11" width="18" height="11" rx="2"/><path d="M7 11V7a5 5 0 0 1 10 0v4"/></g>
<text x="529.3" y="313.77" font-size="5.63" fill="#a2a2a8" text-anchor="end">احراز هویت</text>
<text x="474.8" y="313.81" font-size="6.9" fill="#a2a2a8" text-anchor="middle">‹</text>
<g transform="translate(533.1 325.1) scale(0.31)" fill="none" stroke="#a2a2a8" stroke-width="2.42" stroke-linecap="round" stroke-linejoin="round"><rect x="3" y="2" width="18" height="20" rx="2"/><circle cx="12" cy="9" r="3"/><path d="M7 18c1-3 9-3 10 0"/></g>
<text x="529.3" y="331.17" font-size="5.63" fill="#a2a2a8" text-anchor="end">پروفایل کاربر</text>
<g transform="translate(533.1 343) scale(0.31)" fill="none" stroke="#a2a2a8" stroke-width="2.42" stroke-linecap="round" stroke-linejoin="round"><path d="M4 20V11l5-2 3-5 3 3h5v13z"/><circle cx="9" cy="15" r="1.5"/><circle cx="15" cy="15" r="1.5"/></g>
<text x="529.3" y="349.07" font-size="5.63" fill="#a2a2a8" text-anchor="end">تایم لاین</text>
<path d="M0 143.2h11.3a3 3 0 0 1 3 3v7.7a3 3 0 0 1-3 3h-11.3z" fill="#6b38ef"/>
<circle cx="7" cy="150.1" r="3.0" fill="none" stroke="#fff" stroke-width="1.3" stroke-dasharray="1.75 1.39" opacity="0.95"/>
<circle cx="7" cy="150.1" r="2.1" fill="none" stroke="#fff" stroke-width="1.2" opacity="0.95"/></svg></div>
<div class="m" style="top:3656px;height:359.5px"><svg width="550" height="359.5" viewBox="0 0 550 359.5"><rect x="0" y="0" width="550" height="359.5" fill="#121212"/>
<rect x="7.4" y="28.4" width="144.3" height="37" fill="#1b1b1b" rx="1.8" stroke="#242424" stroke-width="0.3"/>
<linearGradient id="igm90" x1="0" y1="0" x2="1" y2="1"><stop offset="0" stop-color="#8fd14f"/><stop offset="1" stop-color="#3fa535"/></linearGradient>
<rect x="12.9" y="37.3" width="19" height="19" fill="url(#igm90)" rx="2.4"/>
<g transform="translate(17.92 42.32) scale(0.37)" fill="none" stroke="#fff" stroke-width="2.64" stroke-linecap="round" stroke-linejoin="round"><circle cx="12" cy="12" r="10"/><path d="M12 6v6l4 2"/></g>
<text x="146.1" y="38.13" font-size="4.94" fill="#98989e" text-anchor="end">زمان حضور در سایت</text>
<text x="146.1" y="50.18" font-size="9.66" fill="#d6d6da" text-anchor="start" direction="rtl">۳۴دقیقه ۱۴ثانیه <tspan font-size="4.8" fill="#22b83c">(۱۰%+)</tspan></text>
<text x="146.1" y="59.57" font-size="4.48" fill="#98989e" text-anchor="end">تجزیه و تحلیل هفته گذشته</text>
<rect x="7.4" y="74.1" width="144.3" height="37.4" fill="#1b1b1b" rx="1.8" stroke="#242424" stroke-width="0.3"/>
<linearGradient id="igm91" x1="0" y1="0" x2="1" y2="1"><stop offset="0" stop-color="#3b5564"/><stop offset="1" stop-color="#16262f"/></linearGradient>
<rect x="12.9" y="83" width="19" height="19" fill="url(#igm91)" rx="2.4"/>
<g transform="translate(17.92 88.02) scale(0.37)" fill="none" stroke="#fff" stroke-width="2.64" stroke-linecap="round" stroke-linejoin="round"><path d="M6 20V10M12 20V4M18 20v-7"/></g>
<text x="146.1" y="83.83" font-size="4.94" fill="#98989e" text-anchor="end">جلسات جدید</text>
<text x="146.1" y="95.88" font-size="9.66" fill="#d6d6da" text-anchor="start" direction="rtl">۹۶% <tspan font-size="4.8" fill="#e5202e">(۵۴%+)</tspan></text>
<text x="146.1" y="105.27" font-size="4.48" fill="#98989e" text-anchor="end">تجزیه و تحلیل هفته گذشته</text>
<rect x="159.9" y="28.4" width="144.3" height="37" fill="#1b1b1b" rx="1.8" stroke="#242424" stroke-width="0.3"/>
<linearGradient id="igm92" x1="0" y1="0" x2="1" y2="1"><stop offset="0" stop-color="#ff6a5c"/><stop offset="1" stop-color="#f5286e"/></linearGradient>
<rect x="165.4" y="37.3" width="19" height="19" fill="url(#igm92)" rx="2.4"/>
<g transform="translate(170.42 42.32) scale(0.37)" fill="none" stroke="#fff" stroke-width="2.64" stroke-linecap="round" stroke-linejoin="round"><circle cx="9" cy="8" r="3.5"/><circle cx="17" cy="9" r="2.5"/><path d="M2 20c0-6 14-6 14 0M16 14c3-1 6 1 6 5"/></g>
<text x="298.6" y="38.13" font-size="4.94" fill="#98989e" text-anchor="end">کاربران</text>
<text x="298.6" y="50.18" font-size="9.66" fill="#d6d6da" text-anchor="start" direction="rtl">۱۶,۳۵۲ <tspan font-size="4.8" fill="#22b83c">(۲۳%+)</tspan></text>
<text x="298.6" y="59.57" font-size="4.48" fill="#98989e" text-anchor="end">تجزیه و تحلیل هفته گذشته</text>
<rect x="159.9" y="74.1" width="144.3" height="37.4" fill="#1b1b1b" rx="1.8" stroke="#242424" stroke-width="0.3"/>
<linearGradient id="igm93" x1="0" y1="0" x2="1" y2="1"><stop offset="0" stop-color="#5b8cff"/><stop offset="1" stop-color="#22b8f0"/></linearGradient>
<rect x="165.4" y="83" width="19" height="19" fill="url(#igm93)" rx="2.4"/>
<g transform="translate(170.42 88.02) scale(0.37)" fill="none" stroke="#fff" stroke-width="2.64" stroke-linecap="round" stroke-linejoin="round"><rect x="3" y="3" width="18" height="18" rx="2"/><path d="M6 16l4-5 3 3 5-6"/></g>
<text x="298.6" y="83.83" font-size="4.94" fill="#98989e" text-anchor="end">نرخ پیشرفت</text>
<text x="298.6" y="95.88" font-size="9.66" fill="#d6d6da" text-anchor="start" direction="rtl">۵۸% <tspan font-size="4.8" fill="#e5202e">(۱۶%-)</tspan></text>
<text x="298.6" y="105.27" font-size="4.48" fill="#98989e" text-anchor="end">تجزیه و تحلیل هفته گذشته</text>
<rect x="312.4" y="28.4" width="144.3" height="37" fill="#1b1b1b" rx="1.8" stroke="#242424" stroke-width="0.3"/>
<linearGradient id="igm94" x1="0" y1="0" x2="1" y2="1"><stop offset="0" stop-color="#8a3ffc"/><stop offset="1" stop-color="#5b21d6"/></linearGradient>
<rect x="317.9" y="37.3" width="19" height="19" fill="url(#igm94)" rx="2.4"/>
<g transform="translate(322.92 42.32) scale(0.37)" fill="none" stroke="#fff" stroke-width="2.64" stroke-linecap="round" stroke-linejoin="round"><path d="M4 12a8 8 0 0 1 14-5l2-2v6h-6l2-2a5 5 0 0 0-9 3M20 12a8 8 0 0 1-14 5l-2 2v-6h6l-2 2a5 5 0 0 0 9-3"/></g>
<text x="451.1" y="38.13" font-size="4.94" fill="#98989e" text-anchor="end">جلسات</text>
<text x="451.1" y="50.18" font-size="9.66" fill="#d6d6da" text-anchor="start" direction="rtl">۳۲,۸۴۲ <tspan font-size="4.8" fill="#22b83c">(۴۰%+)</tspan></text>
<text x="451.1" y="59.57" font-size="4.48" fill="#22b83c" text-anchor="end">تجزیه و تحلیل هفته گذشته</text>
<rect x="312.4" y="74.1" width="144.3" height="37.4" fill="#1b1b1b" rx="1.8" stroke="#242424" stroke-width="0.3"/>
<linearGradient id="igm95" x1="0" y1="0" x2="1" y2="1"><stop offset="0" stop-color="#ffc21a"/><stop offset="1" stop-color="#ff9a00"/></linearGradient>
<rect x="317.9" y="83" width="19" height="19" fill="url(#igm95)" rx="2.4"/>
<g transform="translate(322.92 88.02) scale(0.37)" fill="none" stroke="#fff" stroke-width="2.64" stroke-linecap="round" stroke-linejoin="round"><path d="M12 2l9 5v10l-9 5-9-5V7zM3 7l9 5 9-5M12 12v10"/></g>
<text x="451.1" y="83.83" font-size="4.94" fill="#98989e" text-anchor="end">تکمیل تعداد</text>
<text x="451.1" y="95.88" font-size="9.66" fill="#d6d6da" text-anchor="start" direction="rtl">۱,۹۴۲,۳۳۵</text>
<text x="451.1" y="105.27" font-size="4.48" fill="#98989e" text-anchor="end">تجزیه و تحلیل ماه گذشته</text>
<rect x="7.4" y="120.7" width="221.1" height="129.8" fill="#1b1b1b" rx="1.8" stroke="#242424" stroke-width="0.3"/>
<text x="118" y="134.37" font-size="6.21" fill="#333336" text-anchor="middle">استفاده از مرورگر</text>
<text x="118" y="144.63" font-size="4.37" fill="#d6d6da" text-anchor="middle" opacity="0.8">سوابق استفاده از مرورگر توسط کاربران</text>
<path d="M212.7 130.5L217.9 130.5" stroke="#e8e8ea" stroke-width="0.9" fill="none"/>
<path d="M212.7 132.3L217.9 132.3" stroke="#e8e8ea" stroke-width="0.9" fill="none"/>
<path d="M212.7 134.1L217.9 134.1" stroke="#e8e8ea" stroke-width="0.9" fill="none"/>
<path d="M33 151.3L222 151.3" stroke="#e2e2e4" stroke-width="0.35" fill="none"/>
<text x="30.5" y="152.59" font-size="3.68" fill="#808086" text-anchor="end">۱۰۰</text>
<path d="M33 171.3L222 171.3" stroke="#e2e2e4" stroke-width="0.35" fill="none"/>
<text x="30.5" y="172.59" font-size="3.68" fill="#808086" text-anchor="end">۷۵</text>
<path d="M33 191.2L222 191.2" stroke="#e2e2e4" stroke-width="0.35" fill="none"/>
<text x="30.5" y="192.49" font-size="3.68" fill="#808086" text-anchor="end">۵۰</text>
<path d="M33 211.2L222 211.2" stroke="#e2e2e4" stroke-width="0.35" fill="none"/>
<text x="30.5" y="212.49" font-size="3.68" fill="#808086" text-anchor="end">۲۵</text>
<path d="M33 231.2L222 231.2" stroke="#e2e2e4" stroke-width="0.35" fill="none"/>
<text x="30.5" y="232.49" font-size="3.68" fill="#808086" text-anchor="end">۰</text>
<text transform="translate(20.2 191) rotate(-90)" font-size="3.3" fill="#98989e" text-anchor="middle">استفاده از مرورگرها توسط کاربران</text>
<rect x="45.5" y="193.7" width="14.8" height="37.5" fill="#8a3ffc" stroke="#f0f0f0" stroke-width="0.4"/>
<rect x="47.7" y="188.1" width="10.4" height="4.6" fill="#f2f2f2" rx="0.6"/>
<text x="52.9" y="191.75" font-size="3.56" fill="#222" text-anchor="middle" font-weight="bold">۴۱.۲%</text>
<text x="52.9" y="238.25" font-size="4.14" fill="#98989e" text-anchor="middle">کروم</text>
<rect x="75.4" y="212.2" width="14.8" height="19" fill="#e5202e" stroke="#f0f0f0" stroke-width="0.4"/>
<rect x="77.6" y="206.6" width="10.4" height="4.6" fill="#f2f2f2" rx="0.6"/>
<text x="82.8" y="210.25" font-size="3.56" fill="#222" text-anchor="middle" font-weight="bold">۲۱.۴%</text>
<text x="82.8" y="238.25" font-size="4.14" fill="#98989e" text-anchor="middle">فایرفاکس</text>
<rect x="105.3" y="198.6" width="14.8" height="32.6" fill="#ffc107" stroke="#f0f0f0" stroke-width="0.4"/>
<rect x="107.5" y="193" width="10.4" height="4.6" fill="#f2f2f2" rx="0.6"/>
<text x="112.7" y="196.65" font-size="3.56" fill="#222" text-anchor="middle" font-weight="bold">۳۱.۵%</text>
<text x="112.7" y="238.25" font-size="4.14" fill="#98989e" text-anchor="middle">اینترنت اکسپلورر</text>
<rect x="135.3" y="196.4" width="14.8" height="34.8" fill="#2ecc40" stroke="#f0f0f0" stroke-width="0.4"/>
<rect x="137.5" y="190.8" width="10.4" height="4.6" fill="#f2f2f2" rx="0.6"/>
<text x="142.7" y="194.45" font-size="3.56" fill="#222" text-anchor="middle" font-weight="bold">۳۳.۲%</text>
<text x="142.7" y="238.25" font-size="4.14" fill="#98989e" text-anchor="middle">سافاری</text>
<rect x="166.3" y="170.3" width="14.8" height="60.9" fill="#1e2126" stroke="#f0f0f0" stroke-width="0.4"/>
<rect x="168.5" y="164.7" width="10.4" height="4.6" fill="#f2f2f2" rx="0.6"/>
<text x="173.7" y="168.35" font-size="3.56" fill="#222" text-anchor="middle" font-weight="bold">۷۱.۳%</text>
<text x="173.7" y="238.25" font-size="4.14" fill="#98989e" text-anchor="middle">مایکروسافت اج</text>
<rect x="196.6" y="217.6" width="14.8" height="13.6" fill="#29c5f6" stroke="#f0f0f0" stroke-width="0.4"/>
<rect x="198.8" y="212" width="10.4" height="4.6" fill="#f2f2f2" rx="0.6"/>
<text x="204" y="215.65" font-size="3.56" fill="#222" text-anchor="middle" font-weight="bold">۱۶.۴%</text>
<text x="204" y="238.25" font-size="4.14" fill="#98989e" text-anchor="middle">اپرا</text>
<rect x="236.6" y="120.7" width="220" height="129.8" fill="#1b1b1b" rx="1.8" stroke="#242424" stroke-width="0.3"/>
<text x="345.5" y="134.37" font-size="6.21" fill="#d6d6da" text-anchor="middle">دستگاه جلسات</text>
<text x="345.5" y="144.63" font-size="4.37" fill="#d6d6da" text-anchor="middle" opacity="0.8">نسبت دستگاههایی که توسط کاربران استفاده می شود</text>
<path d="M440.4 130.5L445.6 130.5" stroke="#e8e8ea" stroke-width="0.9" fill="none"/>
<path d="M440.4 132.3L445.6 132.3" stroke="#e8e8ea" stroke-width="0.9" fill="none"/>
<path d="M440.4 134.1L445.6 134.1" stroke="#e8e8ea" stroke-width="0.9" fill="none"/>
<path d="M347 165.5A26.3 26.3 0 1 1 337.36 216.27" fill="none" stroke="#8a3ffc" stroke-width="10.5"/>
<path d="M337.57 216.35A26.3 26.3 0 0 1 327.3 174.37" fill="none" stroke="#e5283a" stroke-width="10.5"/>
<path d="M327.15 174.55A26.3 26.3 0 0 1 347.23 165.5" fill="none" stroke="#ffc21a" stroke-width="10.5"/>
<path d="M378.8 200.1L388 200.1" stroke="#8a3ffc" stroke-width="0.35" fill="none"/>
<text x="390" y="201.67" font-size="4.48" fill="#d6d6da" text-anchor="end" direction="rtl">% دسکتاپ:۵۲۰</text>
<path d="M315.5 200.8L305 202.6" stroke="#e5283a" stroke-width="0.35" fill="none"/>
<text x="303" y="204.17" font-size="4.48" fill="#d6d6da" text-anchor="start" direction="rtl">% موبایل:۳۰۰</text>
<path d="M332.5 163.3L326 157.3" stroke="#ffc21a" stroke-width="0.35" fill="none"/>
<text x="324.5" y="158.17" font-size="4.48" fill="#d6d6da" text-anchor="start" direction="rtl">% تبلت:۴۰</text>
<circle cx="376.9" cy="234" r="2.1" fill="#8a3ffc"/>
<text x="373.1" y="235.81" font-size="4.6" fill="#d6d6da" text-anchor="end">دسکتاپ</text>
<circle cx="350.8" cy="234" r="2.1" fill="#e5283a"/>
<text x="347" y="235.81" font-size="4.6" fill="#d6d6da" text-anchor="end">موبایل</text>
<circle cx="324.7" cy="234" r="2.1" fill="#ffc21a"/>
<text x="320.9" y="235.81" font-size="4.6" fill="#d6d6da" text-anchor="end">تبلت</text>
<rect x="7.4" y="260.6" width="144.3" height="120" fill="#1b1b1b" rx="1.8" stroke="#242424" stroke-width="0.3"/>
<text x="147" y="267.81" font-size="4.6" fill="#98989e" text-anchor="end">منابع ترافیک</text>
<path d="M7.4 271.8L151.7 271.8" stroke="#2c2c2e" stroke-width="0.4" fill="none"/>
<text x="145.4" y="284.69" font-size="4.83" fill="#d6d6da" text-anchor="end" font-weight="bold">منبع</text>
<text x="107.6" y="284.69" font-size="4.83" fill="#d6d6da" text-anchor="end" font-weight="bold">بازدیدکنندگان</text>
<text x="58.6" y="284.69" font-size="4.83" fill="#d6d6da" text-anchor="end" font-weight="bold">نرخ پیشرفت</text>
<path d="M14 290.4L147 290.4" stroke="#f0f0f0" stroke-width="0.7" fill="none"/>
<rect x="14" y="290.7" width="133" height="13.4" fill="#2c2c2e"/>
<path d="M14 304.2L147 304.2" stroke="#2c2c2e" stroke-width="0.3" fill="none"/>
<text x="145.4" y="299.09" font-size="4.83" fill="#d6d6da" text-anchor="end">(مستقیم)</text>
<text x="104" y="299.09" font-size="4.83" fill="#d6d6da" text-anchor="end">۵۶</text>
<text x="58.6" y="299.09" font-size="4.83" fill="#d6d6da" text-anchor="end">۱۰%</text>
<path d="M14 317.8L147 317.8" stroke="#2c2c2e" stroke-width="0.3" fill="none"/>
<text x="145.4" y="312.69" font-size="4.83" fill="#d6d6da" text-anchor="end">گوگل</text>
<text x="104" y="312.69" font-size="4.83" fill="#d6d6da" text-anchor="end">۳۹</text>
<text x="58.6" y="312.69" font-size="4.83" fill="#d6d6da" text-anchor="end">۱۳%</text>
<rect x="14" y="317.9" width="133" height="13.4" fill="#2c2c2e"/>
<path d="M14 331.4L147 331.4" stroke="#2c2c2e" stroke-width="0.3" fill="none"/>
<text x="145.4" y="326.29" font-size="4.83" fill="#d6d6da" text-anchor="end">لینکدین</text>
<text x="104" y="326.29" font-size="4.83" fill="#d6d6da" text-anchor="end">۶۸</text>
<text x="58.6" y="326.29" font-size="4.83" fill="#d6d6da" text-anchor="end">۳۳%</text>
<path d="M14 345L147 345" stroke="#2c2c2e" stroke-width="0.3" fill="none"/>
<text x="145.4" y="339.89" font-size="4.83" fill="#d6d6da" text-anchor="end">بینگ</text>
<text x="104" y="339.89" font-size="4.83" fill="#d6d6da" text-anchor="end">۴۲</text>
<text x="58.6" y="339.89" font-size="4.83" fill="#d6d6da" text-anchor="end">۲۶%</text>
<rect x="14" y="345.1" width="133" height="13.4" fill="#2c2c2e"/>
<path d="M14 358.6L147 358.6" stroke="#2c2c2e" stroke-width="0.3" fill="none"/>
<text x="145.4" y="353.49" font-size="4.83" fill="#d6d6da" text-anchor="end">فیسبوک</text>
<text x="104" y="353.49" font-size="4.83" fill="#d6d6da" text-anchor="end">۱۱</text>
<text x="58.6" y="353.49" font-size="4.83" fill="#d6d6da" text-anchor="end">۱۲%</text>
<rect x="159.9" y="260.6" width="296.7" height="120" fill="#1b1b1b" rx="1.8" stroke="#242424" stroke-width="0.3"/>
<text x="450" y="268.57" font-size="6.21" fill="#d6d6da" text-anchor="end">نمای کلی مخاطبان وب سایت</text>
<text x="450" y="275.81" font-size="4.02" fill="#98989e" text-anchor="end">تعداد زیادی سایت رایگان پیوکسی وب وجود دارد که می توانید از آنها استفاده کنید</text>
<rect x="165" y="263.3" width="50" height="12.5" fill="#1b1b1b" rx="1.4" stroke="#4a4a4e" stroke-width="0.4"/>
<text x="173.3" y="271.23" font-size="4.37" fill="#d6d6da" text-anchor="middle">ماه</text>
<path d="M181.67 263.3L181.67 275.8" stroke="#4a4a4e" stroke-width="0.4" fill="none"/>
<text x="189.97" y="271.23" font-size="4.37" fill="#d6d6da" text-anchor="middle">هفته</text>
<path d="M198.34 263.3L198.34 275.8" stroke="#4a4a4e" stroke-width="0.4" fill="none"/>
<text x="206.64" y="271.23" font-size="4.37" fill="#d6d6da" text-anchor="middle">روز</text>
<text x="305.7" y="296.81" font-size="5.75" fill="#d6d6da" text-anchor="middle">نمای کلی مخاطبان وب سایت</text>
<text x="305.7" y="305.97" font-size="3.91" fill="#98989e" text-anchor="middle">نمای کلی مخاطبان وب سایت</text>
<path d="M177 311.2L450 311.2" stroke="#e2e2e4" stroke-width="0.35" fill="none"/>
<text x="174.5" y="312.45" font-size="3.56" fill="#808086" text-anchor="end">۳۰۰</text>
<path d="M177 330.2L450 330.2" stroke="#e2e2e4" stroke-width="0.35" fill="none"/>
<text x="174.5" y="331.45" font-size="3.56" fill="#808086" text-anchor="end">۲۰۰</text>
<text transform="translate(168.5 338) rotate(-90)" font-size="3.2" fill="#98989e" text-anchor="middle">بازدید</text>
<rect x="258.3" y="346.5" width="3.4" height="6.5" fill="#7c3aed" rx="0.5"/>
<rect x="280" y="343.8" width="3.4" height="9.2" fill="#7c3aed" rx="0.5"/>
<rect x="301.3" y="337.3" width="3.4" height="15.7" fill="#7c3aed" rx="0.5"/>
<rect x="323" y="345.5" width="3.4" height="7.5" fill="#7c3aed" rx="0.5"/>
<rect x="344.7" y="342.7" width="3.4" height="10.3" fill="#7c3aed" rx="0.5"/>
<rect x="365.9" y="329.1" width="3.4" height="23.9" fill="#7c3aed" rx="0.5"/>
<rect x="387.6" y="334" width="3.4" height="19" fill="#7c3aed" rx="0.5"/>
<rect x="0" y="0" width="464.2" height="20.6" fill="#191919"/>
<path d="M0 20.6L464.2 20.6" stroke="#303033" stroke-width="0.4" fill="none"/>
<text x="40.6" y="8.8" font-size="6" fill="#f0f0f2" text-anchor="end" font-weight="bold" textLength="25" lengthAdjust="spacingAndGlyphs">پریسا توکلی</text>
<text x="40.6" y="15.41" font-size="4.6" fill="#a0a0a6" text-anchor="end" textLength="14.4" lengthAdjust="spacingAndGlyphs">طراح وب</text>
<clipPath id="avm9"><circle cx="52.6" cy="10.4" r="7.2"/></clipPath>
<g clip-path="url(#avm9)">
<circle cx="52.6" cy="10.4" r="7.2" fill="#cbc5c0"/>
<ellipse cx="52.6" cy="11.98" rx="6.05" ry="7.2" fill="#4e3626"/>
<ellipse cx="52.6" cy="17.96" rx="5.76" ry="3.6" fill="#3c2a20"/>
<ellipse cx="52.6" cy="9.54" rx="2.45" ry="3.02" fill="#dcae94"/>
</g>
<circle cx="52.6" cy="10.4" r="7.2" fill="none" stroke="#c4c4ca" stroke-width="0.5" opacity="0.9"/>
<path d="M65.6 0L65.6 20.6" stroke="#303033" stroke-width="0.4" fill="none"/>
<g transform="translate(75.51 6.81) scale(0.34)" fill="none" stroke="#f0f0f2" stroke-width="2.53" stroke-linecap="round" stroke-linejoin="round"><path d="M21 15a2 2 0 0 1-2 2H7l-4 4V5a2 2 0 0 1 2-2h14a2 2 0 0 1 2 2z"/></g>
<circle cx="76.9" cy="6.9" r="2.8" fill="#e8253a"/>
<text x="76.9" y="8.03" font-size="3.22" fill="#fff" text-anchor="middle">۸</text>
<g transform="translate(92.51 6.81) scale(0.34)" fill="none" stroke="#f0f0f2" stroke-width="2.53" stroke-linecap="round" stroke-linejoin="round"><path d="M18 8A6 6 0 0 0 6 8c0 7-3 9-3 9h18s-3-2-3-9M13.7 21a2 2 0 0 1-3.4 0"/></g>
<circle cx="93.9" cy="6.9" r="2.8" fill="#e8253a"/>
<text x="93.9" y="8.03" font-size="3.22" fill="#fff" text-anchor="middle">۷</text>
<g transform="translate(107.99 6.69) scale(0.32)" fill="none" stroke="#f0f0f2" stroke-width="2.86" stroke-linecap="round" stroke-linejoin="round"><rect x="3" y="3" width="7" height="7" rx="1"/><rect x="14" y="3" width="7" height="7" rx="1"/><rect x="14" y="14" width="7" height="7" rx="1"/><rect x="3" y="14" width="7" height="7" rx="1"/></g>
<g transform="translate(124.17 6.67) scale(0.34)" fill="none" stroke="#f0f0f2" stroke-width="3.08" stroke-linecap="round" stroke-linejoin="round"><circle cx="11" cy="11" r="7"/><path d="M21 21l-5-5"/></g>
<g transform="translate(404.65 6.25) scale(0.27)" fill="none" stroke="#f0f0f2" stroke-width="3.08" stroke-linecap="round" stroke-linejoin="round"><rect x="3" y="3" width="18" height="18" rx="2"/><path d="M8 12l3 3 6-7"/></g>
<g transform="translate(417.7 6.25) scale(0.27)" fill="none" stroke="#f0f0f2" stroke-width="3.08" stroke-linecap="round" stroke-linejoin="round"><rect x="3" y="4" width="18" height="18" rx="2"/><path d="M16 2v4M8 2v4M3 10h18"/></g>
<g transform="translate(430.75 6.25) scale(0.27)" fill="none" stroke="#f0f0f2" stroke-width="3.08" stroke-linecap="round" stroke-linejoin="round"><path d="M21 15a2 2 0 0 1-2 2H7l-4 4V5a2 2 0 0 1 2-2h14a2 2 0 0 1 2 2z"/></g>
<g transform="translate(443.8 6.25) scale(0.27)" fill="none" stroke="#f0f0f2" stroke-width="3.08" stroke-linecap="round" stroke-linejoin="round"><rect x="2" y="4" width="20" height="16" rx="2"/><path d="M22 6l-10 7L2 6"/></g>
<rect x="0" y="346.9" width="464.2" height="12.6" fill="#191919"/>
<path d="M0 346.9L464.2 346.9" stroke="#303033" stroke-width="0.4" fill="none"/>
<text x="230" y="355.01" font-size="4.6" fill="#d8d8dc" text-anchor="middle" direction="rtl">کپی رایت © ۲۰۲۱. تمامی حقوق محفوظ است.</text>
<rect x="464.2" y="0" width="85.8" height="359.5" fill="#191919"/>
<path d="M464.2 0L464.2 359.5" stroke="#2a2a2c" stroke-width="0.4" fill="none"/>
<text x="527.4" y="12.34" font-size="8.4" fill="#ffffff" text-anchor="end" textLength="34.8" lengthAdjust="spacingAndGlyphs">Synadmin</text>
<g transform="translate(536.2 9.6) scale(1)" fill="none" stroke-linejoin="round" stroke-linecap="round"><path d="M-0.4 -5.8L-3.4 0H2.6Z" stroke="#ffffff" stroke-width="1.25"/><path d="M-2 -2h3.2" stroke="#ffffff" stroke-width="0.8"/><path d="M6.8 -1C2 -0.6 -3 -0.2 -5.2 1.5C-7.3 3.1 -6.3 4.7 -3.4 6" stroke="#ffffff" stroke-width="1.5"/></g>
<path d="M472.6 7.5l1.8 1.8 -1.8 1.8M476 7.5v3.6" fill="none" stroke="#a2a2a8" stroke-width="0.8"/>
<path d="M464.2 20.6L550 20.6" stroke="#2a2a2c" stroke-width="0.4" fill="none"/>
<rect x="468.2" y="26" width="78.8" height="15.6" fill="#3a3a3c" rx="1.2"/>
<g transform="translate(533.1 29.3) scale(0.31)" fill="none" stroke="#ffffff" stroke-width="2.64" stroke-linecap="round" stroke-linejoin="round"><path d="M3 10l9-8 9 8v10a2 2 0 0 1-2 2H5a2 2 0 0 1-2-2z"/><path d="M9 22v-8h6v8"/></g>
<text x="529.3" y="35.47" font-size="5.63" fill="#ffffff" text-anchor="end">داشبورد</text>
<text x="474.6" y="34.81" font-size="6.32" fill="#ffffff" text-anchor="middle">⌄</text>
<rect x="468.2" y="41.6" width="78.8" height="68.6" fill="#292929" rx="1" stroke="#2a2a2c" stroke-width="0.35"/>
<path d="M537.2 49.2l2.0 -1.3v2.6z" fill="#a2a2a8"/>
<text x="533.4" y="51.31" font-size="5.17" fill="#a2a2a8" text-anchor="end">تجزیه و تحلیل</text>
<path d="M537.2 62.5l2.0 -1.3v2.6z" fill="#a2a2a8"/>
<text x="533.4" y="64.61" font-size="5.17" fill="#a2a2a8" text-anchor="end">فروش</text>
<path d="M537.2 75.8l2.0 -1.3v2.6z" fill="#a2a2a8"/>
<text x="533.4" y="77.91" font-size="5.17" fill="#a2a2a8" text-anchor="end">فروشگاه</text>
<rect x="468.2" y="83.6" width="78.8" height="11" fill="#4e4e50"/>
<path d="M537.2 89.1l2.0 -1.3v2.6z" fill="#ffffff"/>
<text x="533.4" y="91.21" font-size="5.17" fill="#ffffff" text-anchor="end" font-weight="bold">متناوب</text>
<path d="M537.2 102.4l2.0 -1.3v2.6z" fill="#a2a2a8"/>
<text x="533.4" y="104.51" font-size="5.17" fill="#a2a2a8" text-anchor="end">بیمارستان</text>
<g transform="translate(533.1 116.2) scale(0.31)" fill="none" stroke="#a2a2a8" stroke-width="2.42" stroke-linecap="round" stroke-linejoin="round"><path d="M12 21c-4 0-7-3-7-7 3 0 5 1 7 4 2-3 4-4 7-4 0 4-3 7-7 7zM12 17c-3-3-3-9 0-13 3 4 3 10 0 13z"/></g>
<text x="529.3" y="122.27" font-size="5.63" fill="#a2a2a8" text-anchor="end">اپلیکیشن</text>
<text x="474.8" y="122.31" font-size="6.9" fill="#a2a2a8" text-anchor="middle">‹</text>
<text x="545.6" y="140.83" font-size="3.79" fill="#86868c" text-anchor="start" direction="rtl">عناصر UI</text>
<g transform="translate(533.1 149.5) scale(0.31)" fill="none" stroke="#a2a2a8" stroke-width="2.42" stroke-linecap="round" stroke-linejoin="round"><rect x="2" y="7" width="20" height="14" rx="2"/><path d="M16 7V5a2 2 0 0 0-2-2h-4a2 2 0 0 0-2 2v2M2 13h20"/></g>
<text x="529.3" y="155.57" font-size="5.63" fill="#a2a2a8" text-anchor="end">ویجت ها</text>
<g transform="translate(533.1 167.8) scale(0.31)" fill="none" stroke="#a2a2a8" stroke-width="2.42" stroke-linecap="round" stroke-linejoin="round"><path d="M2 4h20l-2 7H4zM5 11v9M19 11v9M9 11v5h6v-5"/></g>
<text x="529.3" y="173.87" font-size="5.63" fill="#a2a2a8" text-anchor="end">فروشگاه</text>
<text x="474.8" y="173.91" font-size="6.9" fill="#a2a2a8" text-anchor="middle">‹</text>
<g transform="translate(533.1 185.6) scale(0.31)" fill="none" stroke="#a2a2a8" stroke-width="2.42" stroke-linecap="round" stroke-linejoin="round"><path d="M20 12v10H4V12"/><rect x="2" y="7" width="20" height="5"/><path d="M12 22V7M12 7H7.5a2.5 2.5 0 0 1 0-5C11 2 12 7 12 7zM12 7h4.5a2.5 2.5 0 0 0 0-5C13 2 12 7 12 7z"/></g>
<text x="529.3" y="191.67" font-size="5.63" fill="#a2a2a8" text-anchor="end">کامپوننت ها</text>
<text x="474.8" y="191.71" font-size="6.9" fill="#a2a2a8" text-anchor="middle">‹</text>
<g transform="translate(533.1 203.1) scale(0.31)" fill="none" stroke="#a2a2a8" stroke-width="2.42" stroke-linecap="round" stroke-linejoin="round"><path d="M18 3a3 3 0 0 0-3 3v12a3 3 0 0 0 3 3 3 3 0 0 0 3-3 3 3 0 0 0-3-3H6a3 3 0 0 0-3 3 3 3 0 0 0 3 3 3 3 0 0 0 3-3V6a3 3 0 0 0-3-3 3 3 0 0 0-3 3 3 3 0 0 0 3 3h12a3 3 0 0 0 3-3 3 3 0 0 0-3-3z"/></g>
<text x="529.3" y="209.17" font-size="5.63" fill="#a2a2a8" text-anchor="end">محتوا</text>
<text x="474.8" y="209.21" font-size="6.9" fill="#a2a2a8" text-anchor="middle">‹</text>
<g transform="translate(533.1 221.3) scale(0.31)" fill="none" stroke="#a2a2a8" stroke-width="2.42" stroke-linecap="round" stroke-linejoin="round"><rect x="3" y="3" width="18" height="18" rx="4"/><circle cx="12" cy="12" r="4"/><path d="M3 3l6 6M21 3l-6 6M3 21l6-6M21 21l-6-6"/></g>
<text x="529.3" y="227.37" font-size="5.63" fill="#a2a2a8" text-anchor="end">آیکون ها</text>
<text x="474.8" y="227.41" font-size="6.9" fill="#a2a2a8" text-anchor="middle">‹</text>
<text x="545.6" y="245.93" font-size="3.79" fill="#86868c" text-anchor="start" direction="rtl">فرم ها و جداول</text>
<g transform="translate(533.1 255.6) scale(0.31)" fill="none" stroke="#a2a2a8" stroke-width="2.42" stroke-linecap="round" stroke-linejoin="round"><path d="M5 2h14M5 22h14M7 2c0 6 5 6 5 10s-5 4-5 10M17 2c0 6-5 6-5 10s5 4 5 10"/></g>
<text x="529.3" y="261.67" font-size="5.63" fill="#a2a2a8" text-anchor="end">فرم ها</text>
<text x="474.8" y="261.72" font-size="6.9" fill="#a2a2a8" text-anchor="middle">‹</text>
<g transform="translate(533.1 273.2) scale(0.31)" fill="none" stroke="#a2a2a8" stroke-width="2.42" stroke-linecap="round" stroke-linejoin="round"><rect x="3" y="3" width="7" height="7" rx="1"/><rect x="14" y="3" width="7" height="7" rx="1"/><rect x="14" y="14" width="7" height="7" rx="1"/><rect x="3" y="14" width="7" height="7" rx="1"/></g>
<text x="529.3" y="279.27" font-size="5.63" fill="#a2a2a8" text-anchor="end">جداول</text>
<text x="474.8" y="279.32" font-size="6.9" fill="#a2a2a8" text-anchor="middle">‹</text>
<text x="545.6" y="297.43" font-size="3.79" fill="#86868c" text-anchor="start" direction="rtl">صفحات</text>
<g transform="translate(533.1 307.3) scale(0.31)" fill="none" stroke="#a2a2a8" stroke-width="2.42" stroke-linecap="round" stroke-linejoin="round"><rect x="3" y="11" width="18" height="11" rx="2"/><path d="M7 11V7a5 5 0 0 1 10 0v4"/></g>
<text x="529.3" y="313.37" font-size="5.63" fill="#a2a2a8" text-anchor="end">احراز هویت</text>
<text x="474.8" y="313.42" font-size="6.9" fill="#a2a2a8" text-anchor="middle">‹</text>
<g transform="translate(533.1 324.7) scale(0.31)" fill="none" stroke="#a2a2a8" stroke-width="2.42" stroke-linecap="round" stroke-linejoin="round"><rect x="3" y="2" width="18" height="20" rx="2"/><circle cx="12" cy="9" r="3"/><path d="M7 18c1-3 9-3 10 0"/></g>
<text x="529.3" y="330.77" font-size="5.63" fill="#a2a2a8" text-anchor="end">پروفایل کاربر</text>
<g transform="translate(533.1 342.6) scale(0.31)" fill="none" stroke="#a2a2a8" stroke-width="2.42" stroke-linecap="round" stroke-linejoin="round"><path d="M4 20V11l5-2 3-5 3 3h5v13z"/><circle cx="9" cy="15" r="1.5"/><circle cx="15" cy="15" r="1.5"/></g>
<text x="529.3" y="348.67" font-size="5.63" fill="#a2a2a8" text-anchor="end">تایم لاین</text>
<path d="M0 143.2h11.3a3 3 0 0 1 3 3v7.7a3 3 0 0 1-3 3h-11.3z" fill="#6b38ef"/>
<circle cx="7" cy="150.1" r="3.0" fill="none" stroke="#fff" stroke-width="1.3" stroke-dasharray="1.75 1.39" opacity="0.95"/>
<circle cx="7" cy="150.1" r="2.1" fill="none" stroke="#fff" stroke-width="1.2" opacity="0.95"/></svg></div>
</body></html>
